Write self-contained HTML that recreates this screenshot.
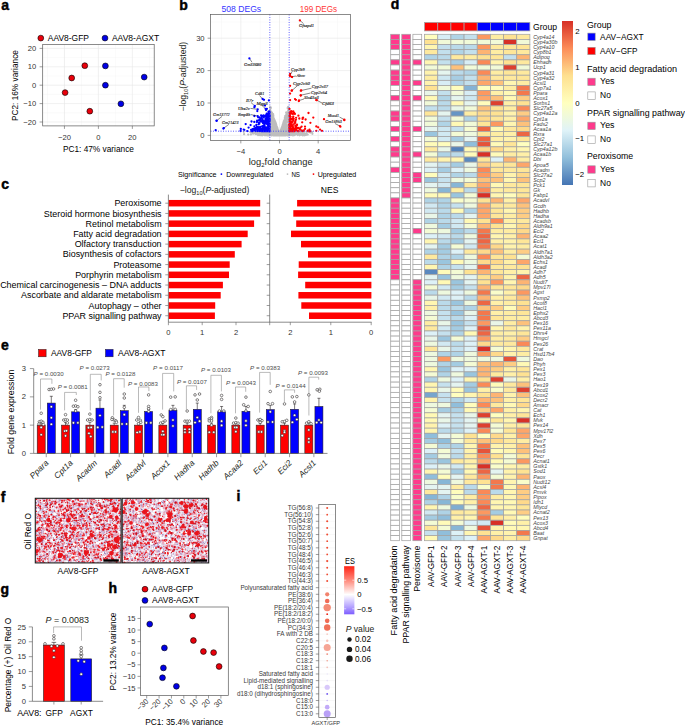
<!DOCTYPE html><html><head><meta charset="utf-8"><style>
html,body{margin:0;padding:0;background:#fff;width:685px;height:727px;overflow:hidden}
svg{display:block}
text{font-family:"Liberation Sans",sans-serif}
</style></head><body>
<svg width="685" height="727" viewBox="0 0 685 727">
<text x="1.20" y="9.60" font-size="14" font-weight="bold" fill="#000" stroke="#000" stroke-width="0.45">a</text>
<circle cx="40.80" cy="38.10" r="2.90" fill="#e8000b" stroke="#000" stroke-width="0.6"/>
<text x="47.80" y="41.00" font-size="8.3" textLength="41.20" lengthAdjust="spacingAndGlyphs">AAV8-GFP</text>
<circle cx="105.00" cy="38.10" r="2.90" fill="#0000e6" stroke="#000" stroke-width="0.6"/>
<text x="111.90" y="41.00" font-size="8.3" textLength="47.30" lengthAdjust="spacingAndGlyphs">AAV8-AGXT</text>
<line x1="47.48" y1="44.60" x2="47.48" y2="125.90" stroke="#f2f2f2" stroke-width="0.4"/>
<line x1="81.43" y1="44.60" x2="81.43" y2="125.90" stroke="#f2f2f2" stroke-width="0.4"/>
<line x1="115.38" y1="44.60" x2="115.38" y2="125.90" stroke="#f2f2f2" stroke-width="0.4"/>
<line x1="149.32" y1="44.60" x2="149.32" y2="125.90" stroke="#f2f2f2" stroke-width="0.4"/>
<line x1="42.70" y1="57.60" x2="154.20" y2="57.60" stroke="#f2f2f2" stroke-width="0.4"/>
<line x1="42.70" y1="76.00" x2="154.20" y2="76.00" stroke="#f2f2f2" stroke-width="0.4"/>
<line x1="42.70" y1="94.40" x2="154.20" y2="94.40" stroke="#f2f2f2" stroke-width="0.4"/>
<line x1="42.70" y1="112.80" x2="154.20" y2="112.80" stroke="#f2f2f2" stroke-width="0.4"/>
<line x1="64.45" y1="44.60" x2="64.45" y2="125.90" stroke="#e6e6e6" stroke-width="0.6"/>
<line x1="98.40" y1="44.60" x2="98.40" y2="125.90" stroke="#e6e6e6" stroke-width="0.6"/>
<line x1="132.35" y1="44.60" x2="132.35" y2="125.90" stroke="#e6e6e6" stroke-width="0.6"/>
<line x1="42.70" y1="48.40" x2="154.20" y2="48.40" stroke="#e6e6e6" stroke-width="0.6"/>
<line x1="42.70" y1="66.80" x2="154.20" y2="66.80" stroke="#e6e6e6" stroke-width="0.6"/>
<line x1="42.70" y1="85.20" x2="154.20" y2="85.20" stroke="#e6e6e6" stroke-width="0.6"/>
<line x1="42.70" y1="103.60" x2="154.20" y2="103.60" stroke="#e6e6e6" stroke-width="0.6"/>
<line x1="42.70" y1="122.00" x2="154.20" y2="122.00" stroke="#e6e6e6" stroke-width="0.6"/>
<rect x="42.70" y="44.60" width="111.50" height="81.30" fill="none" stroke="#5a5a5a" stroke-width="0.7"/>
<line x1="39.60" y1="48.40" x2="42.70" y2="48.40" stroke="#5a5a5a" stroke-width="0.6"/>
<text x="36.20" y="51.00" font-size="7.6" text-anchor="end" fill="#333">20</text>
<line x1="39.60" y1="66.80" x2="42.70" y2="66.80" stroke="#5a5a5a" stroke-width="0.6"/>
<text x="36.20" y="69.40" font-size="7.6" text-anchor="end" fill="#333">10</text>
<line x1="39.60" y1="85.20" x2="42.70" y2="85.20" stroke="#5a5a5a" stroke-width="0.6"/>
<text x="36.20" y="87.80" font-size="7.6" text-anchor="end" fill="#333">0</text>
<line x1="39.60" y1="103.60" x2="42.70" y2="103.60" stroke="#5a5a5a" stroke-width="0.6"/>
<text x="36.20" y="106.20" font-size="7.6" text-anchor="end" fill="#333">−10</text>
<line x1="39.60" y1="122.00" x2="42.70" y2="122.00" stroke="#5a5a5a" stroke-width="0.6"/>
<text x="36.20" y="124.60" font-size="7.6" text-anchor="end" fill="#333">−20</text>
<line x1="64.45" y1="125.90" x2="64.45" y2="128.90" stroke="#5a5a5a" stroke-width="0.6"/>
<text x="64.45" y="139.90" font-size="7.6" text-anchor="middle" fill="#333">−20</text>
<line x1="98.40" y1="125.90" x2="98.40" y2="128.90" stroke="#5a5a5a" stroke-width="0.6"/>
<text x="98.40" y="139.90" font-size="7.6" text-anchor="middle" fill="#333">0</text>
<line x1="132.35" y1="125.90" x2="132.35" y2="128.90" stroke="#5a5a5a" stroke-width="0.6"/>
<text x="132.35" y="139.90" font-size="7.6" text-anchor="middle" fill="#333">20</text>
<text x="98.40" y="151.60" font-size="8.3" text-anchor="middle">PC1: 47% variance</text>
<text x="18.00" y="85.60" font-size="8.3" text-anchor="middle" transform="rotate(-90 18.00 85.60)">PC2: 16% variance</text>
<circle cx="84.80" cy="65.70" r="2.90" fill="#e8000b" stroke="#000" stroke-width="0.6"/>
<circle cx="71.70" cy="78.00" r="2.90" fill="#e8000b" stroke="#000" stroke-width="0.6"/>
<circle cx="65.10" cy="92.60" r="2.90" fill="#e8000b" stroke="#000" stroke-width="0.6"/>
<circle cx="89.80" cy="111.20" r="2.90" fill="#e8000b" stroke="#000" stroke-width="0.6"/>
<circle cx="105.40" cy="65.90" r="2.90" fill="#0000e6" stroke="#000" stroke-width="0.6"/>
<circle cx="105.40" cy="85.20" r="2.90" fill="#0000e6" stroke="#000" stroke-width="0.6"/>
<circle cx="120.90" cy="103.80" r="2.90" fill="#0000e6" stroke="#000" stroke-width="0.6"/>
<circle cx="144.20" cy="77.10" r="2.90" fill="#0000e6" stroke="#000" stroke-width="0.6"/>
<text x="179.30" y="9.60" font-size="14" font-weight="bold" fill="#000" stroke="#000" stroke-width="0.45">b</text>
<text x="221.40" y="12.20" font-size="8.6" fill="#3535ff" textLength="39.80" lengthAdjust="spacingAndGlyphs">508 DEGs</text>
<text x="299.80" y="12.20" font-size="8.6" fill="#ff3535" textLength="37.30" lengthAdjust="spacingAndGlyphs">199 DEGs</text>
<line x1="221.48" y1="14.50" x2="221.48" y2="140.40" stroke="#f2f2f2" stroke-width="0.4"/>
<line x1="260.16" y1="14.50" x2="260.16" y2="140.40" stroke="#f2f2f2" stroke-width="0.4"/>
<line x1="298.84" y1="14.50" x2="298.84" y2="140.40" stroke="#f2f2f2" stroke-width="0.4"/>
<line x1="337.52" y1="14.50" x2="337.52" y2="140.40" stroke="#f2f2f2" stroke-width="0.4"/>
<line x1="210.60" y1="119.20" x2="350.60" y2="119.20" stroke="#f2f2f2" stroke-width="0.4"/>
<line x1="210.60" y1="86.80" x2="350.60" y2="86.80" stroke="#f2f2f2" stroke-width="0.4"/>
<line x1="210.60" y1="54.40" x2="350.60" y2="54.40" stroke="#f2f2f2" stroke-width="0.4"/>
<line x1="210.60" y1="22.00" x2="350.60" y2="22.00" stroke="#f2f2f2" stroke-width="0.4"/>
<line x1="240.82" y1="14.50" x2="240.82" y2="140.40" stroke="#e6e6e6" stroke-width="0.6"/>
<line x1="279.50" y1="14.50" x2="279.50" y2="140.40" stroke="#e6e6e6" stroke-width="0.6"/>
<line x1="318.18" y1="14.50" x2="318.18" y2="140.40" stroke="#e6e6e6" stroke-width="0.6"/>
<line x1="210.60" y1="135.40" x2="350.60" y2="135.40" stroke="#e6e6e6" stroke-width="0.6"/>
<line x1="210.60" y1="103.00" x2="350.60" y2="103.00" stroke="#e6e6e6" stroke-width="0.6"/>
<line x1="210.60" y1="70.60" x2="350.60" y2="70.60" stroke="#e6e6e6" stroke-width="0.6"/>
<line x1="210.60" y1="38.20" x2="350.60" y2="38.20" stroke="#e6e6e6" stroke-width="0.6"/>
<path d="M278.3 132.7h0M282.0 135.2h0M275.0 135.2h0M278.5 133.7h0M284.5 135.1h0M280.7 135.3h0M271.4 134.2h0M283.6 134.0h0M271.3 122.8h0M271.1 128.2h0M281.0 130.9h0M279.3 134.9h0M281.0 134.4h0M281.4 130.4h0M282.2 130.8h0M285.3 131.0h0M277.8 135.3h0M279.0 135.1h0M277.3 134.1h0M274.9 128.6h0M275.6 126.4h0M280.7 132.5h0M279.7 134.2h0M285.8 117.9h0M279.0 131.9h0M275.5 134.9h0M272.4 134.0h0M283.5 130.9h0M286.5 119.5h0M281.3 132.6h0M282.5 129.7h0M276.5 130.9h0M274.8 123.6h0M276.9 127.5h0M272.5 135.0h0M280.7 132.5h0M270.3 113.9h0M273.3 130.4h0M279.0 134.3h0M278.6 135.1h0M280.7 131.9h0M280.6 135.2h0M279.6 133.0h0M284.3 135.0h0M273.7 119.3h0M281.4 130.3h0M282.1 133.1h0M276.6 133.3h0M288.6 133.7h0M271.4 133.3h0M279.9 134.2h0M283.0 130.2h0M279.5 134.6h0M279.9 134.6h0M271.3 124.8h0M274.7 127.7h0M278.8 132.0h0M278.1 131.5h0M285.6 130.4h0M273.4 130.2h0M285.0 135.1h0M283.7 135.2h0M280.2 134.6h0M282.3 135.3h0M282.3 135.1h0M279.5 134.8h0M287.3 133.8h0M281.1 134.6h0M276.9 135.0h0M283.3 125.8h0M284.9 129.4h0M279.3 135.3h0M283.0 133.8h0M282.2 128.7h0M280.1 132.0h0M280.4 133.7h0M283.2 135.3h0M284.3 129.3h0M289.1 118.6h0M278.2 134.7h0M277.5 130.7h0M281.7 132.5h0M280.3 135.0h0M275.2 125.2h0M288.9 114.5h0M278.6 132.2h0M279.3 134.2h0M276.0 133.0h0M280.6 134.7h0M279.7 135.0h0M275.2 131.2h0M270.1 107.1h0M283.9 133.9h0M278.2 134.8h0M280.6 133.1h0M282.6 126.7h0M282.5 130.2h0M274.8 124.5h0M285.6 117.5h0M283.1 127.2h0M279.5 135.2h0M274.0 122.5h0M275.2 121.9h0M287.0 128.9h0M270.0 117.6h0M286.3 133.8h0M281.4 129.5h0M281.5 130.3h0M285.0 117.7h0M286.7 122.2h0M275.9 134.8h0M284.4 135.4h0M286.4 126.4h0M278.2 130.7h0M270.5 113.7h0M283.5 134.1h0M279.5 135.1h0M283.5 129.5h0M279.2 135.2h0M284.5 121.0h0M276.3 130.6h0M283.8 123.4h0M270.0 125.2h0M284.7 128.8h0M278.6 134.1h0M279.4 135.2h0M288.2 133.3h0M279.7 134.4h0M278.5 134.6h0M273.4 127.8h0M271.5 134.4h0M276.6 131.4h0M279.5 133.4h0M283.4 130.8h0M271.9 112.6h0M276.4 132.4h0M275.1 130.2h0M275.8 128.4h0M273.8 129.1h0M281.3 129.5h0M276.4 126.1h0M270.1 131.6h0M270.6 133.9h0M275.3 134.8h0M277.7 134.6h0M280.2 135.3h0M275.4 124.0h0M272.1 133.8h0M278.0 135.1h0M272.6 115.7h0M282.8 125.2h0M278.8 134.4h0M270.6 133.5h0M280.7 134.0h0M275.1 134.2h0M279.1 134.8h0M279.3 134.1h0M278.6 134.1h0M283.8 128.4h0M280.0 134.1h0M288.1 107.8h0M285.0 134.8h0M279.4 133.3h0M280.9 134.6h0M283.0 125.5h0M283.2 126.5h0M279.4 132.7h0M282.2 131.5h0M278.9 135.3h0M277.5 131.4h0M277.8 129.8h0M280.3 133.2h0M280.1 132.3h0M277.6 135.3h0M283.0 133.2h0M275.5 130.0h0M282.9 134.9h0M277.8 133.0h0M279.7 135.2h0M281.8 135.3h0M280.7 134.5h0M283.5 126.8h0M278.1 135.0h0M285.0 131.7h0M283.1 135.4h0M279.9 133.2h0M276.5 132.2h0M278.5 131.3h0M286.5 128.6h0M285.0 129.0h0M281.9 132.4h0M275.3 127.6h0M283.9 124.4h0M279.0 133.3h0M276.3 133.2h0M275.8 135.2h0M280.8 132.1h0M280.8 134.7h0M280.6 131.8h0M281.2 130.2h0M277.6 134.6h0M276.0 133.6h0M276.8 132.7h0M280.2 134.9h0M287.0 132.3h0M276.4 125.8h0M277.8 135.4h0M283.7 132.1h0M273.9 133.7h0M280.4 133.8h0M283.3 135.1h0M279.6 134.6h0M280.5 134.6h0M279.8 135.0h0M274.4 124.4h0M276.5 130.1h0M277.4 133.6h0M273.1 114.2h0M284.1 127.6h0M285.8 135.2h0M284.7 126.8h0M270.7 117.3h0M280.5 133.7h0M277.1 132.4h0M283.9 124.5h0M272.0 123.8h0M285.2 124.4h0M274.9 133.7h0M282.0 133.6h0M280.0 135.3h0M282.7 130.2h0M274.2 126.7h0M277.1 135.4h0M274.4 123.4h0M279.4 134.2h0M273.8 125.2h0M286.7 132.3h0M282.7 135.2h0M278.7 135.0h0M287.3 118.2h0M285.1 131.0h0M278.6 134.0h0M276.2 130.1h0M272.0 121.9h0M281.9 134.4h0M280.8 132.1h0M277.4 135.4h0M285.4 135.1h0M278.7 132.9h0M286.7 121.7h0M278.0 133.6h0M285.1 129.4h0M287.0 133.1h0M286.4 112.5h0M280.3 134.1h0M279.1 132.9h0M284.7 133.0h0M278.4 134.9h0M282.6 130.8h0M278.4 135.1h0M274.0 121.9h0M277.7 133.0h0M285.2 133.3h0M274.6 121.6h0M278.4 135.4h0M279.6 134.4h0M275.6 134.7h0M280.7 134.4h0M275.8 135.4h0M288.0 116.6h0M280.8 130.7h0M277.4 131.0h0M282.8 133.0h0M277.2 133.4h0M285.9 130.7h0M279.5 134.6h0M279.3 135.3h0M281.0 131.0h0M277.0 134.3h0M285.6 127.9h0M281.2 129.5h0M283.8 123.6h0M282.1 127.8h0M273.2 115.9h0M272.2 135.1h0M277.2 130.4h0M271.8 121.6h0M282.0 134.1h0M285.0 129.5h0M282.8 133.2h0M277.2 127.7h0M287.1 131.9h0M277.2 132.2h0M276.1 132.6h0M280.9 134.9h0M282.0 128.1h0M276.1 125.8h0M279.6 132.5h0M277.0 134.7h0M280.3 135.3h0M278.3 134.8h0M281.3 134.6h0M270.3 116.7h0M275.2 131.7h0M274.4 131.5h0M282.5 133.4h0M283.1 124.2h0M281.0 135.1h0M272.7 116.8h0M279.4 135.1h0M279.0 134.5h0M283.1 131.9h0M288.5 111.9h0M276.8 135.4h0M286.9 113.6h0M281.0 133.5h0M279.4 134.7h0M279.5 132.8h0M283.8 121.7h0M271.0 131.8h0M281.7 132.6h0M281.3 131.8h0M286.7 122.5h0M276.7 129.2h0M273.6 135.2h0M281.1 131.2h0M280.7 132.8h0M285.8 134.4h0M279.4 133.7h0M286.4 134.5h0M284.8 127.5h0M282.0 133.3h0M280.6 135.4h0M286.0 131.8h0M271.5 112.4h0M282.5 132.2h0M279.8 132.3h0M283.1 128.4h0M279.1 134.2h0M280.4 132.9h0M276.2 129.6h0M281.3 129.6h0M279.7 134.8h0M280.8 134.0h0M278.2 131.6h0M276.6 129.2h0M276.2 125.1h0M279.4 134.9h0M281.0 134.8h0M276.3 128.5h0M276.2 131.6h0M285.2 133.4h0M273.3 116.1h0M283.1 134.7h0M276.9 126.9h0M281.6 135.0h0M281.1 133.9h0M280.0 132.3h0M285.3 115.9h0M274.3 119.8h0M278.0 130.2h0M282.2 129.5h0M286.5 129.8h0M280.9 134.1h0M278.1 135.4h0M282.1 134.1h0M272.3 134.3h0M289.0 132.7h0M273.9 121.6h0M286.5 128.5h0M284.7 131.5h0M281.2 130.0h0M281.1 130.3h0M283.8 135.3h0M272.0 118.0h0M284.2 135.3h0M281.2 129.9h0M279.9 135.0h0M279.3 134.8h0M273.3 116.0h0M276.7 129.8h0M277.0 133.9h0M279.4 133.5h0M279.9 132.4h0M271.8 135.3h0M270.9 132.1h0M270.1 128.5h0M281.4 134.6h0M274.4 120.3h0M281.9 134.8h0M282.1 129.0h0M272.0 117.8h0M276.1 133.4h0M276.8 133.4h0M279.9 135.1h0M277.6 130.9h0M279.5 135.4h0M281.3 132.8h0M273.3 118.0h0M289.1 131.5h0M281.4 133.0h0M280.6 132.5h0M276.2 132.5h0M280.7 133.0h0M275.8 126.0h0M272.4 122.1h0M286.2 131.8h0M285.9 126.2h0M274.0 133.8h0M285.2 133.1h0M279.6 132.9h0M282.3 131.3h0M277.3 127.8h0M283.8 130.3h0M280.5 132.9h0M288.2 107.0h0M283.9 124.7h0M282.8 127.1h0M280.7 134.6h0M278.8 135.2h0M284.3 128.3h0M288.8 128.9h0M283.0 133.9h0M275.6 126.6h0M281.7 132.0h0M278.7 133.4h0M280.4 135.2h0M284.0 134.0h0M279.3 133.8h0M286.0 133.4h0M283.8 127.5h0M279.8 135.1h0M278.3 131.8h0M282.5 131.4h0M281.6 133.6h0M280.4 133.6h0M278.1 135.0h0M277.9 131.9h0M276.2 133.5h0M281.6 128.5h0M277.1 133.7h0M285.3 130.2h0M286.1 133.4h0M271.1 132.7h0M286.4 117.9h0M279.9 134.5h0M283.5 134.5h0M275.9 135.4h0M272.9 116.1h0M277.3 135.2h0M276.2 131.5h0M276.3 134.8h0M278.3 130.9h0M285.2 134.7h0M270.8 108.0h0M280.0 135.1h0M287.6 108.1h0M287.8 125.7h0M286.2 115.8h0M283.1 129.6h0M280.8 131.7h0M277.0 134.5h0M271.8 115.2h0M284.8 134.0h0M280.5 133.7h0M284.3 131.7h0M282.1 130.0h0M282.0 128.1h0M285.5 122.1h0M281.1 135.4h0M280.8 133.0h0M277.4 132.5h0M276.6 132.8h0M276.5 131.0h0M273.2 129.0h0M282.7 132.4h0M286.1 127.7h0M280.5 134.9h0M280.2 134.2h0M271.1 133.2h0M277.2 135.0h0M279.9 134.4h0M283.9 130.2h0M282.3 135.3h0M278.2 132.1h0M278.0 131.4h0M277.9 133.2h0M279.4 134.7h0M282.0 128.7h0M278.7 131.3h0M278.5 135.0h0M270.7 107.4h0M270.2 133.5h0M280.1 132.7h0M281.1 134.1h0M278.7 132.7h0M285.1 132.7h0M288.2 114.2h0M283.0 125.2h0M284.0 134.0h0M279.0 134.8h0M285.2 135.3h0M280.7 130.9h0M282.1 130.5h0M281.8 129.9h0M277.7 135.1h0M272.8 130.4h0M278.2 131.1h0M273.5 118.7h0M277.3 135.1h0M286.3 129.7h0M279.2 133.1h0M278.1 133.0h0M286.1 120.5h0M276.7 129.4h0M280.6 135.3h0M281.1 132.4h0M276.2 124.7h0M273.4 131.8h0M275.8 135.4h0M282.2 131.1h0M280.1 134.3h0M274.0 133.4h0M278.7 133.2h0M279.8 134.7h0M279.5 135.3h0M277.4 132.1h0M282.2 131.3h0M281.4 133.2h0M286.0 134.3h0M282.8 134.8h0M278.1 135.2h0M273.2 120.6h0M272.0 128.8h0M279.4 133.9h0M280.2 133.7h0M275.4 131.4h0M285.1 118.4h0M279.1 132.5h0M275.9 135.3h0M274.7 133.6h0M278.5 135.3h0M279.6 134.2h0M278.8 131.7h0M281.5 132.0h0M282.0 132.3h0M273.9 134.0h0M272.6 131.4h0M279.0 132.4h0M280.9 131.5h0M279.4 133.1h0M279.0 133.0h0M271.7 127.2h0M281.2 134.7h0M282.3 135.3h0M281.7 133.9h0M279.5 133.1h0M272.0 119.9h0M278.9 134.3h0M285.6 121.0h0M275.7 129.1h0M278.9 131.9h0M281.6 135.4h0M285.6 133.1h0M279.1 133.1h0M273.1 117.5h0M277.8 130.0h0M282.6 130.2h0M277.0 127.2h0M272.8 128.1h0M283.5 125.0h0M273.2 129.2h0M278.5 134.6h0M273.3 133.4h0M278.1 130.6h0M278.1 135.1h0M281.8 128.4h0M279.9 134.7h0M280.2 135.4h0M280.4 132.9h0M274.5 125.0h0M273.9 135.1h0M275.6 126.0h0M277.0 129.2h0M280.9 131.0h0M278.4 131.1h0M281.7 134.7h0M278.7 135.2h0M288.7 114.3h0M281.5 131.8h0M282.6 133.8h0M273.4 134.8h0M286.1 133.3h0M284.2 132.6h0M278.6 134.8h0M280.0 134.9h0M278.5 134.6h0M275.0 121.3h0M270.1 121.4h0M279.3 135.4h0M275.1 125.5h0M282.2 133.6h0M277.8 134.8h0M273.7 120.0h0M287.0 133.6h0M284.3 135.4h0M281.9 127.4h0M287.3 135.4h0M273.9 122.1h0M279.8 135.1h0M275.0 124.3h0M279.7 135.0h0M283.2 134.2h0M278.1 132.2h0M277.2 131.4h0M279.5 135.3h0M281.3 130.9h0M272.2 123.0h0M276.5 132.9h0M283.4 124.8h0M288.2 135.3h0M284.7 133.8h0M278.6 133.9h0M286.2 116.6h0M280.1 134.0h0M284.8 123.8h0M279.6 134.8h0M272.5 131.0h0M284.7 126.1h0M287.2 118.3h0M282.0 129.6h0M284.0 128.8h0M283.3 125.1h0M283.3 133.9h0M281.0 132.0h0M283.3 125.7h0M281.1 134.7h0M281.8 133.9h0M276.7 133.6h0M279.1 135.1h0M287.2 134.5h0M278.3 130.6h0M283.3 123.2h0M282.3 128.7h0M279.0 135.1h0M274.4 126.7h0M282.1 133.3h0M281.5 135.4h0M272.6 121.8h0M284.6 129.5h0M275.9 134.8h0M275.5 129.3h0M272.9 116.1h0M284.0 131.3h0M272.3 128.7h0M275.9 134.1h0M277.8 131.1h0M271.3 112.7h0M276.5 132.4h0M273.2 131.7h0M278.0 133.8h0M277.9 131.3h0M277.9 134.7h0M272.9 129.2h0M273.0 129.7h0M281.4 131.7h0M282.3 130.5h0M278.2 131.8h0M275.2 121.9h0M283.1 135.3h0M276.7 129.1h0M278.7 131.7h0M277.3 132.1h0M279.2 134.1h0M278.3 132.8h0M273.8 121.1h0M274.6 120.4h0M278.8 135.0h0M277.6 130.8h0M275.1 134.8h0M284.0 135.2h0M279.1 134.9h0M278.9 134.4h0M280.0 134.4h0M278.1 134.6h0M275.2 133.9h0M278.9 133.9h0M273.6 121.2h0M276.9 135.0h0M281.6 130.4h0M282.0 132.7h0M273.1 126.3h0M281.4 134.0h0M287.4 114.9h0M281.7 134.2h0M274.5 128.7h0M286.0 130.8h0M286.0 118.2h0M279.0 134.9h0M284.2 131.1h0M279.6 133.5h0M279.8 134.9h0M279.6 134.4h0M283.6 131.6h0M274.9 132.1h0M274.1 119.4h0M280.5 131.9h0M278.2 130.8h0M280.1 132.6h0M276.9 131.0h0M280.2 131.7h0M279.6 133.8h0M279.5 135.2h0M281.7 134.5h0M280.2 135.2h0M275.1 123.0h0M280.3 132.0h0M276.7 130.9h0M280.9 130.7h0M272.5 118.5h0M281.2 131.8h0M276.8 131.9h0M279.2 132.7h0M274.3 128.3h0M279.2 135.2h0M283.0 131.4h0M284.6 134.5h0M281.4 133.0h0M273.5 119.2h0M279.6 135.4h0M282.4 131.3h0M274.9 127.3h0M282.0 133.1h0M275.6 123.2h0M285.6 124.9h0M282.6 135.4h0M273.8 118.5h0M274.8 132.5h0M285.2 128.9h0M278.8 132.1h0M287.0 122.5h0M281.1 134.2h0M282.5 132.2h0M276.0 131.0h0M279.9 134.4h0M276.2 132.4h0M271.0 130.8h0M276.5 127.9h0M274.8 133.2h0M282.8 131.5h0M286.5 118.6h0M278.4 134.5h0M277.8 132.6h0M283.2 129.2h0M279.8 133.4h0M278.1 130.9h0M278.0 134.5h0M279.1 135.4h0M283.5 129.2h0M287.5 115.8h0M285.1 126.3h0M275.9 129.6h0M277.3 131.2h0M273.4 133.4h0M276.8 129.5h0M274.9 134.9h0M280.1 132.9h0M280.7 131.0h0M276.9 128.9h0M275.7 126.6h0M276.0 133.5h0M278.1 133.9h0M277.4 131.6h0M284.2 121.6h0M285.4 135.2h0M281.6 135.1h0M281.8 128.4h0M273.6 129.5h0M284.3 128.3h0M279.9 132.3h0M285.0 130.6h0M278.8 135.3h0M277.4 135.0h0M276.9 135.4h0M286.8 134.3h0M279.7 132.4h0M287.8 134.1h0M284.6 135.4h0M278.8 132.9h0M276.0 134.5h0M287.4 118.7h0M282.1 128.5h0M279.2 133.8h0M277.5 131.2h0M273.4 116.1h0M282.3 129.8h0M280.3 133.2h0M279.6 133.2h0M283.2 127.9h0M281.5 134.9h0M283.1 135.2h0M275.2 132.3h0M274.9 126.9h0M277.1 135.0h0M280.8 132.6h0M275.1 128.2h0M275.3 125.9h0M281.9 128.0h0M280.8 134.5h0M273.4 135.1h0M286.9 116.1h0M278.3 134.4h0M270.6 122.0h0M271.3 130.5h0M270.4 128.7h0M283.9 127.2h0M271.2 114.5h0M273.4 132.3h0M283.3 132.0h0M279.5 134.1h0M283.6 135.3h0M270.3 113.5h0M283.2 130.2h0M270.5 131.3h0M284.7 125.6h0M272.4 114.3h0M278.3 133.4h0M281.2 131.0h0M282.0 127.9h0M287.2 132.4h0M273.8 129.4h0M275.0 134.0h0M279.3 133.2h0M287.6 126.6h0M287.0 117.9h0M284.1 133.7h0M270.5 111.4h0M274.6 129.3h0M273.1 133.6h0M280.4 135.0h0M282.7 133.1h0M286.3 125.6h0M274.7 134.5h0M282.9 135.3h0M284.2 134.9h0M279.4 133.9h0M280.2 133.6h0M276.8 133.6h0M278.5 135.4h0M279.4 132.4h0M283.2 130.2h0M275.3 133.6h0M280.4 131.3h0M274.5 124.3h0M284.7 133.2h0M274.5 133.9h0M280.4 135.4h0M281.3 132.7h0M283.2 124.3h0M275.6 124.4h0M285.5 130.4h0M282.1 135.0h0M283.1 130.4h0M278.6 133.1h0M286.4 129.6h0M277.6 133.3h0M286.2 112.7h0M285.4 135.2h0M279.3 132.8h0M284.0 122.7h0M280.3 132.5h0M278.2 132.3h0M271.0 135.0h0M274.0 123.3h0M286.2 131.6h0M276.8 131.3h0M279.6 134.8h0M277.2 134.4h0M283.4 134.5h0M283.4 133.9h0M284.0 135.4h0M285.2 123.9h0M279.9 132.3h0M280.7 134.9h0M288.4 111.2h0M275.6 134.7h0M277.4 128.9h0M280.2 132.3h0M275.8 133.0h0M275.7 126.0h0M272.8 134.2h0M280.5 134.9h0M286.7 125.3h0M282.2 134.9h0M282.1 133.1h0M276.7 134.8h0M278.3 134.4h0M288.7 133.4h0M275.3 123.5h0M279.7 135.3h0M281.1 130.2h0M279.3 133.7h0M280.8 134.6h0M284.8 133.1h0M280.9 130.0h0M283.9 121.1h0M281.5 134.3h0M278.5 131.5h0M286.8 131.4h0M282.3 126.5h0M288.2 129.7h0M280.4 135.2h0M288.6 124.4h0M279.6 135.2h0M273.6 126.9h0M283.7 134.7h0M283.0 128.5h0M287.0 133.1h0M281.3 132.3h0M280.5 133.8h0M279.0 133.7h0M282.7 129.0h0M281.9 134.7h0M273.6 135.1h0M279.0 133.2h0M274.6 135.2h0M281.1 130.7h0M275.4 124.7h0M278.6 131.7h0M279.5 134.4h0M282.1 134.7h0M276.8 128.5h0M277.6 133.8h0M281.6 132.0h0M285.4 129.6h0M279.7 134.3h0M285.1 121.8h0M284.8 121.3h0M276.2 132.9h0M286.4 120.1h0M288.6 108.5h0M283.2 131.2h0M273.6 127.6h0M279.0 135.4h0M282.9 134.5h0M278.8 135.3h0M279.5 135.4h0M288.4 134.5h0M278.5 135.4h0M276.5 130.8h0M274.3 125.2h0M276.8 135.1h0M284.7 135.2h0M273.9 134.6h0M273.8 132.6h0M279.7 135.3h0M277.3 132.0h0M281.0 130.9h0M283.3 127.4h0M284.5 134.3h0M284.7 131.2h0M272.6 117.4h0M274.7 121.0h0M278.7 132.6h0M277.6 134.1h0M282.5 132.5h0M288.2 110.3h0M278.5 132.0h0M280.4 133.8h0M278.2 130.4h0M282.9 132.4h0M278.0 132.5h0M275.6 135.2h0M284.0 131.2h0M278.5 135.2h0M279.5 132.6h0M281.4 132.0h0M270.8 111.4h0M280.5 133.1h0M278.7 134.8h0M277.8 132.9h0M276.0 125.3h0M276.8 132.1h0M277.0 133.0h0M283.3 133.3h0M278.3 132.8h0M284.2 120.9h0M284.0 130.0h0M278.9 133.9h0M284.9 134.4h0M281.3 134.4h0M281.3 133.7h0M278.6 135.3h0M283.0 130.8h0M283.0 130.4h0M273.9 125.6h0M281.8 132.9h0M286.8 125.3h0M275.4 133.1h0M276.0 134.0h0M280.5 134.3h0M285.2 126.9h0M284.0 123.6h0M279.8 135.0h0M274.2 132.7h0M277.5 128.6h0M277.2 134.9h0M287.5 134.9h0M283.1 135.2h0M275.7 132.4h0M272.2 134.5h0M282.4 134.4h0M287.2 133.8h0M277.5 134.0h0M275.1 128.5h0M285.3 120.2h0M282.0 130.0h0M274.2 124.2h0M279.8 133.1h0M274.0 124.5h0M281.7 129.3h0M278.2 135.4h0M280.1 134.1h0M273.1 115.0h0M275.0 125.1h0M277.3 129.2h0M275.8 131.7h0M276.6 132.4h0M278.8 134.4h0M275.5 130.0h0M276.3 128.1h0M282.3 128.0h0M274.3 134.0h0M279.5 134.9h0M283.4 129.8h0M284.5 135.0h0M283.3 125.9h0M277.4 129.9h0M282.7 132.5h0M278.7 131.7h0M281.0 133.0h0M279.6 134.3h0M286.8 125.5h0M275.5 122.4h0M273.7 124.4h0M278.9 134.5h0M275.4 132.6h0M284.6 120.0h0M276.9 135.1h0M274.2 131.4h0M274.5 128.2h0M283.1 125.6h0M284.9 130.1h0M278.3 132.9h0M283.9 129.8h0M279.4 133.2h0M281.5 128.5h0M283.2 126.3h0M277.2 128.7h0M279.3 133.6h0M285.8 117.6h0M272.6 133.9h0M278.1 133.4h0M285.1 133.9h0M282.3 131.0h0M285.7 131.0h0M286.4 135.2h0M279.2 134.5h0M280.5 132.8h0M275.5 135.4h0M276.4 130.8h0M288.3 119.7h0M281.4 132.6h0M284.9 133.0h0M275.9 123.7h0M274.8 128.6h0M277.4 134.9h0M280.8 131.9h0M281.2 135.0h0M280.9 133.3h0M282.5 128.3h0M273.5 135.1h0M287.8 130.1h0M280.2 133.1h0M277.7 134.5h0M281.8 135.1h0M284.8 131.8h0M275.9 131.8h0M278.3 131.1h0M280.6 133.3h0M284.5 127.3h0M278.2 134.7h0M288.5 130.3h0M282.5 126.8h0M281.2 132.5h0M275.7 123.8h0M273.5 130.5h0M279.8 133.4h0M280.2 132.1h0M283.6 130.9h0M280.5 135.1h0M276.0 133.0h0M284.5 132.8h0M287.1 134.4h0M274.8 131.5h0M278.5 135.3h0M286.0 130.8h0M285.8 132.8h0M280.9 134.8h0M283.2 135.3h0M277.2 134.9h0M275.7 128.0h0M282.7 127.4h0M281.6 135.1h0M270.9 114.6h0M282.7 134.7h0M274.8 131.9h0M285.7 115.9h0M282.6 131.7h0M285.4 129.3h0M284.6 133.1h0M285.0 119.6h0M275.6 133.8h0M277.1 131.5h0M281.8 135.1h0M289.0 124.8h0M275.8 127.2h0M278.5 134.3h0M276.1 133.4h0M274.3 131.2h0M282.1 128.6h0M281.1 134.3h0M278.3 133.3h0M277.5 133.9h0M275.4 135.2h0M279.5 134.9h0M279.9 133.4h0M282.0 134.1h0M270.8 115.7h0M285.5 118.6h0M281.2 134.5h0M277.5 135.4h0M276.4 133.3h0M273.0 129.6h0M275.4 133.8h0M273.2 118.8h0M275.4 134.4h0M285.0 134.7h0M286.2 121.7h0M275.4 135.3h0M282.3 134.6h0M280.2 134.7h0M278.5 134.6h0M280.4 133.1h0M283.5 129.8h0M287.9 117.9h0M279.3 133.7h0M284.7 131.9h0M288.7 115.7h0M279.6 134.9h0M288.6 121.7h0M282.0 135.3h0M279.6 133.3h0M281.8 134.6h0M286.4 134.8h0M275.4 127.6h0M273.2 119.4h0M284.5 133.0h0M286.4 114.3h0M285.8 123.3h0M278.8 133.5h0M270.4 126.6h0M286.6 128.6h0M282.0 132.3h0M281.8 130.2h0M278.4 135.4h0M276.9 134.3h0M271.1 123.8h0M286.3 126.2h0M278.2 134.7h0M283.7 131.7h0M281.2 134.8h0M278.5 132.7h0M281.9 130.9h0M279.8 134.2h0M283.1 131.9h0M283.6 133.2h0M277.7 130.1h0M283.4 132.9h0M284.3 123.7h0M271.7 133.5h0M277.1 130.9h0M275.1 125.8h0M276.4 127.6h0M282.5 133.3h0M282.1 134.6h0M283.1 134.4h0M281.0 132.1h0M277.3 134.0h0M280.3 134.1h0M277.6 135.3h0M281.7 135.4h0M287.5 134.7h0M279.1 133.3h0M285.7 134.7h0M278.7 134.0h0M276.6 131.6h0M280.8 135.4h0M285.6 125.2h0M276.1 125.4h0M277.4 134.5h0M276.5 134.9h0M287.7 113.2h0M280.9 134.5h0M282.2 128.4h0M285.8 116.3h0M283.7 125.1h0M286.9 119.1h0M278.1 131.2h0M282.2 133.7h0M275.4 132.4h0M284.0 124.2h0M279.6 134.1h0M280.9 132.7h0M282.7 126.3h0M272.7 113.9h0M273.8 134.2h0M279.7 134.9h0M277.8 131.8h0M278.5 135.1h0M274.2 135.3h0M284.0 131.1h0M282.3 135.4h0M286.7 116.3h0M284.7 130.6h0M272.8 132.0h0M276.4 132.6h0M274.6 132.2h0M272.9 118.5h0M282.2 127.7h0M281.6 133.3h0M283.0 130.6h0M277.7 135.2h0M282.1 133.8h0M270.3 112.2h0M282.7 125.4h0M286.0 119.2h0M277.9 135.3h0M276.5 133.8h0M273.6 126.8h0M284.8 126.3h0M277.9 134.4h0M273.9 135.3h0M287.9 133.0h0M277.2 135.2h0M274.8 127.0h0M275.1 131.5h0M284.1 129.6h0M275.0 134.8h0M277.6 134.9h0M284.2 134.8h0M275.6 125.2h0M279.5 134.3h0M281.7 134.5h0M273.4 133.2h0M279.9 133.9h0M283.9 128.9h0M283.3 135.1h0M277.9 133.7h0M280.5 131.7h0M272.2 118.9h0M277.1 135.1h0M287.2 134.5h0M279.0 132.7h0M277.2 128.0h0M281.4 132.6h0M279.9 133.0h0M276.9 135.3h0M279.9 135.4h0M284.2 128.4h0M280.4 132.7h0M283.5 131.8h0M284.7 121.5h0M275.2 129.4h0M288.0 133.4h0M274.7 125.1h0M275.0 127.2h0M286.4 117.7h0M282.9 128.4h0M282.8 125.5h0M279.2 133.9h0M278.1 135.2h0M271.2 134.3h0M276.9 127.6h0M277.8 134.9h0M276.2 132.2h0M282.9 135.0h0M274.1 135.3h0M286.2 133.6h0M285.1 127.8h0M277.7 133.8h0M286.6 134.1h0M283.8 127.4h0M275.3 125.3h0M280.3 134.6h0M279.2 135.2h0M270.8 135.2h0M279.4 135.2h0M282.5 132.9h0M272.9 128.0h0M284.6 131.3h0M287.3 113.2h0M278.0 134.3h0M278.3 134.9h0M284.6 135.2h0M275.5 134.5h0M276.0 130.4h0M283.7 132.1h0M279.2 133.9h0M279.9 134.7h0M284.8 118.1h0M280.2 135.4h0M283.9 133.4h0M285.2 132.7h0M275.7 130.1h0M279.5 134.3h0M284.5 128.5h0M275.5 126.5h0M285.3 125.6h0M273.5 125.2h0M276.9 129.3h0M282.5 127.4h0M286.3 131.5h0M276.8 129.3h0M279.1 133.7h0M273.7 131.4h0M274.8 135.2h0M278.0 134.3h0M273.1 128.2h0M286.1 132.7h0M279.9 135.2h0M284.0 135.4h0M283.2 131.8h0M275.7 130.0h0M278.5 135.3h0M282.3 133.9h0M276.7 131.6h0M286.8 112.7h0M273.6 126.6h0M288.7 134.7h0M282.3 126.4h0M285.2 131.3h0M280.3 132.1h0M274.4 135.1h0M273.3 132.7h0M280.5 135.4h0M281.5 131.3h0M282.8 134.3h0M276.9 131.3h0M281.4 129.9h0M277.6 131.1h0M276.9 127.2h0M277.9 131.1h0M278.3 131.3h0M278.1 134.9h0M281.7 132.4h0M284.4 121.1h0M274.6 133.8h0M275.8 129.0h0M286.6 129.1h0M277.6 135.3h0M275.5 131.9h0M286.0 131.1h0M281.4 133.0h0M276.5 132.2h0M277.4 135.4h0M285.1 117.2h0M276.7 135.3h0M273.6 131.7h0M274.4 134.9h0M281.0 131.5h0M281.7 135.2h0M281.5 132.6h0M274.8 128.5h0M272.8 124.8h0M277.1 133.9h0M279.3 133.5h0M275.8 127.3h0M280.2 132.7h0M275.4 122.4h0M275.8 130.8h0M280.6 130.9h0M279.9 134.3h0M280.0 133.5h0M280.2 131.5h0M275.0 133.8h0M279.6 135.4h0M277.4 135.0h0M284.8 128.1h0M281.6 134.8h0M283.8 134.6h0M277.8 134.9h0M278.7 135.1h0M274.5 124.1h0M280.1 134.0h0M287.4 129.8h0M281.2 134.3h0M274.4 120.9h0M285.6 135.1h0M284.4 127.0h0M271.6 135.0h0M285.1 127.5h0M270.3 108.9h0M285.3 125.7h0M280.1 134.9h0M283.1 132.0h0M279.9 133.2h0M282.7 129.9h0M274.8 133.9h0M287.1 133.8h0M285.9 132.4h0M272.1 118.8h0M281.2 134.2h0M276.0 131.5h0M281.7 131.1h0M277.7 132.4h0M273.4 118.4h0M281.3 134.8h0M282.9 127.7h0M276.4 127.3h0M283.5 122.5h0M288.3 130.7h0M281.8 127.8h0M279.9 135.4h0M281.8 130.3h0M278.0 135.2h0M283.1 135.1h0M285.9 131.1h0M286.2 116.6h0M275.7 123.5h0M283.0 127.4h0M280.2 133.1h0M285.1 133.3h0M280.9 133.9h0M280.3 131.4h0M280.1 134.7h0M281.3 133.2h0M277.8 135.1h0M276.8 130.2h0M280.8 135.1h0M279.1 135.3h0M273.8 131.4h0M273.0 133.2h0M279.8 132.4h0M285.3 132.6h0M274.2 134.1h0M279.3 135.4h0M281.3 133.0h0M274.3 131.7h0M282.9 135.4h0M276.8 131.8h0M273.0 126.4h0M274.5 121.8h0M271.2 128.1h0M277.4 128.4h0M284.1 131.8h0M275.8 134.7h0M282.8 124.7h0M286.1 115.4h0M279.7 135.0h0M275.9 134.0h0M276.5 134.5h0M286.4 119.0h0M285.7 117.3h0M286.6 130.9h0M281.8 131.3h0M275.5 122.8h0M278.2 135.4h0M279.3 134.2h0M270.0 122.3h0M283.0 129.6h0M279.4 133.5h0M274.0 130.9h0M284.8 128.7h0M274.0 132.0h0M274.8 127.6h0M276.2 130.2h0M278.6 134.8h0M284.1 126.1h0M276.5 131.7h0M276.1 134.8h0M280.0 132.2h0M273.7 128.0h0M278.4 131.9h0M279.7 133.1h0M282.5 132.3h0M273.7 119.2h0M272.5 116.0h0M284.1 124.0h0M280.8 131.5h0M292.8 133.8h0M292.7 133.9h0M292.6 132.6h0M299.1 133.7h0M302.6 132.7h0M269.6 132.2h0M296.9 133.3h0M259.2 132.8h0M304.7 135.3h0M267.5 135.4h0M289.9 132.4h0M300.8 131.5h0M289.4 135.0h0M296.0 131.8h0M291.9 132.8h0M297.9 131.5h0M268.1 132.4h0M297.4 131.3h0M300.0 133.9h0M294.2 131.8h0M297.5 135.1h0M261.0 134.0h0M302.4 133.7h0M295.5 133.3h0M257.9 134.9h0M297.7 131.5h0M292.0 134.7h0M261.0 133.5h0M259.4 132.6h0M269.3 133.7h0M301.9 132.2h0M292.5 134.9h0M269.2 135.0h0M266.4 131.8h0M267.8 132.4h0M298.5 131.8h0M256.1 131.2h0M265.3 131.7h0M265.0 134.6h0M295.4 133.2h0M296.5 133.1h0M293.6 132.5h0M291.5 132.0h0M295.3 134.1h0M293.2 131.5h0M293.5 132.4h0M301.9 134.6h0M254.2 132.3h0M292.4 135.3h0M269.7 132.0h0M292.7 133.7h0M302.4 134.5h0M268.2 135.2h0M264.6 132.0h0M268.4 133.3h0M289.2 132.0h0M264.8 133.2h0M290.3 135.0h0M293.7 134.5h0M310.0 132.4h0M261.3 131.5h0M266.6 135.2h0M266.1 131.7h0M295.4 132.4h0M290.6 134.0h0M262.5 134.8h0M296.6 131.3h0M312.4 133.8h0M265.9 134.6h0M265.0 132.3h0M258.0 135.2h0M294.8 134.9h0M244.1 134.2h0M302.6 135.3h0M266.2 134.6h0M307.1 131.8h0M261.0 134.6h0M295.4 134.3h0M256.7 133.0h0M299.6 135.3h0M307.7 134.6h0M256.6 132.6h0M296.6 133.4h0M291.6 132.3h0M295.8 132.0h0M303.0 135.0h0M303.7 133.5h0M264.9 135.2h0M261.9 133.7h0M293.5 135.1h0M291.2 134.7h0M255.8 134.0h0M298.9 134.1h0M304.0 135.0h0M292.3 134.3h0M266.8 134.0h0M269.5 133.3h0M300.4 131.4h0M267.5 131.6h0M259.0 131.6h0M309.9 132.1h0M267.9 132.5h0M267.9 131.9h0M255.5 133.6h0M266.9 135.0h0M266.9 134.4h0M257.2 131.9h0M261.2 132.9h0M267.3 132.0h0M289.4 135.0h0M269.2 135.4h0M300.8 132.1h0M254.8 132.3h0M266.7 134.8h0M267.2 131.5h0M293.1 132.4h0M289.8 135.2h0M289.4 131.6h0M269.7 131.7h0M257.5 131.8h0M290.0 132.9h0M292.9 132.6h0M289.3 131.6h0M293.9 131.9h0M292.9 133.8h0M300.2 132.2h0M259.3 135.1h0M296.2 132.2h0M292.9 133.0h0M294.4 133.0h0M253.1 133.7h0M296.6 132.1h0M297.7 133.7h0M250.9 134.4h0M296.4 132.1h0M256.2 134.1h0M306.2 133.6h0M302.1 133.5h0M292.3 133.7h0M294.4 132.8h0M290.1 134.6h0M292.8 133.7h0M263.5 132.5h0M268.3 133.8h0M296.1 131.4h0M294.4 134.7h0M298.7 134.1h0M302.0 131.4h0M243.8 131.8h0M268.7 133.8h0M252.8 131.4h0M290.1 133.0h0M262.0 131.3h0M301.0 134.8h0M289.3 135.1h0M295.8 133.5h0M297.1 131.4h0M267.7 131.6h0M261.6 135.2h0M269.7 133.1h0M256.1 132.3h0M293.9 135.3h0M291.3 134.8h0M265.6 131.2h0M294.5 132.8h0M259.5 134.2h0M297.9 132.7h0M291.7 133.3h0M297.3 134.0h0M290.5 131.9h0M267.7 134.6h0M262.1 134.7h0M289.6 131.6h0M294.5 131.3h0M268.4 134.3h0M297.3 134.6h0M265.8 132.5h0M297.6 133.7h0M306.0 134.9h0M303.9 133.3h0M293.5 135.2h0M292.0 132.2h0M300.1 132.2h0M291.2 133.8h0M291.0 131.8h0M261.3 134.3h0M289.5 133.9h0M291.7 134.3h0M269.7 132.2h0M292.5 131.9h0M265.1 132.7h0M250.3 132.1h0M305.5 133.7h0M301.9 132.0h0M266.6 133.2h0M293.7 132.6h0M293.0 132.5h0M291.9 135.1h0M258.5 133.0h0M289.4 134.5h0M267.8 134.8h0M254.7 133.3h0M304.1 131.7h0M258.7 132.7h0M295.3 132.4h0M295.2 132.8h0M295.3 132.6h0M265.6 133.9h0M290.2 134.5h0M292.4 132.7h0M265.3 131.3h0M264.5 135.2h0M267.9 134.2h0M292.9 131.3h0M263.6 134.2h0M268.6 134.5h0M296.6 133.6h0M255.8 131.4h0M269.3 133.7h0M292.9 134.4h0M308.5 131.4h0M310.4 132.6h0M269.7 133.6h0M301.6 134.6h0M266.7 134.2h0M267.0 135.1h0M268.6 132.1h0M268.9 132.1h0M293.6 132.3h0M255.9 131.5h0M267.4 133.9h0M302.8 135.3h0M298.3 133.1h0M259.3 133.0h0M266.6 135.2h0M262.4 132.5h0M291.0 132.1h0M290.2 135.0h0M297.7 133.4h0M257.4 131.6h0M267.1 131.8h0M298.7 133.3h0M268.2 131.5h0M263.4 132.4h0M312.2 132.1h0M297.4 134.7h0M262.4 135.3h0M264.2 132.3h0M267.8 133.4h0M269.4 134.5h0M306.5 134.0h0M297.7 133.4h0M266.0 134.5h0M293.7 133.8h0M260.6 131.4h0M296.2 133.5h0M299.8 132.2h0M263.5 131.8h0M263.7 132.4h0M300.2 132.5h0M293.9 132.9h0M269.0 132.5h0M264.2 133.7h0M252.5 132.7h0M269.7 131.6h0M267.4 132.0h0M267.2 131.4h0M269.2 132.1h0M299.8 134.3h0M266.8 133.4h0M248.2 134.6h0M266.9 132.8h0M293.8 131.5h0M260.5 135.1h0M257.5 133.3h0M267.5 132.4h0M295.5 133.7h0M259.6 133.0h0M290.6 134.5h0M264.4 132.6h0M257.9 133.1h0M290.4 132.5h0M264.4 135.0h0M292.5 134.1h0M289.6 132.2h0M264.9 135.1h0M257.1 133.2h0M292.7 131.3h0M259.7 131.5h0M264.6 131.6h0M262.6 132.6h0M258.0 131.8h0M253.6 132.8h0M296.7 133.5h0M291.0 131.8h0M263.4 134.0h0M297.0 132.2h0M294.4 134.2h0M269.8 134.0h0M298.1 131.5h0M276.2 132.4h0M284.8 131.9h0M285.2 133.3h0M271.9 132.2h0M275.9 133.0h0M276.9 133.3h0M288.5 134.8h0M280.1 132.9h0M280.2 131.8h0M277.7 131.8h0M283.2 131.6h0M271.6 134.6h0M275.4 131.9h0M270.1 134.4h0M283.7 131.6h0M273.2 133.7h0M283.1 132.7h0M284.3 132.5h0M274.6 134.4h0M270.4 132.7h0M273.9 134.4h0M288.5 132.9h0M281.3 132.8h0M281.4 132.7h0M275.7 135.2h0M271.1 135.3h0M276.8 134.8h0M272.0 133.5h0M288.6 132.7h0M275.1 132.4h0M273.3 135.0h0M275.7 133.8h0M283.2 133.7h0M283.9 135.0h0M287.9 134.1h0M285.9 135.3h0M285.9 134.5h0M286.4 132.3h0M282.8 134.3h0M270.0 134.7h0M287.3 134.8h0M282.6 133.1h0M282.6 134.7h0M272.6 135.0h0M288.8 133.9h0M282.4 133.2h0M274.1 135.1h0M270.1 132.1h0M272.3 131.7h0M276.9 132.6h0M272.5 132.3h0M274.7 134.0h0M279.9 135.0h0M274.6 132.3h0M275.3 133.9h0M284.6 134.5h0M273.6 134.5h0M277.3 134.0h0M282.2 133.6h0M286.6 135.2h0M282.7 132.1h0M274.4 135.3h0M278.3 134.9h0M278.7 132.6h0M271.6 134.9h0M279.1 134.7h0M274.3 133.7h0M272.1 135.1h0M276.8 133.6h0M287.9 133.2h0M271.2 134.5h0M284.2 133.2h0M286.7 131.7h0M286.4 135.0h0M288.1 133.4h0M274.5 134.7h0M286.6 134.6h0M271.4 134.4h0M287.7 133.6h0M284.0 135.1h0M278.6 134.2h0M273.8 132.8h0M276.8 134.9h0M288.9 133.5h0M273.3 135.4h0M282.5 133.4h0M270.3 133.6h0M284.2 133.3h0M274.4 133.5h0M281.5 132.9h0M272.6 132.3h0M288.1 132.5h0M286.4 134.0h0M287.3 134.7h0M274.2 133.1h0M287.3 135.1h0M274.0 135.3h0M278.3 134.9h0M273.5 132.5h0M281.1 131.7h0M277.6 132.8h0M270.1 131.7h0M274.3 133.5h0M279.7 131.7h0M279.3 131.5h0M281.8 134.6h0M286.0 134.6h0M289.2 133.6h0M274.2 131.7h0M276.1 133.8h0M276.5 132.8h0M270.3 133.9h0M273.0 132.2h0M269.8 133.0h0M274.8 133.6h0M280.7 132.6h0M272.5 134.5h0M272.2 131.7h0M272.7 134.9h0M279.9 133.1h0M287.0 135.2h0M274.4 134.7h0M281.2 133.6h0M277.7 131.9h0M282.6 132.1h0M288.3 134.4h0M288.0 133.8h0M270.8 131.8h0M271.8 135.3h0M275.4 134.3h0M288.5 132.0h0M278.0 133.3h0M286.2 132.3h0M282.5 133.4h0M272.1 134.5h0M282.6 133.1h0M285.3 131.9h0M288.4 134.7h0M271.3 131.9h0M280.9 134.7h0M283.2 134.4h0M274.4 134.0h0M280.0 132.8h0M271.3 132.5h0M281.9 133.6h0M282.8 132.3h0M270.0 133.6h0M282.9 132.6h0M282.4 134.7h0M288.4 132.3h0M274.3 133.7h0M288.4 134.6h0M277.7 131.7h0M287.2 134.5h0M284.1 134.0h0M282.7 132.4h0M272.3 134.5h0M274.0 134.4h0M270.5 134.9h0M277.7 133.8h0M271.3 133.1h0M288.1 133.2h0M276.7 132.7h0M278.3 134.7h0M279.1 135.3h0M282.9 134.8h0M277.0 131.7h0M284.7 132.2h0M282.2 132.9h0M283.5 131.6h0M273.6 132.4h0M275.6 134.4h0M285.7 133.1h0M286.3 132.0h0M281.2 134.6h0M270.1 133.3h0M283.9 134.3h0M271.2 135.4h0M273.2 132.7h0M269.9 134.5h0M275.0 132.6h0M288.9 135.3h0M272.0 131.8h0M288.6 134.8h0M276.3 133.4h0M276.0 133.8h0M279.1 134.4h0M270.9 135.1h0M273.0 135.0h0M281.9 132.7h0M274.9 132.3h0M283.9 134.1h0M279.3 134.7h0M287.8 133.2h0M270.8 134.8h0M283.2 133.9h0M283.7 134.5h0M285.2 132.3h0M271.7 133.1h0M273.5 132.6h0" stroke="#bdbdbd" stroke-width="2.30" stroke-linecap="round" fill="none"/>
<path d="M262.0 121.7h0M268.6 131.1h0M264.6 126.1h0M269.1 130.6h0M265.6 131.0h0M265.0 130.4h0M268.4 128.1h0M266.1 121.8h0M269.7 120.6h0M268.6 129.8h0M264.9 123.2h0M265.2 116.6h0M268.7 129.6h0M264.6 130.3h0M269.0 130.4h0M262.7 120.4h0M263.7 115.5h0M262.2 130.0h0M268.0 121.3h0M269.6 124.0h0M269.4 131.2h0M266.3 130.9h0M256.9 122.1h0M266.8 130.6h0M269.2 126.4h0M266.3 129.1h0M263.7 126.9h0M262.6 131.1h0M269.5 128.5h0M266.6 130.3h0M264.5 130.5h0M268.0 127.2h0M263.8 121.5h0M267.6 127.8h0M257.1 120.6h0M265.2 131.1h0M266.9 123.9h0M268.3 131.2h0M250.6 125.1h0M269.2 127.2h0M265.2 129.9h0M269.5 119.8h0M262.7 128.5h0M269.4 128.4h0M269.4 111.5h0M269.6 129.8h0M262.8 131.0h0M269.3 131.1h0M269.0 125.9h0M261.2 130.9h0M268.9 119.5h0M267.1 129.4h0M269.2 130.2h0M252.6 131.1h0M268.4 120.5h0M259.1 120.1h0M266.7 113.6h0M265.4 130.0h0M266.8 121.8h0M263.4 131.0h0M268.8 112.1h0M269.3 117.7h0M267.8 130.2h0M268.4 127.3h0M247.3 131.1h0M260.5 130.0h0M268.9 120.2h0M267.8 130.7h0M267.2 118.4h0M260.2 126.9h0M269.8 119.2h0M265.3 116.6h0M255.1 130.3h0M260.7 121.5h0M268.3 128.9h0M267.6 129.2h0M267.5 131.0h0M268.6 114.3h0M267.3 123.9h0M259.3 123.7h0M268.5 114.0h0M261.9 115.6h0M263.5 122.0h0M261.7 130.4h0M264.7 129.0h0M261.0 131.0h0M266.1 129.5h0M261.5 129.7h0M260.9 120.7h0M259.6 131.0h0M256.4 125.0h0M264.4 124.3h0M269.6 115.3h0M266.0 127.8h0M267.8 119.4h0M262.5 119.2h0M268.7 129.2h0M268.4 131.1h0M267.9 131.2h0M262.1 130.6h0M269.5 131.1h0M263.3 130.7h0M266.8 128.6h0M262.0 116.8h0M268.0 123.8h0M258.9 128.6h0M258.7 124.3h0M268.0 116.0h0M265.7 131.1h0M265.5 118.9h0M266.3 127.3h0M267.2 116.2h0M264.5 130.6h0M267.7 129.0h0M254.4 126.5h0M269.2 113.8h0M269.7 124.4h0M267.1 121.7h0M267.1 131.1h0M266.2 118.9h0M262.3 129.5h0M268.6 120.3h0M262.0 130.6h0M259.5 117.4h0M267.1 128.8h0M263.8 116.5h0M268.7 129.7h0M267.9 121.0h0M268.8 125.6h0M266.5 123.3h0M269.1 112.0h0M259.0 122.9h0M268.9 114.1h0M266.0 120.9h0M260.0 129.6h0M257.4 130.8h0M269.7 126.4h0M258.8 120.4h0M254.8 128.8h0M256.8 127.8h0M269.1 123.5h0M262.0 128.8h0M265.4 130.2h0M268.3 128.1h0M266.3 127.6h0M269.4 131.2h0M267.8 121.5h0M263.2 130.5h0M268.4 126.4h0M268.9 124.3h0M258.5 130.8h0M265.6 122.2h0M263.1 123.2h0M263.8 130.2h0M261.0 118.4h0M269.6 112.2h0M267.0 131.1h0M269.5 118.2h0M264.4 130.9h0M266.9 123.9h0M240.6 131.0h0M262.8 130.4h0M268.8 130.8h0M267.3 124.3h0M268.1 130.8h0M268.6 131.1h0M268.8 129.5h0M266.4 130.7h0M266.7 128.0h0M252.4 129.4h0M255.8 129.0h0M268.8 124.6h0M269.1 130.8h0M269.5 121.4h0M253.3 129.9h0M267.7 128.1h0M267.7 122.3h0M267.4 130.9h0M260.2 126.9h0M269.8 116.0h0M263.5 129.4h0M265.0 116.1h0M267.3 128.0h0M268.1 125.6h0M264.6 122.1h0M255.4 131.0h0M267.6 117.1h0M262.3 126.1h0M264.4 129.5h0M255.8 128.1h0M267.3 130.7h0M269.2 114.4h0M262.0 131.2h0M267.9 127.2h0M266.5 129.1h0M258.9 129.8h0M266.2 115.0h0M264.9 127.6h0M267.9 128.7h0M265.3 120.4h0M268.4 128.9h0M267.5 129.0h0M258.0 127.8h0M268.3 129.4h0M261.5 130.9h0M264.2 131.2h0M268.8 131.1h0M261.9 131.0h0M268.6 131.1h0M268.3 120.8h0M263.7 117.2h0M255.6 128.2h0M257.5 131.1h0M257.3 129.2h0M268.8 120.1h0M260.4 129.4h0M269.4 115.3h0M263.1 125.8h0M251.6 131.2h0M269.6 131.0h0M269.7 121.1h0M265.0 131.0h0M269.0 130.7h0M265.3 123.5h0M252.9 130.2h0M251.1 129.9h0M267.4 130.2h0M268.5 111.6h0M244.3 129.8h0M268.9 130.7h0M269.0 129.1h0M263.4 131.2h0M266.2 123.0h0M269.7 127.6h0M262.3 126.4h0M266.9 116.4h0M265.4 129.5h0M267.4 113.7h0M260.3 119.1h0M265.9 130.9h0M268.9 128.6h0M264.2 131.2h0M262.0 121.8h0M266.3 131.2h0M262.1 128.9h0M264.5 126.0h0M263.5 128.8h0M254.3 121.9h0M257.0 127.0h0M268.0 128.8h0M268.3 114.7h0M262.2 121.6h0M261.5 115.9h0M264.2 129.8h0M263.0 130.3h0M265.3 130.9h0M260.4 128.1h0M268.3 114.0h0M269.4 112.9h0M263.0 130.9h0M262.9 126.3h0M258.3 127.1h0M267.1 114.2h0M269.4 118.9h0M269.3 129.9h0M269.2 115.5h0M267.0 121.5h0M268.4 120.8h0M264.8 131.1h0M266.5 121.8h0M216.6 120.8h0M215.7 130.2h0M223.4 128.6h0M264.0 99.8h0M254.4 107.2h0M266.0 110.1h0M257.3 111.1h0M254.4 116.0h0M245.7 124.1h0M240.8 128.9h0M243.7 129.6h0M248.6 127.6h0M251.5 121.5h0M258.2 117.3h0M261.1 115.3h0M265.0 105.6h0M266.9 108.8h0M268.9 100.4h0M253.4 128.9h0" stroke="#0000ff" stroke-width="2.30" stroke-linecap="round" fill="none"/>
<path d="M290.5 122.5h0M290.9 128.7h0M302.6 118.9h0M322.0 130.8h0M293.7 118.7h0M296.7 128.0h0M299.8 129.1h0M305.1 128.8h0M289.8 119.2h0M290.0 121.6h0M289.5 109.0h0M293.3 120.7h0M289.9 122.8h0M291.7 130.2h0M298.1 131.2h0M292.6 131.1h0M299.3 118.5h0M289.4 127.0h0M292.5 121.2h0M296.1 129.4h0M303.5 130.9h0M290.0 116.9h0M289.9 130.6h0M292.9 129.3h0M290.1 112.1h0M292.6 119.0h0M290.7 113.2h0M290.5 113.4h0M294.2 112.8h0M297.0 124.7h0M293.2 116.8h0M292.3 131.1h0M302.2 122.3h0M295.3 121.3h0M290.6 127.1h0M298.4 115.7h0M302.8 130.9h0M295.3 126.0h0M291.9 130.8h0M290.0 126.9h0M292.8 130.1h0M291.6 125.4h0M296.8 125.6h0M290.1 114.0h0M291.6 111.7h0M310.4 131.1h0M293.8 112.7h0M291.8 125.5h0M291.2 131.2h0M290.4 131.0h0M290.9 123.3h0M293.6 113.3h0M295.3 129.2h0M305.0 126.6h0M293.3 116.6h0M295.1 129.2h0M294.1 129.8h0M307.7 130.7h0M308.4 131.2h0M289.2 124.9h0M290.4 126.2h0M289.8 115.9h0M295.1 122.9h0M303.1 117.7h0M295.2 122.2h0M289.2 131.2h0M292.1 111.6h0M291.2 124.9h0M289.2 127.9h0M301.6 126.6h0M298.4 131.2h0M290.4 130.7h0M298.7 131.1h0M303.5 130.5h0M300.5 127.6h0M291.2 111.1h0M291.9 121.6h0M289.5 116.1h0M310.3 131.1h0M296.5 130.2h0M290.0 128.8h0M294.9 113.9h0M316.3 126.4h0M294.4 123.5h0M290.1 120.1h0M293.4 129.1h0M301.4 130.5h0M290.0 130.8h0M290.0 124.2h0M297.8 130.9h0M292.9 125.1h0M293.5 128.3h0M293.3 131.2h0M289.5 127.8h0M290.6 119.2h0M290.6 116.8h0M290.6 131.1h0M292.6 128.6h0M291.3 119.2h0M290.5 122.0h0M298.7 128.3h0M292.9 114.0h0M294.1 130.7h0M289.6 131.1h0M291.3 131.1h0M294.7 128.3h0M291.1 126.2h0M303.8 130.6h0M290.1 129.5h0M291.3 113.6h0M295.7 128.3h0M290.1 131.2h0M289.9 115.5h0M294.7 130.9h0M294.4 131.2h0M292.9 129.3h0M289.7 119.4h0M295.9 127.0h0M290.1 121.9h0M292.2 122.7h0M289.7 113.1h0M289.2 130.3h0M291.9 130.6h0M289.7 121.2h0M316.3 130.8h0M290.8 122.1h0M290.5 128.2h0M295.4 128.2h0M290.1 131.1h0M293.3 111.4h0M302.6 131.1h0M292.9 126.9h0M290.3 122.0h0M292.8 118.3h0M291.0 112.5h0M298.1 127.9h0M290.0 126.6h0M289.9 121.4h0M295.5 125.6h0M309.1 131.2h0M295.9 119.8h0M289.8 129.3h0M289.5 124.2h0M296.0 129.4h0M295.5 129.1h0M295.8 130.1h0M309.5 129.7h0M289.2 131.1h0M296.1 117.8h0M294.6 130.9h0M290.1 73.8h0M290.1 76.1h0M292.1 77.1h0M290.1 85.8h0M291.6 90.7h0M290.1 93.6h0M300.8 90.7h0M300.8 95.5h0M290.1 100.1h0M295.9 99.8h0M295.0 99.1h0M298.8 101.1h0M316.2 100.1h0M324.0 119.2h0M344.3 120.2h0M340.4 126.7h0M308.5 113.0h0M313.3 117.6h0M318.2 127.3h0M320.1 129.6h0M305.6 119.5h0M310.4 122.8h0M302.7 117.9h0" stroke="#ff0000" stroke-width="2.30" stroke-linecap="round" fill="none"/>
<line x1="269.83" y1="14.50" x2="269.83" y2="140.40" stroke="#3b3bff" stroke-width="0.9" stroke-dasharray="0.9,1.6"/>
<line x1="289.17" y1="14.50" x2="289.17" y2="140.40" stroke="#3b3bff" stroke-width="0.9" stroke-dasharray="0.9,1.6"/>
<line x1="210.60" y1="131.19" x2="350.60" y2="131.19" stroke="#3b3bff" stroke-width="0.9" stroke-dasharray="0.9,1.6"/>
<line x1="303.50" y1="23.60" x2="299.90" y2="20.40" stroke="#111" stroke-width="0.5"/>
<text x="298.9" y="26.9" font-size="4.9" font-style="italic" fill="#111" stroke="#111" stroke-width="0.12" style="font-family:'Liberation Serif',serif" textLength="15.2" lengthAdjust="spacingAndGlyphs">Gfsepd1</text>
<circle cx="299.90" cy="20.40" r="1.15" fill="#ff0000"/>
<line x1="252.00" y1="62.20" x2="249.40" y2="58.40" stroke="#111" stroke-width="0.5"/>
<text x="244.0" y="65.7" font-size="4.9" font-style="italic" fill="#111" stroke="#111" stroke-width="0.12" style="font-family:'Liberation Serif',serif" textLength="17.2" lengthAdjust="spacingAndGlyphs">Gm33680</text>
<circle cx="249.40" cy="58.40" r="1.15" fill="#0000ff"/>
<line x1="292.50" y1="71.00" x2="289.80" y2="75.40" stroke="#111" stroke-width="0.5"/>
<text x="291.1" y="70.7" font-size="4.9" font-style="italic" fill="#111" stroke="#111" stroke-width="0.12" style="font-family:'Liberation Serif',serif" textLength="13.6" lengthAdjust="spacingAndGlyphs">Cyp2b9</text>
<circle cx="289.80" cy="75.40" r="1.15" fill="#ff0000"/>
<line x1="296.00" y1="76.00" x2="291.60" y2="76.80" stroke="#111" stroke-width="0.5"/>
<text x="296.4" y="77.3" font-size="4.9" font-style="italic" fill="#111" stroke="#111" stroke-width="0.12" style="font-family:'Liberation Serif',serif" textLength="8.6" lengthAdjust="spacingAndGlyphs">Abcc</text>
<circle cx="291.60" cy="76.80" r="1.15" fill="#ff0000"/>
<line x1="298.00" y1="85.20" x2="292.00" y2="90.50" stroke="#111" stroke-width="0.5"/>
<text x="292.9" y="85.2" font-size="4.9" font-style="italic" fill="#111" stroke="#111" stroke-width="0.12" style="font-family:'Liberation Serif',serif" textLength="17.1" lengthAdjust="spacingAndGlyphs">Cyp2c50</text>
<circle cx="292.00" cy="90.50" r="1.15" fill="#ff0000"/>
<line x1="311.50" y1="88.20" x2="301.20" y2="90.50" stroke="#111" stroke-width="0.5"/>
<text x="311.8" y="88.3" font-size="4.9" font-style="italic" fill="#111" stroke="#111" stroke-width="0.12" style="font-family:'Liberation Serif',serif" textLength="16.2" lengthAdjust="spacingAndGlyphs">Cyp2c37</text>
<circle cx="301.20" cy="90.50" r="1.15" fill="#ff0000"/>
<line x1="310.50" y1="93.00" x2="300.60" y2="95.30" stroke="#111" stroke-width="0.5"/>
<text x="310.9" y="93.5" font-size="4.9" font-style="italic" fill="#111" stroke="#111" stroke-width="0.12" style="font-family:'Liberation Serif',serif" textLength="16.2" lengthAdjust="spacingAndGlyphs">Cyp2c54</text>
<circle cx="300.60" cy="95.30" r="1.15" fill="#ff0000"/>
<line x1="304.00" y1="99.00" x2="299.00" y2="100.50" stroke="#111" stroke-width="0.5"/>
<text x="303.9" y="99.0" font-size="4.9" font-style="italic" fill="#111" stroke="#111" stroke-width="0.12" style="font-family:'Liberation Serif',serif" textLength="14.9" lengthAdjust="spacingAndGlyphs">Slc43a3</text>
<circle cx="299.00" cy="100.50" r="1.15" fill="#ff0000"/>
<line x1="322.00" y1="103.00" x2="316.80" y2="100.20" stroke="#111" stroke-width="0.5"/>
<text x="321.9" y="105.1" font-size="4.9" font-style="italic" fill="#111" stroke="#111" stroke-width="0.12" style="font-family:'Liberation Serif',serif" textLength="12.0" lengthAdjust="spacingAndGlyphs">Cfd63</text>
<circle cx="316.80" cy="100.20" r="1.15" fill="#ff0000"/>
<line x1="339.50" y1="117.00" x2="344.30" y2="119.70" stroke="#111" stroke-width="0.5"/>
<text x="327.7" y="117.0" font-size="4.9" font-style="italic" fill="#111" stroke="#111" stroke-width="0.12" style="font-family:'Liberation Serif',serif" textLength="11.3" lengthAdjust="spacingAndGlyphs">Moxd1</text>
<circle cx="344.30" cy="119.70" r="1.15" fill="#ff0000"/>
<line x1="335.00" y1="123.50" x2="339.90" y2="126.10" stroke="#111" stroke-width="0.5"/>
<text x="325.2" y="123.2" font-size="4.9" font-style="italic" fill="#111" stroke="#111" stroke-width="0.12" style="font-family:'Liberation Serif',serif" textLength="16.8" lengthAdjust="spacingAndGlyphs">Gm15953</text>
<circle cx="339.90" cy="126.10" r="1.15" fill="#ff0000"/>
<line x1="259.50" y1="95.50" x2="262.60" y2="99.00" stroke="#111" stroke-width="0.5"/>
<text x="255.1" y="95.1" font-size="4.9" font-style="italic" fill="#111" stroke="#111" stroke-width="0.12" style="font-family:'Liberation Serif',serif" textLength="9.2" lengthAdjust="spacingAndGlyphs">Cd81</text>
<circle cx="262.60" cy="99.00" r="1.15" fill="#0000ff"/>
<line x1="251.00" y1="102.50" x2="254.80" y2="106.00" stroke="#111" stroke-width="0.5"/>
<text x="245.9" y="102.1" font-size="4.9" font-style="italic" fill="#111" stroke="#111" stroke-width="0.12" style="font-family:'Liberation Serif',serif" textLength="7.5" lengthAdjust="spacingAndGlyphs">Il7r</text>
<circle cx="254.80" cy="106.00" r="1.15" fill="#0000ff"/>
<line x1="262.00" y1="105.50" x2="265.60" y2="108.80" stroke="#111" stroke-width="0.5"/>
<text x="256.4" y="104.9" font-size="4.9" font-style="italic" fill="#111" stroke="#111" stroke-width="0.12" style="font-family:'Liberation Serif',serif" textLength="11.4" lengthAdjust="spacingAndGlyphs">Mgp3</text>
<circle cx="265.60" cy="108.80" r="1.15" fill="#0000ff"/>
<line x1="250.50" y1="108.40" x2="257.70" y2="109.30" stroke="#111" stroke-width="0.5"/>
<text x="238.0" y="109.7" font-size="4.9" font-style="italic" fill="#111" stroke="#111" stroke-width="0.12" style="font-family:'Liberation Serif',serif" textLength="11.9" lengthAdjust="spacingAndGlyphs">Ube2c</text>
<circle cx="257.70" cy="109.30" r="1.15" fill="#0000ff"/>
<line x1="251.00" y1="114.60" x2="257.70" y2="116.10" stroke="#111" stroke-width="0.5"/>
<text x="238.0" y="115.6" font-size="4.9" font-style="italic" fill="#111" stroke="#111" stroke-width="0.12" style="font-family:'Liberation Serif',serif" textLength="12.3" lengthAdjust="spacingAndGlyphs">Bmp8b</text>
<circle cx="257.70" cy="116.10" r="1.15" fill="#0000ff"/>
<line x1="222.00" y1="116.40" x2="216.60" y2="120.70" stroke="#111" stroke-width="0.5"/>
<text x="213.1" y="116.1" font-size="4.9" font-style="italic" fill="#111" stroke="#111" stroke-width="0.12" style="font-family:'Liberation Serif',serif" textLength="16.6" lengthAdjust="spacingAndGlyphs">Gm13772</text>
<circle cx="216.60" cy="120.70" r="1.15" fill="#0000ff"/>
<line x1="229.00" y1="124.30" x2="223.80" y2="128.10" stroke="#111" stroke-width="0.5"/>
<text x="222.1" y="124.0" font-size="4.9" font-style="italic" fill="#111" stroke="#111" stroke-width="0.12" style="font-family:'Liberation Serif',serif" textLength="16.4" lengthAdjust="spacingAndGlyphs">Gm21423</text>
<circle cx="223.80" cy="128.10" r="1.15" fill="#0000ff"/>
<rect x="210.60" y="14.50" width="140.00" height="125.90" fill="none" stroke="#5a5a5a" stroke-width="0.7"/>
<line x1="207.60" y1="135.40" x2="210.60" y2="135.40" stroke="#5a5a5a" stroke-width="0.6"/>
<text x="204.60" y="138.00" font-size="7.6" text-anchor="end" fill="#333">0</text>
<line x1="207.60" y1="103.00" x2="210.60" y2="103.00" stroke="#5a5a5a" stroke-width="0.6"/>
<text x="204.60" y="105.60" font-size="7.6" text-anchor="end" fill="#333">10</text>
<line x1="207.60" y1="70.60" x2="210.60" y2="70.60" stroke="#5a5a5a" stroke-width="0.6"/>
<text x="204.60" y="73.20" font-size="7.6" text-anchor="end" fill="#333">20</text>
<line x1="207.60" y1="38.20" x2="210.60" y2="38.20" stroke="#5a5a5a" stroke-width="0.6"/>
<text x="204.60" y="40.80" font-size="7.6" text-anchor="end" fill="#333">30</text>
<line x1="240.82" y1="140.40" x2="240.82" y2="143.40" stroke="#5a5a5a" stroke-width="0.6"/>
<text x="240.82" y="153.60" font-size="7.6" text-anchor="middle" fill="#333">−4</text>
<line x1="279.50" y1="140.40" x2="279.50" y2="143.40" stroke="#5a5a5a" stroke-width="0.6"/>
<text x="279.50" y="153.60" font-size="7.6" text-anchor="middle" fill="#333">0</text>
<line x1="318.18" y1="140.40" x2="318.18" y2="143.40" stroke="#5a5a5a" stroke-width="0.6"/>
<text x="318.18" y="153.60" font-size="7.6" text-anchor="middle" fill="#333">4</text>
<text x="248.8" y="165.0" font-size="9.3" fill="#231f20">log<tspan font-size="6" dy="2">2</tspan><tspan dy="-2">fold change</tspan></text>
<text transform="translate(186.2,76.7) rotate(-90)" font-size="8.6" text-anchor="middle" fill="#231f20">−log<tspan font-size="5.6" dy="2">10</tspan><tspan dy="-2">(</tspan><tspan font-style="italic">P</tspan>-adjusted)</text>
<text x="178.00" y="176.50" font-size="7.0" textLength="38.60" lengthAdjust="spacingAndGlyphs">Significance</text>
<circle cx="221.40" cy="174.10" r="0.90" fill="#0000ff"/>
<text x="226.20" y="176.50" font-size="7.0" textLength="47.20" lengthAdjust="spacingAndGlyphs">Downregulated</text>
<circle cx="287.50" cy="174.10" r="0.90" fill="#bdbdbd"/>
<text x="291.40" y="176.50" font-size="7.0" textLength="8.60" lengthAdjust="spacingAndGlyphs">NS</text>
<circle cx="313.50" cy="174.10" r="0.90" fill="#ff0000"/>
<text x="317.70" y="176.50" font-size="7.0" textLength="38.60" lengthAdjust="spacingAndGlyphs">Upregulated</text>
<text x="1.30" y="188.60" font-size="14" font-weight="bold" fill="#000" stroke="#000" stroke-width="0.45">c</text>
<text x="161.60" y="206.30" font-size="8.95" text-anchor="end">Peroxisome</text>
<line x1="165.30" y1="203.20" x2="168.40" y2="203.20" stroke="#5a5a5a" stroke-width="0.6"/>
<line x1="266.70" y1="203.20" x2="269.70" y2="203.20" stroke="#5a5a5a" stroke-width="0.6"/>
<rect x="168.70" y="199.95" width="91.50" height="6.50" fill="#ff0000"/>
<rect x="297.10" y="199.95" width="74.30" height="6.50" fill="#ff0000"/>
<text x="161.60" y="216.53" font-size="8.95" text-anchor="end">Steroid hormone biosynthesis</text>
<line x1="165.30" y1="213.43" x2="168.40" y2="213.43" stroke="#5a5a5a" stroke-width="0.6"/>
<line x1="266.70" y1="213.43" x2="269.70" y2="213.43" stroke="#5a5a5a" stroke-width="0.6"/>
<rect x="168.70" y="210.18" width="91.50" height="6.50" fill="#ff0000"/>
<rect x="293.30" y="210.18" width="78.10" height="6.50" fill="#ff0000"/>
<text x="161.60" y="226.76" font-size="8.95" text-anchor="end">Retinol metabolism</text>
<line x1="165.30" y1="223.66" x2="168.40" y2="223.66" stroke="#5a5a5a" stroke-width="0.6"/>
<line x1="266.70" y1="223.66" x2="269.70" y2="223.66" stroke="#5a5a5a" stroke-width="0.6"/>
<rect x="168.70" y="220.41" width="85.40" height="6.50" fill="#ff0000"/>
<rect x="296.20" y="220.41" width="75.20" height="6.50" fill="#ff0000"/>
<text x="161.60" y="236.99" font-size="8.95" text-anchor="end">Fatty acid degradation</text>
<line x1="165.30" y1="233.89" x2="168.40" y2="233.89" stroke="#5a5a5a" stroke-width="0.6"/>
<line x1="266.70" y1="233.89" x2="269.70" y2="233.89" stroke="#5a5a5a" stroke-width="0.6"/>
<rect x="168.70" y="230.64" width="79.00" height="6.50" fill="#ff0000"/>
<rect x="291.00" y="230.64" width="80.40" height="6.50" fill="#ff0000"/>
<text x="161.60" y="247.22" font-size="8.95" text-anchor="end">Olfactory transduction</text>
<line x1="165.30" y1="244.12" x2="168.40" y2="244.12" stroke="#5a5a5a" stroke-width="0.6"/>
<line x1="266.70" y1="244.12" x2="269.70" y2="244.12" stroke="#5a5a5a" stroke-width="0.6"/>
<rect x="168.70" y="240.87" width="72.90" height="6.50" fill="#ff0000"/>
<rect x="301.00" y="240.87" width="70.40" height="6.50" fill="#ff0000"/>
<text x="161.60" y="257.45" font-size="8.95" text-anchor="end">Biosynthesis of cofactors</text>
<line x1="165.30" y1="254.35" x2="168.40" y2="254.35" stroke="#5a5a5a" stroke-width="0.6"/>
<line x1="266.70" y1="254.35" x2="269.70" y2="254.35" stroke="#5a5a5a" stroke-width="0.6"/>
<rect x="168.70" y="251.10" width="66.10" height="6.50" fill="#ff0000"/>
<rect x="308.00" y="251.10" width="63.40" height="6.50" fill="#ff0000"/>
<text x="161.60" y="267.68" font-size="8.95" text-anchor="end">Proteasome</text>
<line x1="165.30" y1="264.58" x2="168.40" y2="264.58" stroke="#5a5a5a" stroke-width="0.6"/>
<line x1="266.70" y1="264.58" x2="269.70" y2="264.58" stroke="#5a5a5a" stroke-width="0.6"/>
<rect x="168.70" y="261.33" width="61.00" height="6.50" fill="#ff0000"/>
<rect x="298.70" y="261.33" width="72.70" height="6.50" fill="#ff0000"/>
<text x="161.60" y="277.91" font-size="8.95" text-anchor="end">Porphyrin metabolism</text>
<line x1="165.30" y1="274.81" x2="168.40" y2="274.81" stroke="#5a5a5a" stroke-width="0.6"/>
<line x1="266.70" y1="274.81" x2="269.70" y2="274.81" stroke="#5a5a5a" stroke-width="0.6"/>
<rect x="168.70" y="271.56" width="60.30" height="6.50" fill="#ff0000"/>
<rect x="298.10" y="271.56" width="73.30" height="6.50" fill="#ff0000"/>
<text x="161.60" y="288.14" font-size="8.95" text-anchor="end">Chemical carcinogenesis – DNA adducts</text>
<line x1="165.30" y1="285.04" x2="168.40" y2="285.04" stroke="#5a5a5a" stroke-width="0.6"/>
<line x1="266.70" y1="285.04" x2="269.70" y2="285.04" stroke="#5a5a5a" stroke-width="0.6"/>
<rect x="168.70" y="281.79" width="54.20" height="6.50" fill="#ff0000"/>
<rect x="305.20" y="281.79" width="66.20" height="6.50" fill="#ff0000"/>
<text x="161.60" y="298.37" font-size="8.95" text-anchor="end">Ascorbate and aldarate metabolism</text>
<line x1="165.30" y1="295.27" x2="168.40" y2="295.27" stroke="#5a5a5a" stroke-width="0.6"/>
<line x1="266.70" y1="295.27" x2="269.70" y2="295.27" stroke="#5a5a5a" stroke-width="0.6"/>
<rect x="168.70" y="292.02" width="52.00" height="6.50" fill="#ff0000"/>
<rect x="298.40" y="292.02" width="73.00" height="6.50" fill="#ff0000"/>
<text x="161.60" y="308.60" font-size="8.95" text-anchor="end">Autophagy – other</text>
<line x1="165.30" y1="305.50" x2="168.40" y2="305.50" stroke="#5a5a5a" stroke-width="0.6"/>
<line x1="266.70" y1="305.50" x2="269.70" y2="305.50" stroke="#5a5a5a" stroke-width="0.6"/>
<rect x="168.70" y="302.25" width="46.50" height="6.50" fill="#ff0000"/>
<rect x="301.30" y="302.25" width="70.10" height="6.50" fill="#ff0000"/>
<text x="161.60" y="318.83" font-size="8.95" text-anchor="end">PPAR signalling pathway</text>
<line x1="165.30" y1="315.73" x2="168.40" y2="315.73" stroke="#5a5a5a" stroke-width="0.6"/>
<line x1="266.70" y1="315.73" x2="269.70" y2="315.73" stroke="#5a5a5a" stroke-width="0.6"/>
<rect x="168.70" y="312.48" width="46.20" height="6.50" fill="#ff0000"/>
<rect x="309.00" y="312.48" width="62.40" height="6.50" fill="#ff0000"/>
<line x1="168.40" y1="194.60" x2="168.40" y2="322.20" stroke="#5a5a5a" stroke-width="0.7"/>
<line x1="269.70" y1="194.60" x2="269.70" y2="322.20" stroke="#5a5a5a" stroke-width="0.7"/>
<line x1="168.40" y1="322.20" x2="371.60" y2="322.20" stroke="#5a5a5a" stroke-width="0.7"/>
<line x1="168.40" y1="322.20" x2="168.40" y2="325.20" stroke="#5a5a5a" stroke-width="0.6"/>
<text x="168.40" y="335.00" font-size="7.6" text-anchor="middle" fill="#333">0</text>
<line x1="202.20" y1="322.20" x2="202.20" y2="325.20" stroke="#5a5a5a" stroke-width="0.6"/>
<text x="202.20" y="335.00" font-size="7.6" text-anchor="middle" fill="#333">1</text>
<line x1="236.00" y1="322.20" x2="236.00" y2="325.20" stroke="#5a5a5a" stroke-width="0.6"/>
<text x="236.00" y="335.00" font-size="7.6" text-anchor="middle" fill="#333">2</text>
<line x1="290.30" y1="322.20" x2="290.30" y2="325.20" stroke="#5a5a5a" stroke-width="0.6"/>
<text x="290.30" y="335.00" font-size="7.6" text-anchor="middle" fill="#333">2</text>
<line x1="330.80" y1="322.20" x2="330.80" y2="325.20" stroke="#5a5a5a" stroke-width="0.6"/>
<text x="330.80" y="335.00" font-size="7.6" text-anchor="middle" fill="#333">1</text>
<line x1="371.20" y1="322.20" x2="371.20" y2="325.20" stroke="#5a5a5a" stroke-width="0.6"/>
<text x="371.20" y="335.00" font-size="7.6" text-anchor="middle" fill="#333">0</text>
<line x1="269.70" y1="322.20" x2="269.70" y2="325.20" stroke="#5a5a5a" stroke-width="0.6"/>
<text x="214.6" y="192.6" font-size="8.6" text-anchor="middle" fill="#231f20">−log<tspan font-size="5.6" dy="2">10</tspan><tspan dy="-2">(</tspan><tspan font-style="italic">P</tspan>-adjusted)</text>
<text x="329.60" y="192.60" font-size="8.6" text-anchor="middle">NES</text>
<text x="0.90" y="350.00" font-size="14" font-weight="bold" fill="#000" stroke="#000" stroke-width="0.45">e</text>
<rect x="38.50" y="349.40" width="7.60" height="7.40" fill="#ff0000" stroke="#231f20" stroke-width="0.5"/>
<text x="51.00" y="356.00" font-size="8.4" textLength="41.00" lengthAdjust="spacingAndGlyphs">AAV8-GFP</text>
<rect x="105.50" y="349.40" width="7.60" height="7.40" fill="#0000ff" stroke="#231f20" stroke-width="0.5"/>
<text x="118.00" y="356.00" font-size="8.4" textLength="47.50" lengthAdjust="spacingAndGlyphs">AAV8-AGXT</text>
<polyline points="40.5,409.6 40.5,379.0 51.9,379.0 51.9,383.8" fill="none" stroke="#8c8c8c" stroke-width="0.6"/>
<text x="33.6" y="375.6" font-size="6.1" fill="#4d4d4d" textLength="30" lengthAdjust="spacingAndGlyphs"><tspan font-style="italic">P</tspan> = 0.0030</text>
<polyline points="64.6,410.4 64.6,392.4 76.3,392.4 76.3,395.0" fill="none" stroke="#8c8c8c" stroke-width="0.6"/>
<text x="57.7" y="388.9" font-size="6.1" fill="#4d4d4d" textLength="30" lengthAdjust="spacingAndGlyphs"><tspan font-style="italic">P</tspan> = 0.0081</text>
<polyline points="90.3,410.4 90.3,374.3 101.2,374.3 101.2,380.4" fill="none" stroke="#8c8c8c" stroke-width="0.6"/>
<text x="79.6" y="370.2" font-size="6.1" fill="#4d4d4d" textLength="30" lengthAdjust="spacingAndGlyphs"><tspan font-style="italic">P</tspan> = 0.0273</text>
<polyline points="113.6,415.5 113.6,378.7 124.2,378.7 124.2,387.7" fill="none" stroke="#8c8c8c" stroke-width="0.6"/>
<text x="105.5" y="376.1" font-size="6.1" fill="#4d4d4d" textLength="30" lengthAdjust="spacingAndGlyphs"><tspan font-style="italic">P</tspan> = 0.0128</text>
<polyline points="138.5,412.8 138.5,387.0 148.9,387.0 148.9,391.1" fill="none" stroke="#8c8c8c" stroke-width="0.6"/>
<text x="128.0" y="385.6" font-size="6.1" fill="#4d4d4d" textLength="30" lengthAdjust="spacingAndGlyphs"><tspan font-style="italic">P</tspan> = 0.0083</text>
<polyline points="162.6,409.6 162.6,373.4 173.7,373.4 173.7,391.4" fill="none" stroke="#8c8c8c" stroke-width="0.6"/>
<text x="153.1" y="370.2" font-size="6.1" fill="#4d4d4d" textLength="30" lengthAdjust="spacingAndGlyphs"><tspan font-style="italic">P</tspan> = 0.0117</text>
<polyline points="186.4,409.6 186.4,385.8 196.6,385.8 196.6,389.9" fill="none" stroke="#8c8c8c" stroke-width="0.6"/>
<text x="176.9" y="384.1" font-size="6.1" fill="#4d4d4d" textLength="30" lengthAdjust="spacingAndGlyphs"><tspan font-style="italic">P</tspan> = 0.0107</text>
<polyline points="210.9,413.3 210.9,375.3 221.4,375.3 221.4,391.4" fill="none" stroke="#8c8c8c" stroke-width="0.6"/>
<text x="201.0" y="372.2" font-size="6.1" fill="#4d4d4d" textLength="30" lengthAdjust="spacingAndGlyphs"><tspan font-style="italic">P</tspan> = 0.0103</text>
<polyline points="235.5,413.3 235.5,387.0 245.7,387.0 245.7,391.8" fill="none" stroke="#8c8c8c" stroke-width="0.6"/>
<text x="226.0" y="384.8" font-size="6.1" fill="#4d4d4d" textLength="30" lengthAdjust="spacingAndGlyphs"><tspan font-style="italic">P</tspan> = 0.0043</text>
<polyline points="259.6,412.6 259.6,372.4 270.2,372.4 270.2,384.8" fill="none" stroke="#8c8c8c" stroke-width="0.6"/>
<text x="250.1" y="369.5" font-size="6.1" fill="#4d4d4d" textLength="30" lengthAdjust="spacingAndGlyphs"><tspan font-style="italic">P</tspan> = 0.0383</text>
<polyline points="284.4,402.0 284.4,389.9 294.6,389.9 294.6,392.8" fill="none" stroke="#8c8c8c" stroke-width="0.6"/>
<text x="275.6" y="387.7" font-size="6.1" fill="#4d4d4d" textLength="30" lengthAdjust="spacingAndGlyphs"><tspan font-style="italic">P</tspan> = 0.0144</text>
<polyline points="308.9,415.5 308.9,377.2 318.7,377.2 318.7,379.7" fill="none" stroke="#8c8c8c" stroke-width="0.6"/>
<text x="298.0" y="375.0" font-size="6.1" fill="#4d4d4d" textLength="30" lengthAdjust="spacingAndGlyphs"><tspan font-style="italic">P</tspan> = 0.0093</text>
<rect x="37.20" y="425.13" width="8.00" height="28.27" fill="#ff0000" stroke="#231f20" stroke-width="0.55"/>
<rect x="47.30" y="403.08" width="8.00" height="50.32" fill="#0000ff" stroke="#231f20" stroke-width="0.55"/>
<line x1="41.20" y1="425.13" x2="41.20" y2="422.87" stroke="#231f20" stroke-width="0.6"/>
<line x1="39.70" y1="422.87" x2="42.70" y2="422.87" stroke="#231f20" stroke-width="0.6"/>
<line x1="51.30" y1="403.08" x2="51.30" y2="396.29" stroke="#231f20" stroke-width="0.6"/>
<line x1="49.80" y1="396.29" x2="52.80" y2="396.29" stroke="#231f20" stroke-width="0.6"/>
<circle cx="41.20" cy="413.26" r="1.30" fill="#fff" stroke="#231f20" stroke-width="0.55"/>
<circle cx="39.40" cy="421.74" r="1.30" fill="#fff" stroke="#231f20" stroke-width="0.55"/>
<circle cx="41.20" cy="421.17" r="1.30" fill="#fff" stroke="#231f20" stroke-width="0.55"/>
<circle cx="43.00" cy="422.30" r="1.30" fill="#fff" stroke="#231f20" stroke-width="0.55"/>
<circle cx="38.95" cy="424.00" r="1.30" fill="#fff" stroke="#231f20" stroke-width="0.55"/>
<circle cx="43.45" cy="424.56" r="1.30" fill="#fff" stroke="#231f20" stroke-width="0.55"/>
<circle cx="41.20" cy="427.39" r="1.30" fill="#fff" stroke="#231f20" stroke-width="0.55"/>
<circle cx="41.20" cy="434.74" r="1.30" fill="#fff" stroke="#231f20" stroke-width="0.55"/>
<circle cx="49.05" cy="389.51" r="1.30" fill="#fff" stroke="#231f20" stroke-width="0.55"/>
<circle cx="51.30" cy="389.23" r="1.30" fill="#fff" stroke="#231f20" stroke-width="0.55"/>
<circle cx="53.55" cy="388.94" r="1.30" fill="#fff" stroke="#231f20" stroke-width="0.55"/>
<circle cx="51.30" cy="406.75" r="1.30" fill="#fff" stroke="#231f20" stroke-width="0.55"/>
<circle cx="51.30" cy="417.78" r="1.30" fill="#fff" stroke="#231f20" stroke-width="0.55"/>
<circle cx="51.30" cy="424.28" r="1.30" fill="#fff" stroke="#231f20" stroke-width="0.55"/>
<line x1="46.25" y1="453.40" x2="46.25" y2="457.20" stroke="#5a5a5a" stroke-width="0.6"/>
<text transform="translate(49.0,463.6) rotate(-44)" font-size="8.4" font-style="italic" text-anchor="end" fill="#231f20">Ppara</text>
<rect x="61.53" y="425.13" width="8.00" height="28.27" fill="#ff0000" stroke="#231f20" stroke-width="0.55"/>
<rect x="71.63" y="411.84" width="8.00" height="41.56" fill="#0000ff" stroke="#231f20" stroke-width="0.55"/>
<line x1="65.53" y1="425.13" x2="65.53" y2="422.59" stroke="#231f20" stroke-width="0.6"/>
<line x1="64.03" y1="422.59" x2="67.03" y2="422.59" stroke="#231f20" stroke-width="0.6"/>
<line x1="75.63" y1="411.84" x2="75.63" y2="409.58" stroke="#231f20" stroke-width="0.6"/>
<line x1="74.13" y1="409.58" x2="77.13" y2="409.58" stroke="#231f20" stroke-width="0.6"/>
<circle cx="65.53" cy="414.67" r="1.30" fill="#fff" stroke="#231f20" stroke-width="0.55"/>
<circle cx="63.73" cy="420.04" r="1.30" fill="#fff" stroke="#231f20" stroke-width="0.55"/>
<circle cx="65.53" cy="419.76" r="1.30" fill="#fff" stroke="#231f20" stroke-width="0.55"/>
<circle cx="67.33" cy="420.04" r="1.30" fill="#fff" stroke="#231f20" stroke-width="0.55"/>
<circle cx="67.33" cy="422.87" r="1.30" fill="#fff" stroke="#231f20" stroke-width="0.55"/>
<circle cx="64.63" cy="431.07" r="1.30" fill="#fff" stroke="#231f20" stroke-width="0.55"/>
<circle cx="66.43" cy="430.78" r="1.30" fill="#fff" stroke="#231f20" stroke-width="0.55"/>
<circle cx="65.53" cy="435.87" r="1.30" fill="#fff" stroke="#231f20" stroke-width="0.55"/>
<circle cx="75.63" cy="400.25" r="1.30" fill="#fff" stroke="#231f20" stroke-width="0.55"/>
<circle cx="73.38" cy="406.19" r="1.30" fill="#fff" stroke="#231f20" stroke-width="0.55"/>
<circle cx="75.63" cy="405.91" r="1.30" fill="#fff" stroke="#231f20" stroke-width="0.55"/>
<circle cx="77.88" cy="406.75" r="1.30" fill="#fff" stroke="#231f20" stroke-width="0.55"/>
<circle cx="75.63" cy="411.00" r="1.30" fill="#fff" stroke="#231f20" stroke-width="0.55"/>
<circle cx="73.38" cy="422.87" r="1.30" fill="#fff" stroke="#231f20" stroke-width="0.55"/>
<circle cx="77.88" cy="422.87" r="1.30" fill="#fff" stroke="#231f20" stroke-width="0.55"/>
<line x1="70.58" y1="453.40" x2="70.58" y2="457.20" stroke="#5a5a5a" stroke-width="0.6"/>
<text transform="translate(73.4,463.6) rotate(-44)" font-size="8.4" font-style="italic" text-anchor="end" fill="#231f20">Cpt1a</text>
<rect x="85.86" y="425.13" width="8.00" height="28.27" fill="#ff0000" stroke="#231f20" stroke-width="0.55"/>
<rect x="95.96" y="408.17" width="8.00" height="45.23" fill="#0000ff" stroke="#231f20" stroke-width="0.55"/>
<line x1="89.86" y1="425.13" x2="89.86" y2="422.30" stroke="#231f20" stroke-width="0.6"/>
<line x1="88.36" y1="422.30" x2="91.36" y2="422.30" stroke="#231f20" stroke-width="0.6"/>
<line x1="99.96" y1="408.17" x2="99.96" y2="399.97" stroke="#231f20" stroke-width="0.6"/>
<line x1="98.46" y1="399.97" x2="101.46" y2="399.97" stroke="#231f20" stroke-width="0.6"/>
<circle cx="89.86" cy="414.10" r="1.30" fill="#fff" stroke="#231f20" stroke-width="0.55"/>
<circle cx="87.61" cy="420.04" r="1.30" fill="#fff" stroke="#231f20" stroke-width="0.55"/>
<circle cx="89.86" cy="419.48" r="1.30" fill="#fff" stroke="#231f20" stroke-width="0.55"/>
<circle cx="92.11" cy="420.04" r="1.30" fill="#fff" stroke="#231f20" stroke-width="0.55"/>
<circle cx="88.51" cy="427.67" r="1.30" fill="#fff" stroke="#231f20" stroke-width="0.55"/>
<circle cx="91.21" cy="427.39" r="1.30" fill="#fff" stroke="#231f20" stroke-width="0.55"/>
<circle cx="88.96" cy="433.33" r="1.30" fill="#fff" stroke="#231f20" stroke-width="0.55"/>
<circle cx="90.76" cy="436.44" r="1.30" fill="#fff" stroke="#231f20" stroke-width="0.55"/>
<circle cx="99.96" cy="384.70" r="1.30" fill="#fff" stroke="#231f20" stroke-width="0.55"/>
<circle cx="99.96" cy="392.34" r="1.30" fill="#fff" stroke="#231f20" stroke-width="0.55"/>
<circle cx="99.96" cy="397.71" r="1.30" fill="#fff" stroke="#231f20" stroke-width="0.55"/>
<circle cx="99.96" cy="415.52" r="1.30" fill="#fff" stroke="#231f20" stroke-width="0.55"/>
<circle cx="97.71" cy="427.39" r="1.30" fill="#fff" stroke="#231f20" stroke-width="0.55"/>
<circle cx="102.21" cy="427.11" r="1.30" fill="#fff" stroke="#231f20" stroke-width="0.55"/>
<line x1="94.91" y1="453.40" x2="94.91" y2="457.20" stroke="#5a5a5a" stroke-width="0.6"/>
<text transform="translate(97.7,463.6) rotate(-44)" font-size="8.4" font-style="italic" text-anchor="end" fill="#231f20">Acadm</text>
<rect x="110.19" y="425.13" width="8.00" height="28.27" fill="#ff0000" stroke="#231f20" stroke-width="0.55"/>
<rect x="120.29" y="410.71" width="8.00" height="42.69" fill="#0000ff" stroke="#231f20" stroke-width="0.55"/>
<line x1="114.19" y1="425.13" x2="114.19" y2="423.15" stroke="#231f20" stroke-width="0.6"/>
<line x1="112.69" y1="423.15" x2="115.69" y2="423.15" stroke="#231f20" stroke-width="0.6"/>
<line x1="124.29" y1="410.71" x2="124.29" y2="405.34" stroke="#231f20" stroke-width="0.6"/>
<line x1="122.79" y1="405.34" x2="125.79" y2="405.34" stroke="#231f20" stroke-width="0.6"/>
<circle cx="114.19" cy="420.04" r="1.30" fill="#fff" stroke="#231f20" stroke-width="0.55"/>
<circle cx="112.39" cy="417.78" r="1.30" fill="#fff" stroke="#231f20" stroke-width="0.55"/>
<circle cx="115.99" cy="420.89" r="1.30" fill="#fff" stroke="#231f20" stroke-width="0.55"/>
<circle cx="111.94" cy="419.48" r="1.30" fill="#fff" stroke="#231f20" stroke-width="0.55"/>
<circle cx="116.44" cy="422.30" r="1.30" fill="#fff" stroke="#231f20" stroke-width="0.55"/>
<circle cx="112.84" cy="431.91" r="1.30" fill="#fff" stroke="#231f20" stroke-width="0.55"/>
<circle cx="115.54" cy="431.91" r="1.30" fill="#fff" stroke="#231f20" stroke-width="0.55"/>
<circle cx="124.29" cy="394.03" r="1.30" fill="#fff" stroke="#231f20" stroke-width="0.55"/>
<circle cx="124.29" cy="397.99" r="1.30" fill="#fff" stroke="#231f20" stroke-width="0.55"/>
<circle cx="124.29" cy="407.32" r="1.30" fill="#fff" stroke="#231f20" stroke-width="0.55"/>
<circle cx="124.29" cy="414.67" r="1.30" fill="#fff" stroke="#231f20" stroke-width="0.55"/>
<circle cx="122.04" cy="424.00" r="1.30" fill="#fff" stroke="#231f20" stroke-width="0.55"/>
<circle cx="126.54" cy="424.00" r="1.30" fill="#fff" stroke="#231f20" stroke-width="0.55"/>
<line x1="119.24" y1="453.40" x2="119.24" y2="457.20" stroke="#5a5a5a" stroke-width="0.6"/>
<text transform="translate(122.0,463.6) rotate(-44)" font-size="8.4" font-style="italic" text-anchor="end" fill="#231f20">Acadl</text>
<rect x="134.52" y="425.13" width="8.00" height="28.27" fill="#ff0000" stroke="#231f20" stroke-width="0.55"/>
<rect x="144.62" y="411.56" width="8.00" height="41.84" fill="#0000ff" stroke="#231f20" stroke-width="0.55"/>
<line x1="138.52" y1="425.13" x2="138.52" y2="423.15" stroke="#231f20" stroke-width="0.6"/>
<line x1="137.02" y1="423.15" x2="140.02" y2="423.15" stroke="#231f20" stroke-width="0.6"/>
<line x1="148.62" y1="411.56" x2="148.62" y2="409.30" stroke="#231f20" stroke-width="0.6"/>
<line x1="147.12" y1="409.30" x2="150.12" y2="409.30" stroke="#231f20" stroke-width="0.6"/>
<circle cx="138.52" cy="417.50" r="1.30" fill="#fff" stroke="#231f20" stroke-width="0.55"/>
<circle cx="136.72" cy="420.04" r="1.30" fill="#fff" stroke="#231f20" stroke-width="0.55"/>
<circle cx="140.32" cy="420.32" r="1.30" fill="#fff" stroke="#231f20" stroke-width="0.55"/>
<circle cx="140.77" cy="422.30" r="1.30" fill="#fff" stroke="#231f20" stroke-width="0.55"/>
<circle cx="137.17" cy="432.48" r="1.30" fill="#fff" stroke="#231f20" stroke-width="0.55"/>
<circle cx="139.87" cy="431.91" r="1.30" fill="#fff" stroke="#231f20" stroke-width="0.55"/>
<circle cx="138.52" cy="423.72" r="1.30" fill="#fff" stroke="#231f20" stroke-width="0.55"/>
<circle cx="148.62" cy="394.88" r="1.30" fill="#fff" stroke="#231f20" stroke-width="0.55"/>
<circle cx="148.62" cy="406.47" r="1.30" fill="#fff" stroke="#231f20" stroke-width="0.55"/>
<circle cx="148.62" cy="408.73" r="1.30" fill="#fff" stroke="#231f20" stroke-width="0.55"/>
<circle cx="148.62" cy="411.56" r="1.30" fill="#fff" stroke="#231f20" stroke-width="0.55"/>
<circle cx="146.37" cy="422.87" r="1.30" fill="#fff" stroke="#231f20" stroke-width="0.55"/>
<circle cx="150.87" cy="422.87" r="1.30" fill="#fff" stroke="#231f20" stroke-width="0.55"/>
<line x1="143.57" y1="453.40" x2="143.57" y2="457.20" stroke="#5a5a5a" stroke-width="0.6"/>
<text transform="translate(146.4,463.6) rotate(-44)" font-size="8.4" font-style="italic" text-anchor="end" fill="#231f20">Acadvl</text>
<rect x="158.85" y="425.13" width="8.00" height="28.27" fill="#ff0000" stroke="#231f20" stroke-width="0.55"/>
<rect x="168.95" y="410.15" width="8.00" height="43.25" fill="#0000ff" stroke="#231f20" stroke-width="0.55"/>
<line x1="162.85" y1="425.13" x2="162.85" y2="422.87" stroke="#231f20" stroke-width="0.6"/>
<line x1="161.35" y1="422.87" x2="164.35" y2="422.87" stroke="#231f20" stroke-width="0.6"/>
<line x1="172.95" y1="410.15" x2="172.95" y2="405.34" stroke="#231f20" stroke-width="0.6"/>
<line x1="171.45" y1="405.34" x2="174.45" y2="405.34" stroke="#231f20" stroke-width="0.6"/>
<circle cx="161.23" cy="414.95" r="1.30" fill="#fff" stroke="#231f20" stroke-width="0.55"/>
<circle cx="162.85" cy="416.65" r="1.30" fill="#fff" stroke="#231f20" stroke-width="0.55"/>
<circle cx="160.60" cy="423.15" r="1.30" fill="#fff" stroke="#231f20" stroke-width="0.55"/>
<circle cx="162.85" cy="422.30" r="1.30" fill="#fff" stroke="#231f20" stroke-width="0.55"/>
<circle cx="165.10" cy="420.89" r="1.30" fill="#fff" stroke="#231f20" stroke-width="0.55"/>
<circle cx="162.85" cy="431.35" r="1.30" fill="#fff" stroke="#231f20" stroke-width="0.55"/>
<circle cx="161.95" cy="434.74" r="1.30" fill="#fff" stroke="#231f20" stroke-width="0.55"/>
<circle cx="163.75" cy="434.74" r="1.30" fill="#fff" stroke="#231f20" stroke-width="0.55"/>
<circle cx="170.70" cy="397.14" r="1.30" fill="#fff" stroke="#231f20" stroke-width="0.55"/>
<circle cx="175.20" cy="396.86" r="1.30" fill="#fff" stroke="#231f20" stroke-width="0.55"/>
<circle cx="170.70" cy="409.58" r="1.30" fill="#fff" stroke="#231f20" stroke-width="0.55"/>
<circle cx="175.20" cy="409.30" r="1.30" fill="#fff" stroke="#231f20" stroke-width="0.55"/>
<circle cx="172.95" cy="420.04" r="1.30" fill="#fff" stroke="#231f20" stroke-width="0.55"/>
<circle cx="172.95" cy="425.98" r="1.30" fill="#fff" stroke="#231f20" stroke-width="0.55"/>
<line x1="167.90" y1="453.40" x2="167.90" y2="457.20" stroke="#5a5a5a" stroke-width="0.6"/>
<text transform="translate(170.7,463.6) rotate(-44)" font-size="8.4" font-style="italic" text-anchor="end" fill="#231f20">Acox1</text>
<rect x="183.18" y="425.13" width="8.00" height="28.27" fill="#ff0000" stroke="#231f20" stroke-width="0.55"/>
<rect x="193.28" y="409.30" width="8.00" height="44.10" fill="#0000ff" stroke="#231f20" stroke-width="0.55"/>
<line x1="187.18" y1="425.13" x2="187.18" y2="423.15" stroke="#231f20" stroke-width="0.6"/>
<line x1="185.68" y1="423.15" x2="188.68" y2="423.15" stroke="#231f20" stroke-width="0.6"/>
<line x1="197.28" y1="409.30" x2="197.28" y2="403.08" stroke="#231f20" stroke-width="0.6"/>
<line x1="195.78" y1="403.08" x2="198.78" y2="403.08" stroke="#231f20" stroke-width="0.6"/>
<circle cx="187.18" cy="411.00" r="1.30" fill="#fff" stroke="#231f20" stroke-width="0.55"/>
<circle cx="184.93" cy="421.17" r="1.30" fill="#fff" stroke="#231f20" stroke-width="0.55"/>
<circle cx="187.18" cy="421.17" r="1.30" fill="#fff" stroke="#231f20" stroke-width="0.55"/>
<circle cx="189.43" cy="421.17" r="1.30" fill="#fff" stroke="#231f20" stroke-width="0.55"/>
<circle cx="184.93" cy="429.37" r="1.30" fill="#fff" stroke="#231f20" stroke-width="0.55"/>
<circle cx="189.43" cy="429.37" r="1.30" fill="#fff" stroke="#231f20" stroke-width="0.55"/>
<circle cx="184.93" cy="432.20" r="1.30" fill="#fff" stroke="#231f20" stroke-width="0.55"/>
<circle cx="189.43" cy="432.20" r="1.30" fill="#fff" stroke="#231f20" stroke-width="0.55"/>
<circle cx="195.03" cy="394.88" r="1.30" fill="#fff" stroke="#231f20" stroke-width="0.55"/>
<circle cx="199.53" cy="394.03" r="1.30" fill="#fff" stroke="#231f20" stroke-width="0.55"/>
<circle cx="197.28" cy="399.97" r="1.30" fill="#fff" stroke="#231f20" stroke-width="0.55"/>
<circle cx="197.28" cy="417.50" r="1.30" fill="#fff" stroke="#231f20" stroke-width="0.55"/>
<circle cx="195.03" cy="422.59" r="1.30" fill="#fff" stroke="#231f20" stroke-width="0.55"/>
<circle cx="199.53" cy="421.17" r="1.30" fill="#fff" stroke="#231f20" stroke-width="0.55"/>
<line x1="192.23" y1="453.40" x2="192.23" y2="457.20" stroke="#5a5a5a" stroke-width="0.6"/>
<text transform="translate(195.0,463.6) rotate(-44)" font-size="8.4" font-style="italic" text-anchor="end" fill="#231f20">Hadha</text>
<rect x="207.51" y="425.13" width="8.00" height="28.27" fill="#ff0000" stroke="#231f20" stroke-width="0.55"/>
<rect x="217.61" y="411.84" width="8.00" height="41.56" fill="#0000ff" stroke="#231f20" stroke-width="0.55"/>
<line x1="211.51" y1="425.13" x2="211.51" y2="423.15" stroke="#231f20" stroke-width="0.6"/>
<line x1="210.01" y1="423.15" x2="213.01" y2="423.15" stroke="#231f20" stroke-width="0.6"/>
<line x1="221.61" y1="411.84" x2="221.61" y2="406.47" stroke="#231f20" stroke-width="0.6"/>
<line x1="220.11" y1="406.47" x2="223.11" y2="406.47" stroke="#231f20" stroke-width="0.6"/>
<circle cx="211.51" cy="417.50" r="1.30" fill="#fff" stroke="#231f20" stroke-width="0.55"/>
<circle cx="209.26" cy="418.91" r="1.30" fill="#fff" stroke="#231f20" stroke-width="0.55"/>
<circle cx="211.51" cy="418.91" r="1.30" fill="#fff" stroke="#231f20" stroke-width="0.55"/>
<circle cx="209.26" cy="420.89" r="1.30" fill="#fff" stroke="#231f20" stroke-width="0.55"/>
<circle cx="211.51" cy="420.89" r="1.30" fill="#fff" stroke="#231f20" stroke-width="0.55"/>
<circle cx="209.26" cy="432.20" r="1.30" fill="#fff" stroke="#231f20" stroke-width="0.55"/>
<circle cx="213.76" cy="432.20" r="1.30" fill="#fff" stroke="#231f20" stroke-width="0.55"/>
<circle cx="211.51" cy="425.13" r="1.30" fill="#fff" stroke="#231f20" stroke-width="0.55"/>
<circle cx="221.61" cy="395.45" r="1.30" fill="#fff" stroke="#231f20" stroke-width="0.55"/>
<circle cx="221.61" cy="399.40" r="1.30" fill="#fff" stroke="#231f20" stroke-width="0.55"/>
<circle cx="219.36" cy="411.00" r="1.30" fill="#fff" stroke="#231f20" stroke-width="0.55"/>
<circle cx="223.86" cy="411.00" r="1.30" fill="#fff" stroke="#231f20" stroke-width="0.55"/>
<circle cx="221.61" cy="421.17" r="1.30" fill="#fff" stroke="#231f20" stroke-width="0.55"/>
<circle cx="221.61" cy="425.41" r="1.30" fill="#fff" stroke="#231f20" stroke-width="0.55"/>
<line x1="216.56" y1="453.40" x2="216.56" y2="457.20" stroke="#5a5a5a" stroke-width="0.6"/>
<text transform="translate(219.4,463.6) rotate(-44)" font-size="8.4" font-style="italic" text-anchor="end" fill="#231f20">Hadhb</text>
<rect x="231.84" y="425.13" width="8.00" height="28.27" fill="#ff0000" stroke="#231f20" stroke-width="0.55"/>
<rect x="241.94" y="411.28" width="8.00" height="42.12" fill="#0000ff" stroke="#231f20" stroke-width="0.55"/>
<line x1="235.84" y1="425.13" x2="235.84" y2="423.43" stroke="#231f20" stroke-width="0.6"/>
<line x1="234.34" y1="423.43" x2="237.34" y2="423.43" stroke="#231f20" stroke-width="0.6"/>
<line x1="245.94" y1="411.28" x2="245.94" y2="406.47" stroke="#231f20" stroke-width="0.6"/>
<line x1="244.44" y1="406.47" x2="247.44" y2="406.47" stroke="#231f20" stroke-width="0.6"/>
<circle cx="235.84" cy="418.06" r="1.30" fill="#fff" stroke="#231f20" stroke-width="0.55"/>
<circle cx="233.59" cy="423.15" r="1.30" fill="#fff" stroke="#231f20" stroke-width="0.55"/>
<circle cx="235.84" cy="422.59" r="1.30" fill="#fff" stroke="#231f20" stroke-width="0.55"/>
<circle cx="238.09" cy="423.15" r="1.30" fill="#fff" stroke="#231f20" stroke-width="0.55"/>
<circle cx="234.94" cy="427.39" r="1.30" fill="#fff" stroke="#231f20" stroke-width="0.55"/>
<circle cx="236.74" cy="427.39" r="1.30" fill="#fff" stroke="#231f20" stroke-width="0.55"/>
<circle cx="235.84" cy="431.63" r="1.30" fill="#fff" stroke="#231f20" stroke-width="0.55"/>
<circle cx="245.94" cy="397.14" r="1.30" fill="#fff" stroke="#231f20" stroke-width="0.55"/>
<circle cx="243.69" cy="404.78" r="1.30" fill="#fff" stroke="#231f20" stroke-width="0.55"/>
<circle cx="248.19" cy="406.47" r="1.30" fill="#fff" stroke="#231f20" stroke-width="0.55"/>
<circle cx="245.94" cy="411.00" r="1.30" fill="#fff" stroke="#231f20" stroke-width="0.55"/>
<circle cx="245.94" cy="420.89" r="1.30" fill="#fff" stroke="#231f20" stroke-width="0.55"/>
<circle cx="245.94" cy="425.41" r="1.30" fill="#fff" stroke="#231f20" stroke-width="0.55"/>
<line x1="240.89" y1="453.40" x2="240.89" y2="457.20" stroke="#5a5a5a" stroke-width="0.6"/>
<text transform="translate(243.7,463.6) rotate(-44)" font-size="8.4" font-style="italic" text-anchor="end" fill="#231f20">Acaa2</text>
<rect x="256.17" y="425.13" width="8.00" height="28.27" fill="#ff0000" stroke="#231f20" stroke-width="0.55"/>
<rect x="266.27" y="409.58" width="8.00" height="43.82" fill="#0000ff" stroke="#231f20" stroke-width="0.55"/>
<line x1="260.17" y1="425.13" x2="260.17" y2="423.15" stroke="#231f20" stroke-width="0.6"/>
<line x1="258.67" y1="423.15" x2="261.67" y2="423.15" stroke="#231f20" stroke-width="0.6"/>
<line x1="270.27" y1="409.58" x2="270.27" y2="405.34" stroke="#231f20" stroke-width="0.6"/>
<line x1="268.77" y1="405.34" x2="271.77" y2="405.34" stroke="#231f20" stroke-width="0.6"/>
<circle cx="257.92" cy="420.04" r="1.30" fill="#fff" stroke="#231f20" stroke-width="0.55"/>
<circle cx="260.17" cy="420.04" r="1.30" fill="#fff" stroke="#231f20" stroke-width="0.55"/>
<circle cx="261.97" cy="420.61" r="1.30" fill="#fff" stroke="#231f20" stroke-width="0.55"/>
<circle cx="260.17" cy="422.30" r="1.30" fill="#fff" stroke="#231f20" stroke-width="0.55"/>
<circle cx="258.82" cy="431.91" r="1.30" fill="#fff" stroke="#231f20" stroke-width="0.55"/>
<circle cx="261.52" cy="431.91" r="1.30" fill="#fff" stroke="#231f20" stroke-width="0.55"/>
<circle cx="260.17" cy="419.48" r="1.30" fill="#fff" stroke="#231f20" stroke-width="0.55"/>
<circle cx="270.27" cy="391.49" r="1.30" fill="#fff" stroke="#231f20" stroke-width="0.55"/>
<circle cx="268.02" cy="403.64" r="1.30" fill="#fff" stroke="#231f20" stroke-width="0.55"/>
<circle cx="272.52" cy="403.64" r="1.30" fill="#fff" stroke="#231f20" stroke-width="0.55"/>
<circle cx="270.27" cy="411.84" r="1.30" fill="#fff" stroke="#231f20" stroke-width="0.55"/>
<circle cx="268.02" cy="422.02" r="1.30" fill="#fff" stroke="#231f20" stroke-width="0.55"/>
<circle cx="272.52" cy="422.02" r="1.30" fill="#fff" stroke="#231f20" stroke-width="0.55"/>
<line x1="265.22" y1="453.40" x2="265.22" y2="457.20" stroke="#5a5a5a" stroke-width="0.6"/>
<text transform="translate(268.0,463.6) rotate(-44)" font-size="8.4" font-style="italic" text-anchor="end" fill="#231f20">Eci1</text>
<rect x="280.50" y="425.13" width="8.00" height="28.27" fill="#ff0000" stroke="#231f20" stroke-width="0.55"/>
<rect x="290.60" y="409.30" width="8.00" height="44.10" fill="#0000ff" stroke="#231f20" stroke-width="0.55"/>
<line x1="284.50" y1="425.13" x2="284.50" y2="423.15" stroke="#231f20" stroke-width="0.6"/>
<line x1="283.00" y1="423.15" x2="286.00" y2="423.15" stroke="#231f20" stroke-width="0.6"/>
<line x1="294.60" y1="409.30" x2="294.60" y2="403.93" stroke="#231f20" stroke-width="0.6"/>
<line x1="293.10" y1="403.93" x2="296.10" y2="403.93" stroke="#231f20" stroke-width="0.6"/>
<circle cx="284.50" cy="403.93" r="1.30" fill="#fff" stroke="#231f20" stroke-width="0.55"/>
<circle cx="282.25" cy="421.74" r="1.30" fill="#fff" stroke="#231f20" stroke-width="0.55"/>
<circle cx="284.50" cy="421.45" r="1.30" fill="#fff" stroke="#231f20" stroke-width="0.55"/>
<circle cx="286.75" cy="420.32" r="1.30" fill="#fff" stroke="#231f20" stroke-width="0.55"/>
<circle cx="284.50" cy="430.78" r="1.30" fill="#fff" stroke="#231f20" stroke-width="0.55"/>
<circle cx="284.50" cy="432.20" r="1.30" fill="#fff" stroke="#231f20" stroke-width="0.55"/>
<circle cx="282.25" cy="435.59" r="1.30" fill="#fff" stroke="#231f20" stroke-width="0.55"/>
<circle cx="292.35" cy="396.86" r="1.30" fill="#fff" stroke="#231f20" stroke-width="0.55"/>
<circle cx="296.85" cy="396.58" r="1.30" fill="#fff" stroke="#231f20" stroke-width="0.55"/>
<circle cx="294.60" cy="401.95" r="1.30" fill="#fff" stroke="#231f20" stroke-width="0.55"/>
<circle cx="294.60" cy="415.24" r="1.30" fill="#fff" stroke="#231f20" stroke-width="0.55"/>
<circle cx="292.35" cy="422.30" r="1.30" fill="#fff" stroke="#231f20" stroke-width="0.55"/>
<circle cx="296.85" cy="419.48" r="1.30" fill="#fff" stroke="#231f20" stroke-width="0.55"/>
<line x1="289.55" y1="453.40" x2="289.55" y2="457.20" stroke="#5a5a5a" stroke-width="0.6"/>
<text transform="translate(292.4,463.6) rotate(-44)" font-size="8.4" font-style="italic" text-anchor="end" fill="#231f20">Eci2</text>
<rect x="304.83" y="425.13" width="8.00" height="28.27" fill="#ff0000" stroke="#231f20" stroke-width="0.55"/>
<rect x="314.93" y="406.47" width="8.00" height="46.93" fill="#0000ff" stroke="#231f20" stroke-width="0.55"/>
<line x1="308.83" y1="425.13" x2="308.83" y2="422.59" stroke="#231f20" stroke-width="0.6"/>
<line x1="307.33" y1="422.59" x2="310.33" y2="422.59" stroke="#231f20" stroke-width="0.6"/>
<line x1="318.93" y1="406.47" x2="318.93" y2="398.27" stroke="#231f20" stroke-width="0.6"/>
<line x1="317.43" y1="398.27" x2="320.43" y2="398.27" stroke="#231f20" stroke-width="0.6"/>
<circle cx="308.83" cy="394.88" r="1.30" fill="#fff" stroke="#231f20" stroke-width="0.55"/>
<circle cx="306.58" cy="423.15" r="1.30" fill="#fff" stroke="#231f20" stroke-width="0.55"/>
<circle cx="308.83" cy="421.74" r="1.30" fill="#fff" stroke="#231f20" stroke-width="0.55"/>
<circle cx="311.08" cy="423.72" r="1.30" fill="#fff" stroke="#231f20" stroke-width="0.55"/>
<circle cx="308.83" cy="429.94" r="1.30" fill="#fff" stroke="#231f20" stroke-width="0.55"/>
<circle cx="308.83" cy="438.70" r="1.30" fill="#fff" stroke="#231f20" stroke-width="0.55"/>
<circle cx="308.83" cy="442.09" r="1.30" fill="#fff" stroke="#231f20" stroke-width="0.55"/>
<circle cx="317.13" cy="389.79" r="1.30" fill="#fff" stroke="#231f20" stroke-width="0.55"/>
<circle cx="319.83" cy="389.23" r="1.30" fill="#fff" stroke="#231f20" stroke-width="0.55"/>
<circle cx="319.38" cy="391.21" r="1.30" fill="#fff" stroke="#231f20" stroke-width="0.55"/>
<circle cx="316.68" cy="422.59" r="1.30" fill="#fff" stroke="#231f20" stroke-width="0.55"/>
<circle cx="321.18" cy="422.59" r="1.30" fill="#fff" stroke="#231f20" stroke-width="0.55"/>
<circle cx="318.93" cy="420.04" r="1.30" fill="#fff" stroke="#231f20" stroke-width="0.55"/>
<line x1="313.88" y1="453.40" x2="313.88" y2="457.20" stroke="#5a5a5a" stroke-width="0.6"/>
<text transform="translate(316.7,463.6) rotate(-44)" font-size="8.4" font-style="italic" text-anchor="end" fill="#231f20">Acsl1</text>
<line x1="33.70" y1="368.70" x2="33.70" y2="453.40" stroke="#5a5a5a" stroke-width="0.7"/>
<line x1="33.70" y1="453.40" x2="327.50" y2="453.40" stroke="#5a5a5a" stroke-width="0.7"/>
<line x1="29.90" y1="453.40" x2="33.70" y2="453.40" stroke="#5a5a5a" stroke-width="0.6"/>
<text x="26.00" y="456.00" font-size="7.6" text-anchor="end" fill="#333">0</text>
<line x1="29.90" y1="425.13" x2="33.70" y2="425.13" stroke="#5a5a5a" stroke-width="0.6"/>
<text x="26.00" y="427.73" font-size="7.6" text-anchor="end" fill="#333">1</text>
<line x1="29.90" y1="396.86" x2="33.70" y2="396.86" stroke="#5a5a5a" stroke-width="0.6"/>
<text x="26.00" y="399.46" font-size="7.6" text-anchor="end" fill="#333">2</text>
<line x1="29.90" y1="368.59" x2="33.70" y2="368.59" stroke="#5a5a5a" stroke-width="0.6"/>
<text x="26.00" y="371.19" font-size="7.6" text-anchor="end" fill="#333">3</text>
<text x="13.60" y="412.00" font-size="8.6" text-anchor="middle" textLength="84.70" lengthAdjust="spacingAndGlyphs" transform="rotate(-90 13.60 412.00)">Fold gene expression</text>
<text x="0.80" y="501.80" font-size="14" font-weight="bold" fill="#000" stroke="#000" stroke-width="0.45">f</text>
<defs><clipPath id="clip11"><rect x="35.3" y="498.3" width="85.8" height="64.6"/></clipPath></defs>
<g clip-path="url(#clip11)">
<rect x="35.30" y="498.30" width="85.80" height="64.60" fill="#ece5ef"/>
<path d="M74.1 534.5h0M89.7 536.8h0M38.9 507.8h0M78.0 538.0h0M70.8 560.1h0M38.8 511.2h0M87.7 502.1h0M91.4 535.8h0M94.0 519.0h0M82.3 551.1h0M95.0 558.9h0M91.1 531.3h0M102.8 502.2h0M67.8 501.5h0M52.8 512.2h0M46.3 511.8h0M69.0 502.2h0M66.6 502.4h0M40.8 502.7h0M93.9 515.9h0M120.9 511.4h0M115.2 508.1h0M47.9 539.1h0M93.4 527.7h0M79.7 536.0h0M81.4 540.8h0M54.2 503.8h0M77.4 529.9h0M65.4 562.7h0M71.1 533.2h0M113.9 503.4h0M100.2 520.5h0M47.8 537.4h0M68.6 540.2h0M56.9 543.2h0M62.8 498.8h0M71.6 549.3h0M81.6 519.4h0M113.5 509.8h0M119.3 551.9h0M55.6 561.6h0M45.9 514.5h0M56.1 528.5h0M62.6 531.6h0M72.8 527.8h0M107.5 501.1h0M76.9 503.1h0M118.1 502.1h0M49.0 535.8h0M105.9 514.1h0M54.5 511.2h0M85.5 527.5h0M64.9 501.9h0M37.1 523.9h0M66.3 526.4h0M68.1 562.8h0M101.6 519.4h0M101.6 498.7h0M60.0 549.2h0M104.7 545.2h0M95.8 552.6h0M60.5 505.6h0M66.7 543.6h0M91.5 511.7h0M115.1 538.1h0M56.9 559.8h0M83.8 539.0h0M49.1 545.7h0M75.5 498.7h0M72.9 507.3h0M85.6 523.7h0M36.8 527.3h0M78.8 562.2h0M53.5 510.7h0M53.8 553.8h0M36.5 535.1h0M97.3 544.0h0M41.7 538.7h0M66.2 561.9h0M76.8 538.6h0M95.3 535.5h0M37.7 534.7h0M42.5 524.1h0M60.2 509.0h0M115.9 559.5h0M86.6 546.5h0M74.6 515.8h0" stroke="#7c60a4" stroke-width="1.00" stroke-linecap="round" fill="none"/>
<path d="M78.9 536.2h0M91.4 538.1h0M63.3 536.5h0M100.3 505.9h0M88.0 516.4h0M94.6 536.1h0M112.2 522.1h0M109.4 532.8h0M94.1 499.4h0M66.2 522.2h0M115.9 535.1h0M97.5 543.5h0M59.2 513.8h0M37.6 500.8h0M54.3 502.0h0M99.3 540.2h0M44.6 510.2h0M113.0 527.4h0M36.9 510.4h0M106.2 504.3h0M40.8 557.4h0M52.4 528.5h0M56.3 552.8h0M116.9 498.3h0M96.3 511.0h0M79.6 561.4h0M55.5 529.9h0M87.1 515.2h0M60.9 541.6h0M60.8 551.0h0M101.5 529.4h0M93.9 510.2h0M106.8 505.9h0M120.5 523.8h0M86.0 528.4h0M104.2 514.8h0M68.5 505.9h0M120.5 521.0h0M64.8 508.8h0M49.0 553.8h0M43.0 550.0h0M112.5 514.8h0M116.4 510.7h0M47.9 554.5h0M63.8 557.3h0M78.5 520.4h0M110.1 518.4h0M88.4 511.7h0M45.6 517.9h0M120.8 527.7h0M40.4 536.0h0M82.0 562.1h0M36.1 533.6h0M105.6 553.8h0M37.1 543.3h0M69.9 534.7h0M66.9 555.7h0M82.7 518.8h0M67.8 505.9h0M45.1 507.4h0M77.3 560.4h0M91.3 506.7h0M67.7 520.7h0M80.0 539.2h0M84.2 524.7h0M56.6 502.6h0M119.4 537.3h0M109.4 544.8h0M105.7 500.6h0M55.2 544.6h0M60.0 539.4h0M53.2 515.6h0M80.2 538.3h0M74.3 543.7h0M80.3 547.3h0M38.2 542.4h0M37.4 529.1h0M80.2 518.0h0M98.4 528.4h0M102.0 531.1h0M40.6 535.6h0M86.3 556.3h0M61.6 556.8h0M78.9 549.7h0M51.5 528.0h0M44.7 516.3h0M58.9 517.1h0M86.0 525.3h0M40.9 557.4h0M66.4 520.5h0M73.2 535.7h0M45.5 557.9h0M82.5 526.3h0M38.9 502.0h0" stroke="#9070b0" stroke-width="1.30" stroke-linecap="round" fill="none"/>
<path d="M76.1 538.0h0M68.2 523.8h0M104.3 547.0h0M40.8 561.6h0M69.1 549.5h0M75.1 540.4h0M62.4 518.6h0M79.5 535.0h0M48.6 536.5h0M42.6 539.3h0M81.2 508.0h0M52.8 557.5h0M43.1 551.7h0M83.0 503.9h0M52.6 539.2h0M49.4 562.1h0M115.0 530.6h0M77.3 547.5h0M55.9 555.8h0M59.7 543.7h0M58.4 515.0h0M48.7 510.7h0M69.3 558.6h0M106.8 545.1h0M40.7 528.4h0M64.0 546.2h0M77.3 560.4h0M91.8 511.8h0M87.6 521.4h0M91.2 502.2h0M61.8 521.1h0M70.8 499.0h0M117.1 534.5h0M44.1 518.1h0M104.4 504.6h0M58.5 545.2h0M41.9 532.3h0M87.9 537.9h0M115.2 525.1h0M100.8 514.1h0M113.8 507.6h0M116.6 503.6h0M58.8 517.5h0M105.2 517.9h0M111.1 530.6h0M102.9 555.6h0M105.2 545.1h0M86.1 513.2h0M81.8 559.0h0M63.8 524.2h0M116.8 554.2h0M54.6 537.5h0M77.5 522.7h0M118.7 543.4h0M107.3 523.0h0M44.3 499.3h0M50.0 562.3h0M107.3 542.3h0M95.4 546.2h0M57.4 559.7h0M77.5 529.6h0M43.8 559.6h0M55.3 512.6h0M39.7 522.1h0M68.7 561.9h0M97.6 559.1h0M42.1 525.8h0M54.9 516.3h0M66.0 509.0h0M90.0 539.3h0M114.6 529.5h0M85.7 504.2h0M36.9 550.8h0M72.7 521.1h0M59.3 499.5h0M64.0 521.7h0M96.4 525.9h0M109.4 509.4h0M116.2 532.3h0M84.5 498.4h0M66.7 532.4h0M84.3 519.1h0M42.7 542.6h0M55.7 515.3h0M94.2 555.6h0M61.1 518.7h0M89.5 555.4h0M82.7 498.5h0M44.9 539.6h0M68.5 553.0h0M73.9 560.6h0M91.9 521.0h0M77.2 523.4h0" stroke="#9070b0" stroke-width="0.70" stroke-linecap="round" fill="none"/>
<path d="M73.6 507.5h0M41.6 504.1h0M62.1 500.5h0M45.2 505.3h0M96.6 547.1h0M61.4 507.4h0M44.4 500.7h0M46.7 519.6h0M59.0 520.3h0M73.4 539.9h0M119.3 551.1h0M74.4 515.2h0M45.1 556.0h0M107.9 516.0h0M42.0 503.7h0M93.0 530.2h0M55.5 544.6h0M103.0 551.6h0M84.6 511.1h0M55.8 535.1h0M44.1 520.6h0M79.9 506.7h0M80.8 501.2h0M98.9 531.4h0M77.2 510.4h0M76.4 543.1h0M63.2 509.8h0M83.1 512.2h0M44.6 525.0h0M55.7 541.1h0M66.2 559.7h0M65.9 514.2h0M67.0 517.8h0M117.4 521.3h0M99.7 543.7h0M119.6 542.6h0M51.0 506.2h0M65.9 555.4h0M115.4 518.6h0M114.2 499.8h0M64.7 549.4h0M39.8 521.3h0M54.9 537.3h0M85.6 545.3h0M93.4 510.6h0M58.1 527.0h0M51.7 554.4h0M69.4 534.0h0M81.9 520.1h0M63.9 560.2h0M83.1 523.5h0M78.2 547.8h0M66.4 537.4h0M97.4 548.8h0M71.5 552.9h0M80.9 506.6h0M76.2 515.3h0M105.4 513.7h0M43.0 531.0h0M57.4 506.9h0M99.2 556.2h0M86.5 534.9h0M62.0 507.2h0M44.0 549.0h0M47.5 517.7h0M100.8 560.0h0M48.2 526.9h0M101.9 537.1h0M88.6 542.5h0M43.6 552.0h0M54.5 562.1h0M78.7 507.7h0M93.7 551.4h0M111.8 520.6h0M98.3 548.1h0M107.9 533.6h0M51.9 503.5h0M50.1 539.8h0M76.6 509.0h0M104.9 510.1h0M120.8 527.7h0M63.4 528.2h0M71.8 548.9h0M71.1 539.4h0M55.0 554.4h0M94.3 508.3h0M65.2 514.0h0M82.0 559.1h0M110.6 535.6h0M94.5 509.2h0M98.2 553.9h0M37.8 537.5h0M91.1 523.3h0M48.0 549.2h0M41.3 507.2h0M93.7 534.6h0M47.9 560.7h0M87.9 537.9h0M99.5 532.7h0M114.2 506.5h0M66.6 553.0h0M41.1 560.5h0M103.1 544.8h0M97.9 521.2h0M117.6 502.4h0M67.1 546.7h0M105.3 537.7h0M70.7 561.2h0M53.0 560.8h0M43.8 540.2h0" stroke="#c898c0" stroke-width="1.30" stroke-linecap="round" fill="none"/>
<path d="M36.6 532.4h0M42.0 501.4h0M101.2 529.8h0M104.7 502.4h0M114.7 506.7h0M102.1 510.9h0M114.8 504.5h0M57.3 524.2h0M99.2 552.5h0M95.7 504.8h0M89.1 511.1h0M88.1 539.7h0M71.5 506.2h0M50.7 545.7h0M108.8 500.3h0M66.6 512.3h0M99.2 532.0h0M108.7 525.3h0M101.0 545.0h0M64.9 512.2h0M68.1 557.1h0M46.1 502.4h0M48.8 562.7h0M66.7 515.1h0M56.8 557.1h0M107.4 547.5h0M102.0 532.2h0M81.7 505.4h0M39.6 552.3h0M100.4 520.6h0M71.2 542.2h0M62.7 545.8h0M70.9 532.9h0M115.9 556.3h0M101.3 508.5h0M98.5 512.0h0M54.6 544.2h0M80.1 529.8h0M111.5 501.9h0M117.1 521.1h0M114.0 552.3h0M58.5 511.2h0M42.0 554.2h0M110.4 521.0h0M59.0 538.0h0M87.4 545.7h0M75.5 531.1h0M40.3 504.7h0M44.0 536.2h0M75.1 505.9h0M77.0 511.1h0M102.0 529.9h0M107.6 557.0h0M97.4 549.4h0M96.8 532.4h0M66.8 510.6h0M87.6 554.8h0M109.8 554.3h0M43.6 532.8h0M74.5 526.8h0M48.8 526.6h0M54.3 506.5h0M80.4 510.2h0M70.7 536.6h0M73.3 542.1h0M116.0 528.9h0M36.5 527.4h0M77.5 522.5h0M105.1 541.4h0M42.4 541.0h0M46.3 532.6h0M52.3 535.5h0M106.9 552.2h0M95.8 512.4h0M84.4 560.1h0M70.3 529.9h0M67.3 514.0h0M82.7 562.0h0M35.4 511.6h0M36.8 531.9h0M42.0 533.0h0M119.7 526.8h0M115.7 526.2h0M88.3 538.0h0M74.9 502.6h0M69.7 520.0h0M93.5 536.6h0M69.4 548.9h0M116.9 526.7h0M66.2 527.1h0M65.6 537.4h0M87.9 520.9h0" stroke="#a880c0" stroke-width="0.70" stroke-linecap="round" fill="none"/>
<path d="M51.6 513.9h0M35.3 511.8h0M64.2 518.4h0M42.6 528.9h0M47.0 527.7h0M74.0 511.0h0M111.6 506.9h0M121.0 552.1h0M116.9 528.1h0M49.5 531.4h0M91.7 519.4h0M64.0 516.0h0M41.5 538.2h0M80.7 516.0h0M101.9 509.9h0M36.8 529.4h0M91.7 513.6h0M120.9 541.4h0M76.1 517.3h0M120.0 526.3h0M91.9 537.6h0M61.0 519.3h0M65.9 536.1h0M58.0 505.0h0M109.6 554.5h0M55.1 510.2h0M59.8 545.5h0M72.4 508.1h0M113.0 519.1h0M65.4 526.1h0M92.6 508.4h0M104.9 545.5h0M118.9 548.4h0M80.9 500.1h0M84.0 530.7h0M93.2 544.4h0M100.2 542.0h0M110.3 528.8h0M101.6 519.2h0M57.8 503.2h0M44.9 554.4h0M39.8 500.4h0M74.2 522.4h0M36.6 518.0h0M90.1 539.2h0M76.6 539.7h0M55.4 551.9h0M52.0 539.2h0M65.6 502.1h0M63.7 558.2h0M56.0 519.5h0M38.9 502.0h0M70.6 517.9h0M63.2 545.2h0M107.9 543.6h0M81.1 523.3h0M58.4 505.6h0M73.7 553.7h0M106.0 520.5h0M89.6 528.6h0M73.6 537.4h0M84.9 556.3h0M91.4 525.9h0M55.1 556.4h0M72.9 530.6h0M73.4 532.3h0M102.0 516.1h0M115.5 532.4h0M111.3 558.7h0M43.9 505.9h0M72.6 502.1h0M79.0 521.4h0M105.8 545.8h0M43.0 535.9h0M58.4 540.3h0M94.3 517.2h0M81.0 504.9h0M49.9 542.4h0M40.9 528.1h0M76.5 511.8h0M53.0 511.5h0M37.6 549.8h0M55.2 538.2h0M84.7 518.5h0M103.0 558.2h0M67.2 529.3h0M116.4 527.5h0M65.8 535.3h0M39.2 547.8h0M75.4 531.0h0M85.2 513.9h0M35.9 547.0h0M92.8 559.1h0M67.4 500.1h0M48.9 527.8h0M110.7 520.7h0M101.8 527.6h0M75.9 540.1h0M113.9 532.6h0M71.3 535.5h0M87.8 528.3h0M100.9 559.9h0M106.8 559.4h0M95.4 533.8h0M90.6 550.0h0M60.2 542.1h0M82.2 561.1h0M107.7 511.4h0M40.4 562.9h0M76.8 558.1h0M68.6 543.3h0M67.0 559.9h0M84.2 534.9h0" stroke="#a880c0" stroke-width="1.00" stroke-linecap="round" fill="none"/>
<path d="M55.3 517.3h0M107.9 523.3h0M36.4 503.0h0M47.0 530.4h0M61.8 549.4h0M55.7 507.4h0M90.2 522.1h0M44.3 545.5h0M71.0 531.9h0M56.8 547.1h0M93.3 546.5h0M106.1 505.9h0M91.7 559.0h0M104.3 532.2h0M103.1 508.0h0M87.8 517.4h0M99.4 529.5h0M92.4 513.8h0M84.7 559.2h0M62.8 547.0h0M120.6 502.5h0M41.5 530.4h0M68.6 516.3h0M106.5 531.6h0M121.0 534.7h0M40.1 510.2h0M53.6 557.0h0M41.5 556.6h0M51.9 543.1h0M109.0 558.7h0M103.1 533.2h0M85.6 525.4h0M42.8 510.0h0M60.9 537.1h0M53.0 499.9h0M77.3 543.2h0M54.9 544.7h0M37.2 517.7h0M86.1 533.6h0M115.6 541.3h0M110.5 522.9h0M73.9 526.5h0M60.8 514.1h0M90.1 513.9h0M66.1 521.9h0M102.2 505.4h0M80.4 534.6h0M51.5 518.7h0M107.1 531.6h0M81.4 534.4h0M96.2 545.6h0M76.4 520.1h0M99.1 505.8h0M86.0 507.0h0M41.4 541.2h0M99.2 546.4h0M40.7 508.8h0M74.6 502.4h0M37.2 520.7h0M50.6 549.3h0M92.5 534.5h0M67.0 516.8h0M82.3 554.3h0M43.2 562.1h0M37.0 509.0h0M108.7 505.4h0M72.1 536.8h0M80.6 536.1h0M84.6 556.4h0M41.7 562.7h0M115.1 527.5h0M76.4 522.8h0M36.1 545.1h0M93.2 504.3h0M59.9 505.7h0M43.4 545.3h0M72.0 532.3h0M106.8 558.9h0M113.3 534.9h0M46.3 509.7h0M38.0 529.2h0M54.9 528.9h0M105.4 513.9h0M98.8 541.1h0M98.2 545.9h0M81.4 520.0h0M86.7 540.6h0M69.5 540.5h0M70.7 498.6h0M41.7 533.1h0M36.1 538.1h0M77.7 554.5h0M63.0 523.5h0M83.6 559.2h0M110.7 502.5h0" stroke="#a880c0" stroke-width="1.30" stroke-linecap="round" fill="none"/>
<path d="M42.6 540.6h0M119.8 548.0h0M74.2 560.3h0M52.2 559.7h0M47.0 503.0h0M116.3 500.3h0M36.5 541.1h0M45.2 514.9h0M107.4 542.8h0M58.7 530.4h0M81.5 501.1h0M112.6 558.7h0M68.6 526.4h0M103.1 506.4h0M60.9 512.3h0M90.4 543.6h0M68.4 561.0h0M98.7 522.1h0M104.4 552.2h0M50.7 524.3h0M102.9 524.3h0M110.2 561.1h0M82.3 518.6h0M96.5 524.5h0M104.4 511.7h0M111.3 518.3h0M106.4 535.0h0M50.0 502.7h0M101.0 561.7h0M109.5 562.5h0M84.8 513.0h0M53.5 538.1h0M72.7 528.5h0M49.9 531.0h0M56.9 515.7h0M77.7 542.8h0M105.9 540.4h0M104.2 542.5h0M102.8 513.4h0M38.6 507.8h0M37.4 547.6h0M54.2 549.9h0M75.0 504.1h0M109.3 532.9h0M49.6 538.7h0M77.1 556.8h0M86.2 547.5h0M36.4 507.9h0M93.1 512.3h0M92.8 538.9h0M51.6 528.5h0M83.1 506.1h0M81.8 515.3h0M92.9 545.4h0M121.1 501.3h0M71.3 508.5h0M49.8 551.7h0M45.6 531.8h0M50.6 547.1h0M70.7 533.6h0M81.5 522.1h0M48.8 513.7h0M63.5 556.1h0M107.0 507.2h0M82.5 501.7h0M101.6 562.3h0M43.5 509.3h0M108.9 530.3h0M39.7 539.1h0M106.3 537.7h0M39.3 534.4h0M61.8 547.6h0M82.3 501.5h0M65.3 555.7h0M39.9 518.7h0M59.7 559.2h0M119.6 515.3h0M107.7 544.2h0M57.4 548.0h0M98.8 540.3h0M115.9 531.0h0M36.0 561.6h0M116.1 499.1h0M69.0 557.0h0M75.7 499.0h0M104.9 558.1h0M50.5 549.9h0M100.1 532.4h0M97.8 545.5h0M70.3 517.2h0M88.2 503.8h0M67.0 557.3h0M99.1 527.5h0M102.8 543.6h0M91.9 502.8h0M47.1 515.8h0M111.6 552.2h0M83.7 529.0h0M108.4 512.2h0M60.0 500.4h0" stroke="#7c60a4" stroke-width="1.30" stroke-linecap="round" fill="none"/>
<path d="M120.7 552.6h0M83.9 511.1h0M70.0 514.5h0M68.1 531.9h0M52.0 513.0h0M110.7 499.8h0M115.0 541.2h0M89.6 524.7h0M103.7 512.8h0M46.0 526.9h0M96.2 535.1h0M56.4 508.8h0M41.7 507.4h0M112.7 508.1h0M90.8 547.8h0M63.7 520.4h0M56.3 535.5h0M61.7 541.7h0M111.6 528.2h0M44.9 526.4h0M104.5 530.8h0M42.1 551.5h0M57.1 531.1h0M46.0 522.7h0M83.9 507.6h0M104.8 549.5h0M115.6 529.4h0M45.7 546.0h0M79.5 500.4h0M105.4 543.5h0M85.0 498.7h0M115.1 511.2h0M63.1 505.3h0M39.4 522.2h0M47.2 507.1h0M91.1 542.6h0M84.1 559.2h0M68.2 546.3h0M57.4 549.4h0M61.0 560.0h0M66.5 512.3h0M86.9 518.9h0M109.6 517.9h0M98.2 539.8h0M94.3 538.8h0M97.3 553.6h0M74.7 551.6h0M104.3 523.8h0M67.9 508.6h0M103.4 531.0h0M96.0 511.1h0M39.0 502.3h0M39.4 536.1h0M109.7 537.6h0M40.5 555.6h0M96.6 559.5h0M87.1 516.6h0M102.5 526.5h0M54.3 517.2h0M88.4 542.3h0M82.6 525.3h0M67.5 519.4h0M51.8 560.5h0M76.3 509.4h0M79.4 531.3h0M95.1 559.7h0M97.2 520.7h0M43.3 538.8h0M120.6 544.4h0M112.0 548.7h0M85.9 554.8h0M103.8 517.2h0M74.5 501.1h0M110.7 560.6h0M86.2 527.8h0M106.3 528.7h0M45.5 532.8h0M61.8 556.5h0" stroke="#a898d4" stroke-width="1.00" stroke-linecap="round" fill="none"/>
<path d="M62.4 513.1h0M84.4 506.8h0M68.3 536.0h0M52.3 551.5h0M55.3 546.2h0M93.8 557.2h0M85.2 545.0h0M76.9 542.6h0M56.6 521.7h0M43.0 527.7h0M100.3 562.0h0M119.0 549.6h0M97.7 537.9h0M42.1 512.7h0M96.7 515.7h0M48.5 558.8h0M94.4 541.4h0M75.5 519.3h0M75.6 538.0h0M96.0 538.5h0M90.0 521.2h0M41.3 523.5h0M120.5 546.0h0M50.6 519.9h0M59.7 554.7h0M42.9 521.8h0M97.3 541.5h0M75.5 499.3h0M76.5 561.6h0M98.0 535.4h0M87.5 552.0h0M106.8 524.6h0M75.9 538.6h0M75.5 534.6h0M81.5 501.5h0M101.7 519.8h0M103.4 546.0h0M95.7 543.5h0M110.1 512.9h0M116.0 499.9h0M63.0 528.5h0M83.5 521.3h0M56.7 517.2h0M44.0 539.4h0M85.8 506.2h0M43.6 498.7h0M120.0 500.1h0M109.5 520.4h0M40.6 538.9h0M82.3 553.6h0M115.0 542.4h0M37.9 518.8h0M42.9 504.8h0M37.0 555.1h0M80.3 506.9h0M82.3 555.2h0M101.3 560.7h0M116.2 536.5h0M90.8 521.0h0M47.5 547.1h0M102.8 536.8h0M111.8 533.8h0M103.3 537.0h0M39.8 551.2h0M77.5 550.3h0M99.7 562.6h0M104.2 526.0h0M42.2 558.7h0M118.0 543.5h0M40.1 510.2h0M85.5 541.8h0M41.8 525.6h0M35.8 523.1h0M120.8 527.7h0M65.5 546.1h0M66.7 530.3h0M43.1 560.7h0M78.4 513.8h0M57.0 517.1h0M40.4 537.6h0M40.6 515.3h0M68.5 518.5h0M81.6 554.2h0M90.3 539.0h0M103.9 510.1h0M95.6 502.7h0M51.6 553.3h0M107.3 530.2h0M40.9 532.6h0M101.3 531.2h0M79.8 540.8h0" stroke="#b898cc" stroke-width="0.70" stroke-linecap="round" fill="none"/>
<path d="M41.3 547.8h0M67.5 544.1h0M44.0 502.2h0M36.7 515.7h0M70.5 556.0h0M45.9 514.0h0M45.1 498.6h0M104.0 534.7h0M92.7 560.0h0M39.8 518.7h0M43.7 550.6h0M45.2 538.6h0M66.5 523.9h0M60.7 499.7h0M104.1 525.5h0M82.3 560.1h0M71.5 554.8h0M43.6 529.3h0M63.6 531.9h0M112.1 551.0h0M78.1 558.6h0M74.9 546.8h0M118.6 501.7h0M88.8 501.8h0M102.3 547.7h0M69.0 517.6h0M120.9 552.5h0M102.5 515.1h0M95.4 499.8h0M80.0 558.2h0M58.8 513.0h0M42.0 510.1h0M98.5 562.2h0M109.7 506.5h0M53.1 499.2h0M44.5 526.8h0M83.3 562.5h0M66.2 518.3h0M105.7 524.7h0M44.3 540.8h0M74.1 534.4h0M66.1 526.1h0M80.6 533.7h0M90.4 502.0h0M80.5 521.2h0M65.9 557.2h0M86.2 546.2h0M72.7 524.6h0M58.4 543.2h0M56.3 535.1h0M79.0 524.8h0M73.8 521.9h0M81.6 524.0h0M75.0 522.3h0M72.3 557.7h0M40.2 540.2h0M36.3 555.5h0M50.8 502.2h0M77.9 499.1h0M105.8 547.7h0M44.2 519.9h0M45.7 517.9h0M69.5 503.3h0M39.2 535.9h0M112.3 515.7h0M98.4 518.1h0M97.4 550.1h0M44.6 498.5h0M37.8 550.5h0M37.7 522.0h0M35.8 561.4h0M55.7 520.5h0M41.2 552.4h0M48.6 523.2h0M99.8 520.2h0M68.0 547.1h0M104.3 523.5h0M97.2 538.1h0M45.6 505.0h0M38.4 539.9h0M50.9 537.8h0M58.2 559.2h0M97.5 503.7h0M35.5 560.9h0M46.2 557.3h0M42.1 520.0h0M60.5 529.1h0M82.5 546.7h0M37.3 499.7h0M90.9 536.5h0M45.0 503.6h0M68.1 551.8h0M98.8 519.7h0M41.4 531.9h0" stroke="#7c60a4" stroke-width="0.70" stroke-linecap="round" fill="none"/>
<path d="M93.8 510.5h0M120.7 537.2h0M62.0 513.1h0M74.6 528.2h0M95.1 531.9h0M62.0 522.9h0M62.5 510.7h0M106.1 538.1h0M53.8 533.4h0M37.6 548.2h0M52.8 501.7h0M71.3 548.6h0M85.2 518.0h0M101.5 507.7h0M114.3 525.9h0M76.7 557.8h0M55.4 537.8h0M95.9 558.8h0M120.4 551.1h0M106.6 510.3h0M99.8 518.0h0M75.0 503.2h0M59.7 514.5h0M99.2 532.6h0M66.5 520.1h0M98.6 535.0h0M116.7 538.4h0M92.7 517.8h0M75.9 499.7h0M89.2 530.9h0M55.0 537.1h0M73.6 536.6h0M95.7 513.5h0M92.1 499.1h0M108.3 505.0h0M112.1 511.5h0M85.8 528.2h0M92.6 516.8h0M41.1 500.2h0M58.7 508.1h0M86.4 535.4h0M70.4 503.9h0M74.2 518.7h0M80.8 562.3h0M47.9 535.7h0M102.9 538.8h0M78.7 521.5h0M36.7 518.4h0M65.9 560.0h0M113.8 510.0h0M39.3 553.0h0M51.3 531.0h0M48.8 515.5h0M48.1 525.6h0M39.1 523.1h0M42.4 546.7h0M50.4 540.7h0M40.4 528.4h0M114.2 537.1h0M112.3 554.2h0M76.1 522.5h0M46.1 534.0h0M115.2 556.9h0M72.0 553.0h0M95.5 519.6h0M35.6 534.1h0M64.8 553.9h0M90.5 550.0h0M116.3 535.2h0M78.8 532.2h0M62.5 546.9h0M81.6 528.8h0M90.9 553.5h0M99.7 526.1h0M78.9 550.0h0M104.8 540.4h0M82.0 545.6h0M52.2 549.6h0M76.2 554.3h0M38.5 522.7h0M110.6 507.9h0M60.6 533.0h0M114.8 535.4h0M54.9 512.0h0M63.3 519.1h0M70.2 560.4h0M120.7 521.3h0M116.4 502.7h0M78.7 524.8h0M42.6 544.3h0M98.9 511.6h0M77.8 514.5h0M75.1 519.2h0M82.3 561.7h0M109.9 520.0h0" stroke="#c898c0" stroke-width="0.70" stroke-linecap="round" fill="none"/>
<path d="M58.4 561.0h0M68.9 525.5h0M96.8 552.7h0M38.9 544.1h0M82.5 540.5h0M42.4 526.8h0M90.1 532.1h0M94.6 502.6h0M62.9 521.3h0M50.9 503.3h0M48.5 552.3h0M54.2 547.7h0M117.3 536.2h0M62.4 524.5h0M44.4 522.7h0M112.3 513.9h0M79.9 515.3h0M112.5 545.6h0M44.3 557.1h0M118.2 541.3h0M91.8 548.9h0M63.2 537.6h0M50.9 529.8h0M85.3 543.6h0M40.0 530.3h0M39.4 533.4h0M63.9 542.8h0M63.6 500.0h0M59.6 523.6h0M38.1 521.0h0M58.6 499.8h0M117.6 499.0h0M106.5 549.8h0M68.6 553.2h0M101.1 509.4h0M36.6 522.5h0M89.0 515.6h0M50.7 525.0h0M56.7 499.6h0M51.2 542.1h0M81.7 535.0h0M44.3 529.5h0M80.4 516.9h0M104.7 558.0h0M98.4 538.7h0M91.9 542.1h0M100.7 546.5h0M56.9 543.9h0M56.5 561.0h0M90.2 505.4h0M91.5 500.6h0M45.3 521.5h0M80.1 502.9h0M60.2 527.7h0M80.9 539.0h0M76.5 511.8h0M84.6 538.9h0M59.7 553.0h0M70.6 524.4h0M50.9 523.1h0M40.8 554.9h0M61.1 519.3h0M48.8 534.9h0M118.0 546.9h0M52.7 517.4h0M113.9 558.0h0M47.0 506.9h0M87.1 539.3h0M94.0 514.8h0M71.6 507.6h0M54.8 542.8h0M37.8 556.0h0M78.8 510.2h0M76.4 528.1h0M86.9 540.7h0M84.3 559.2h0M66.6 519.5h0M102.7 531.0h0M47.6 506.0h0M81.8 502.8h0M74.6 499.2h0M81.5 512.0h0M118.8 504.2h0M96.8 505.9h0M59.5 527.4h0M51.4 518.5h0M60.9 548.1h0M44.1 518.8h0M63.5 530.1h0M71.6 528.0h0M94.6 524.3h0M106.8 534.1h0M50.7 537.6h0M81.3 531.3h0M93.7 513.5h0M37.8 515.7h0M86.9 555.2h0M78.7 524.6h0M103.7 523.1h0M62.5 515.8h0M78.9 516.1h0M87.4 558.3h0M104.2 537.8h0" stroke="#c898c0" stroke-width="1.00" stroke-linecap="round" fill="none"/>
<path d="M120.9 499.6h0M115.1 530.5h0M74.0 516.1h0M81.0 542.7h0M116.7 503.9h0M51.1 511.5h0M113.5 546.4h0M67.0 526.2h0M117.0 545.7h0M73.7 551.4h0M71.7 515.0h0M60.3 547.3h0M63.4 555.3h0M69.6 512.3h0M81.9 532.3h0M68.5 535.1h0M109.9 544.4h0M75.0 523.7h0M56.4 549.5h0M114.7 511.3h0M64.6 525.6h0M81.1 513.6h0M85.5 559.1h0M94.8 533.6h0M106.3 514.6h0M50.5 505.1h0M120.0 526.1h0M70.3 543.9h0M118.8 502.5h0M52.4 525.0h0M47.7 534.8h0M98.3 544.3h0M68.7 517.6h0M93.6 503.8h0M63.5 518.8h0M69.2 503.7h0M102.3 526.8h0M103.4 559.2h0M110.8 504.9h0M35.4 502.7h0M65.1 499.3h0M53.4 527.5h0M71.3 541.6h0M39.8 508.8h0M91.3 528.3h0M80.9 512.2h0M119.0 559.8h0M111.3 503.1h0M57.6 537.9h0M113.8 542.0h0M65.8 543.9h0M120.9 550.2h0M114.6 537.3h0M111.6 516.2h0M91.6 560.3h0M63.0 537.5h0M58.3 534.6h0M42.1 542.1h0M40.8 541.9h0M115.6 520.0h0M65.6 528.9h0M105.5 546.5h0M53.2 506.1h0M42.1 525.8h0M111.6 541.1h0M106.4 550.4h0M102.6 528.7h0M58.4 547.0h0M90.0 528.0h0M73.3 511.8h0M113.4 541.8h0M57.1 524.4h0M55.3 548.6h0M61.4 543.3h0M112.8 547.1h0M99.1 544.1h0M50.5 517.9h0M56.1 544.5h0M79.1 524.9h0M74.5 530.2h0M120.3 544.2h0M55.6 535.5h0M115.3 538.4h0M86.6 533.3h0M104.5 553.5h0M75.4 540.1h0M61.8 502.6h0M55.2 558.0h0M110.6 502.3h0M107.1 526.6h0M40.2 558.8h0M69.1 553.4h0M100.0 562.3h0M117.3 529.2h0M106.3 542.3h0M107.4 553.9h0M81.7 536.0h0M58.4 557.8h0M38.6 532.8h0M100.9 516.2h0M46.7 528.6h0M94.5 535.4h0" stroke="#9070b0" stroke-width="1.00" stroke-linecap="round" fill="none"/>
<path d="M36.1 537.7h0M41.7 502.6h0M95.7 549.5h0M119.2 533.0h0M56.4 530.2h0M68.8 525.8h0M85.5 520.3h0M53.0 510.2h0M90.9 499.0h0M59.7 524.0h0M89.2 498.9h0M82.5 539.1h0M76.4 511.9h0M72.9 550.2h0M100.9 523.8h0M54.5 510.3h0M115.7 546.7h0M67.6 505.4h0M83.6 545.1h0M63.5 558.3h0M83.8 524.6h0M38.0 556.3h0M52.1 552.4h0M91.1 518.1h0M55.5 541.2h0M83.0 540.0h0M71.3 501.3h0M109.6 512.9h0M50.3 505.2h0M64.7 531.7h0M38.8 516.3h0M90.2 522.0h0M85.4 540.8h0M80.5 545.7h0M95.1 513.4h0M117.8 510.9h0M110.6 560.3h0M65.1 501.5h0M69.9 543.7h0M119.1 508.6h0M81.0 535.8h0M68.9 552.6h0M111.4 540.0h0M44.5 540.5h0M100.8 527.0h0M50.6 538.2h0M39.6 516.8h0M58.5 501.6h0M87.3 520.9h0M49.9 552.4h0M69.3 499.0h0M40.5 535.1h0M71.0 542.8h0M111.6 557.8h0M70.8 532.3h0M87.8 538.5h0M73.2 550.5h0M73.0 507.1h0M111.0 558.0h0M59.3 537.5h0M117.2 537.0h0M44.3 530.1h0M93.4 531.6h0M77.7 562.6h0M46.9 537.0h0M69.6 504.3h0M73.8 515.9h0M47.3 530.0h0M74.4 553.0h0M70.4 540.5h0M102.8 502.4h0M48.7 529.5h0M80.8 557.2h0M117.4 545.2h0M109.6 500.5h0M91.4 558.2h0M46.4 555.3h0M96.2 527.8h0M113.4 505.7h0M78.5 506.5h0M77.9 534.3h0M69.7 518.0h0M43.5 531.2h0M90.9 509.1h0M46.5 538.2h0M56.0 533.3h0M86.7 516.6h0M83.6 532.8h0" stroke="#b898cc" stroke-width="1.00" stroke-linecap="round" fill="none"/>
<path d="M56.2 537.1h0M40.5 509.7h0M38.3 499.5h0M79.8 531.5h0M87.8 531.8h0M62.8 551.8h0M38.4 512.9h0M113.4 553.6h0M95.8 539.3h0M75.5 499.0h0M112.8 501.5h0M80.8 529.5h0M50.1 547.2h0M76.9 524.3h0M90.0 562.5h0M48.9 547.8h0M45.8 551.6h0M108.6 522.9h0M67.6 555.2h0M37.3 520.7h0M57.0 539.3h0M40.8 556.0h0M67.0 540.7h0M78.4 524.4h0M78.8 559.1h0M88.8 546.2h0M109.1 524.3h0M45.0 505.9h0M49.7 562.6h0M57.6 501.8h0M51.1 513.3h0M70.9 562.2h0M120.5 511.7h0M57.7 538.3h0M109.0 508.1h0M53.8 552.2h0M79.6 518.7h0M48.2 533.9h0M85.5 558.7h0M77.1 536.3h0M114.0 549.2h0M56.3 551.1h0M103.6 538.4h0M79.5 518.3h0M112.6 546.2h0M67.5 508.8h0M68.2 544.0h0M52.0 541.8h0M99.1 547.4h0M118.5 509.5h0M115.3 550.4h0M90.7 528.9h0M100.4 510.0h0M77.6 520.5h0M82.3 527.0h0M85.1 506.6h0M107.5 553.1h0M108.6 511.2h0M88.0 521.2h0M40.6 540.0h0M66.0 524.7h0M120.7 506.9h0M87.2 507.0h0M56.1 528.7h0M59.0 504.8h0M119.6 530.3h0M113.2 560.6h0M99.6 502.4h0M63.0 513.8h0M118.5 548.0h0M50.7 561.4h0M118.6 557.4h0M44.8 554.6h0M73.8 509.5h0M76.9 514.7h0M105.1 525.9h0M80.3 506.0h0M88.0 546.9h0M44.0 509.5h0M78.4 551.6h0M103.9 526.7h0M99.7 503.4h0M59.2 501.7h0M115.9 521.6h0M97.5 562.5h0M48.0 527.6h0M110.7 501.5h0M53.4 553.9h0M97.4 556.8h0M109.2 545.8h0M63.6 518.2h0M55.4 548.9h0M91.0 553.0h0" stroke="#b898cc" stroke-width="1.30" stroke-linecap="round" fill="none"/>
<path d="M46.9 523.2h0M60.5 509.6h0M42.8 499.7h0M37.3 538.1h0M119.4 557.5h0M59.2 547.1h0M90.2 532.1h0M61.8 505.7h0M101.5 553.6h0M43.4 542.1h0M75.0 506.3h0M74.3 524.4h0M52.7 553.8h0M54.7 506.9h0M84.1 533.4h0M38.7 524.3h0M116.4 533.1h0M69.6 550.2h0M99.1 533.6h0M98.0 541.1h0M55.4 552.6h0M112.7 502.9h0M81.0 518.7h0M121.1 540.7h0M88.3 560.5h0M61.1 560.7h0M90.1 499.7h0M102.1 505.1h0M79.9 535.8h0M80.0 521.0h0M63.6 545.2h0M115.6 553.4h0M113.5 558.5h0M91.0 546.7h0M91.4 548.4h0M51.4 540.2h0M120.7 530.5h0M96.2 502.7h0M64.8 545.2h0M103.2 539.3h0M45.2 498.7h0M55.8 510.6h0M88.4 557.4h0M46.1 537.0h0M61.6 525.3h0M71.4 543.3h0M84.6 506.4h0M116.9 559.3h0M93.7 555.3h0M93.5 505.8h0M116.6 513.7h0M106.7 525.2h0M100.5 515.0h0M83.4 559.7h0M51.4 531.0h0M50.5 503.8h0M36.4 545.7h0M93.9 509.8h0M80.6 554.7h0M94.6 503.4h0M38.8 540.0h0M45.9 542.7h0M42.4 559.5h0M87.4 515.0h0M66.1 515.5h0M43.5 538.2h0M114.0 514.7h0M42.1 519.0h0M107.6 508.3h0M36.6 552.9h0M77.2 532.3h0M83.1 544.5h0M120.2 548.8h0M35.9 512.9h0M89.3 506.4h0M119.1 559.2h0M73.3 502.8h0M46.0 505.1h0M46.2 543.1h0M90.9 507.0h0M100.7 515.3h0M67.7 498.9h0" stroke="#a898d4" stroke-width="0.70" stroke-linecap="round" fill="none"/>
<path d="M97.5 508.5h0M79.3 514.8h0M46.1 529.3h0M111.7 561.6h0M66.9 501.2h0M63.6 558.7h0M97.2 551.2h0M48.1 531.7h0M80.5 517.0h0M88.8 544.7h0M53.3 522.4h0M111.9 550.1h0M41.8 512.1h0M42.3 517.9h0M62.6 524.1h0M42.4 515.7h0M73.5 554.1h0M39.9 548.9h0M62.8 501.8h0M83.7 508.9h0M36.7 539.3h0M78.7 552.9h0M82.3 514.8h0M95.0 551.2h0M56.6 530.4h0M118.7 542.2h0M75.8 530.0h0M55.8 530.2h0M67.0 516.8h0M94.3 525.4h0M120.7 543.0h0M103.5 498.5h0M86.2 505.1h0M119.9 553.9h0M67.1 545.4h0M116.8 505.4h0M65.6 507.4h0M77.3 536.5h0M38.0 551.9h0M93.5 555.3h0M41.9 518.3h0M51.3 560.6h0M76.4 505.5h0M69.7 530.5h0M114.0 542.6h0M94.9 547.3h0M76.1 525.2h0M69.9 540.3h0M68.9 536.4h0M99.3 547.8h0M58.7 541.4h0M103.9 527.0h0M88.0 499.1h0M70.5 522.7h0M46.6 507.1h0M83.4 515.6h0M48.5 516.9h0M65.2 540.2h0M68.8 560.9h0M108.6 537.8h0M95.5 513.3h0M88.2 502.4h0M51.2 511.2h0M66.5 558.5h0M79.2 507.8h0M86.6 526.1h0M110.8 562.0h0M116.3 520.7h0M63.9 546.1h0M51.7 523.4h0M89.6 548.7h0M59.6 503.8h0M99.8 562.1h0M86.9 538.3h0M54.3 554.9h0M36.0 502.7h0M43.1 555.9h0M107.8 518.8h0M115.7 556.4h0M54.5 540.4h0M110.2 532.6h0M49.0 523.5h0M78.3 539.4h0M64.3 544.4h0M75.0 547.5h0M102.0 544.9h0M48.5 514.6h0M115.6 505.1h0M65.6 509.9h0M61.1 561.5h0" stroke="#a898d4" stroke-width="1.30" stroke-linecap="round" fill="none"/>
<path d="M106.0 545.8h0M83.7 545.0h0M51.5 553.8h0M96.9 498.4h0M85.7 538.6h0M57.0 506.9h0M52.6 506.9h0M82.8 547.3h0M119.8 501.9h0M99.5 542.0h0M59.5 556.3h0M65.3 544.8h0M43.2 553.2h0M99.5 501.1h0M46.5 526.0h0M98.8 543.2h0M45.6 532.1h0M49.4 528.1h0M106.8 535.4h0M96.9 543.3h0M104.8 558.4h0M45.6 539.8h0M111.0 557.0h0M88.6 550.3h0M119.2 538.4h0M97.4 531.1h0M118.9 532.2h0M98.8 550.0h0M94.7 505.8h0M116.9 526.9h0M62.6 531.6h0M99.9 510.6h0M70.0 505.8h0M38.4 515.6h0M64.5 501.7h0M54.8 514.1h0M117.6 550.9h0M61.1 513.2h0M88.5 536.4h0M76.9 558.3h0M78.4 530.5h0M119.1 560.4h0M72.7 499.6h0M62.0 512.5h0M83.5 542.5h0M71.7 528.4h0M37.9 509.8h0M103.0 500.9h0M44.4 502.8h0M40.4 523.1h0M108.0 515.7h0M118.2 511.9h0M66.6 561.9h0M120.8 562.3h0M107.9 498.5h0M91.9 534.8h0M40.2 560.7h0M67.5 526.2h0M58.5 504.2h0M49.4 525.2h0M72.1 513.2h0M49.2 518.7h0M55.1 532.7h0M58.5 553.1h0M82.5 502.8h0M55.5 537.7h0M117.6 505.8h0M91.6 516.9h0M62.2 522.5h0M106.0 548.3h0M40.8 501.1h0M104.2 547.8h0M54.1 544.0h0M69.6 534.3h0M73.9 553.1h0M68.0 509.7h0M37.3 498.9h0M104.6 556.6h0M80.5 508.7h0M45.1 526.3h0M74.4 543.8h0M111.0 533.3h0M90.8 560.6h0M91.3 541.9h0" stroke="#ffffff" stroke-width="3.00" stroke-linecap="round" fill="none"/>
<path d="M44.5 519.1h0M69.8 558.9h0M72.3 555.6h0M77.0 559.9h0M99.1 535.1h0M57.9 540.3h0M83.3 505.8h0M108.8 520.0h0M88.8 509.0h0M64.6 537.8h0M101.9 518.6h0M75.5 528.9h0M71.7 515.5h0M39.0 561.9h0M79.0 541.7h0M98.3 553.6h0M84.5 516.9h0M112.1 548.4h0M48.3 527.0h0M47.7 552.8h0M88.9 512.8h0M75.4 535.8h0M103.5 552.8h0M57.2 555.7h0M78.1 546.9h0M115.6 509.0h0M53.0 546.9h0M95.2 548.6h0M78.9 521.2h0M62.8 519.6h0M70.7 502.7h0M39.4 553.0h0M113.7 499.6h0M38.7 551.7h0M78.7 502.2h0M41.1 507.5h0M50.4 517.4h0M76.4 549.0h0M93.9 550.0h0M49.6 520.7h0M48.4 525.0h0M48.5 509.7h0M82.3 535.1h0M59.3 541.3h0M108.9 533.0h0M65.1 505.0h0M120.0 533.6h0M115.1 526.3h0M105.1 505.2h0M87.9 517.4h0M79.4 545.7h0M83.4 530.4h0M83.5 527.4h0M56.7 501.3h0M108.7 515.6h0M93.6 526.4h0M53.5 554.5h0M117.1 538.8h0M107.9 560.7h0M91.6 516.0h0M97.0 531.2h0M53.3 548.8h0M114.0 531.0h0M76.0 526.0h0M80.4 519.2h0M96.0 499.6h0M72.8 539.9h0M81.9 538.7h0M46.4 544.8h0M95.7 528.4h0M63.8 512.1h0M53.2 499.5h0M40.9 514.9h0M58.4 555.1h0M98.5 507.6h0M74.4 555.9h0M104.5 560.2h0M109.9 507.1h0M98.3 552.9h0M51.7 548.9h0M93.6 538.2h0M55.4 537.5h0M99.4 562.9h0M51.1 540.9h0M50.8 528.4h0M39.1 547.4h0M70.8 510.0h0M86.8 529.9h0M36.4 549.0h0M50.3 550.6h0M71.2 505.3h0M57.9 518.1h0M56.3 506.8h0" stroke="#ffffff" stroke-width="1.60" stroke-linecap="round" fill="none"/>
<path d="M93.9 550.9h0M103.1 521.9h0M50.6 533.6h0M68.1 535.6h0M79.7 554.7h0M86.9 524.9h0M94.2 502.0h0M56.4 537.7h0M57.0 548.0h0M106.0 548.9h0M71.7 557.0h0M104.4 509.0h0M120.2 518.1h0M38.0 519.2h0M36.4 554.1h0M37.3 527.3h0M67.6 501.2h0M115.8 554.5h0M93.6 505.9h0M49.7 546.1h0M39.4 516.5h0M37.1 550.7h0M53.6 535.9h0M115.9 545.9h0M86.8 554.1h0M51.5 539.4h0M119.8 503.5h0M38.8 542.1h0M55.3 527.3h0M66.8 503.2h0M71.6 523.1h0M66.9 512.1h0M51.4 528.1h0M68.3 531.3h0M52.1 538.4h0M114.3 510.5h0M84.5 519.9h0M80.3 511.4h0M49.6 514.1h0M69.3 549.6h0M52.4 540.8h0M78.3 500.4h0M60.8 556.0h0M86.1 556.0h0M112.4 546.7h0M108.5 522.3h0M104.9 510.9h0M75.1 562.1h0M88.2 561.5h0M104.9 548.3h0M115.5 553.7h0M101.6 553.9h0M92.5 500.6h0M65.8 523.0h0M44.4 509.5h0M101.7 562.4h0M95.1 514.2h0M120.9 526.6h0M57.7 507.5h0M100.7 499.4h0M50.8 543.2h0M119.8 543.8h0M106.4 544.6h0M75.0 530.6h0M39.1 519.0h0M65.7 508.0h0M74.9 555.4h0M64.9 511.4h0M90.1 515.9h0M42.4 552.6h0M85.2 545.9h0M113.7 521.7h0M66.6 552.4h0M68.9 498.9h0M46.9 560.9h0M55.8 510.3h0M38.9 545.2h0M113.5 526.6h0M59.3 524.1h0M61.0 554.8h0M65.7 545.5h0M77.8 516.6h0M76.4 545.4h0" stroke="#ffffff" stroke-width="2.20" stroke-linecap="round" fill="none"/>
<path d="M79.0 518.2h0M45.2 529.2h0M61.1 550.8h0M92.3 541.3h0M78.7 555.5h0M61.5 518.2h0M39.1 500.2h0M40.1 502.4h0M70.7 518.6h0M58.6 513.0h0M76.6 534.7h0M118.5 505.5h0M78.3 533.8h0M76.5 536.0h0M83.4 541.5h0M80.0 516.8h0M58.5 511.4h0M92.4 555.6h0M108.8 524.5h0M41.2 534.6h0M42.8 545.7h0M64.3 549.9h0M96.1 552.3h0M77.3 525.3h0M76.7 505.3h0M94.8 501.9h0M63.8 501.7h0M104.9 559.5h0M38.7 539.2h0M60.1 504.9h0M85.0 541.3h0M96.3 525.1h0M98.5 515.8h0M115.3 534.6h0M52.2 560.6h0M40.2 500.8h0M55.5 500.4h0M59.4 560.6h0M99.3 539.7h0M95.3 551.5h0M106.3 550.8h0M66.8 548.6h0M51.4 537.8h0M116.6 534.7h0M70.6 499.3h0M115.9 528.9h0M81.0 515.9h0M70.8 560.5h0M78.8 536.0h0M43.5 511.6h0M54.5 526.7h0M102.4 517.6h0M78.3 538.5h0M104.0 505.4h0M119.0 520.1h0M59.1 509.5h0M90.0 543.0h0M48.4 514.8h0M75.8 561.0h0M89.8 549.5h0M105.6 510.3h0M81.7 500.9h0M114.1 528.4h0M73.7 531.4h0M70.3 546.8h0M104.3 522.1h0M91.7 542.7h0M117.3 535.1h0M88.8 500.7h0M115.3 553.1h0M106.3 513.6h0M64.4 526.7h0M112.4 515.5h0M36.6 534.9h0M107.3 500.0h0M73.3 504.2h0M95.9 546.2h0M108.9 558.9h0M115.7 533.2h0M90.2 539.2h0M75.5 541.1h0M81.6 516.5h0M84.9 505.2h0M70.5 516.7h0M58.8 519.9h0M92.7 506.1h0M112.3 531.7h0M49.2 500.2h0M35.4 499.5h0M54.0 548.9h0M43.0 508.1h0M89.5 518.9h0M68.1 514.8h0M79.1 517.2h0M37.1 553.9h0M45.9 515.7h0M94.0 512.4h0M40.4 535.0h0M57.8 507.2h0M90.7 527.1h0M99.8 547.5h0M75.7 536.5h0M107.5 506.7h0M120.8 528.1h0M39.0 541.5h0M38.5 516.5h0M103.9 530.8h0M75.8 526.3h0M107.7 556.3h0M62.1 543.6h0M110.9 510.7h0M60.7 505.0h0M67.3 507.8h0M43.5 528.8h0M87.5 517.7h0M36.7 521.8h0M93.3 561.8h0M95.7 528.8h0M96.2 545.8h0M91.3 549.6h0M36.6 561.0h0M83.9 535.6h0M108.9 561.7h0M58.8 531.0h0M36.4 548.6h0M102.9 520.0h0M111.2 503.7h0M114.2 542.8h0M99.0 552.4h0M42.8 551.3h0M54.9 542.9h0M94.1 558.4h0M74.4 510.0h0M119.1 557.0h0M72.7 503.3h0M53.3 510.6h0M72.4 552.0h0M114.0 499.9h0M96.4 545.3h0M74.1 502.1h0M103.5 513.8h0M81.7 504.1h0" stroke="#eea0b4" stroke-width="2.40" stroke-linecap="round" fill="none" stroke-opacity="0.8"/>
<path d="M109.4 546.8h0M45.5 522.8h0M104.6 555.3h0M114.8 510.3h0M44.4 559.1h0M48.9 553.3h0M42.2 528.8h0M91.1 529.0h0M97.9 550.9h0M88.5 551.3h0M115.9 537.8h0M94.4 521.5h0M81.1 533.1h0M60.9 525.1h0M112.9 506.8h0M56.4 513.4h0M82.8 519.4h0M55.3 550.8h0M117.7 562.2h0M104.7 527.7h0M101.1 543.0h0M99.1 550.3h0M56.3 551.6h0M97.4 508.0h0M96.1 514.1h0M39.4 553.5h0M71.7 513.7h0M84.9 506.3h0M61.2 560.0h0M119.3 512.3h0M77.0 553.6h0M121.0 540.9h0M97.2 509.1h0M39.9 531.6h0M90.6 551.5h0M80.0 554.7h0M51.6 553.3h0M55.6 523.1h0M36.5 533.0h0M57.0 527.6h0M41.0 515.7h0M48.0 512.6h0M106.9 532.5h0M57.2 561.9h0M103.5 554.6h0M119.1 551.1h0M48.8 554.8h0M52.5 557.2h0M112.4 504.3h0M43.0 501.7h0M111.0 544.4h0M75.9 509.3h0M81.0 552.4h0M104.4 543.6h0M90.8 561.3h0M98.3 548.7h0M52.2 499.0h0M114.1 560.9h0M78.0 539.0h0M83.1 553.1h0M40.8 558.0h0M61.9 557.2h0M59.8 562.1h0M120.9 518.3h0M59.2 544.7h0M43.6 524.6h0M106.1 514.0h0M66.8 502.4h0M100.0 514.2h0M106.6 553.9h0M81.9 514.8h0M101.4 530.1h0M115.2 519.3h0M69.9 555.6h0M112.2 543.9h0M118.9 528.4h0M93.9 517.0h0M64.4 536.7h0M40.0 554.5h0M102.8 546.8h0M113.2 515.9h0M54.4 522.7h0M63.4 506.8h0M42.6 551.9h0M98.4 545.9h0M108.8 507.7h0M42.1 521.9h0M79.4 557.5h0M39.1 528.8h0M54.6 526.6h0M60.3 527.1h0M108.4 516.4h0M116.4 511.4h0M82.8 532.8h0M72.6 542.0h0M48.7 557.6h0M77.3 521.0h0M70.9 517.2h0M81.3 532.6h0M64.5 529.5h0M40.9 520.8h0M56.0 545.9h0M117.6 510.1h0M66.6 512.2h0M48.8 546.2h0M99.0 533.4h0M56.4 516.1h0M112.4 551.6h0M82.6 519.2h0M64.4 552.5h0M101.6 533.2h0M49.8 498.5h0M48.6 560.3h0M40.4 517.1h0M52.2 507.6h0M120.2 562.1h0M46.7 558.5h0M51.4 536.7h0M48.7 515.5h0M106.2 526.0h0M84.6 535.0h0M63.1 508.6h0M100.4 507.5h0M53.0 558.4h0M59.6 503.5h0M100.3 520.7h0M120.6 551.2h0M85.3 526.8h0M90.3 507.7h0M64.9 523.1h0M97.2 526.0h0M101.5 528.9h0M95.7 558.4h0M65.0 557.5h0M96.0 521.6h0M84.9 543.8h0M53.0 530.9h0M77.6 523.5h0M118.9 551.9h0M88.2 533.0h0M49.9 529.2h0M88.0 509.6h0M50.6 524.4h0M118.8 543.8h0M101.5 558.5h0M112.3 534.0h0M59.1 518.5h0M82.4 519.6h0M49.1 548.4h0M67.6 519.2h0M102.7 534.5h0M89.0 507.4h0" stroke="#eea0b4" stroke-width="1.20" stroke-linecap="round" fill="none" stroke-opacity="0.8"/>
<path d="M44.9 537.5h0M95.1 533.5h0M116.5 558.1h0M112.6 553.5h0M67.2 548.3h0M56.0 518.6h0M81.1 556.0h0M78.2 548.6h0M61.4 499.3h0M79.9 521.0h0M61.4 528.8h0M60.8 534.2h0M103.7 548.8h0M113.0 543.0h0M43.7 533.3h0M63.4 520.9h0M119.2 511.0h0M96.5 554.7h0M61.5 523.8h0M83.1 557.5h0M61.5 499.8h0M54.4 540.2h0M46.9 523.3h0M67.9 499.8h0M121.0 518.1h0M70.3 504.0h0M38.9 559.5h0M38.3 542.5h0M111.0 544.7h0M90.0 536.9h0M52.4 518.4h0M78.8 503.3h0M110.2 521.5h0M43.4 552.5h0M55.2 528.9h0M92.1 554.1h0M42.7 555.7h0M46.5 537.4h0M57.3 531.4h0M80.0 526.8h0M82.3 515.9h0M113.2 510.8h0M77.4 529.7h0M37.8 498.9h0M116.6 525.2h0M86.5 550.9h0M118.6 507.1h0M45.6 524.0h0M94.8 552.4h0M105.3 541.7h0M90.1 534.3h0M65.2 549.3h0M41.4 524.9h0M120.7 559.1h0M102.6 516.2h0M83.6 538.7h0M91.0 561.8h0M94.5 553.1h0M100.1 504.1h0M66.6 530.2h0M83.9 525.6h0M99.8 558.4h0M68.0 541.7h0M50.5 528.5h0M107.1 547.1h0M88.5 541.8h0M39.3 528.4h0M120.6 561.0h0M67.8 507.5h0M56.6 526.3h0M103.5 527.7h0M45.5 552.1h0M70.0 551.1h0M49.0 529.5h0M54.5 503.3h0M58.5 501.6h0M97.9 562.5h0M58.6 549.0h0M100.3 509.6h0M40.5 559.7h0M48.5 533.5h0M85.0 540.5h0M115.6 559.4h0M51.8 553.8h0M64.5 543.9h0M35.5 555.6h0M53.5 531.5h0M55.2 539.3h0M116.0 546.7h0M120.7 523.1h0M102.5 537.1h0M41.7 551.2h0M63.9 514.9h0M100.3 560.7h0M38.8 548.8h0M64.5 556.6h0M101.1 510.1h0M111.4 515.3h0M67.6 555.1h0M36.1 536.5h0M118.5 540.1h0M60.2 544.9h0M44.0 553.0h0M88.7 522.5h0M106.8 538.8h0M50.6 558.9h0M47.0 498.9h0M83.5 533.2h0M57.1 521.2h0M113.2 515.9h0M48.8 534.7h0M103.6 550.1h0M113.2 513.9h0M39.5 533.1h0M73.7 551.5h0M83.1 527.3h0M62.7 506.5h0M113.2 519.5h0M112.7 515.5h0M70.6 515.7h0M89.9 520.0h0M100.1 510.0h0M38.5 561.3h0M114.3 560.1h0M88.9 536.6h0M73.3 545.9h0M91.6 511.5h0M64.4 536.0h0M118.3 538.1h0M107.1 511.4h0M119.2 501.3h0M116.4 508.3h0M48.8 553.5h0M119.7 538.5h0M121.0 534.8h0M97.5 555.0h0M111.1 561.4h0M48.2 527.5h0M47.7 524.8h0M80.4 554.9h0M61.7 534.4h0M98.4 555.4h0M73.6 517.8h0M53.5 504.9h0M50.1 520.7h0M99.8 539.3h0M98.7 506.2h0M46.6 550.8h0M101.4 552.2h0M115.2 546.5h0M116.1 542.6h0M113.9 501.3h0M86.0 514.9h0M118.4 533.5h0M95.5 530.0h0M115.9 528.9h0" stroke="#eea0b4" stroke-width="1.80" stroke-linecap="round" fill="none" stroke-opacity="0.8"/>
<path d="M97.3 549.4h0M96.4 505.8h0M105.4 510.9h0M116.5 553.8h0M96.0 554.6h0M77.7 508.4h0M107.1 530.8h0M64.3 542.7h0M40.4 516.9h0M50.9 510.4h0M88.7 530.7h0M36.2 539.5h0M113.4 531.2h0M42.9 498.7h0M70.1 518.6h0M111.9 526.6h0M60.7 541.9h0M86.6 560.9h0M47.0 501.4h0M61.6 527.9h0M118.6 513.3h0M48.8 533.7h0M63.7 518.6h0M43.3 551.4h0M73.3 537.9h0M81.9 501.1h0M103.0 498.5h0M109.6 514.2h0M109.3 517.4h0M35.4 548.5h0M94.4 552.8h0M99.7 543.8h0" stroke="#e83040" stroke-width="1.10" stroke-linecap="round" fill="none"/>
<path d="M37.6 518.4h0M117.7 509.3h0M51.7 559.9h0M78.6 540.2h0M100.3 514.1h0M103.6 520.6h0M68.4 526.0h0M104.3 517.7h0M58.0 523.6h0M77.2 509.5h0M118.5 505.5h0M51.8 527.5h0M70.3 510.3h0M61.6 528.8h0M73.1 504.2h0M36.7 551.2h0M47.2 556.5h0M61.8 547.9h0M41.8 556.6h0M51.0 522.9h0M59.0 530.1h0M66.0 500.6h0M106.2 548.0h0M82.8 505.0h0M117.7 555.2h0M71.7 528.3h0M116.9 547.5h0M112.8 537.9h0M103.3 516.5h0M38.8 545.8h0M47.4 509.5h0M108.6 507.5h0M95.1 537.8h0M51.8 528.3h0M64.4 549.9h0M57.5 514.0h0M90.6 500.9h0M95.0 538.3h0M42.8 525.9h0M117.0 553.0h0" stroke="#e8121c" stroke-width="0.90" stroke-linecap="round" fill="none"/>
<path d="M113.8 550.3h0M84.4 523.5h0M105.1 515.2h0M100.6 520.1h0M73.5 505.8h0M93.5 507.6h0M108.0 507.8h0M78.2 503.4h0M89.3 559.0h0M95.6 523.7h0M54.6 533.9h0M67.4 533.6h0M75.3 552.6h0M68.4 509.0h0M59.2 560.3h0M112.3 511.5h0M100.5 513.5h0M44.1 503.6h0M76.9 544.0h0M63.0 518.2h0M42.9 558.4h0M48.5 555.7h0M68.8 531.3h0M47.5 502.7h0M95.8 505.8h0M117.1 517.2h0M54.3 531.3h0M79.5 523.2h0M106.4 510.1h0M109.3 505.5h0M81.9 529.5h0M104.3 524.9h0M65.5 502.6h0M49.8 509.1h0M105.7 542.1h0M73.4 546.5h0M63.4 512.2h0M55.8 529.0h0M117.6 522.8h0" stroke="#ee1c24" stroke-width="1.10" stroke-linecap="round" fill="none"/>
<path d="M75.8 542.8h0M110.3 524.9h0M63.1 562.4h0M107.0 521.0h0M43.7 536.3h0M39.5 518.4h0M47.0 525.6h0M108.9 554.8h0M116.6 554.6h0M70.1 514.5h0M45.2 521.1h0M81.0 511.7h0M79.1 540.0h0M52.0 502.0h0M114.9 540.9h0M46.4 500.2h0M94.9 549.4h0M50.2 507.3h0M65.5 534.1h0M64.1 538.5h0M56.6 507.5h0M82.0 504.3h0M59.4 555.2h0M64.2 500.5h0M92.9 536.2h0M38.4 528.1h0M99.7 534.3h0M49.7 500.2h0M96.6 557.9h0M110.7 531.7h0M110.9 533.9h0" stroke="#e83040" stroke-width="1.80" stroke-linecap="round" fill="none"/>
<path d="M76.7 533.2h0M73.9 518.1h0M102.9 550.3h0M77.8 534.6h0M56.5 544.7h0M104.5 542.4h0M92.7 535.4h0M67.8 514.0h0M35.8 517.1h0M113.1 554.7h0M53.4 501.2h0M98.2 546.5h0M83.9 511.0h0M54.5 522.1h0M58.5 520.7h0M54.6 516.3h0M75.1 503.7h0M44.6 562.6h0M82.6 558.8h0M93.9 562.4h0M117.8 528.6h0M70.3 535.7h0M47.4 536.0h0M116.3 518.0h0M105.3 528.9h0M86.6 539.7h0M103.9 498.7h0M100.4 556.2h0M115.2 511.4h0M36.6 535.4h0M37.0 545.4h0M91.2 499.4h0M116.3 520.3h0" stroke="#f0282c" stroke-width="1.10" stroke-linecap="round" fill="none"/>
<path d="M40.6 508.5h0M66.8 509.7h0M88.0 538.6h0M47.9 540.4h0M74.9 530.2h0M40.0 529.8h0M86.9 526.8h0M113.4 506.9h0M120.0 539.1h0M93.5 532.2h0M67.3 499.0h0M35.5 531.5h0M72.7 501.5h0M73.5 514.7h0M112.7 550.1h0M109.8 527.7h0M46.1 546.6h0M35.5 507.5h0M50.8 546.3h0M59.0 515.2h0M50.0 505.5h0M98.2 554.1h0M103.1 538.1h0M46.3 511.8h0M86.5 540.0h0M54.6 557.2h0M98.9 509.7h0M44.2 515.9h0M89.7 525.4h0M53.4 552.1h0M75.1 527.4h0M70.1 523.9h0M64.0 556.1h0M112.9 506.3h0M80.3 512.4h0M99.9 536.6h0M88.0 528.9h0" stroke="#ee1c24" stroke-width="1.80" stroke-linecap="round" fill="none"/>
<path d="M101.2 498.8h0M84.7 510.4h0M76.2 556.6h0M65.3 516.0h0M46.6 534.1h0M41.6 525.2h0M53.2 545.5h0M39.8 529.7h0M114.1 549.4h0M84.2 542.5h0M75.5 500.0h0M67.0 555.3h0M91.2 531.2h0M48.0 561.3h0M101.2 511.2h0M49.9 527.9h0M40.0 519.7h0M112.7 520.4h0M67.7 556.2h0M47.4 530.5h0M54.3 510.9h0M74.3 525.3h0M43.1 551.3h0M40.5 502.8h0M86.6 557.6h0M82.8 560.7h0M103.1 526.5h0M58.3 548.7h0M55.2 555.1h0M54.2 521.2h0M106.6 541.5h0M99.1 509.6h0M101.7 507.9h0M115.1 517.1h0M45.7 557.9h0" stroke="#d80c18" stroke-width="0.90" stroke-linecap="round" fill="none"/>
<path d="M90.7 541.2h0M100.6 535.5h0M51.0 504.2h0M103.1 529.8h0M70.2 551.3h0M104.7 498.3h0M101.0 520.4h0M100.6 519.8h0M59.8 560.3h0M89.2 554.9h0M105.1 547.5h0M46.1 505.5h0M93.1 562.9h0M47.4 504.1h0M98.2 557.4h0M104.8 506.5h0M56.5 534.2h0M116.6 532.0h0M47.1 554.1h0M105.3 510.5h0M118.3 545.7h0M41.7 544.1h0M91.9 536.5h0M111.0 499.6h0" stroke="#c81020" stroke-width="2.10" stroke-linecap="round" fill="none"/>
<path d="M73.6 557.4h0M59.7 553.8h0M75.4 542.5h0M72.3 557.6h0M61.9 555.6h0M114.0 531.5h0M87.0 525.1h0M109.4 535.3h0M104.7 545.5h0M49.6 510.3h0M104.2 558.9h0M88.4 508.9h0M91.0 503.5h0M60.6 530.1h0M119.7 513.1h0M99.5 522.0h0M96.4 528.5h0M80.1 527.7h0M57.9 522.4h0M113.0 510.8h0M60.8 519.1h0M66.4 537.8h0M109.3 544.0h0M112.4 540.7h0M91.5 509.5h0M59.5 551.1h0M108.4 529.3h0M55.3 503.8h0" stroke="#f0282c" stroke-width="2.10" stroke-linecap="round" fill="none"/>
<path d="M58.8 526.1h0M97.6 520.9h0M101.1 516.4h0M102.3 539.4h0M97.0 554.8h0M114.9 555.0h0M93.8 549.8h0M43.0 528.0h0M53.9 556.0h0M103.5 527.8h0M86.4 503.5h0M56.6 502.8h0M96.4 538.0h0M102.5 499.7h0M46.1 515.2h0M56.1 558.2h0M105.3 528.9h0M75.1 556.0h0M39.5 556.6h0M71.4 507.8h0M41.3 537.6h0M91.3 507.3h0M104.4 505.2h0M105.4 547.2h0M53.7 558.7h0M67.3 501.3h0M74.3 532.7h0M94.9 517.4h0M92.6 532.1h0M48.1 508.8h0" stroke="#e8121c" stroke-width="1.10" stroke-linecap="round" fill="none"/>
<path d="M89.5 523.4h0M71.3 544.4h0M35.6 502.4h0M74.0 529.5h0M96.8 513.4h0M93.5 562.5h0M38.6 505.3h0M57.2 550.5h0M97.0 504.9h0M70.2 535.2h0M103.4 524.2h0M63.2 531.1h0M52.7 506.6h0M61.7 555.6h0M56.5 537.3h0M72.6 550.4h0M83.0 561.6h0M116.6 517.1h0M59.8 524.3h0M72.3 544.3h0M52.3 525.4h0M41.3 559.9h0M110.6 547.3h0M111.4 558.5h0M88.1 550.7h0M43.2 511.5h0M59.0 528.7h0M60.9 539.3h0M39.8 540.3h0M82.1 546.0h0M65.6 546.8h0M82.5 509.6h0M70.1 531.8h0" stroke="#c81020" stroke-width="1.50" stroke-linecap="round" fill="none"/>
<path d="M106.4 559.1h0M67.3 546.6h0M39.7 541.5h0M69.7 507.1h0M116.6 562.1h0M50.7 543.4h0M85.8 503.8h0M69.5 500.2h0M74.6 552.4h0M83.1 525.5h0M74.8 514.7h0M111.4 548.8h0M108.6 500.4h0M35.6 550.8h0M111.9 534.8h0M107.4 556.5h0M120.1 511.8h0M109.1 556.1h0M42.7 524.5h0M83.5 558.5h0M112.8 518.7h0M42.6 536.9h0M81.4 550.8h0M112.4 536.5h0M51.1 524.9h0M50.8 533.6h0M63.4 514.4h0M81.1 528.1h0" stroke="#e83040" stroke-width="2.10" stroke-linecap="round" fill="none"/>
<path d="M112.8 503.9h0M121.0 550.3h0M91.9 510.6h0M66.3 533.2h0M69.9 505.7h0M91.4 530.7h0M78.7 509.1h0M118.7 498.4h0M98.1 550.0h0M62.3 505.3h0M105.8 506.7h0M75.1 510.1h0M61.9 525.3h0M101.3 560.1h0M83.1 556.9h0M81.1 511.1h0M63.2 509.6h0M98.3 545.6h0M89.9 536.7h0M62.3 548.0h0M80.3 555.3h0M69.0 538.5h0M38.1 505.6h0M93.9 552.1h0M58.4 510.8h0M46.0 547.5h0M44.5 548.6h0M67.3 525.3h0" stroke="#f0282c" stroke-width="1.80" stroke-linecap="round" fill="none"/>
<path d="M53.0 519.1h0M52.4 503.6h0M121.0 550.1h0M58.6 534.9h0M54.3 550.6h0M119.2 538.1h0M49.7 548.0h0M42.2 525.4h0M91.7 501.6h0M99.3 537.2h0M70.9 553.4h0M84.6 521.7h0M61.2 511.6h0M94.3 535.5h0M85.0 508.4h0M73.6 528.6h0M72.6 552.9h0M39.4 548.6h0M57.6 543.0h0M120.4 514.0h0M118.9 518.4h0M84.2 534.9h0M92.0 531.3h0M69.0 517.2h0M94.2 509.5h0M109.8 548.0h0M71.9 538.4h0M66.8 539.5h0M102.1 513.8h0M87.6 561.7h0M70.2 518.5h0M117.9 552.4h0" stroke="#f0282c" stroke-width="1.30" stroke-linecap="round" fill="none"/>
<path d="M86.1 544.1h0M100.7 558.1h0M103.4 557.8h0M49.6 516.5h0M88.7 537.1h0M56.3 539.2h0M47.8 535.9h0M113.9 535.0h0M45.7 523.0h0M59.5 545.1h0M108.7 511.6h0M117.8 521.6h0M37.8 516.4h0M67.4 557.0h0M79.3 515.9h0M109.0 556.9h0M39.1 522.7h0M114.0 507.3h0M42.0 521.3h0M62.9 549.1h0M93.1 551.3h0M106.7 533.3h0M56.7 498.4h0M50.2 526.0h0M62.5 541.1h0M110.5 515.7h0M73.5 516.1h0M39.6 515.4h0M101.2 539.6h0M85.6 553.5h0M71.5 539.7h0M79.3 526.4h0M103.2 515.3h0M83.3 518.4h0M79.8 510.5h0M93.8 555.4h0M106.8 549.9h0M74.3 550.3h0M61.5 500.7h0" stroke="#c81020" stroke-width="0.90" stroke-linecap="round" fill="none"/>
<path d="M83.0 526.5h0M37.6 531.1h0M58.5 531.9h0M87.2 551.6h0M56.2 534.1h0M108.6 549.4h0M48.6 540.6h0M92.8 507.6h0M62.3 550.9h0M75.3 547.0h0M78.2 532.8h0M98.8 502.4h0M71.7 546.2h0M54.6 531.0h0M59.4 526.0h0M46.2 543.9h0M38.8 530.7h0M64.4 535.0h0M103.1 524.1h0M108.9 513.8h0M36.9 514.1h0M39.4 527.5h0M97.4 528.2h0M72.6 517.5h0M55.4 532.1h0M119.3 546.5h0M66.9 540.2h0M87.5 537.1h0M44.0 520.8h0" stroke="#c81020" stroke-width="1.30" stroke-linecap="round" fill="none"/>
<path d="M85.9 511.1h0M79.3 504.3h0M61.3 520.8h0M83.4 525.4h0M74.0 528.3h0M109.8 541.6h0M72.0 515.4h0M100.0 505.0h0M75.0 528.9h0M70.4 527.9h0M66.4 526.1h0M70.9 525.6h0M117.5 547.7h0M40.1 506.2h0M87.7 542.0h0M59.6 522.7h0M77.6 525.5h0M73.1 501.3h0M38.3 529.3h0M117.1 510.3h0M85.9 555.4h0M53.5 517.0h0M118.0 505.7h0M116.2 546.3h0M79.4 554.6h0M67.1 539.9h0M50.8 521.1h0M101.8 543.3h0M70.9 514.0h0M54.4 531.2h0M36.8 530.8h0M39.6 558.6h0M108.9 527.5h0M70.0 559.2h0M47.8 524.6h0M37.1 522.5h0" stroke="#e8121c" stroke-width="2.10" stroke-linecap="round" fill="none"/>
<path d="M100.0 535.1h0M35.7 505.2h0M100.4 520.1h0M120.9 560.9h0M119.4 523.2h0M69.9 514.4h0M47.5 525.8h0M63.5 541.2h0M59.8 561.2h0M78.0 526.0h0M59.7 552.2h0M46.8 556.3h0M74.5 552.7h0M112.1 509.2h0M79.0 531.5h0M48.3 518.0h0M119.8 561.4h0M81.2 508.1h0M38.4 560.1h0M114.9 561.5h0M68.5 551.4h0M78.3 499.9h0M65.1 508.6h0M118.6 545.8h0M90.8 549.0h0M107.5 542.3h0M69.7 560.4h0M93.2 549.3h0M110.1 532.9h0M65.9 554.6h0" stroke="#f0282c" stroke-width="0.90" stroke-linecap="round" fill="none"/>
<path d="M47.1 499.6h0M116.5 555.1h0M51.6 535.3h0M97.6 506.2h0M78.2 520.4h0M80.8 511.7h0M46.5 549.2h0M99.6 540.2h0M78.3 528.7h0M71.6 505.2h0M113.7 521.6h0M57.5 531.0h0M93.1 518.3h0M44.1 513.0h0M65.4 507.2h0M89.3 518.1h0M52.3 544.1h0M73.7 525.9h0M75.2 560.2h0M71.3 515.4h0M73.1 514.0h0M83.6 520.0h0M36.2 505.3h0M45.1 536.6h0M78.4 499.3h0M61.7 515.0h0M35.9 552.9h0M95.1 542.6h0M99.1 519.7h0M96.9 524.4h0M55.5 517.1h0M36.8 540.1h0" stroke="#d80c18" stroke-width="1.10" stroke-linecap="round" fill="none"/>
<path d="M47.4 523.8h0M86.5 523.0h0M46.8 529.4h0M37.9 537.8h0M66.9 527.4h0M53.9 540.2h0M105.7 557.7h0M69.5 560.3h0M113.9 525.3h0M104.4 525.8h0M38.6 514.7h0M119.4 557.3h0M57.9 547.7h0M112.6 528.7h0M84.5 544.8h0M100.4 558.9h0M67.4 505.3h0M86.7 548.9h0M118.6 521.9h0M56.3 522.8h0M67.5 502.8h0M90.5 531.7h0M51.6 514.7h0M59.0 504.5h0M99.2 529.2h0M37.6 558.6h0M110.3 503.9h0M83.4 542.4h0M43.1 561.2h0M110.5 545.9h0M92.6 542.8h0M48.5 546.5h0" stroke="#d80c18" stroke-width="1.80" stroke-linecap="round" fill="none"/>
<path d="M98.1 512.5h0M62.0 547.5h0M112.7 523.3h0M84.0 535.3h0M116.5 519.5h0M79.8 546.0h0M103.6 535.4h0M62.9 544.0h0M77.0 559.5h0M84.0 543.5h0M103.6 537.1h0M36.5 511.4h0M41.1 517.6h0M108.5 546.7h0M78.2 505.3h0M41.4 527.4h0M46.9 526.7h0M112.0 504.1h0M66.9 549.0h0M98.7 500.3h0M38.1 535.8h0M99.6 550.2h0M47.5 535.0h0M80.1 519.6h0M114.9 508.5h0M91.8 533.5h0M54.8 511.1h0M53.8 552.0h0M54.9 555.6h0M53.3 517.4h0M44.5 536.9h0M111.9 556.6h0" stroke="#ee1c24" stroke-width="1.30" stroke-linecap="round" fill="none"/>
<path d="M113.1 503.1h0M40.1 556.6h0M53.5 519.3h0M51.2 545.5h0M46.9 549.8h0M98.3 504.0h0M76.1 528.6h0M90.6 561.9h0M53.6 546.4h0M73.3 554.1h0M36.3 551.9h0M64.6 517.0h0M89.6 498.7h0M71.2 534.4h0M93.2 547.0h0M107.7 546.9h0M43.9 555.2h0M107.2 505.2h0M49.4 523.5h0M85.4 552.9h0M86.5 529.7h0M117.0 516.8h0M49.0 526.8h0M115.9 527.1h0M75.9 545.9h0M90.0 543.0h0M88.4 517.1h0M109.5 537.4h0M45.5 533.6h0M53.8 559.4h0M56.4 523.6h0M41.5 521.6h0M85.7 525.3h0M104.0 550.0h0M95.4 538.7h0" stroke="#f0282c" stroke-width="1.50" stroke-linecap="round" fill="none"/>
<path d="M92.0 500.7h0M44.0 533.8h0M58.2 511.5h0M98.9 517.8h0M110.1 499.2h0M40.7 532.7h0M108.2 552.1h0M48.2 519.0h0M93.2 517.3h0M80.3 525.5h0M87.0 502.0h0M50.4 514.7h0M84.0 524.9h0M101.2 537.5h0M117.6 560.6h0M58.3 556.9h0M65.0 532.5h0M108.3 537.9h0M120.2 519.4h0M118.6 557.8h0M90.7 562.0h0M105.3 509.7h0M119.8 503.3h0M97.1 536.2h0M76.7 552.0h0M71.7 498.6h0M67.6 537.4h0M107.7 516.7h0M45.9 527.4h0M67.1 539.5h0M45.5 559.7h0M84.6 546.0h0M108.2 535.3h0M111.0 511.0h0M47.8 530.8h0M90.3 534.0h0M89.5 538.6h0M44.6 512.9h0M79.9 517.1h0M40.3 535.1h0M82.1 528.8h0M96.6 502.3h0M49.7 530.4h0M44.7 515.0h0M54.2 521.5h0" stroke="#ee1c24" stroke-width="0.90" stroke-linecap="round" fill="none"/>
<path d="M90.0 514.2h0M55.4 501.8h0M66.9 510.9h0M82.2 514.6h0M79.3 553.2h0M84.5 547.7h0M108.7 536.3h0M49.1 531.3h0M74.5 504.0h0M64.4 533.5h0M62.1 533.3h0M71.4 511.6h0M95.2 513.0h0M90.7 507.5h0M76.0 517.9h0M76.3 520.8h0M94.9 538.0h0M63.4 514.4h0M60.3 520.6h0M47.2 529.7h0M90.4 519.4h0M77.2 498.8h0M81.7 516.5h0M117.4 554.7h0M69.9 541.2h0M44.1 500.7h0M72.2 534.5h0M66.1 537.5h0M65.9 535.9h0M64.4 515.6h0M101.9 524.8h0M40.1 515.7h0" stroke="#d80c18" stroke-width="2.10" stroke-linecap="round" fill="none"/>
<path d="M84.1 508.7h0M54.6 545.5h0M108.0 548.7h0M86.2 532.1h0M79.6 505.5h0M71.0 508.6h0M41.1 539.2h0M86.5 510.2h0M95.3 522.7h0M50.8 522.4h0M39.4 560.5h0M68.5 510.2h0M114.6 502.6h0M56.9 560.6h0M92.1 504.3h0M120.5 521.5h0M61.2 506.4h0M37.0 554.3h0M100.1 506.2h0M88.4 558.3h0M95.2 557.4h0M61.7 536.8h0" stroke="#c81020" stroke-width="1.80" stroke-linecap="round" fill="none"/>
<path d="M72.4 516.6h0M68.2 520.6h0M79.7 504.4h0M112.9 550.5h0M43.7 538.3h0M117.4 523.3h0M62.6 540.5h0M72.7 532.5h0M117.7 536.9h0M120.0 537.9h0M61.1 527.9h0M94.0 513.2h0M61.2 548.1h0M68.3 499.2h0M39.5 560.8h0M65.8 533.8h0M83.9 516.3h0M108.3 541.9h0M110.9 545.1h0M69.1 544.7h0M82.8 535.5h0M97.0 517.1h0M70.0 547.7h0M82.6 538.6h0M64.9 512.5h0M73.9 554.0h0M60.0 506.7h0M62.1 500.8h0M117.2 507.9h0M115.6 547.2h0M99.3 547.0h0M92.7 560.8h0" stroke="#ee1c24" stroke-width="2.10" stroke-linecap="round" fill="none"/>
<path d="M70.3 537.4h0M62.5 527.4h0M107.1 529.2h0M39.7 537.3h0M46.2 543.6h0M89.1 517.0h0M59.2 534.7h0M104.2 528.6h0M58.6 557.1h0M118.1 536.9h0M39.7 549.8h0M49.4 542.5h0M48.5 525.7h0M73.7 535.8h0M95.1 512.3h0M94.3 522.6h0M65.0 559.0h0M116.4 520.0h0M112.0 557.9h0M35.4 543.6h0M58.4 550.2h0M98.2 525.2h0M115.2 503.5h0M65.1 508.4h0M74.2 518.5h0M69.8 550.9h0M36.7 552.4h0M66.6 535.1h0M109.3 532.3h0M48.9 516.3h0M58.0 544.7h0M76.9 536.2h0" stroke="#e8121c" stroke-width="1.80" stroke-linecap="round" fill="none"/>
<path d="M38.0 521.8h0M79.2 525.4h0M117.7 554.3h0M111.0 515.7h0M61.9 551.5h0M54.6 548.9h0M90.7 552.5h0M55.4 503.5h0M110.6 501.2h0M112.0 534.2h0M64.5 518.3h0M119.5 500.3h0M69.6 537.7h0M82.2 498.6h0M78.2 500.4h0M110.1 557.1h0M103.9 512.0h0M97.4 520.8h0M80.7 515.7h0M58.7 542.3h0M104.8 499.5h0M101.1 535.1h0M83.7 533.9h0M106.9 549.6h0M110.3 513.2h0M63.3 551.9h0" stroke="#e8121c" stroke-width="1.50" stroke-linecap="round" fill="none"/>
<path d="M114.5 520.5h0M119.3 542.9h0M40.4 561.9h0M54.7 531.4h0M39.5 533.1h0M62.7 535.2h0M77.2 546.0h0M106.7 535.9h0M74.1 559.6h0M68.9 543.3h0M46.3 501.3h0M78.6 532.0h0M87.2 499.1h0M78.1 551.9h0M81.3 516.0h0M97.3 512.9h0M91.5 521.3h0M56.0 523.7h0M80.2 519.9h0M92.4 499.8h0M40.3 500.4h0M45.6 502.9h0M49.2 540.3h0M44.9 552.3h0M80.9 559.6h0M64.1 551.8h0M83.4 556.6h0" stroke="#c81020" stroke-width="1.10" stroke-linecap="round" fill="none"/>
<path d="M44.7 546.8h0M67.6 506.8h0M99.2 527.7h0M84.7 562.1h0M114.7 546.9h0M55.4 543.5h0M49.1 525.9h0M94.9 555.1h0M107.3 558.8h0M70.4 547.3h0M69.7 521.5h0M103.4 501.9h0M97.9 516.7h0M47.9 542.5h0M74.8 520.5h0M68.6 517.0h0M40.3 507.1h0M110.3 500.6h0M107.4 542.4h0M76.6 512.8h0M118.8 543.6h0M82.2 508.2h0M118.9 504.1h0M42.9 538.3h0M114.9 529.1h0M61.8 502.5h0M111.2 504.2h0M50.3 523.9h0M115.8 531.0h0M113.6 506.0h0M81.2 547.2h0M61.5 506.1h0M98.0 534.9h0M40.0 520.2h0M120.5 509.3h0" stroke="#d80c18" stroke-width="1.50" stroke-linecap="round" fill="none"/>
<path d="M44.4 536.4h0M93.4 521.6h0M100.1 503.3h0M106.3 509.0h0M102.6 539.0h0M73.0 520.3h0M83.2 555.7h0M56.9 532.1h0M85.2 541.3h0M55.4 552.6h0M61.8 540.7h0M117.0 548.0h0M47.2 507.3h0M103.0 547.8h0M45.5 544.7h0M50.2 509.7h0M43.1 562.8h0M67.3 520.0h0M73.3 531.5h0M80.6 554.0h0M76.8 503.1h0M78.7 545.3h0M105.3 520.3h0M93.9 499.7h0M91.8 512.4h0M116.5 544.5h0M79.4 544.2h0M87.5 552.9h0M54.1 539.9h0M77.6 532.3h0M85.6 547.9h0" stroke="#d80c18" stroke-width="1.30" stroke-linecap="round" fill="none"/>
<path d="M85.6 520.7h0M71.9 521.6h0M44.3 551.3h0M47.8 559.0h0M48.2 545.7h0M80.1 501.4h0M83.9 501.0h0M82.0 561.6h0M87.3 500.8h0M112.3 499.2h0M84.3 520.2h0M41.2 527.7h0M55.4 520.6h0M41.5 536.4h0M67.0 526.9h0M111.7 536.8h0M36.6 499.4h0M52.3 551.9h0M36.8 544.0h0M39.2 547.3h0M107.4 529.5h0M48.4 562.5h0M106.4 499.1h0M114.8 507.7h0M97.7 555.1h0" stroke="#e8121c" stroke-width="1.30" stroke-linecap="round" fill="none"/>
<path d="M104.1 549.1h0M88.6 560.7h0M36.9 561.6h0M80.2 555.0h0M114.8 524.8h0M47.0 545.0h0M45.0 547.1h0M98.5 553.5h0M60.7 507.8h0M105.6 498.4h0M43.6 513.5h0M86.7 545.0h0M78.0 522.8h0M56.9 518.7h0M63.0 558.6h0M56.8 551.6h0M107.0 519.1h0M61.7 539.4h0M101.8 505.6h0M91.6 541.2h0M111.4 500.7h0M63.9 530.9h0M91.1 551.9h0M75.3 554.1h0M87.3 556.8h0M67.6 551.7h0M107.4 547.5h0M45.5 539.0h0M59.8 524.4h0M44.6 558.7h0M101.3 554.7h0M59.8 555.2h0" stroke="#e83040" stroke-width="1.50" stroke-linecap="round" fill="none"/>
<path d="M45.6 523.4h0M76.4 511.8h0M85.6 540.8h0M44.1 516.9h0M96.4 554.6h0M74.7 515.2h0M92.1 509.0h0M53.0 530.6h0M118.2 509.2h0M48.7 519.3h0M78.5 542.8h0M90.1 543.8h0M104.7 518.6h0M54.4 558.1h0M94.3 551.1h0M120.3 535.2h0M103.5 501.7h0M60.8 509.9h0M109.3 524.8h0M61.5 513.5h0M67.7 515.3h0M118.7 500.6h0M107.2 499.6h0M86.8 532.3h0M104.5 548.2h0M86.2 540.7h0M108.1 517.8h0M38.5 504.3h0M103.2 514.4h0M93.9 502.1h0M57.1 536.7h0M39.9 552.0h0M54.5 525.7h0M69.7 535.9h0M101.3 548.2h0" stroke="#ee1c24" stroke-width="1.50" stroke-linecap="round" fill="none"/>
<path d="M70.3 531.5h0M82.5 524.1h0M45.1 517.1h0M106.9 524.3h0M36.4 523.9h0M110.8 500.1h0M61.3 526.8h0M49.6 544.9h0M66.9 505.6h0M42.1 541.6h0M69.4 520.0h0M115.2 526.4h0M76.7 528.2h0M111.8 557.0h0M54.2 525.0h0M35.5 538.1h0M42.1 542.3h0M90.3 508.9h0M47.5 523.8h0M41.7 546.5h0M62.0 545.9h0M86.6 525.3h0M82.0 557.5h0M74.2 539.2h0M79.0 535.7h0M99.3 515.5h0M103.9 502.6h0M78.3 556.9h0M48.8 519.3h0M61.8 527.4h0M93.0 508.1h0M93.1 546.2h0" stroke="#e83040" stroke-width="0.90" stroke-linecap="round" fill="none"/>
<path d="M111.3 555.4h0M78.3 513.7h0M95.9 500.3h0M53.7 527.5h0M119.8 555.3h0M96.3 553.6h0M67.7 515.7h0M101.8 537.0h0M69.2 508.8h0M115.2 545.0h0M53.3 553.5h0M100.9 524.5h0M81.3 538.4h0M118.6 535.9h0M37.6 540.4h0M53.5 529.2h0M78.6 561.4h0M104.7 498.8h0M115.3 555.6h0M79.4 527.4h0M43.1 498.5h0M84.3 550.2h0M99.8 532.5h0M111.0 527.8h0M100.2 517.1h0M44.8 512.2h0M36.0 546.4h0M105.0 534.5h0M67.5 537.8h0" stroke="#e83040" stroke-width="1.30" stroke-linecap="round" fill="none"/>
<path d="M103.3 549.2h0M64.4 556.7h0M111.8 544.5h0M89.2 538.0h0M112.9 559.6h0M38.0 538.8h0M106.2 511.9h0M101.7 507.7h0" stroke="#ec1a22" stroke-width="3.00" stroke-linecap="round" fill="none"/>
<path d="M37.2 550.8h0M108.7 545.0h0M110.8 516.7h0M72.9 528.6h0" stroke="#ec1a22" stroke-width="3.80" stroke-linecap="round" fill="none"/>
<circle cx="115.00" cy="510.00" r="2.24" fill="#ec1820"/>
<circle cx="116.49" cy="509.60" r="1.54" fill="#e8141c"/>
<circle cx="114.20" cy="508.68" r="1.54" fill="#e8141c"/>
<circle cx="115.95" cy="511.21" r="1.54" fill="#e8141c"/>
<circle cx="117.00" cy="518.00" r="1.76" fill="#ec1820"/>
<circle cx="116.89" cy="516.79" r="1.21" fill="#e8141c"/>
<circle cx="116.40" cy="516.95" r="1.21" fill="#e8141c"/>
<circle cx="116.56" cy="516.87" r="1.21" fill="#e8141c"/>
<circle cx="116.00" cy="527.00" r="1.60" fill="#ec1820"/>
<circle cx="115.44" cy="527.95" r="1.10" fill="#e8141c"/>
<circle cx="115.73" cy="525.93" r="1.10" fill="#e8141c"/>
<circle cx="115.69" cy="525.95" r="1.10" fill="#e8141c"/>
<circle cx="117.00" cy="540.00" r="2.56" fill="#ec1820"/>
<circle cx="117.12" cy="541.76" r="1.76" fill="#e8141c"/>
<circle cx="115.32" cy="539.49" r="1.76" fill="#e8141c"/>
<circle cx="116.14" cy="538.46" r="1.76" fill="#e8141c"/>
<circle cx="114.00" cy="547.00" r="2.08" fill="#ec1820"/>
<circle cx="114.72" cy="545.77" r="1.43" fill="#e8141c"/>
<circle cx="114.95" cy="548.07" r="1.43" fill="#e8141c"/>
<circle cx="115.29" cy="546.37" r="1.43" fill="#e8141c"/>
<circle cx="111.00" cy="553.00" r="1.92" fill="#ec1820"/>
<circle cx="112.11" cy="552.29" r="1.32" fill="#e8141c"/>
<circle cx="111.40" cy="554.26" r="1.32" fill="#e8141c"/>
<circle cx="112.32" cy="553.00" r="1.32" fill="#e8141c"/>
<circle cx="86.00" cy="553.00" r="2.24" fill="#ec1820"/>
<circle cx="87.06" cy="551.88" r="1.54" fill="#e8141c"/>
<circle cx="85.27" cy="551.64" r="1.54" fill="#e8141c"/>
<circle cx="87.41" cy="552.38" r="1.54" fill="#e8141c"/>
<circle cx="92.00" cy="535.00" r="1.84" fill="#ec1820"/>
<circle cx="90.76" cy="534.77" r="1.26" fill="#e8141c"/>
<circle cx="91.09" cy="534.12" r="1.26" fill="#e8141c"/>
<circle cx="92.38" cy="536.21" r="1.26" fill="#e8141c"/>
<circle cx="60.00" cy="555.00" r="2.24" fill="#ec1820"/>
<circle cx="60.42" cy="556.48" r="1.54" fill="#e8141c"/>
<circle cx="59.43" cy="556.43" r="1.54" fill="#e8141c"/>
<circle cx="61.48" cy="554.56" r="1.54" fill="#e8141c"/>
<circle cx="68.00" cy="520.00" r="1.92" fill="#ec1820"/>
<circle cx="68.09" cy="521.32" r="1.32" fill="#e8141c"/>
<circle cx="69.32" cy="519.98" r="1.32" fill="#e8141c"/>
<circle cx="69.08" cy="519.24" r="1.32" fill="#e8141c"/>
<circle cx="48.00" cy="520.00" r="1.84" fill="#ec1820"/>
<circle cx="48.97" cy="520.82" r="1.26" fill="#e8141c"/>
<circle cx="48.83" cy="519.04" r="1.26" fill="#e8141c"/>
<circle cx="48.90" cy="519.11" r="1.26" fill="#e8141c"/>
<circle cx="40.00" cy="540.00" r="1.92" fill="#ec1820"/>
<circle cx="41.29" cy="539.73" r="1.32" fill="#e8141c"/>
<circle cx="39.83" cy="541.31" r="1.32" fill="#e8141c"/>
<circle cx="41.31" cy="539.84" r="1.32" fill="#e8141c"/>
</g>
<rect x="35.30" y="498.30" width="85.80" height="64.60" fill="none" stroke="#1e1e1e" stroke-width="1.1"/>
<defs><clipPath id="clip23"><rect x="122.2" y="498.3" width="86.5" height="64.6"/></clipPath></defs>
<g clip-path="url(#clip23)">
<rect x="122.20" y="498.30" width="86.50" height="64.60" fill="#ece5ef"/>
<path d="M202.2 559.6h0M141.3 527.7h0M168.3 515.4h0M146.2 548.0h0M147.7 549.7h0M131.8 551.7h0M158.7 539.3h0M147.0 544.7h0M140.2 550.3h0M125.5 536.6h0M173.3 545.8h0M198.9 512.8h0M122.5 502.2h0M166.2 550.7h0M143.0 556.8h0M189.8 523.6h0M208.5 527.8h0M183.7 528.6h0M128.4 545.6h0M182.4 528.1h0M187.8 514.7h0M178.6 542.6h0M159.9 511.5h0M137.0 514.0h0M129.5 532.6h0M128.0 556.4h0M139.8 514.0h0M189.0 541.0h0M128.0 508.4h0M191.6 526.0h0M123.8 535.2h0M186.1 531.5h0M165.3 509.4h0M133.3 525.2h0M162.2 548.1h0M167.5 501.7h0M147.9 527.7h0M127.1 549.5h0M184.1 509.2h0M140.7 527.7h0M188.0 553.6h0M205.6 552.7h0M175.6 510.2h0M167.3 551.3h0M203.7 531.6h0M178.6 547.6h0M125.0 506.9h0M149.7 505.9h0M166.8 549.9h0M152.2 548.0h0M129.0 506.6h0M184.4 535.1h0M162.1 505.6h0M139.0 560.4h0M122.9 532.1h0M196.6 526.1h0M135.3 549.5h0M184.1 561.2h0M206.4 504.8h0M145.9 547.8h0M149.7 547.5h0M147.0 505.0h0M185.5 558.2h0M170.1 500.0h0M165.9 519.9h0M203.1 539.5h0M176.3 520.6h0M188.0 508.1h0M189.7 529.5h0M165.8 507.9h0M188.6 542.3h0M140.7 550.1h0M132.0 533.9h0M200.0 516.4h0M162.4 533.9h0M158.2 544.8h0M144.8 561.9h0M171.9 529.1h0M175.5 506.5h0M180.0 502.5h0M168.0 536.2h0M158.8 536.3h0M130.9 547.5h0M161.9 524.6h0M160.7 512.5h0M126.2 517.2h0M196.5 528.3h0M190.9 536.9h0M200.8 513.8h0M195.0 543.7h0M205.6 534.4h0M195.3 508.9h0M139.4 560.9h0M163.9 544.6h0M203.1 562.2h0M141.0 504.5h0M147.8 503.5h0M185.1 534.1h0M188.9 523.8h0M177.6 513.0h0M193.1 555.8h0M140.8 537.1h0M136.7 545.0h0M124.9 514.2h0M166.7 499.3h0M198.6 552.6h0M182.3 561.4h0M158.4 547.1h0M191.0 510.6h0M163.3 501.4h0M182.4 542.6h0M165.9 553.6h0M192.4 540.5h0M206.1 528.0h0M198.5 533.5h0M135.4 517.6h0M164.7 531.2h0M193.0 549.9h0" stroke="#a880c0" stroke-width="0.70" stroke-linecap="round" fill="none"/>
<path d="M173.4 525.7h0M171.1 553.9h0M146.0 535.3h0M131.6 556.4h0M181.8 505.6h0M189.4 541.8h0M187.6 555.4h0M207.3 546.8h0M178.1 559.1h0M185.9 508.2h0M151.6 533.4h0M164.1 529.4h0M125.6 535.4h0M197.4 523.9h0M155.4 543.9h0M141.8 551.7h0M152.3 549.7h0M184.4 526.2h0M184.5 511.8h0M200.1 502.9h0M122.5 536.3h0M196.1 518.2h0M161.1 526.7h0M172.4 542.6h0M150.8 516.1h0M133.5 507.7h0M182.3 528.3h0M175.9 544.5h0M153.3 529.9h0M151.6 503.4h0M165.8 547.6h0M185.2 503.9h0M127.2 540.4h0M194.1 499.5h0M191.8 509.8h0M159.5 551.4h0M173.0 524.7h0M143.7 517.9h0M196.6 526.9h0M165.3 511.1h0M151.7 559.4h0M200.4 555.1h0M178.9 531.3h0M142.7 513.6h0M186.6 526.5h0M149.7 541.0h0M130.3 546.0h0M152.2 535.8h0M167.4 512.7h0M180.1 551.3h0M136.4 507.6h0M136.9 513.0h0M169.5 531.5h0M204.7 516.7h0M203.5 521.6h0M185.4 529.8h0M144.3 541.4h0M134.8 511.1h0M157.6 551.0h0M148.5 535.7h0M197.6 503.5h0M160.5 560.4h0M178.1 508.7h0M178.1 562.2h0M140.4 536.8h0M186.4 557.2h0M170.0 536.3h0M130.5 558.9h0M153.2 528.6h0M141.5 506.4h0M150.4 523.3h0M154.4 557.8h0M133.3 498.6h0M183.0 552.0h0M129.3 502.9h0M206.1 517.4h0M204.7 539.0h0M145.2 533.0h0M199.5 535.1h0M170.4 553.4h0M153.1 562.8h0M192.1 534.6h0M184.1 521.2h0M142.5 557.5h0M190.9 507.0h0M207.1 511.8h0M156.0 548.1h0M138.5 521.2h0M138.7 546.0h0M208.4 532.4h0M146.9 544.4h0M188.6 526.4h0M205.2 510.9h0M148.6 523.9h0M126.6 541.8h0M154.8 543.3h0M193.9 553.1h0M185.1 540.8h0M173.7 502.4h0M149.8 562.6h0M148.1 546.0h0M189.0 531.1h0M186.0 537.0h0M135.6 499.0h0M158.5 527.4h0M167.8 529.4h0M204.3 516.6h0M136.2 531.5h0" stroke="#c898c0" stroke-width="1.00" stroke-linecap="round" fill="none"/>
<path d="M133.5 510.7h0M129.6 544.2h0M188.1 540.7h0M199.6 542.7h0M151.0 534.4h0M137.2 527.3h0M165.7 505.4h0M159.2 537.6h0M206.6 498.3h0M177.3 547.3h0M148.2 550.1h0M203.3 561.2h0M184.2 559.2h0M197.2 537.0h0M196.6 510.2h0M163.4 553.5h0M153.3 522.7h0M139.6 513.4h0M147.3 515.2h0M150.1 556.1h0M198.7 554.5h0M188.2 524.5h0M133.3 520.1h0M154.4 560.9h0M196.8 554.2h0M155.6 560.2h0M132.6 531.7h0M123.1 512.5h0M159.5 547.1h0M171.8 507.7h0M160.9 557.4h0M160.3 520.5h0M157.4 540.2h0M187.9 559.9h0M189.4 519.3h0M128.2 523.7h0M161.6 540.5h0M122.8 557.8h0M134.3 541.2h0M134.0 538.7h0M158.1 527.2h0M194.4 552.3h0M201.1 541.7h0M156.5 523.8h0M162.7 519.2h0M157.1 541.2h0M141.4 536.1h0M175.6 518.8h0M170.9 542.7h0M144.3 523.2h0M162.1 544.0h0M192.1 550.5h0M192.5 530.2h0M176.0 501.9h0M195.0 530.4h0M132.3 519.6h0M158.4 504.1h0M145.8 531.7h0M146.0 530.0h0M153.6 504.8h0M204.5 539.9h0M178.4 505.9h0M189.1 538.7h0M157.8 556.4h0M171.2 500.2h0M122.9 512.1h0M152.5 505.7h0M206.5 519.2h0M158.0 544.1h0M124.8 529.9h0M200.1 505.3h0M142.0 555.6h0M140.7 552.5h0M167.9 518.5h0M160.1 534.4h0M167.2 525.9h0M142.0 539.1h0M128.5 524.2h0M155.8 514.2h0M162.0 555.8h0M167.4 536.9h0M157.1 531.3h0M165.0 505.4h0M164.1 548.0h0M173.6 501.5h0M127.0 498.7h0M136.4 526.7h0M208.7 507.2h0M195.9 500.1h0M176.6 558.0h0M198.5 523.1h0M163.2 498.5h0M131.5 520.0h0M136.5 499.0h0M188.8 500.3h0M165.2 516.6h0M149.0 529.3h0M163.0 531.4h0M177.9 542.4h0M131.7 528.9h0M140.3 511.9h0M136.7 504.1h0M130.6 553.9h0M166.5 517.9h0M207.1 556.7h0M148.3 527.4h0M164.4 553.9h0M170.0 507.9h0" stroke="#7c60a4" stroke-width="0.70" stroke-linecap="round" fill="none"/>
<path d="M166.5 545.7h0M139.2 558.6h0M191.4 562.1h0M182.0 523.1h0M174.4 536.5h0M133.4 522.9h0M171.3 501.6h0M151.5 547.2h0M205.5 501.6h0M182.0 514.4h0M188.9 514.8h0M142.3 499.6h0M142.7 505.8h0M200.9 517.3h0M140.5 548.6h0M196.6 535.9h0M192.5 537.9h0M135.0 531.6h0M163.3 502.1h0M194.0 519.2h0M184.6 500.0h0M168.5 522.2h0M161.2 557.8h0M136.9 508.3h0M192.4 561.8h0M165.8 501.5h0M169.7 509.5h0M146.4 546.2h0M132.6 512.3h0M130.5 554.0h0M187.5 499.6h0M201.4 517.5h0M193.7 512.8h0M200.8 555.6h0M131.4 559.4h0M190.4 561.4h0M175.2 506.7h0M202.5 558.4h0M123.5 554.0h0M208.3 561.7h0M183.2 543.6h0M181.1 559.5h0M187.0 505.5h0M203.2 557.2h0M177.6 520.5h0M187.5 534.5h0M190.4 536.4h0M197.9 545.1h0M190.8 515.8h0M189.1 540.3h0M176.5 559.8h0M129.8 539.4h0M140.9 515.0h0M153.5 532.3h0M156.8 499.2h0M146.8 516.8h0M168.1 535.7h0M154.2 536.6h0M164.7 542.7h0M179.9 557.0h0M155.3 522.6h0M158.5 550.7h0M152.9 554.8h0M139.5 532.5h0M155.1 537.2h0M159.5 545.6h0M138.6 499.8h0M158.6 559.6h0M157.2 507.8h0M170.0 507.0h0M146.6 521.8h0M204.1 540.2h0M133.4 505.4h0M161.6 552.2h0M182.7 525.6h0M186.7 557.8h0M189.2 505.9h0M206.3 525.2h0M196.9 561.6h0M181.0 554.6h0M197.8 553.8h0M148.6 546.2h0M141.4 503.0h0M146.0 553.9h0M171.0 502.6h0M133.9 532.2h0M130.3 508.4h0M129.5 498.3h0M196.0 551.6h0M198.8 559.1h0" stroke="#b898cc" stroke-width="0.70" stroke-linecap="round" fill="none"/>
<path d="M140.0 500.6h0M191.0 530.1h0M136.5 541.0h0M160.7 509.5h0M203.3 533.3h0M136.3 555.8h0M124.3 553.8h0M174.1 524.3h0M184.0 543.8h0M170.1 509.3h0M164.3 504.0h0M189.7 508.4h0M152.8 541.6h0M167.8 520.5h0M148.7 515.9h0M174.5 515.9h0M185.8 532.9h0M166.2 533.5h0M125.9 507.2h0M193.6 538.6h0M123.9 512.7h0M141.9 509.6h0M163.8 503.5h0M159.8 545.4h0M203.9 514.2h0M138.3 559.2h0M197.2 547.3h0M165.4 543.6h0M199.0 561.2h0M168.7 545.9h0M127.8 502.2h0M165.4 549.1h0M204.7 551.4h0M149.0 530.8h0M163.2 549.9h0M144.0 545.7h0M134.0 535.7h0M201.1 542.9h0M126.4 554.0h0M157.7 555.6h0M161.7 557.8h0M187.6 529.8h0M194.9 538.6h0M180.1 527.2h0M160.2 530.0h0M191.6 514.3h0M177.1 554.4h0M165.2 515.5h0M196.0 541.8h0M166.2 553.2h0M127.0 517.8h0M198.6 545.5h0M188.6 538.8h0M141.6 546.1h0M144.0 559.0h0M125.0 552.7h0M181.6 523.2h0M129.5 520.3h0M179.2 502.3h0M153.2 499.4h0M124.8 500.8h0M182.2 536.7h0M145.1 504.9h0M198.3 558.8h0M137.5 553.4h0M147.9 554.8h0M133.5 550.6h0M134.2 515.0h0M165.2 530.5h0M182.1 517.5h0M205.4 527.7h0M200.3 535.1h0M168.0 518.1h0M192.1 558.6h0M141.7 533.1h0M124.4 509.6h0M188.4 540.3h0M123.9 562.5h0M207.6 557.7h0M152.4 534.4h0M178.8 504.3h0M156.7 507.5h0M195.4 560.3h0" stroke="#b898cc" stroke-width="1.30" stroke-linecap="round" fill="none"/>
<path d="M137.1 512.3h0M125.9 555.6h0M143.5 518.7h0M163.1 507.7h0M140.0 543.9h0M185.4 546.5h0M153.6 517.3h0M123.4 521.6h0M200.8 535.1h0M133.0 512.6h0M153.0 561.8h0M125.5 531.3h0M138.6 516.9h0M192.3 508.4h0M185.8 550.6h0M178.1 539.9h0M128.5 500.0h0M136.7 535.8h0M188.5 536.0h0M191.0 501.8h0M160.1 527.8h0M188.1 501.7h0M174.3 521.5h0M178.8 526.9h0M182.1 536.1h0M174.8 501.3h0M126.0 503.8h0M125.1 498.4h0M150.7 532.2h0M183.4 507.0h0M183.0 510.0h0M140.9 508.1h0M165.0 536.1h0M158.0 562.0h0M127.9 556.9h0M205.7 536.5h0M129.6 535.4h0M145.8 539.6h0M150.9 518.9h0M125.8 512.0h0M140.2 561.8h0M159.9 558.9h0M123.5 553.1h0M162.6 553.4h0M195.4 552.7h0M193.9 551.7h0M186.2 540.3h0M170.6 543.9h0M151.4 555.6h0M131.0 521.3h0M194.1 504.4h0M131.6 519.3h0M150.6 531.2h0M168.3 520.0h0M178.4 556.2h0M145.9 513.0h0M190.1 540.2h0M205.2 509.7h0M198.7 500.3h0M158.4 555.7h0M207.1 547.2h0M124.9 503.6h0M178.3 518.8h0M144.7 508.8h0M188.4 511.7h0M196.0 562.3h0M146.8 515.1h0M185.3 553.6h0M175.1 555.3h0M183.4 559.4h0M184.0 499.9h0M132.2 544.6h0M204.6 536.1h0M130.4 518.6h0M199.8 531.7h0M208.2 520.0h0M180.9 526.3h0M139.2 552.2h0M207.9 538.2h0M131.9 547.0h0M205.3 561.9h0M193.7 510.8h0M137.7 561.4h0M182.5 529.6h0M177.0 550.1h0M171.8 530.7h0M127.1 542.5h0M206.1 562.0h0M191.3 522.4h0M145.2 538.3h0M141.8 526.2h0M178.6 518.6h0M191.5 502.5h0M157.1 547.4h0M123.1 540.3h0M135.1 529.5h0M134.4 561.1h0M187.2 550.7h0M135.3 551.6h0M182.6 525.9h0M143.4 544.6h0M148.6 534.1h0M156.5 521.6h0M181.9 557.3h0M158.6 521.4h0M136.2 534.3h0M148.5 523.7h0" stroke="#a898d4" stroke-width="1.00" stroke-linecap="round" fill="none"/>
<path d="M179.3 518.6h0M134.5 546.4h0M130.9 509.0h0M177.1 501.1h0M179.4 526.1h0M169.1 506.1h0M123.7 507.7h0M158.9 505.4h0M188.2 527.4h0M174.0 550.7h0M157.6 542.8h0M181.9 507.6h0M147.8 542.1h0M128.1 502.1h0M207.5 535.5h0M191.7 554.1h0M155.2 519.0h0M144.8 553.2h0M193.7 537.8h0M152.4 521.9h0M177.6 526.8h0M206.9 555.7h0M196.0 549.9h0M158.9 542.4h0M155.2 519.5h0M159.2 542.4h0M189.6 531.8h0M195.9 519.2h0M150.4 536.7h0M134.1 520.2h0M157.6 547.1h0M183.2 505.6h0M139.8 514.7h0M133.5 534.2h0M148.4 560.7h0M163.3 502.9h0M180.5 550.9h0M191.5 530.4h0M147.0 499.2h0M196.1 551.4h0M148.8 526.6h0M192.7 527.2h0M191.9 552.8h0M201.8 547.2h0M150.6 500.7h0M187.9 513.7h0M187.7 554.8h0M160.1 558.3h0M173.1 501.3h0M127.8 504.6h0M173.5 554.0h0M194.4 527.6h0M127.5 559.4h0M131.8 555.0h0M181.1 545.1h0M207.2 550.7h0M143.3 554.3h0M207.1 536.2h0M188.0 547.9h0M190.3 534.3h0M142.8 560.8h0M146.1 534.0h0M122.8 513.8h0M126.6 514.0h0M130.3 500.9h0M140.3 523.1h0M152.0 501.5h0M126.3 519.1h0M203.0 556.6h0M136.0 526.1h0M160.4 558.5h0M186.8 538.9h0M143.4 528.0h0M157.8 523.9h0M133.1 547.6h0M180.6 540.5h0M200.4 549.9h0M138.3 500.1h0M128.2 521.4h0M173.0 500.7h0M170.0 560.8h0M125.8 515.2h0M160.4 536.2h0M127.3 548.8h0M148.3 540.5h0M132.7 504.9h0" stroke="#a880c0" stroke-width="1.00" stroke-linecap="round" fill="none"/>
<path d="M137.6 529.5h0M138.9 503.2h0M134.2 545.6h0M168.3 553.8h0M145.4 516.7h0M205.4 500.5h0M157.1 541.4h0M176.4 560.6h0M184.1 501.8h0M185.4 552.8h0M139.0 518.2h0M175.5 524.3h0M192.5 525.2h0M197.6 507.1h0M165.5 539.4h0M177.6 515.4h0M189.3 512.5h0M196.2 545.5h0M123.4 546.3h0M165.9 508.6h0M153.4 515.9h0M199.6 538.1h0M187.5 523.5h0M141.0 522.3h0M172.4 519.8h0M157.0 525.7h0M195.1 530.3h0M161.3 501.6h0M190.2 502.4h0M198.6 524.4h0M197.7 501.8h0M175.8 504.0h0M178.9 518.4h0M127.4 529.2h0M204.6 505.8h0M161.7 547.4h0M194.8 531.9h0M194.1 529.1h0M132.3 530.4h0M128.7 533.9h0M134.2 531.8h0M183.8 504.5h0M126.1 546.8h0M161.8 514.0h0M140.9 524.9h0M144.0 546.2h0M126.0 498.9h0M130.3 511.3h0M126.3 552.9h0M142.2 534.7h0M186.3 544.4h0M163.1 529.4h0M185.3 529.9h0M133.7 518.4h0M187.0 513.9h0M188.9 538.6h0M149.0 558.6h0M130.9 543.0h0M200.4 527.1h0M131.2 530.9h0M147.3 529.0h0M172.4 559.8h0M138.3 524.1h0M129.0 503.7h0M147.8 516.1h0M194.7 550.4h0M201.6 542.2h0M194.7 548.6h0M146.1 503.4h0M126.5 549.0h0M144.4 549.3h0M144.5 559.1h0M149.6 544.7h0M127.7 552.8h0M156.1 505.5h0M152.4 513.6h0M189.5 539.6h0M180.6 548.4h0M139.2 518.3h0M181.6 508.6h0M160.3 557.2h0M134.3 505.0h0M196.2 518.0h0M165.8 530.6h0M156.8 504.1h0M194.3 519.7h0M173.8 507.8h0M158.7 525.0h0M183.4 525.5h0M144.2 553.9h0M198.1 536.5h0M164.7 557.3h0M141.7 509.4h0M191.7 551.2h0M197.2 531.9h0M177.1 544.1h0M202.2 518.4h0M197.6 542.5h0M152.5 519.8h0M163.5 555.8h0M198.8 534.2h0M125.9 522.0h0M126.5 553.1h0" stroke="#7c60a4" stroke-width="1.30" stroke-linecap="round" fill="none"/>
<path d="M177.8 510.1h0M150.2 551.0h0M158.2 499.8h0M151.5 499.8h0M208.0 544.8h0M144.6 553.3h0M164.7 520.9h0M197.8 544.8h0M135.4 542.8h0M166.2 521.4h0M204.0 511.3h0M201.6 562.8h0M189.6 533.4h0M182.0 556.6h0M171.0 559.1h0M164.4 551.3h0M165.7 537.3h0M208.3 546.8h0M153.7 544.5h0M161.0 536.5h0M130.9 544.3h0M174.9 560.6h0M135.3 544.4h0M144.2 500.3h0M159.2 520.4h0M133.1 511.0h0M178.8 559.9h0M158.9 528.5h0M163.1 537.7h0M122.3 509.6h0M145.0 523.2h0M160.4 506.1h0M125.9 499.7h0M149.8 533.5h0M141.9 498.6h0M190.1 554.2h0M131.4 503.5h0M193.3 536.4h0M186.3 556.2h0M171.1 537.6h0M135.6 560.5h0M162.3 499.6h0M159.9 531.2h0M198.4 547.6h0M159.5 498.5h0M166.8 562.2h0M160.6 541.8h0M181.2 529.1h0M134.4 502.7h0M182.1 548.9h0M136.4 522.1h0M206.7 535.6h0M184.3 514.2h0M128.6 562.9h0M171.1 550.1h0M193.7 502.7h0M190.5 519.6h0M191.3 499.9h0M181.0 526.6h0M190.1 540.4h0M136.7 518.7h0M187.0 520.1h0M142.2 545.6h0M169.8 518.4h0M158.2 551.2h0M178.1 556.9h0M136.8 547.0h0M150.6 534.0h0M144.6 517.0h0M141.3 514.4h0M165.3 533.0h0M134.6 537.5h0M174.7 539.5h0M162.5 502.3h0M167.6 555.6h0M181.1 522.1h0M126.0 550.3h0M127.6 539.2h0M142.3 536.2h0M152.0 523.8h0M143.7 536.8h0M176.6 542.3h0M202.5 520.5h0M126.8 535.3h0M138.7 501.8h0M164.3 520.6h0M138.1 533.5h0M158.3 554.6h0M152.7 511.4h0M137.0 537.3h0M193.5 511.2h0M162.3 521.4h0M149.2 498.4h0M203.8 508.1h0M185.7 562.1h0M202.2 545.3h0M151.1 540.3h0M141.2 505.2h0M128.5 534.1h0M166.0 535.0h0M193.1 529.9h0M134.6 517.3h0M193.5 513.7h0M173.2 549.3h0M130.7 552.1h0" stroke="#9070b0" stroke-width="1.30" stroke-linecap="round" fill="none"/>
<path d="M132.1 504.7h0M135.1 538.3h0M136.7 561.3h0M178.8 509.3h0M171.4 535.2h0M165.5 561.8h0M197.1 521.2h0M208.6 559.3h0M193.4 529.0h0M201.0 507.8h0M183.2 538.7h0M123.7 548.4h0M141.3 501.8h0M141.3 520.9h0M146.5 539.4h0M161.7 553.3h0M164.6 539.6h0M149.3 553.9h0M204.2 500.0h0M128.2 548.3h0M205.0 550.3h0M175.9 530.2h0M206.0 553.1h0M138.0 533.2h0M174.6 509.6h0M147.6 561.9h0M194.3 555.7h0M170.1 532.9h0M204.2 500.0h0M174.4 505.6h0M202.5 521.8h0M142.8 560.4h0M169.6 511.2h0M159.8 553.3h0M197.4 538.0h0M156.5 538.3h0M132.3 503.3h0M208.0 561.0h0M157.7 546.0h0M187.5 518.7h0M136.2 530.4h0M199.7 552.7h0M166.8 511.2h0M159.2 500.9h0M141.0 531.3h0M156.2 531.4h0M197.4 538.1h0M169.3 503.4h0M155.9 546.3h0M202.7 548.2h0M188.2 499.4h0M169.1 557.6h0M132.2 558.5h0M176.4 525.4h0M133.5 511.5h0M176.6 527.1h0M189.8 541.6h0M206.7 498.5h0M187.0 519.5h0M181.7 507.1h0M172.9 547.4h0M199.2 512.8h0M149.9 524.8h0M160.2 538.2h0M158.5 525.0h0M154.4 504.3h0M146.2 510.7h0M138.9 554.8h0M143.4 504.3h0M192.4 530.9h0M192.1 548.7h0M152.4 519.4h0M137.9 501.1h0M204.0 525.8h0M133.0 541.5h0M145.6 545.7h0M122.4 553.9h0M158.3 521.3h0M149.3 525.0h0M190.7 511.2h0M124.7 543.0h0M176.9 537.7h0M142.5 554.7h0M201.5 545.8h0M197.9 519.2h0M205.0 530.1h0M174.4 515.6h0M184.0 517.5h0M146.3 548.4h0M163.7 500.5h0M208.7 511.7h0M207.3 541.0h0M177.1 513.8h0M202.8 520.5h0M183.5 560.8h0M178.5 562.5h0M188.5 535.5h0M142.2 513.8h0M158.3 531.1h0M198.0 561.4h0M133.1 507.3h0M140.5 511.3h0M208.5 562.6h0M203.5 542.2h0M181.8 553.8h0M202.6 510.0h0M190.8 512.2h0M162.9 534.0h0M134.3 540.2h0M151.0 537.9h0M168.8 506.8h0M178.0 560.2h0M194.1 513.3h0M180.1 526.4h0M142.1 540.9h0M181.8 547.6h0M144.8 560.3h0M197.2 530.3h0M163.6 532.0h0M204.5 545.9h0" stroke="#a880c0" stroke-width="1.30" stroke-linecap="round" fill="none"/>
<path d="M199.6 527.7h0M181.9 534.3h0M145.9 558.4h0M179.0 506.8h0M127.5 541.1h0M141.0 534.4h0M137.1 533.0h0M156.5 540.4h0M205.5 554.2h0M177.4 517.3h0M128.4 499.6h0M186.9 517.3h0M141.5 534.3h0M187.1 518.2h0M165.4 503.3h0M203.3 505.1h0M157.4 554.8h0M136.2 517.0h0M168.8 549.9h0M170.6 502.1h0M159.4 537.5h0M135.2 550.7h0M140.0 524.4h0M174.0 520.6h0M149.8 518.3h0M132.3 537.6h0M163.7 508.3h0M133.5 521.2h0M173.8 499.9h0M188.5 515.1h0M135.6 533.5h0M151.6 545.0h0M171.8 527.9h0M124.7 561.8h0M137.9 559.6h0M172.3 559.1h0M129.3 552.0h0M164.6 521.3h0M141.0 562.7h0M156.4 562.7h0M165.9 499.5h0M191.0 556.1h0M153.2 539.2h0M176.1 511.6h0M187.8 525.2h0M178.7 541.1h0M171.1 545.7h0M133.7 515.7h0M122.9 537.7h0M152.7 528.0h0M130.9 514.2h0M184.0 560.4h0M208.0 514.0h0M144.8 562.4h0M184.1 558.4h0M174.0 562.2h0M189.7 537.8h0M135.2 532.9h0M131.4 500.5h0M138.6 543.7h0M198.6 514.5h0M143.3 557.6h0M129.3 545.8h0M139.5 520.7h0M193.3 500.5h0M152.4 522.4h0M157.4 543.6h0M194.2 542.3h0M146.6 510.2h0M133.9 527.4h0M148.7 523.8h0M133.5 537.3h0M198.0 540.3h0M198.8 548.9h0M152.7 558.0h0M188.7 536.8h0M187.0 550.1h0M153.6 509.5h0M175.4 502.1h0M152.1 505.7h0M146.4 501.4h0M122.3 520.1h0M162.7 506.6h0M136.9 534.7h0M164.8 512.0h0M127.4 554.5h0M200.9 524.6h0M175.2 512.6h0M137.9 526.2h0M173.5 500.4h0M194.3 551.9h0M130.6 553.5h0M137.8 511.9h0M134.3 539.0h0M144.4 508.2h0M149.4 511.6h0M135.0 516.4h0M186.4 513.7h0M128.5 502.1h0M202.6 514.9h0M135.0 527.4h0M165.2 546.1h0" stroke="#9070b0" stroke-width="1.00" stroke-linecap="round" fill="none"/>
<path d="M123.3 512.7h0M168.8 562.1h0M130.1 534.2h0M193.7 505.3h0M197.2 511.5h0M201.8 540.9h0M135.8 551.3h0M185.6 509.6h0M204.0 524.2h0M146.6 530.9h0M158.6 511.3h0M182.7 535.5h0M123.4 506.3h0M161.9 510.2h0M165.5 500.9h0M131.7 545.6h0M177.8 499.1h0M148.5 503.9h0M194.9 553.9h0M138.9 560.3h0M208.1 558.4h0M165.1 520.6h0M165.7 552.3h0M173.2 504.3h0M195.5 526.2h0M141.7 533.7h0M136.2 507.6h0M185.1 518.2h0M180.6 550.7h0M169.3 548.1h0M128.4 560.3h0M191.2 527.6h0M132.7 503.0h0M192.0 517.2h0M142.6 502.2h0M159.5 546.7h0M204.1 555.4h0M139.9 547.5h0M168.8 558.2h0M161.6 532.1h0M199.0 557.5h0M170.5 505.5h0M126.7 509.3h0M129.0 505.5h0M142.3 511.1h0M146.5 562.5h0M138.9 538.8h0M169.4 505.8h0M183.9 512.8h0M134.7 532.1h0M177.7 544.5h0M185.9 537.2h0M158.8 505.9h0M166.5 527.5h0M163.8 542.3h0M196.3 550.1h0M176.4 542.1h0M195.6 545.0h0M163.5 549.7h0M164.4 553.8h0M176.1 528.5h0M178.7 525.6h0M166.5 552.3h0M153.3 506.4h0M172.9 526.8h0M192.5 510.2h0M179.3 517.6h0M205.5 510.8h0M203.2 507.9h0M139.0 499.6h0M165.5 515.4h0M206.9 539.4h0M135.0 521.2h0M127.9 506.8h0M173.6 557.6h0M138.6 538.3h0M135.5 547.7h0M197.8 529.6h0M198.5 520.3h0M205.5 556.9h0M202.2 561.5h0M207.7 519.6h0M128.0 516.9h0M155.7 511.2h0M188.7 524.4h0M182.2 531.7h0M189.1 506.2h0M159.3 547.9h0M126.3 498.6h0M139.4 561.5h0M136.5 508.2h0M129.1 529.1h0M141.7 531.8h0M171.6 535.2h0M177.7 532.3h0" stroke="#a898d4" stroke-width="0.70" stroke-linecap="round" fill="none"/>
<path d="M152.1 561.2h0M142.8 517.4h0M198.0 554.1h0M168.5 511.9h0M127.3 518.7h0M193.4 536.4h0M194.9 523.6h0M127.1 500.5h0M122.9 530.4h0M143.6 522.2h0M204.2 543.5h0M169.7 555.1h0M195.7 501.6h0M133.2 510.2h0M195.9 532.4h0M208.6 545.3h0M182.1 508.0h0M122.5 510.6h0M195.0 506.7h0M139.1 549.4h0M149.7 554.3h0M180.2 553.4h0M150.8 519.1h0M162.9 536.1h0M149.5 557.1h0M202.5 530.3h0M193.5 544.3h0M205.2 553.8h0M163.6 551.8h0M173.8 524.8h0M172.0 555.2h0M190.2 562.3h0M162.3 517.5h0M138.5 547.7h0M184.5 562.7h0M158.3 540.2h0M168.9 511.6h0M175.0 520.1h0M139.8 553.6h0M131.3 560.9h0M196.9 524.5h0M154.3 508.6h0M136.4 540.4h0M149.8 507.5h0M176.4 557.8h0M127.8 521.2h0M180.2 498.6h0M177.0 532.8h0M195.6 504.4h0M176.4 556.3h0M152.8 515.8h0M139.4 548.1h0M162.2 520.6h0M164.6 558.4h0M195.6 546.4h0M161.4 552.3h0M169.6 542.4h0M183.3 551.5h0M206.1 503.0h0M160.6 532.2h0M130.6 545.0h0M135.9 504.8h0M128.8 560.3h0M143.9 536.1h0M153.7 559.6h0M135.8 525.1h0M156.3 510.8h0M175.2 542.7h0M168.5 524.9h0M196.2 508.8h0M153.9 550.2h0M163.9 523.7h0M125.2 534.7h0M194.1 535.9h0M184.8 505.3h0M185.4 557.7h0M197.7 521.6h0M126.1 510.8h0M146.7 524.2h0M153.3 547.8h0M206.1 530.2h0M156.1 537.5h0M204.7 509.1h0M144.9 556.0h0M159.8 514.0h0M150.5 512.6h0M145.2 507.7h0M169.6 543.1h0M181.2 537.3h0M194.7 536.1h0M195.0 499.4h0M122.5 513.0h0M196.4 509.7h0M149.3 515.0h0M136.7 526.4h0M198.5 554.6h0M131.6 547.7h0M208.6 527.9h0M179.8 517.3h0" stroke="#7c60a4" stroke-width="1.00" stroke-linecap="round" fill="none"/>
<path d="M182.1 551.9h0M153.5 540.4h0M202.3 518.4h0M206.5 546.1h0M134.9 553.3h0M188.1 556.5h0M193.7 539.4h0M155.5 506.8h0M169.8 501.2h0M132.1 559.7h0M197.1 522.2h0M179.4 526.0h0M125.0 543.7h0M181.6 551.6h0M181.8 558.4h0M156.8 546.6h0M136.3 503.4h0M177.5 502.3h0M194.8 528.0h0M146.3 556.9h0M127.1 525.5h0M161.6 526.8h0M197.6 561.1h0M151.1 533.3h0M145.7 545.4h0M192.9 499.0h0M205.8 542.1h0M163.6 533.8h0M149.5 556.9h0M191.5 560.9h0M132.3 518.0h0M129.7 498.6h0M178.3 504.4h0M124.7 555.8h0M175.1 501.6h0M165.4 550.4h0M177.1 560.6h0M139.9 520.0h0M181.4 534.0h0M151.6 499.9h0M173.6 519.1h0M187.4 515.1h0M208.6 522.7h0M204.5 525.1h0M179.4 516.4h0M125.4 505.1h0M195.5 541.8h0M204.4 510.1h0M126.7 554.4h0M164.2 523.3h0M204.7 513.0h0M135.0 531.9h0M179.0 516.1h0M123.2 519.8h0M202.7 541.1h0M182.4 534.0h0M204.1 508.8h0M192.6 503.5h0M204.6 525.3h0M207.0 524.3h0M171.4 549.6h0M153.0 548.0h0M154.0 546.1h0M196.6 539.0h0M129.0 508.9h0M123.2 510.8h0M178.8 538.2h0M155.2 518.9h0M153.8 524.4h0M132.4 535.6h0M189.3 561.5h0M174.2 498.7h0M132.4 518.2h0M178.8 521.3h0M156.7 546.4h0M125.2 521.3h0M164.3 521.9h0M205.8 517.2h0M180.4 545.8h0M194.6 557.0h0M180.0 505.8h0M126.7 533.1h0M159.2 551.2h0M146.5 524.4h0M190.5 550.3h0M137.4 550.9h0M158.3 529.6h0M132.2 500.5h0M154.3 545.4h0M148.7 508.0h0M187.3 513.1h0M149.1 551.9h0" stroke="#a898d4" stroke-width="1.30" stroke-linecap="round" fill="none"/>
<path d="M188.9 534.3h0M139.5 534.8h0M205.8 562.4h0M175.3 525.9h0M199.6 552.1h0M201.1 501.0h0M195.5 558.1h0M199.4 526.0h0M143.2 504.2h0M148.4 505.7h0M123.0 560.4h0M142.7 540.9h0M166.1 516.3h0M203.9 536.8h0M178.6 511.7h0M177.0 498.9h0M139.2 542.0h0M158.9 529.2h0M126.0 542.5h0M139.3 557.6h0M137.9 555.3h0M193.0 519.8h0M168.5 508.9h0M124.1 538.4h0M174.7 545.0h0M179.8 518.7h0M186.5 507.8h0M173.5 501.3h0M171.0 507.8h0M182.0 537.3h0M192.9 535.2h0M194.9 513.5h0M194.8 522.8h0M160.1 532.1h0M129.3 547.1h0M205.8 508.7h0M176.1 502.0h0M159.5 503.3h0M178.8 517.2h0M124.8 556.1h0M177.7 553.2h0M163.5 548.9h0M160.1 532.9h0M142.1 543.8h0M176.4 551.5h0M201.2 503.8h0M188.4 533.6h0M155.4 515.3h0M123.2 506.5h0M198.7 561.5h0M171.7 527.8h0M133.3 518.2h0M175.2 542.1h0M201.6 550.8h0M159.8 559.8h0M164.5 501.4h0M187.6 528.7h0M140.3 534.9h0M178.6 543.7h0M205.3 528.1h0M124.8 520.4h0M168.5 558.3h0M203.5 545.7h0M203.3 503.4h0M134.8 535.9h0M165.0 537.0h0M161.5 508.6h0M147.7 538.5h0M182.0 554.6h0M198.2 519.9h0M122.5 561.4h0M198.0 534.6h0M173.4 553.2h0M177.6 523.5h0M165.9 517.2h0M151.8 537.3h0M149.4 532.4h0M163.1 536.7h0M146.6 561.0h0M168.8 541.1h0M207.7 519.4h0M185.7 502.0h0M178.3 561.8h0M168.6 499.2h0M129.7 558.0h0M187.9 534.9h0M189.5 559.2h0M143.7 541.3h0M134.6 546.3h0M189.3 551.7h0M194.6 546.9h0M185.2 553.9h0M147.6 562.5h0M139.4 530.2h0M189.7 508.4h0" stroke="#c898c0" stroke-width="0.70" stroke-linecap="round" fill="none"/>
<path d="M158.5 516.2h0M137.8 531.2h0M153.4 562.0h0M138.0 499.5h0M165.3 499.4h0M132.4 499.4h0M124.1 549.4h0M125.3 515.4h0M192.2 532.0h0M145.2 537.1h0M133.2 516.0h0M177.2 538.4h0M157.0 518.5h0M125.1 547.0h0M151.7 560.2h0M171.1 507.9h0M136.1 540.2h0M191.0 542.0h0M176.9 521.9h0M157.8 551.9h0M149.6 562.3h0M174.0 508.7h0M123.9 562.3h0M205.4 499.3h0M156.7 514.5h0M182.6 525.0h0M159.9 531.7h0M204.9 498.9h0M171.6 521.6h0M136.7 551.6h0M152.4 507.2h0M122.9 526.8h0M154.6 554.3h0M182.9 545.5h0M130.7 516.5h0M160.8 513.7h0M190.7 499.8h0M161.2 529.6h0M128.1 549.3h0M175.5 522.5h0M125.8 503.5h0M186.9 533.0h0M171.7 556.2h0M172.7 508.3h0M141.9 562.8h0M187.8 517.4h0M206.3 530.8h0M136.7 539.0h0M187.1 553.4h0M156.1 525.0h0M123.0 550.2h0M129.1 521.7h0M190.4 548.2h0M150.8 552.3h0M201.2 519.6h0M157.2 515.7h0M150.0 512.8h0M128.6 519.2h0M152.2 545.2h0M154.6 501.5h0M179.0 509.9h0M146.3 515.3h0M190.7 529.7h0M159.8 513.1h0M143.1 505.7h0M156.1 513.3h0M175.1 504.1h0M175.6 558.2h0M149.9 505.4h0M201.2 511.5h0M158.5 560.8h0M194.5 555.8h0M133.3 517.4h0M122.7 526.2h0M147.9 556.4h0M181.4 532.5h0M188.7 538.2h0M141.1 544.5h0M193.0 548.1h0M166.1 562.0h0M195.9 551.2h0M161.1 540.8h0M171.0 549.3h0M170.8 509.6h0M152.7 504.3h0M190.3 528.6h0M196.7 543.8h0M122.6 516.1h0M202.9 504.7h0M133.6 527.0h0M137.5 539.2h0M208.0 512.6h0M179.1 515.0h0M130.7 539.3h0M181.9 522.9h0" stroke="#c898c0" stroke-width="1.30" stroke-linecap="round" fill="none"/>
<path d="M147.4 518.9h0M140.2 540.0h0M202.4 543.3h0M135.5 499.0h0M123.8 537.8h0M192.6 532.1h0M199.0 498.5h0M139.2 538.2h0M194.5 499.1h0M130.9 551.5h0M192.1 553.3h0M175.9 547.0h0M149.8 498.4h0M163.3 561.2h0M169.5 543.3h0M165.2 501.9h0M176.5 561.2h0M122.4 560.4h0M130.4 530.9h0M141.9 515.5h0M179.2 537.9h0M166.7 530.9h0M143.1 555.1h0M188.3 552.8h0M145.6 522.1h0M163.8 549.2h0M199.0 521.7h0M202.3 530.6h0M145.6 506.4h0M184.5 519.5h0M150.0 517.4h0M175.6 519.7h0M200.3 509.4h0M185.4 548.5h0M193.3 550.3h0M169.6 544.4h0M126.2 517.0h0M158.9 514.1h0M122.7 557.2h0M177.9 546.6h0M175.3 498.7h0M181.7 530.5h0M192.2 561.7h0M135.5 544.2h0M168.2 525.2h0M153.9 553.6h0M199.5 537.8h0M154.8 510.2h0M184.5 505.1h0M170.9 537.2h0M201.1 519.2h0M155.9 527.5h0M188.6 556.4h0M193.6 516.7h0M180.7 502.9h0M175.4 535.8h0M128.2 560.9h0M195.7 536.2h0M154.5 536.8h0M173.1 508.6h0M126.6 555.4h0M142.5 502.6h0M169.6 522.4h0M207.7 519.3h0M199.3 540.8h0M126.8 547.5h0M145.0 532.3h0M127.8 549.6h0M179.5 551.4h0M206.8 525.8h0M175.9 514.6h0M204.2 530.1h0M169.2 559.6h0M122.3 554.6h0M135.9 530.4h0M168.1 532.3h0M206.2 529.0h0M183.0 523.8h0M180.8 559.5h0M161.4 547.1h0M166.2 508.5h0M124.8 532.5h0M162.3 553.8h0M202.8 517.8h0M197.5 508.7h0M187.3 544.1h0M142.8 513.5h0M128.4 508.2h0M185.3 508.8h0M181.1 560.3h0M131.4 559.5h0M197.6 562.5h0M141.5 517.9h0M163.4 498.8h0M143.1 520.7h0M150.0 553.5h0M184.3 532.2h0M170.2 523.8h0" stroke="#b898cc" stroke-width="1.00" stroke-linecap="round" fill="none"/>
<path d="M133.8 504.3h0M173.5 558.5h0M192.1 552.4h0M187.7 503.4h0M194.1 512.8h0M129.6 509.7h0M130.2 531.4h0M155.8 504.4h0M204.0 511.5h0M181.1 519.6h0M174.6 518.0h0M152.0 548.8h0M132.4 543.0h0M182.0 546.9h0M189.9 529.5h0M126.1 560.6h0M198.0 502.4h0M177.5 499.6h0M161.8 547.4h0M143.9 508.6h0M186.5 517.9h0M207.6 545.7h0M131.3 516.6h0M151.3 538.3h0M154.8 505.0h0M184.4 522.4h0M152.6 514.4h0M153.2 540.4h0M196.3 516.1h0M162.5 534.8h0M129.1 512.5h0M142.9 557.9h0M166.1 527.7h0M124.8 509.8h0M168.2 522.5h0M154.3 533.5h0M179.7 519.5h0M196.3 523.3h0M187.7 512.1h0M164.2 559.4h0M200.4 521.2h0M122.3 527.8h0M177.9 541.1h0M176.2 554.7h0M129.0 519.3h0M147.1 538.6h0M180.2 520.3h0M185.0 551.0h0M128.1 528.4h0M174.5 549.9h0M180.9 554.1h0M174.7 547.4h0M205.8 525.3h0M151.7 548.4h0M183.4 536.8h0M204.7 517.8h0M193.8 534.6h0M122.2 536.5h0M156.9 508.8h0M133.5 513.3h0M178.6 551.6h0M141.5 518.2h0M152.6 550.7h0M126.8 539.2h0M143.3 555.6h0M171.0 529.2h0M185.1 561.1h0M176.4 502.9h0M152.7 550.9h0M201.5 552.8h0M170.5 521.9h0M128.4 538.8h0M122.3 546.8h0M166.0 534.9h0M188.9 562.0h0M159.5 509.6h0M161.7 539.7h0M158.9 509.9h0M157.7 521.9h0M163.8 506.7h0M160.0 502.0h0M191.9 548.8h0M159.4 556.7h0M175.4 501.6h0M144.3 529.3h0M172.8 515.0h0M196.8 534.0h0M139.3 536.6h0M130.6 553.1h0M170.6 541.1h0M157.3 499.2h0M123.2 532.0h0M152.9 516.6h0M159.3 555.6h0M178.5 548.8h0M182.7 512.9h0" stroke="#9070b0" stroke-width="0.70" stroke-linecap="round" fill="none"/>
<path d="M136.5 529.7h0M162.1 517.1h0M122.5 557.4h0M190.5 560.9h0M148.9 509.8h0M162.6 532.3h0M203.3 498.8h0M161.7 514.2h0M134.0 501.0h0M146.4 529.6h0M146.8 498.9h0M148.1 557.4h0M197.7 533.8h0M135.8 561.7h0M155.1 555.2h0M168.9 536.1h0M175.5 532.9h0M180.7 517.4h0M185.4 525.2h0M132.4 555.4h0M207.7 548.1h0M182.1 532.7h0M171.7 544.4h0M183.6 556.3h0M173.6 537.8h0M149.1 503.2h0M144.9 542.3h0M128.0 532.4h0M177.6 526.7h0M164.8 542.4h0M179.4 519.7h0M143.4 542.5h0M142.9 529.8h0M160.1 526.1h0M160.7 536.0h0M128.1 533.2h0M131.8 562.1h0M143.7 514.2h0M181.2 543.7h0M128.8 527.9h0M199.9 516.2h0M190.2 562.7h0M160.1 544.5h0M154.1 536.2h0M151.0 543.3h0M142.2 538.1h0M199.6 511.6h0M195.0 515.9h0M200.0 511.6h0M131.7 531.3h0M189.5 511.5h0M197.0 500.2h0M207.2 551.7h0M138.8 512.0h0M199.2 545.5h0M131.4 526.1h0M171.1 531.3h0M123.8 559.0h0M186.3 539.9h0M130.1 527.0h0M157.5 541.0h0M129.0 557.9h0M165.8 553.5h0M152.3 505.9h0M199.0 537.0h0M165.1 516.7h0M190.4 557.0h0M139.0 513.9h0M146.6 558.3h0M152.5 548.4h0M185.9 557.6h0M171.3 512.5h0M156.9 533.6h0M193.0 533.6h0M169.7 549.1h0M154.8 555.9h0M208.5 518.8h0M173.2 543.3h0M165.5 503.8h0M170.3 531.3h0M133.8 539.2h0M181.6 499.5h0" stroke="#ffffff" stroke-width="2.20" stroke-linecap="round" fill="none"/>
<path d="M190.9 549.7h0M146.8 499.6h0M154.4 506.8h0M149.1 537.6h0M206.0 528.9h0M203.3 545.9h0M207.3 538.7h0M191.0 527.8h0M168.4 522.8h0M175.2 510.0h0M162.9 533.1h0M196.0 544.1h0M156.6 500.2h0M205.6 500.7h0M205.8 552.9h0M200.7 507.1h0M200.4 515.3h0M157.8 498.8h0M123.9 531.2h0M208.5 549.5h0M152.3 503.1h0M203.7 517.2h0M167.5 524.2h0M141.4 515.0h0M128.9 539.4h0M206.8 538.2h0M137.8 513.6h0M194.9 553.4h0M162.0 549.7h0M134.7 540.2h0M130.4 547.2h0M189.2 537.7h0M206.4 548.6h0M136.6 550.0h0M142.2 536.3h0M155.4 505.7h0M183.4 515.5h0M161.7 509.6h0M183.0 507.8h0M140.1 533.5h0M198.7 557.5h0M149.0 507.4h0M194.0 539.6h0M201.3 513.2h0M158.2 510.0h0M173.0 555.5h0M154.7 547.8h0M187.9 554.1h0M165.5 551.2h0M152.2 542.8h0M127.2 504.7h0M137.5 525.6h0M164.0 519.2h0M177.5 553.2h0M153.5 539.1h0M143.8 540.2h0M126.6 539.4h0M190.6 552.8h0M153.2 540.5h0M137.4 528.6h0M195.3 514.8h0M201.0 540.9h0M152.4 548.6h0M135.8 531.2h0M127.2 542.0h0M181.0 502.1h0M197.0 504.5h0M142.8 544.6h0M199.7 550.1h0" stroke="#ffffff" stroke-width="1.60" stroke-linecap="round" fill="none"/>
<path d="M152.8 528.9h0M160.2 562.3h0M160.2 517.0h0M128.7 544.1h0M179.2 536.1h0M168.6 561.5h0M156.5 524.3h0M134.6 524.0h0M189.6 556.0h0M194.9 545.5h0M148.6 513.6h0M162.8 498.4h0M203.9 539.7h0M148.4 520.6h0M161.9 508.5h0M185.2 551.0h0M207.7 509.9h0M137.3 511.8h0M144.8 507.7h0M182.7 549.1h0M174.2 540.9h0M168.7 544.1h0M169.3 501.2h0M194.4 553.7h0M155.4 516.9h0M180.6 543.8h0M148.2 499.4h0M132.3 534.9h0M193.0 561.6h0M185.8 498.9h0M160.1 500.6h0M158.5 558.5h0M177.6 541.2h0M134.3 540.3h0M200.4 524.1h0M161.1 538.0h0M166.0 542.4h0M186.1 533.3h0M161.8 509.8h0M139.9 525.2h0M168.7 537.6h0M170.7 521.0h0M164.7 532.7h0M170.3 499.5h0M155.6 509.9h0M161.7 551.5h0M149.8 520.8h0M203.3 520.0h0M191.0 544.9h0M156.7 557.0h0M165.4 521.3h0M158.5 556.6h0M198.4 523.4h0M151.5 543.3h0M190.2 556.5h0M184.8 542.7h0M169.4 554.3h0M193.9 553.0h0M151.7 514.3h0M128.3 557.4h0M164.5 561.0h0M163.7 537.6h0M183.8 532.8h0M128.6 499.2h0M194.4 537.4h0M152.8 514.0h0M129.1 553.1h0M136.4 504.4h0M129.4 502.9h0M207.6 523.5h0M167.0 552.8h0M167.6 518.2h0M123.8 540.2h0M138.9 538.6h0M166.1 516.5h0M136.2 556.4h0M187.3 531.6h0M125.5 561.4h0M153.4 510.5h0M175.0 512.1h0M202.1 528.3h0M193.9 554.8h0M195.2 542.0h0M139.4 516.0h0M155.5 538.8h0M126.4 513.1h0M161.1 518.1h0M134.6 562.5h0M195.6 499.3h0M174.4 524.3h0M155.7 541.2h0M124.5 506.4h0M191.1 546.9h0M149.4 519.9h0M167.0 502.2h0M139.8 538.3h0M171.6 558.2h0M171.8 562.0h0M144.6 533.9h0M147.7 505.9h0M135.6 501.9h0M189.1 541.7h0M170.6 550.7h0M204.1 552.8h0M192.7 554.0h0M147.7 551.8h0M198.2 562.6h0M176.5 557.0h0M175.1 534.7h0" stroke="#ffffff" stroke-width="3.00" stroke-linecap="round" fill="none"/>
<path d="M129.5 531.8h0M203.9 532.0h0M185.7 502.7h0M170.5 529.3h0M125.5 544.7h0M136.3 532.4h0M143.5 558.3h0M145.6 501.4h0M152.0 526.9h0M132.3 536.3h0M190.8 515.5h0M207.3 512.5h0M123.9 519.2h0M162.9 515.2h0M194.6 548.8h0M129.1 534.7h0M124.2 524.1h0M132.4 532.5h0M205.7 509.0h0M191.1 557.6h0M159.2 523.5h0M163.4 546.2h0M127.3 518.5h0M156.9 537.7h0M202.6 555.3h0M149.4 522.1h0M148.9 498.6h0M186.8 500.1h0M147.4 533.4h0M127.0 556.5h0M149.4 506.7h0M122.2 510.4h0M144.4 549.1h0M191.8 525.0h0M194.8 553.4h0M146.5 532.8h0M156.2 516.8h0M136.8 533.1h0M133.9 536.7h0M174.1 499.2h0M179.5 538.6h0M146.3 513.5h0M125.3 523.2h0M156.2 516.6h0M194.1 534.6h0M143.9 522.8h0M154.3 526.4h0M205.0 560.2h0M164.7 537.1h0M198.6 515.8h0M171.8 513.1h0M149.7 499.6h0M142.2 507.3h0M202.7 508.5h0M128.1 550.7h0M154.4 530.3h0M207.9 522.0h0M134.4 532.2h0M171.1 529.2h0M144.8 549.8h0M125.2 532.8h0M191.4 540.8h0M186.4 502.0h0M127.7 538.0h0M143.5 512.2h0M188.2 534.9h0M193.2 556.7h0M205.2 561.5h0M142.2 523.7h0M133.3 554.8h0M136.2 510.3h0M177.5 542.4h0M123.5 515.4h0M172.2 544.1h0M137.4 525.1h0M158.7 559.4h0M205.6 508.7h0M163.9 528.9h0M194.6 533.7h0M130.1 554.3h0M164.1 533.0h0M194.8 521.5h0M196.7 514.5h0M179.4 499.5h0M122.3 512.2h0M197.3 554.2h0M182.3 544.4h0M145.9 538.9h0M134.3 543.7h0M124.7 542.8h0M178.9 548.6h0M164.9 516.8h0M149.0 528.4h0M180.0 520.2h0M179.3 511.0h0M187.5 543.8h0M172.4 513.4h0M148.6 518.1h0M168.8 502.6h0M130.7 517.9h0M145.9 516.8h0M168.8 537.6h0M159.4 531.2h0M156.8 558.8h0M135.8 517.8h0M152.4 509.1h0M185.3 525.0h0M135.5 506.5h0M203.6 537.2h0M128.4 525.7h0M141.5 531.0h0M171.0 544.3h0M163.9 529.8h0M141.4 554.9h0M134.1 561.5h0M200.6 548.8h0M124.1 542.1h0M157.2 540.3h0M193.3 522.9h0M164.6 523.3h0M163.2 501.1h0M177.9 518.7h0M128.3 536.2h0M140.7 508.6h0M184.3 536.5h0M190.8 502.2h0M179.4 505.4h0M198.4 557.4h0M171.3 512.9h0M165.6 546.7h0M206.4 538.9h0M197.4 521.4h0M203.3 513.4h0M135.3 515.7h0M122.4 513.2h0M158.8 555.0h0M143.7 544.4h0M153.0 524.7h0M138.6 558.3h0M178.9 554.6h0M182.6 538.1h0M144.5 523.6h0M184.8 524.6h0M162.9 561.7h0" stroke="#eea0b4" stroke-width="1.20" stroke-linecap="round" fill="none" stroke-opacity="0.8"/>
<path d="M176.7 554.0h0M123.2 551.4h0M208.7 506.0h0M206.5 552.9h0M122.7 537.4h0M144.2 554.5h0M151.4 561.3h0M164.0 525.4h0M139.1 521.7h0M179.6 530.2h0M176.3 506.0h0M179.5 537.6h0M155.0 500.4h0M128.1 532.6h0M124.0 522.6h0M182.4 528.4h0M162.7 541.2h0M156.6 505.6h0M179.3 559.8h0M133.1 533.3h0M149.1 522.3h0M148.2 511.0h0M140.8 560.1h0M155.8 538.5h0M170.4 515.9h0M142.4 543.2h0M169.3 533.3h0M189.2 544.4h0M142.1 554.3h0M132.5 539.9h0M204.2 511.1h0M164.9 504.1h0M168.1 505.2h0M130.9 534.6h0M146.5 556.7h0M127.4 562.3h0M124.2 504.5h0M189.2 524.0h0M202.8 499.4h0M188.8 553.7h0M190.7 504.8h0M165.1 506.4h0M166.5 510.2h0M124.8 517.6h0M201.5 541.6h0M194.6 533.9h0M163.3 543.2h0M138.4 499.0h0M206.7 526.8h0M165.6 547.8h0M139.5 499.2h0M208.2 500.2h0M195.2 499.5h0M198.4 510.5h0M151.6 527.9h0M132.5 516.0h0M151.5 514.9h0M182.5 562.3h0M132.3 550.8h0M145.8 526.2h0M124.8 512.2h0M201.0 554.9h0M203.3 545.2h0M179.2 518.0h0M185.8 523.3h0M168.7 544.4h0M156.1 537.3h0M145.5 532.1h0M172.4 507.6h0M179.5 529.9h0M161.4 522.0h0M135.0 537.1h0M152.9 537.9h0M159.2 542.5h0M207.4 513.0h0M174.6 544.6h0M156.5 523.7h0M186.8 520.3h0M156.2 557.3h0M134.4 530.1h0M176.4 515.1h0M205.1 525.5h0M173.6 499.1h0M163.8 508.1h0M203.4 546.7h0M195.4 535.5h0M124.2 546.3h0M156.6 518.2h0M163.7 517.1h0M136.1 507.1h0M126.1 544.8h0M184.0 536.3h0M175.5 559.7h0M194.2 513.9h0M182.4 515.1h0M139.0 525.0h0M138.6 498.5h0M167.6 511.8h0M168.3 498.9h0M206.8 546.0h0M126.2 555.4h0M159.1 514.4h0M199.3 527.0h0M124.5 547.8h0M145.4 509.0h0M127.0 522.4h0M204.8 525.5h0M202.3 548.9h0M195.6 508.9h0M203.7 537.3h0M140.2 498.8h0M186.1 526.5h0M194.5 527.0h0M194.8 502.4h0M146.9 559.9h0M179.7 509.9h0M159.3 531.6h0M142.9 529.4h0M164.1 506.2h0M189.6 505.4h0M132.1 520.4h0M130.4 528.2h0M182.5 521.9h0M143.3 514.2h0M136.4 504.2h0M127.0 528.9h0M142.5 530.9h0M201.0 533.6h0M141.4 529.1h0M150.7 523.4h0M176.2 506.3h0M174.1 528.0h0M124.3 549.9h0M182.1 537.9h0M195.5 538.7h0M208.7 540.1h0M181.5 559.6h0M130.1 556.4h0M141.9 535.0h0M187.1 511.6h0M133.2 526.8h0M164.2 512.6h0M137.3 540.7h0M143.2 506.5h0M199.3 523.9h0M184.5 555.2h0M189.5 538.6h0M185.5 553.5h0" stroke="#eea0b4" stroke-width="2.40" stroke-linecap="round" fill="none" stroke-opacity="0.8"/>
<path d="M148.0 534.7h0M149.3 504.7h0M192.4 514.3h0M167.7 558.3h0M138.5 540.8h0M131.5 551.5h0M200.4 546.6h0M150.8 529.7h0M136.1 522.4h0M162.6 561.5h0M195.7 523.9h0M193.4 552.4h0M161.1 506.2h0M132.8 511.0h0M205.6 517.5h0M174.8 520.1h0M123.9 535.5h0M181.3 541.4h0M131.8 559.9h0M139.5 514.3h0M142.8 562.7h0M131.4 517.8h0M156.8 551.8h0M125.5 514.0h0M179.4 558.9h0M192.6 507.2h0M142.4 559.0h0M195.8 528.3h0M183.5 560.1h0M145.6 519.1h0M172.3 516.9h0M125.1 552.3h0M190.9 535.2h0M130.6 536.9h0M208.0 542.2h0M189.5 560.1h0M183.5 504.3h0M206.9 557.2h0M123.5 510.3h0M147.1 557.6h0M208.2 510.5h0M132.5 507.4h0M124.9 550.4h0M152.9 535.2h0M193.9 536.0h0M205.8 551.6h0M130.1 513.8h0M130.0 561.9h0M139.6 498.8h0M158.0 539.0h0M169.4 514.6h0M154.7 535.8h0M150.8 562.0h0M144.0 531.5h0M187.7 552.8h0M198.5 520.7h0M167.4 547.0h0M175.6 549.2h0M201.2 560.5h0M128.0 553.1h0M174.1 500.8h0M173.5 546.6h0M144.3 511.0h0M159.9 530.1h0M153.7 503.3h0M161.6 520.7h0M175.8 523.4h0M134.7 518.2h0M145.4 530.9h0M197.0 524.2h0M175.7 516.4h0M195.6 513.2h0M204.3 518.5h0M157.9 539.0h0M179.8 548.3h0M207.0 509.1h0M150.6 513.7h0M125.6 498.8h0M191.8 505.1h0M133.6 501.4h0M203.6 502.8h0M169.2 561.0h0M208.0 513.3h0M156.6 522.5h0M126.2 500.9h0M126.9 546.2h0M156.0 537.7h0M123.4 516.3h0M176.9 547.7h0M199.4 524.6h0M135.6 499.7h0M192.3 512.9h0M208.0 525.0h0M163.0 555.3h0M135.7 548.3h0M159.6 527.1h0M164.0 562.1h0M130.3 498.5h0M160.0 533.7h0M161.3 560.3h0M206.8 522.6h0M177.5 554.7h0M176.4 560.0h0M200.5 505.8h0M135.5 548.9h0M127.3 541.1h0M194.2 512.5h0M164.6 505.2h0M202.3 516.3h0M144.1 503.8h0M152.3 528.3h0M199.4 531.2h0M157.3 528.3h0M133.7 529.4h0M203.2 514.9h0M170.7 527.1h0M200.9 525.0h0M135.4 520.1h0M196.0 514.5h0M197.5 521.6h0M160.4 553.8h0M162.3 519.0h0M207.5 556.0h0M176.4 516.3h0M143.5 545.0h0M199.0 522.4h0M152.8 541.8h0M156.1 551.0h0M148.0 553.4h0M198.6 542.1h0M134.6 560.2h0M126.8 524.5h0M128.4 510.9h0M124.7 543.4h0M207.9 559.7h0M123.6 555.6h0M142.1 522.8h0M129.3 509.7h0M195.3 543.0h0M181.8 505.0h0M141.2 546.0h0M137.0 498.7h0M126.2 498.6h0M141.4 540.3h0M201.3 522.2h0M132.9 522.0h0M197.4 502.0h0M137.3 561.5h0M137.9 559.9h0M134.9 502.6h0M181.9 508.2h0M134.2 533.1h0M136.3 532.6h0M142.6 518.3h0M173.3 549.3h0M163.0 542.2h0M137.2 554.1h0M177.4 504.6h0" stroke="#eea0b4" stroke-width="1.80" stroke-linecap="round" fill="none" stroke-opacity="0.8"/>
<path d="M143.7 511.5h0M205.9 521.9h0M156.7 528.1h0M196.6 543.1h0M135.3 558.2h0M182.1 527.1h0M204.2 558.9h0M192.9 556.2h0M179.6 536.5h0M142.0 531.6h0M186.8 530.8h0M143.0 535.5h0M180.1 543.2h0M160.1 503.1h0M126.2 502.3h0M131.1 506.3h0M205.9 551.3h0M205.6 547.3h0M161.3 519.3h0M155.5 538.0h0M176.8 529.8h0M195.7 504.1h0" stroke="#ee1c24" stroke-width="2.10" stroke-linecap="round" fill="none"/>
<path d="M183.5 510.7h0M167.7 543.8h0M203.9 530.6h0M128.5 544.7h0M179.7 532.4h0M190.2 553.0h0M176.5 521.0h0M171.9 534.4h0M192.0 513.8h0M130.1 535.7h0M176.2 509.5h0M160.2 549.7h0M194.4 512.6h0" stroke="#e83040" stroke-width="1.10" stroke-linecap="round" fill="none"/>
<path d="M167.5 529.0h0M142.8 533.9h0M180.2 545.0h0M178.8 547.7h0M152.0 508.2h0M196.1 528.3h0M149.4 512.8h0M176.9 541.7h0M149.6 513.7h0M176.3 527.2h0M133.8 515.7h0M163.4 560.7h0M145.8 552.3h0M191.0 518.2h0M199.5 515.1h0M208.2 535.4h0M192.5 543.6h0M193.9 537.2h0M176.3 541.4h0M167.0 513.0h0M179.5 551.9h0M164.4 501.8h0M176.4 540.7h0M145.0 543.1h0M153.2 529.0h0M154.5 541.9h0M150.7 519.5h0M198.2 559.1h0" stroke="#e83040" stroke-width="1.80" stroke-linecap="round" fill="none"/>
<path d="M175.1 547.0h0M195.1 518.4h0M205.2 537.1h0M158.6 526.0h0M130.6 536.0h0M184.2 502.1h0M149.0 527.7h0M133.0 545.3h0M185.9 533.6h0M166.9 548.8h0" stroke="#e8121c" stroke-width="1.50" stroke-linecap="round" fill="none"/>
<path d="M164.5 520.4h0M196.2 521.5h0M170.6 513.9h0M184.6 499.8h0M139.1 547.7h0M172.9 532.9h0M124.7 508.6h0M158.2 508.6h0M195.5 555.8h0M126.1 537.0h0M204.6 513.6h0M125.9 501.0h0M162.5 523.2h0M146.7 552.3h0M133.1 500.7h0M168.7 542.3h0M171.2 511.5h0M145.7 524.7h0M202.0 556.9h0M164.5 528.0h0M166.6 543.2h0M195.8 532.2h0" stroke="#f0282c" stroke-width="1.50" stroke-linecap="round" fill="none"/>
<path d="M129.2 538.0h0M165.5 531.3h0M128.6 520.8h0M124.6 562.5h0M166.2 508.1h0M146.8 518.3h0M172.4 539.9h0M167.9 553.8h0M176.2 502.6h0M172.4 517.3h0M152.9 539.5h0M127.8 537.3h0M208.2 522.0h0M170.6 533.1h0M142.1 547.6h0M190.5 514.0h0M166.4 540.1h0M140.7 543.1h0M184.4 510.3h0M124.3 507.6h0" stroke="#f0282c" stroke-width="2.10" stroke-linecap="round" fill="none"/>
<path d="M149.3 546.8h0M190.5 506.3h0M181.4 519.4h0M139.4 505.9h0M135.7 514.5h0M189.1 544.0h0M126.9 544.7h0M136.2 534.5h0M134.5 502.7h0M125.3 509.4h0M143.4 518.0h0M141.2 526.2h0M183.0 517.5h0M131.5 526.3h0M187.6 518.0h0M146.6 499.4h0M141.9 553.2h0M149.3 534.5h0M172.0 504.7h0M129.2 553.3h0M198.4 553.2h0M170.8 525.3h0M147.4 528.4h0M194.2 561.7h0M130.2 509.7h0M170.8 518.3h0M185.4 503.4h0M156.0 548.0h0M166.9 527.7h0M147.3 501.0h0M129.5 503.2h0" stroke="#ee1c24" stroke-width="1.80" stroke-linecap="round" fill="none"/>
<path d="M161.5 533.2h0M194.3 509.1h0M175.6 520.1h0M167.5 500.2h0M122.4 562.5h0M154.8 516.0h0M169.5 540.6h0M158.2 556.0h0M188.7 529.0h0M150.0 498.5h0M181.6 539.0h0M140.2 551.6h0M139.3 529.3h0M187.3 502.2h0M145.7 557.4h0M185.3 549.8h0M171.7 510.9h0M181.1 529.8h0M194.9 516.4h0M148.3 518.1h0M143.4 504.2h0M128.8 545.5h0M184.7 502.4h0M158.1 503.3h0M128.6 517.1h0M128.9 545.0h0M151.4 551.3h0M162.6 540.1h0M185.8 511.5h0M203.0 540.1h0" stroke="#ee1c24" stroke-width="1.30" stroke-linecap="round" fill="none"/>
<path d="M197.9 507.3h0M195.9 500.3h0M151.2 498.4h0M176.0 534.0h0M134.1 530.0h0M178.3 519.2h0M190.9 504.4h0M140.8 517.1h0M140.9 539.4h0M168.8 501.3h0M124.5 556.4h0M184.2 529.3h0M128.6 503.7h0M144.8 520.4h0M126.2 532.6h0M206.4 539.8h0M134.5 557.8h0M177.5 503.7h0M176.8 530.7h0M134.7 547.7h0M204.6 551.0h0M176.6 552.7h0M192.8 556.4h0M200.9 522.0h0M177.9 510.9h0M206.6 513.6h0M180.6 508.2h0M199.7 560.6h0M147.6 506.6h0M130.1 542.8h0M197.3 502.4h0" stroke="#f0282c" stroke-width="0.90" stroke-linecap="round" fill="none"/>
<path d="M140.6 513.5h0M154.7 504.0h0M201.7 513.7h0M188.8 540.8h0M151.8 562.1h0M133.5 516.9h0M164.7 505.3h0M189.2 539.3h0M190.6 561.6h0M148.3 506.9h0M198.2 541.5h0M168.5 519.6h0M147.6 556.0h0M148.6 518.3h0M180.3 556.9h0M145.5 552.8h0M171.9 508.8h0M152.8 529.4h0M163.9 546.5h0M136.3 510.6h0M152.5 509.4h0M193.7 519.8h0M146.6 501.3h0M195.8 501.2h0M185.4 561.7h0M180.6 519.8h0M179.3 499.3h0M133.8 525.5h0M170.4 527.7h0M203.8 551.1h0M202.4 545.6h0M154.5 499.2h0M179.9 512.8h0M132.8 506.0h0" stroke="#e83040" stroke-width="0.90" stroke-linecap="round" fill="none"/>
<path d="M137.0 554.6h0M169.7 531.8h0M191.8 503.5h0M184.6 557.5h0M141.4 530.5h0M164.4 540.4h0M160.7 548.3h0M166.1 535.8h0M180.6 527.7h0M165.2 553.1h0M170.4 518.1h0M180.4 557.0h0M149.7 539.6h0M124.8 557.6h0M175.1 540.0h0M173.7 508.6h0" stroke="#e8121c" stroke-width="2.10" stroke-linecap="round" fill="none"/>
<path d="M202.3 504.2h0M208.2 522.7h0M149.7 498.9h0M150.6 526.8h0M182.5 551.6h0M186.9 530.9h0M198.9 539.1h0M141.1 501.9h0M172.0 546.1h0M166.0 558.6h0M153.2 551.9h0M143.5 527.2h0M191.1 522.0h0M200.6 560.2h0M159.7 558.6h0M124.7 541.6h0M193.5 542.7h0M195.9 560.3h0M182.7 524.9h0M166.3 498.4h0M133.9 538.9h0M123.6 505.1h0M173.1 551.0h0M126.1 559.1h0M155.7 512.4h0M193.4 553.4h0M196.3 504.3h0M178.2 557.8h0" stroke="#e8121c" stroke-width="1.80" stroke-linecap="round" fill="none"/>
<path d="M151.6 536.1h0M152.8 509.4h0M148.6 543.1h0M147.5 501.8h0M173.0 538.5h0M141.3 547.5h0M208.2 550.8h0M148.9 502.3h0M146.3 530.7h0M182.6 549.6h0M136.8 529.2h0M150.7 500.1h0M171.0 504.2h0M139.8 554.9h0M195.4 538.2h0M168.4 533.5h0M204.2 536.0h0M169.8 524.8h0M204.1 521.3h0M147.7 510.9h0M177.9 536.5h0M197.7 507.7h0M165.0 529.7h0M206.9 516.3h0M128.3 531.2h0M206.5 508.9h0" stroke="#e83040" stroke-width="2.10" stroke-linecap="round" fill="none"/>
<path d="M191.0 538.4h0M135.1 516.5h0M154.6 560.9h0M195.4 536.1h0M123.1 526.5h0M128.2 541.1h0M132.7 560.2h0M165.9 547.5h0M135.9 518.2h0M175.0 562.1h0M170.6 557.8h0M127.0 521.6h0M152.4 529.5h0M135.9 543.7h0M198.9 527.4h0M152.5 533.7h0M148.1 517.2h0M139.2 503.5h0M206.1 545.7h0M143.8 552.2h0M167.0 507.1h0M187.3 558.6h0M143.2 506.1h0M162.6 558.3h0M125.3 534.5h0M126.8 500.8h0M164.0 514.3h0M174.0 540.4h0M182.8 536.3h0" stroke="#ee1c24" stroke-width="0.90" stroke-linecap="round" fill="none"/>
<path d="M208.6 508.3h0M140.8 545.1h0M199.3 532.2h0M197.8 534.7h0M132.1 528.1h0M158.8 529.2h0M200.2 542.1h0M188.8 499.2h0M174.1 550.8h0M132.1 548.0h0M172.9 521.4h0M187.1 553.3h0M183.8 510.6h0M153.7 523.6h0M132.0 560.2h0M132.6 543.8h0M136.8 524.3h0M201.9 538.7h0" stroke="#c81020" stroke-width="1.30" stroke-linecap="round" fill="none"/>
<path d="M166.0 509.0h0M127.0 526.3h0M198.7 512.4h0M184.6 507.9h0M179.4 503.1h0M201.0 545.5h0M202.7 547.6h0M157.2 520.2h0M187.6 516.0h0M140.0 519.0h0M146.2 515.1h0M192.3 543.7h0M206.3 498.6h0M138.2 529.9h0M122.4 534.5h0M141.1 557.5h0M185.6 559.8h0M158.8 520.2h0M132.0 538.1h0M176.7 557.8h0M152.3 552.7h0M207.9 525.5h0M177.6 524.5h0M165.2 520.5h0M190.6 508.7h0M199.4 533.5h0M142.9 543.8h0" stroke="#e8121c" stroke-width="1.30" stroke-linecap="round" fill="none"/>
<path d="M184.4 531.6h0M191.9 542.4h0M152.3 542.4h0M206.5 499.4h0M162.6 516.4h0M186.2 545.2h0M143.9 530.6h0M164.5 560.2h0M139.1 556.6h0M160.5 561.1h0M200.1 520.4h0M149.2 558.6h0M193.4 531.4h0M185.8 508.7h0M154.1 558.2h0M123.2 542.2h0M195.6 521.9h0M158.8 502.6h0M131.4 502.9h0M177.1 549.4h0M128.8 531.3h0M136.3 499.7h0M130.3 499.4h0M167.0 507.3h0M194.8 556.2h0M205.9 522.4h0" stroke="#d80c18" stroke-width="1.10" stroke-linecap="round" fill="none"/>
<path d="M136.8 512.8h0M203.4 538.4h0M173.5 508.2h0M144.1 535.7h0M145.3 553.6h0M147.5 500.9h0M195.1 543.8h0M194.5 552.2h0M167.4 505.6h0M174.4 561.1h0M179.4 561.6h0M135.0 551.1h0M188.5 502.9h0M195.3 546.4h0M199.0 558.1h0M154.4 550.7h0" stroke="#d80c18" stroke-width="0.90" stroke-linecap="round" fill="none"/>
<path d="M124.2 523.8h0M149.0 529.7h0M181.9 546.7h0M141.1 536.1h0M204.5 530.3h0M127.3 535.3h0M194.7 533.0h0M126.9 524.6h0M179.0 512.1h0M188.8 551.7h0M142.5 556.1h0M197.8 553.1h0M189.6 542.9h0M199.3 535.9h0M131.6 546.6h0M193.3 551.4h0M186.7 523.6h0M181.5 501.3h0M190.7 538.0h0M190.1 550.3h0M178.6 513.2h0M125.4 553.9h0M199.3 551.2h0M146.2 544.2h0M143.9 546.6h0M143.5 541.6h0M154.3 544.2h0M161.9 525.1h0M197.2 499.3h0M136.0 517.1h0M142.3 534.8h0M196.7 531.6h0" stroke="#e83040" stroke-width="1.30" stroke-linecap="round" fill="none"/>
<path d="M144.4 517.6h0M205.6 536.0h0M189.3 515.2h0M208.0 520.3h0M204.7 532.1h0M200.7 512.3h0M144.3 513.9h0M168.2 511.0h0M131.8 552.4h0M169.3 546.0h0M122.2 529.2h0M158.9 517.8h0M160.3 558.7h0M158.5 519.2h0M176.0 535.5h0M188.4 545.5h0M185.2 512.6h0" stroke="#d80c18" stroke-width="1.30" stroke-linecap="round" fill="none"/>
<path d="M195.9 561.1h0M156.1 509.6h0M198.3 548.0h0M163.9 523.0h0M133.0 499.7h0M176.3 519.1h0M151.5 502.1h0M140.5 528.9h0M169.3 515.2h0M155.3 520.4h0M146.9 504.9h0M159.5 527.1h0M202.8 504.8h0M204.0 558.7h0M184.9 526.7h0M177.5 537.6h0M200.9 500.1h0M152.3 552.7h0M168.0 549.0h0M189.1 512.1h0M126.6 545.5h0M132.8 553.5h0" stroke="#ee1c24" stroke-width="1.10" stroke-linecap="round" fill="none"/>
<path d="M156.1 558.2h0M207.6 525.8h0M130.6 515.0h0M201.7 551.4h0M154.6 516.8h0M188.1 556.1h0M127.7 558.7h0M127.8 498.4h0M130.5 545.6h0M135.3 543.3h0M133.6 530.2h0M141.5 532.4h0M181.0 522.1h0M193.4 500.5h0M185.1 527.6h0M174.5 547.1h0M172.0 524.2h0M175.2 516.0h0M137.4 541.5h0M127.5 542.7h0M151.8 520.2h0" stroke="#d80c18" stroke-width="2.10" stroke-linecap="round" fill="none"/>
<path d="M141.6 543.5h0M197.0 508.1h0M160.7 525.0h0M167.2 546.0h0M182.0 549.0h0M160.0 515.7h0M124.9 521.4h0M181.8 529.3h0M184.2 531.2h0M171.6 533.1h0M151.2 527.4h0M187.5 545.3h0M154.0 557.7h0M157.3 514.0h0M169.5 520.3h0M202.9 504.6h0M148.9 519.8h0M201.5 519.6h0M190.1 518.9h0" stroke="#ee1c24" stroke-width="1.50" stroke-linecap="round" fill="none"/>
<path d="M124.6 559.1h0M142.6 526.3h0M198.8 515.9h0M132.1 507.2h0M151.1 550.8h0M170.1 561.7h0M150.2 534.1h0M169.3 511.7h0M195.1 510.6h0M192.5 530.9h0M159.6 540.3h0M200.7 536.8h0M162.1 523.0h0M133.8 505.8h0M153.2 527.0h0M142.7 528.1h0M194.8 554.8h0M126.6 528.6h0M167.8 552.6h0M183.9 542.8h0M125.5 521.9h0" stroke="#f0282c" stroke-width="1.80" stroke-linecap="round" fill="none"/>
<path d="M153.0 532.9h0M173.5 509.9h0M144.8 543.4h0M184.1 547.0h0M123.9 536.3h0M187.8 510.8h0M139.6 525.4h0M179.8 510.6h0M139.8 502.1h0M146.2 550.8h0M154.2 509.3h0M167.4 520.4h0M125.5 500.7h0M197.4 536.6h0M200.8 546.3h0M150.1 498.7h0" stroke="#f0282c" stroke-width="1.30" stroke-linecap="round" fill="none"/>
<path d="M192.7 545.8h0M127.0 499.8h0M154.2 504.4h0M154.2 509.1h0M169.7 510.2h0M141.8 521.1h0M193.4 511.3h0M206.6 553.7h0M182.3 544.8h0M139.8 559.3h0M184.6 552.0h0M155.0 498.5h0M179.7 551.2h0M170.1 549.4h0M146.1 536.8h0M198.5 525.2h0M132.8 551.1h0M155.6 562.7h0M143.6 557.4h0M147.7 523.9h0M174.1 537.7h0M137.6 524.5h0M197.2 541.1h0M194.8 513.1h0M208.1 522.2h0M141.7 521.5h0M133.0 518.9h0M129.6 500.3h0M186.9 522.6h0" stroke="#f0282c" stroke-width="1.10" stroke-linecap="round" fill="none"/>
<path d="M199.3 522.8h0M197.2 558.6h0M194.4 550.7h0M145.4 510.4h0M139.0 536.1h0M178.3 535.4h0M191.9 552.9h0M203.9 556.6h0M177.4 509.3h0M122.6 547.9h0M143.7 516.9h0M152.0 558.0h0M131.4 501.1h0M156.3 542.1h0M129.8 514.6h0M145.0 512.3h0M133.7 503.5h0M203.0 552.7h0M192.5 523.6h0M127.3 542.2h0" stroke="#e83040" stroke-width="1.50" stroke-linecap="round" fill="none"/>
<path d="M149.1 519.8h0M203.2 535.1h0M151.3 554.6h0M207.6 543.0h0M151.8 559.5h0M193.3 531.8h0M184.0 517.8h0M158.4 561.2h0M155.6 543.4h0M162.8 552.2h0M197.7 537.9h0M193.1 531.9h0M203.6 506.9h0M204.0 558.3h0M184.5 562.8h0M172.4 551.2h0M195.3 523.7h0M152.0 553.5h0M159.4 554.2h0M125.7 547.6h0M204.4 509.0h0M193.9 512.3h0M178.0 560.4h0M197.5 511.0h0M158.3 503.8h0M137.6 553.5h0M192.7 504.4h0" stroke="#c81020" stroke-width="1.50" stroke-linecap="round" fill="none"/>
<path d="M193.5 527.0h0M141.6 538.2h0M199.5 551.5h0M122.7 550.5h0M141.7 511.7h0M141.6 500.5h0M145.6 501.5h0M192.4 548.1h0M163.7 555.4h0M140.3 542.1h0M195.0 552.0h0M199.2 523.1h0M189.6 542.3h0M190.0 526.5h0M180.0 507.8h0M160.6 504.2h0M202.4 552.8h0M169.4 502.4h0M168.3 526.4h0M194.2 562.3h0M188.6 502.3h0M205.6 507.5h0M147.2 522.8h0M168.9 516.2h0M125.9 553.0h0" stroke="#e8121c" stroke-width="0.90" stroke-linecap="round" fill="none"/>
<path d="M185.3 507.5h0M167.8 524.8h0M195.7 546.6h0M124.9 503.8h0M155.8 554.8h0M128.1 528.4h0M161.3 518.5h0M169.3 549.7h0M148.5 500.4h0M153.8 561.2h0M157.5 522.4h0M146.3 539.9h0M143.2 559.9h0M173.2 525.5h0M201.3 536.8h0" stroke="#d80c18" stroke-width="1.50" stroke-linecap="round" fill="none"/>
<path d="M206.4 503.6h0M180.8 517.5h0M123.6 548.5h0M198.3 522.5h0M143.9 539.5h0M175.2 539.0h0M155.4 540.4h0M162.0 506.2h0M142.8 536.3h0M146.2 544.4h0M151.2 539.6h0M133.7 533.9h0M153.4 537.0h0M174.5 510.7h0M131.8 528.0h0M183.7 524.4h0M196.4 545.3h0M164.1 521.5h0M150.8 502.5h0" stroke="#d80c18" stroke-width="1.80" stroke-linecap="round" fill="none"/>
<path d="M138.3 532.0h0M206.4 508.1h0M198.8 538.2h0M190.0 542.1h0M202.8 524.6h0M140.9 542.5h0M156.1 529.7h0M137.0 524.2h0M192.2 521.4h0M145.2 540.0h0M195.9 522.5h0M148.0 538.7h0M166.9 520.3h0M174.8 534.7h0M202.8 499.5h0M189.6 538.5h0M164.3 530.9h0M147.3 532.7h0M135.6 556.3h0M192.0 548.8h0M207.6 542.8h0M169.1 507.2h0M126.2 515.8h0M128.2 517.6h0M203.6 520.5h0M206.5 553.6h0M130.2 530.4h0M131.9 548.5h0" stroke="#c81020" stroke-width="0.90" stroke-linecap="round" fill="none"/>
<path d="M198.4 554.3h0M154.9 532.9h0M185.3 536.2h0M136.5 515.9h0M123.5 529.2h0M172.4 503.0h0M138.7 541.8h0M202.1 508.1h0M189.5 503.7h0M139.1 511.6h0M165.7 541.5h0M165.4 550.5h0M147.9 549.0h0M176.9 555.1h0M172.1 528.8h0M186.7 520.2h0M170.8 550.3h0M144.5 554.6h0M161.8 532.2h0M181.7 517.5h0M131.1 522.4h0M195.9 505.1h0M194.1 500.7h0M169.9 512.5h0" stroke="#e8121c" stroke-width="1.10" stroke-linecap="round" fill="none"/>
<path d="M159.6 513.8h0M166.7 548.1h0M194.8 554.5h0M193.9 523.6h0M208.6 519.7h0M137.5 542.9h0M175.3 502.7h0M189.6 526.1h0M123.2 524.6h0M194.0 557.9h0M199.1 508.4h0M183.7 539.0h0M158.4 546.9h0M145.6 539.2h0M171.5 533.1h0M153.1 561.8h0M131.6 528.0h0M136.4 533.4h0M131.8 550.8h0M169.8 521.7h0M174.1 549.6h0" stroke="#c81020" stroke-width="2.10" stroke-linecap="round" fill="none"/>
<path d="M172.2 538.4h0M126.3 513.3h0M168.4 549.6h0M202.1 558.8h0M137.9 559.5h0M205.3 517.0h0M199.1 536.3h0M192.5 537.2h0M201.8 505.4h0M140.1 537.6h0M196.9 506.1h0M153.5 530.0h0M200.7 526.3h0M170.6 541.8h0M189.7 507.8h0M195.0 542.4h0M182.1 510.1h0M184.9 544.9h0M187.2 507.2h0M194.5 506.1h0M165.6 530.6h0M188.9 530.0h0" stroke="#c81020" stroke-width="1.80" stroke-linecap="round" fill="none"/>
<path d="M134.3 537.7h0M171.5 552.6h0M175.7 535.7h0M156.2 543.3h0M137.7 514.4h0M152.5 526.5h0M193.8 550.6h0M169.9 540.5h0M169.9 517.0h0M197.8 517.5h0M190.4 523.3h0M198.4 518.1h0M145.1 561.6h0M206.2 556.0h0M188.4 518.5h0" stroke="#c81020" stroke-width="1.10" stroke-linecap="round" fill="none"/>
<path d="M131.0 522.9h0M136.6 508.8h0M192.0 522.3h0M147.0 524.3h0M125.5 503.6h0M183.0 526.3h0M132.8 502.3h0M123.7 512.0h0" stroke="#ec1a22" stroke-width="3.80" stroke-linecap="round" fill="none"/>
<path d="M148.4 543.0h0M170.8 506.8h0M162.5 527.5h0M183.9 533.5h0" stroke="#ec1a22" stroke-width="3.00" stroke-linecap="round" fill="none"/>
<circle cx="145.00" cy="512.00" r="2.24" fill="#ec1820"/>
<circle cx="145.34" cy="510.50" r="1.54" fill="#e8141c"/>
<circle cx="146.05" cy="510.87" r="1.54" fill="#e8141c"/>
<circle cx="143.46" cy="511.89" r="1.54" fill="#e8141c"/>
<circle cx="147.00" cy="515.00" r="1.76" fill="#ec1820"/>
<circle cx="148.05" cy="514.39" r="1.21" fill="#e8141c"/>
<circle cx="147.55" cy="516.08" r="1.21" fill="#e8141c"/>
<circle cx="148.19" cy="514.78" r="1.21" fill="#e8141c"/>
<circle cx="170.00" cy="515.00" r="2.40" fill="#ec1820"/>
<circle cx="171.04" cy="513.72" r="1.65" fill="#e8141c"/>
<circle cx="169.04" cy="516.34" r="1.65" fill="#e8141c"/>
<circle cx="168.74" cy="513.93" r="1.65" fill="#e8141c"/>
<circle cx="168.00" cy="520.00" r="2.00" fill="#ec1820"/>
<circle cx="169.37" cy="519.87" r="1.38" fill="#e8141c"/>
<circle cx="166.76" cy="520.60" r="1.38" fill="#e8141c"/>
<circle cx="169.36" cy="520.22" r="1.38" fill="#e8141c"/>
<circle cx="181.00" cy="503.00" r="1.76" fill="#ec1820"/>
<circle cx="182.02" cy="503.65" r="1.21" fill="#e8141c"/>
<circle cx="182.20" cy="502.81" r="1.21" fill="#e8141c"/>
<circle cx="182.10" cy="502.50" r="1.21" fill="#e8141c"/>
<circle cx="186.00" cy="506.00" r="2.00" fill="#ec1820"/>
<circle cx="187.36" cy="506.23" r="1.38" fill="#e8141c"/>
<circle cx="184.64" cy="506.18" r="1.38" fill="#e8141c"/>
<circle cx="186.95" cy="507.00" r="1.38" fill="#e8141c"/>
<circle cx="186.00" cy="511.00" r="2.00" fill="#ec1820"/>
<circle cx="186.53" cy="509.73" r="1.38" fill="#e8141c"/>
<circle cx="186.20" cy="512.36" r="1.38" fill="#e8141c"/>
<circle cx="185.42" cy="512.25" r="1.38" fill="#e8141c"/>
<circle cx="191.00" cy="505.00" r="1.84" fill="#ec1820"/>
<circle cx="192.26" cy="505.11" r="1.26" fill="#e8141c"/>
<circle cx="189.75" cy="505.20" r="1.26" fill="#e8141c"/>
<circle cx="190.84" cy="506.26" r="1.26" fill="#e8141c"/>
<circle cx="189.00" cy="533.00" r="2.00" fill="#ec1820"/>
<circle cx="189.72" cy="531.83" r="1.38" fill="#e8141c"/>
<circle cx="189.55" cy="531.74" r="1.38" fill="#e8141c"/>
<circle cx="189.15" cy="534.37" r="1.38" fill="#e8141c"/>
<circle cx="197.00" cy="533.00" r="2.00" fill="#ec1820"/>
<circle cx="196.96" cy="534.37" r="1.38" fill="#e8141c"/>
<circle cx="195.71" cy="533.48" r="1.38" fill="#e8141c"/>
<circle cx="197.73" cy="531.84" r="1.38" fill="#e8141c"/>
<circle cx="206.00" cy="519.00" r="1.76" fill="#ec1820"/>
<circle cx="205.25" cy="519.95" r="1.21" fill="#e8141c"/>
<circle cx="205.21" cy="518.09" r="1.21" fill="#e8141c"/>
<circle cx="205.94" cy="517.79" r="1.21" fill="#e8141c"/>
<circle cx="205.00" cy="507.00" r="1.76" fill="#ec1820"/>
<circle cx="204.94" cy="505.79" r="1.21" fill="#e8141c"/>
<circle cx="206.15" cy="506.63" r="1.21" fill="#e8141c"/>
<circle cx="205.79" cy="507.91" r="1.21" fill="#e8141c"/>
<circle cx="135.00" cy="545.00" r="1.60" fill="#ec1820"/>
<circle cx="135.04" cy="543.90" r="1.10" fill="#e8141c"/>
<circle cx="135.43" cy="543.99" r="1.10" fill="#e8141c"/>
<circle cx="133.93" cy="545.25" r="1.10" fill="#e8141c"/>
<circle cx="160.00" cy="520.00" r="1.60" fill="#ec1820"/>
<circle cx="159.19" cy="519.25" r="1.10" fill="#e8141c"/>
<circle cx="160.16" cy="521.09" r="1.10" fill="#e8141c"/>
<circle cx="159.67" cy="518.95" r="1.10" fill="#e8141c"/>
<circle cx="198.00" cy="545.00" r="1.60" fill="#ec1820"/>
<circle cx="198.60" cy="544.08" r="1.10" fill="#e8141c"/>
<circle cx="199.10" cy="544.92" r="1.10" fill="#e8141c"/>
<circle cx="197.75" cy="546.07" r="1.10" fill="#e8141c"/>
</g>
<rect x="122.20" y="498.30" width="86.50" height="64.60" fill="none" stroke="#1e1e1e" stroke-width="1.1"/>
<rect x="103.40" y="559.30" width="15.40" height="2.40" fill="#000"/>
<rect x="191.00" y="559.30" width="16.00" height="2.40" fill="#000"/>
<text x="78.00" y="573.80" font-size="8.4" text-anchor="middle" textLength="40.90" lengthAdjust="spacingAndGlyphs">AAV8-GFP</text>
<text x="166.00" y="573.80" font-size="8.4" text-anchor="middle" textLength="47.30" lengthAdjust="spacingAndGlyphs">AAV8-AGXT</text>
<text x="30.60" y="531.40" font-size="8.4" text-anchor="middle" transform="rotate(-90 30.60 531.40)">Oil Red O</text>
<text x="0.60" y="593.60" font-size="14" font-weight="bold" fill="#000" stroke="#000" stroke-width="0.45">g</text>
<rect x="43.50" y="645.05" width="20.80" height="56.25" fill="#ff0000" stroke="#231f20" stroke-width="0.6"/>
<rect x="70.80" y="658.89" width="20.80" height="42.41" fill="#0000ff" stroke="#231f20" stroke-width="0.6"/>
<line x1="53.90" y1="645.05" x2="53.90" y2="642.38" stroke="#231f20" stroke-width="0.6"/>
<line x1="51.60" y1="642.38" x2="56.20" y2="642.38" stroke="#231f20" stroke-width="0.6"/>
<line x1="81.20" y1="658.89" x2="81.20" y2="654.87" stroke="#231f20" stroke-width="0.6"/>
<line x1="78.90" y1="654.87" x2="83.50" y2="654.87" stroke="#231f20" stroke-width="0.6"/>
<circle cx="53.90" cy="635.83" r="1.35" fill="#fff" stroke="#231f20" stroke-width="0.55"/>
<circle cx="53.90" cy="638.80" r="1.35" fill="#fff" stroke="#231f20" stroke-width="0.55"/>
<circle cx="45.00" cy="643.86" r="1.35" fill="#fff" stroke="#231f20" stroke-width="0.55"/>
<circle cx="63.00" cy="643.86" r="1.35" fill="#fff" stroke="#231f20" stroke-width="0.55"/>
<circle cx="51.50" cy="646.24" r="1.35" fill="#fff" stroke="#231f20" stroke-width="0.55"/>
<circle cx="57.30" cy="645.95" r="1.35" fill="#fff" stroke="#231f20" stroke-width="0.55"/>
<circle cx="53.90" cy="650.71" r="1.35" fill="#fff" stroke="#231f20" stroke-width="0.55"/>
<circle cx="53.90" cy="657.26" r="1.35" fill="#fff" stroke="#231f20" stroke-width="0.55"/>
<circle cx="81.20" cy="647.73" r="1.35" fill="#fff" stroke="#231f20" stroke-width="0.55"/>
<circle cx="81.20" cy="650.71" r="1.35" fill="#fff" stroke="#231f20" stroke-width="0.55"/>
<circle cx="81.20" cy="653.39" r="1.35" fill="#fff" stroke="#231f20" stroke-width="0.55"/>
<circle cx="81.20" cy="656.66" r="1.35" fill="#fff" stroke="#231f20" stroke-width="0.55"/>
<circle cx="78.20" cy="660.83" r="1.35" fill="#fff" stroke="#231f20" stroke-width="0.55"/>
<circle cx="84.20" cy="661.72" r="1.35" fill="#fff" stroke="#231f20" stroke-width="0.55"/>
<circle cx="81.20" cy="674.22" r="1.35" fill="#fff" stroke="#231f20" stroke-width="0.55"/>
<polyline points="53.6,633.0 53.6,626.9 81.5,626.9 81.5,640.7" fill="none" stroke="#8c8c8c" stroke-width="0.6"/>
<text x="45.5" y="623.4" font-size="8.4" fill="#231f20" textLength="43.5" lengthAdjust="spacingAndGlyphs"><tspan font-style="italic">P</tspan> = 0.0083</text>
<line x1="32.40" y1="626.90" x2="32.40" y2="701.30" stroke="#5a5a5a" stroke-width="0.7"/>
<line x1="32.40" y1="701.30" x2="103.10" y2="701.30" stroke="#5a5a5a" stroke-width="0.7"/>
<line x1="28.80" y1="701.30" x2="32.40" y2="701.30" stroke="#5a5a5a" stroke-width="0.6"/>
<text x="25.90" y="703.90" font-size="7.6" text-anchor="end" fill="#333">0</text>
<line x1="28.80" y1="686.42" x2="32.40" y2="686.42" stroke="#5a5a5a" stroke-width="0.6"/>
<text x="25.90" y="689.02" font-size="7.6" text-anchor="end" fill="#333">5</text>
<line x1="28.80" y1="671.54" x2="32.40" y2="671.54" stroke="#5a5a5a" stroke-width="0.6"/>
<text x="25.90" y="674.14" font-size="7.6" text-anchor="end" fill="#333">10</text>
<line x1="28.80" y1="656.66" x2="32.40" y2="656.66" stroke="#5a5a5a" stroke-width="0.6"/>
<text x="25.90" y="659.26" font-size="7.6" text-anchor="end" fill="#333">15</text>
<line x1="28.80" y1="641.78" x2="32.40" y2="641.78" stroke="#5a5a5a" stroke-width="0.6"/>
<text x="25.90" y="644.38" font-size="7.6" text-anchor="end" fill="#333">20</text>
<line x1="28.80" y1="626.90" x2="32.40" y2="626.90" stroke="#5a5a5a" stroke-width="0.6"/>
<text x="25.90" y="629.50" font-size="7.6" text-anchor="end" fill="#333">25</text>
<line x1="53.90" y1="701.30" x2="53.90" y2="704.50" stroke="#5a5a5a" stroke-width="0.6"/>
<line x1="81.20" y1="701.30" x2="81.20" y2="704.50" stroke="#5a5a5a" stroke-width="0.6"/>
<text x="17.20" y="715.50" font-size="8.4" textLength="24.30" lengthAdjust="spacingAndGlyphs">AAV8:</text>
<text x="54.20" y="715.50" font-size="8.4" text-anchor="middle">GFP</text>
<text x="81.50" y="715.50" font-size="8.4" text-anchor="middle">AGXT</text>
<text x="10.50" y="665.00" font-size="8.4" text-anchor="middle" transform="rotate(-90 10.50 665.00)">Percentage (+) Oil Red O</text>
<text x="108.60" y="593.30" font-size="14" font-weight="bold" fill="#000" stroke="#000" stroke-width="0.45">h</text>
<circle cx="145.00" cy="589.20" r="2.90" fill="#e8000b" stroke="#000" stroke-width="0.6"/>
<text x="152.10" y="592.20" font-size="8.3" textLength="40.90" lengthAdjust="spacingAndGlyphs">AAV8-GFP</text>
<circle cx="145.00" cy="600.40" r="2.90" fill="#0000e6" stroke="#000" stroke-width="0.6"/>
<text x="152.10" y="603.40" font-size="8.3" textLength="47.00" lengthAdjust="spacingAndGlyphs">AAV8-AGXT</text>
<rect x="140.50" y="607.00" width="87.80" height="88.50" fill="none" stroke="#5a5a5a" stroke-width="0.7"/>
<line x1="137.50" y1="618.45" x2="140.50" y2="618.45" stroke="#5a5a5a" stroke-width="0.6"/>
<text x="135.60" y="621.05" font-size="7.6" text-anchor="end" fill="#333">15</text>
<line x1="137.50" y1="630.03" x2="140.50" y2="630.03" stroke="#5a5a5a" stroke-width="0.6"/>
<text x="135.60" y="632.63" font-size="7.6" text-anchor="end" fill="#333">10</text>
<line x1="137.50" y1="641.62" x2="140.50" y2="641.62" stroke="#5a5a5a" stroke-width="0.6"/>
<text x="135.60" y="644.22" font-size="7.6" text-anchor="end" fill="#333">5</text>
<line x1="137.50" y1="653.20" x2="140.50" y2="653.20" stroke="#5a5a5a" stroke-width="0.6"/>
<text x="135.60" y="655.80" font-size="7.6" text-anchor="end" fill="#333">0</text>
<line x1="137.50" y1="664.78" x2="140.50" y2="664.78" stroke="#5a5a5a" stroke-width="0.6"/>
<text x="135.60" y="667.38" font-size="7.6" text-anchor="end" fill="#333">−5</text>
<line x1="137.50" y1="676.37" x2="140.50" y2="676.37" stroke="#5a5a5a" stroke-width="0.6"/>
<text x="135.60" y="678.97" font-size="7.6" text-anchor="end" fill="#333">−10</text>
<line x1="137.50" y1="687.95" x2="140.50" y2="687.95" stroke="#5a5a5a" stroke-width="0.6"/>
<text x="135.60" y="690.55" font-size="7.6" text-anchor="end" fill="#333">−15</text>
<line x1="146.70" y1="695.50" x2="146.70" y2="698.50" stroke="#5a5a5a" stroke-width="0.6"/>
<text transform="translate(148.9,702.0) rotate(-45)" font-size="7.6" text-anchor="end" fill="#333">−30</text>
<line x1="159.07" y1="695.50" x2="159.07" y2="698.50" stroke="#5a5a5a" stroke-width="0.6"/>
<text transform="translate(161.3,702.0) rotate(-45)" font-size="7.6" text-anchor="end" fill="#333">−20</text>
<line x1="171.43" y1="695.50" x2="171.43" y2="698.50" stroke="#5a5a5a" stroke-width="0.6"/>
<text transform="translate(173.6,702.0) rotate(-45)" font-size="7.6" text-anchor="end" fill="#333">−10</text>
<line x1="183.80" y1="695.50" x2="183.80" y2="698.50" stroke="#5a5a5a" stroke-width="0.6"/>
<text transform="translate(186.0,702.0) rotate(-45)" font-size="7.6" text-anchor="end" fill="#333">0</text>
<line x1="196.17" y1="695.50" x2="196.17" y2="698.50" stroke="#5a5a5a" stroke-width="0.6"/>
<text transform="translate(198.4,702.0) rotate(-45)" font-size="7.6" text-anchor="end" fill="#333">10</text>
<line x1="208.53" y1="695.50" x2="208.53" y2="698.50" stroke="#5a5a5a" stroke-width="0.6"/>
<text transform="translate(210.7,702.0) rotate(-45)" font-size="7.6" text-anchor="end" fill="#333">20</text>
<line x1="220.90" y1="695.50" x2="220.90" y2="698.50" stroke="#5a5a5a" stroke-width="0.6"/>
<text transform="translate(223.1,702.0) rotate(-45)" font-size="7.6" text-anchor="end" fill="#333">30</text>
<circle cx="192.60" cy="616.00" r="2.90" fill="#e8000b" stroke="#000" stroke-width="0.6"/>
<circle cx="193.40" cy="640.50" r="2.90" fill="#e8000b" stroke="#000" stroke-width="0.6"/>
<circle cx="203.40" cy="651.50" r="2.90" fill="#e8000b" stroke="#000" stroke-width="0.6"/>
<circle cx="213.60" cy="652.60" r="2.90" fill="#e8000b" stroke="#000" stroke-width="0.6"/>
<circle cx="219.10" cy="666.50" r="2.90" fill="#e8000b" stroke="#000" stroke-width="0.6"/>
<circle cx="149.70" cy="624.10" r="2.90" fill="#0000e6" stroke="#000" stroke-width="0.6"/>
<circle cx="164.40" cy="647.90" r="2.90" fill="#0000e6" stroke="#000" stroke-width="0.6"/>
<circle cx="163.40" cy="667.90" r="2.90" fill="#0000e6" stroke="#000" stroke-width="0.6"/>
<circle cx="162.50" cy="677.70" r="2.90" fill="#0000e6" stroke="#000" stroke-width="0.6"/>
<circle cx="176.40" cy="686.30" r="2.90" fill="#0000e6" stroke="#000" stroke-width="0.6"/>
<text x="184.20" y="725.00" font-size="8.3" text-anchor="middle">PC1: 35.4% variance</text>
<text x="116.00" y="651.50" font-size="8.3" text-anchor="middle" transform="rotate(-90 116.00 651.50)">PC2: 13.2% variance</text>
<text x="236.60" y="501.20" font-size="14" font-weight="bold" fill="#000" stroke="#000" stroke-width="0.45">i</text>
<line x1="318.80" y1="508.00" x2="335.60" y2="508.00" stroke="#f0f0f0" stroke-width="0.5"/>
<line x1="318.80" y1="514.64" x2="335.60" y2="514.64" stroke="#f0f0f0" stroke-width="0.5"/>
<line x1="318.80" y1="521.28" x2="335.60" y2="521.28" stroke="#f0f0f0" stroke-width="0.5"/>
<line x1="318.80" y1="527.92" x2="335.60" y2="527.92" stroke="#f0f0f0" stroke-width="0.5"/>
<line x1="318.80" y1="534.56" x2="335.60" y2="534.56" stroke="#f0f0f0" stroke-width="0.5"/>
<line x1="318.80" y1="541.20" x2="335.60" y2="541.20" stroke="#f0f0f0" stroke-width="0.5"/>
<line x1="318.80" y1="547.83" x2="335.60" y2="547.83" stroke="#f0f0f0" stroke-width="0.5"/>
<line x1="318.80" y1="554.47" x2="335.60" y2="554.47" stroke="#f0f0f0" stroke-width="0.5"/>
<line x1="318.80" y1="561.11" x2="335.60" y2="561.11" stroke="#f0f0f0" stroke-width="0.5"/>
<line x1="318.80" y1="567.75" x2="335.60" y2="567.75" stroke="#f0f0f0" stroke-width="0.5"/>
<line x1="318.80" y1="574.39" x2="335.60" y2="574.39" stroke="#f0f0f0" stroke-width="0.5"/>
<line x1="318.80" y1="581.03" x2="335.60" y2="581.03" stroke="#f0f0f0" stroke-width="0.5"/>
<line x1="318.80" y1="587.67" x2="335.60" y2="587.67" stroke="#f0f0f0" stroke-width="0.5"/>
<line x1="318.80" y1="594.31" x2="335.60" y2="594.31" stroke="#f0f0f0" stroke-width="0.5"/>
<line x1="318.80" y1="600.95" x2="335.60" y2="600.95" stroke="#f0f0f0" stroke-width="0.5"/>
<line x1="318.80" y1="607.59" x2="335.60" y2="607.59" stroke="#f0f0f0" stroke-width="0.5"/>
<line x1="318.80" y1="614.22" x2="335.60" y2="614.22" stroke="#f0f0f0" stroke-width="0.5"/>
<line x1="318.80" y1="620.86" x2="335.60" y2="620.86" stroke="#f0f0f0" stroke-width="0.5"/>
<line x1="318.80" y1="627.50" x2="335.60" y2="627.50" stroke="#f0f0f0" stroke-width="0.5"/>
<line x1="318.80" y1="634.14" x2="335.60" y2="634.14" stroke="#f0f0f0" stroke-width="0.5"/>
<line x1="318.80" y1="640.78" x2="335.60" y2="640.78" stroke="#f0f0f0" stroke-width="0.5"/>
<line x1="318.80" y1="647.42" x2="335.60" y2="647.42" stroke="#f0f0f0" stroke-width="0.5"/>
<line x1="318.80" y1="654.06" x2="335.60" y2="654.06" stroke="#f0f0f0" stroke-width="0.5"/>
<line x1="318.80" y1="660.70" x2="335.60" y2="660.70" stroke="#f0f0f0" stroke-width="0.5"/>
<line x1="318.80" y1="667.34" x2="335.60" y2="667.34" stroke="#f0f0f0" stroke-width="0.5"/>
<line x1="318.80" y1="673.98" x2="335.60" y2="673.98" stroke="#f0f0f0" stroke-width="0.5"/>
<line x1="318.80" y1="680.61" x2="335.60" y2="680.61" stroke="#f0f0f0" stroke-width="0.5"/>
<line x1="318.80" y1="687.25" x2="335.60" y2="687.25" stroke="#f0f0f0" stroke-width="0.5"/>
<line x1="318.80" y1="693.89" x2="335.60" y2="693.89" stroke="#f0f0f0" stroke-width="0.5"/>
<line x1="318.80" y1="700.53" x2="335.60" y2="700.53" stroke="#f0f0f0" stroke-width="0.5"/>
<line x1="318.80" y1="707.17" x2="335.60" y2="707.17" stroke="#f0f0f0" stroke-width="0.5"/>
<line x1="318.80" y1="713.81" x2="335.60" y2="713.81" stroke="#f0f0f0" stroke-width="0.5"/>
<line x1="315.80" y1="508.00" x2="318.80" y2="508.00" stroke="#5a5a5a" stroke-width="0.6"/>
<text x="312.90" y="510.20" font-size="6.3" text-anchor="end" fill="#3a3a3a">TG(56:8)</text>
<circle cx="327.20" cy="508.00" r="1.00" fill="#f04a30"/>
<line x1="315.80" y1="514.64" x2="318.80" y2="514.64" stroke="#5a5a5a" stroke-width="0.6"/>
<text x="312.90" y="516.84" font-size="6.3" text-anchor="end" fill="#3a3a3a">TG(56:10)</text>
<circle cx="327.20" cy="514.64" r="0.90" fill="#f04a30"/>
<line x1="315.80" y1="521.28" x2="318.80" y2="521.28" stroke="#5a5a5a" stroke-width="0.6"/>
<text x="312.90" y="523.48" font-size="6.3" text-anchor="end" fill="#3a3a3a">TG(54:8)</text>
<circle cx="327.20" cy="521.28" r="1.05" fill="#f04a30"/>
<line x1="315.80" y1="527.92" x2="318.80" y2="527.92" stroke="#5a5a5a" stroke-width="0.6"/>
<text x="312.90" y="530.12" font-size="6.3" text-anchor="end" fill="#3a3a3a">TG(52:8)</text>
<circle cx="327.20" cy="527.92" r="1.00" fill="#f04a30"/>
<line x1="315.80" y1="534.56" x2="318.80" y2="534.56" stroke="#5a5a5a" stroke-width="0.6"/>
<text x="312.90" y="536.76" font-size="6.3" text-anchor="end" fill="#3a3a3a">TG(52:6)</text>
<circle cx="327.20" cy="534.56" r="1.00" fill="#f04a30"/>
<line x1="315.80" y1="541.20" x2="318.80" y2="541.20" stroke="#5a5a5a" stroke-width="0.6"/>
<text x="312.90" y="543.40" font-size="6.3" text-anchor="end" fill="#3a3a3a">TG(50:7)</text>
<circle cx="327.20" cy="541.20" r="0.90" fill="#f04a30"/>
<line x1="315.80" y1="547.83" x2="318.80" y2="547.83" stroke="#5a5a5a" stroke-width="0.6"/>
<text x="312.90" y="550.03" font-size="6.3" text-anchor="end" fill="#3a3a3a">TG(48:5)</text>
<circle cx="327.20" cy="547.83" r="1.00" fill="#f04a30"/>
<line x1="315.80" y1="554.47" x2="318.80" y2="554.47" stroke="#5a5a5a" stroke-width="0.6"/>
<text x="312.90" y="556.67" font-size="6.3" text-anchor="end" fill="#3a3a3a">TG(48:4)</text>
<circle cx="327.20" cy="554.47" r="0.90" fill="#f04a30"/>
<line x1="315.80" y1="561.11" x2="318.80" y2="561.11" stroke="#5a5a5a" stroke-width="0.6"/>
<text x="312.90" y="563.31" font-size="6.3" text-anchor="end" fill="#3a3a3a">TG(46:5)</text>
<circle cx="327.20" cy="561.11" r="1.10" fill="#f04a30"/>
<line x1="315.80" y1="567.75" x2="318.80" y2="567.75" stroke="#5a5a5a" stroke-width="0.6"/>
<text x="312.90" y="569.95" font-size="6.3" text-anchor="end" fill="#3a3a3a">TG(46:4)</text>
<circle cx="327.20" cy="567.75" r="0.95" fill="#f04a30"/>
<line x1="315.80" y1="574.39" x2="318.80" y2="574.39" stroke="#5a5a5a" stroke-width="0.6"/>
<text x="312.90" y="576.59" font-size="6.3" text-anchor="end" fill="#3a3a3a">TG(46:3)</text>
<circle cx="327.20" cy="574.39" r="0.90" fill="#f04a30"/>
<line x1="315.80" y1="581.03" x2="318.80" y2="581.03" stroke="#5a5a5a" stroke-width="0.6"/>
<text x="312.90" y="583.23" font-size="6.3" text-anchor="end" fill="#3a3a3a">TG(44:3)</text>
<circle cx="327.20" cy="581.03" r="1.00" fill="#f04a30"/>
<line x1="315.80" y1="587.67" x2="318.80" y2="587.67" stroke="#5a5a5a" stroke-width="0.6"/>
<text x="312.90" y="589.87" font-size="6.3" text-anchor="end" fill="#3a3a3a">Polyunsaturated fatty acid</text>
<circle cx="327.20" cy="587.67" r="0.60" fill="#fae6e2"/>
<line x1="315.80" y1="594.31" x2="318.80" y2="594.31" stroke="#5a5a5a" stroke-width="0.6"/>
<text x="312.90" y="596.51" font-size="6.3" text-anchor="end" fill="#3a3a3a">PE(38:6)</text>
<circle cx="327.20" cy="594.31" r="2.10" fill="#f2826c"/>
<line x1="315.80" y1="600.95" x2="318.80" y2="600.95" stroke="#5a5a5a" stroke-width="0.6"/>
<text x="312.90" y="603.15" font-size="6.3" text-anchor="end" fill="#3a3a3a">PE(36:4)</text>
<circle cx="327.20" cy="600.95" r="2.30" fill="#f06a55"/>
<line x1="315.80" y1="607.59" x2="318.80" y2="607.59" stroke="#5a5a5a" stroke-width="0.6"/>
<text x="312.90" y="609.79" font-size="6.3" text-anchor="end" fill="#3a3a3a">PE(18:2/20:4)</text>
<circle cx="327.20" cy="607.59" r="3.70" fill="#f48a75"/>
<line x1="315.80" y1="614.22" x2="318.80" y2="614.22" stroke="#5a5a5a" stroke-width="0.6"/>
<text x="312.90" y="616.42" font-size="6.3" text-anchor="end" fill="#3a3a3a">PE(18:2/18:2)</text>
<circle cx="327.20" cy="614.22" r="0.90" fill="#f02010"/>
<line x1="315.80" y1="620.86" x2="318.80" y2="620.86" stroke="#5a5a5a" stroke-width="0.6"/>
<text x="312.90" y="623.06" font-size="6.3" text-anchor="end" fill="#3a3a3a">PE(18:2/0:0)</text>
<circle cx="327.20" cy="620.86" r="2.30" fill="#f06a52"/>
<line x1="315.80" y1="627.50" x2="318.80" y2="627.50" stroke="#5a5a5a" stroke-width="0.6"/>
<text x="312.90" y="629.70" font-size="6.3" text-anchor="end" fill="#3a3a3a">PC(34:3)</text>
<circle cx="327.20" cy="627.50" r="3.20" fill="#f07058"/>
<line x1="315.80" y1="634.14" x2="318.80" y2="634.14" stroke="#5a5a5a" stroke-width="0.6"/>
<text x="312.90" y="636.34" font-size="6.3" text-anchor="end" fill="#3a3a3a">FA with 2 DB</text>
<circle cx="327.20" cy="634.14" r="0.90" fill="#f9cdc5"/>
<line x1="315.80" y1="640.78" x2="318.80" y2="640.78" stroke="#5a5a5a" stroke-width="0.6"/>
<text x="312.90" y="642.98" font-size="6.3" text-anchor="end" fill="#3a3a3a">C22:6</text>
<circle cx="327.20" cy="640.78" r="1.20" fill="#f8c0b5"/>
<line x1="315.80" y1="647.42" x2="318.80" y2="647.42" stroke="#5a5a5a" stroke-width="0.6"/>
<text x="312.90" y="649.62" font-size="6.3" text-anchor="end" fill="#3a3a3a">C20:5</text>
<circle cx="327.20" cy="647.42" r="3.50" fill="#f6a595"/>
<line x1="315.80" y1="654.06" x2="318.80" y2="654.06" stroke="#5a5a5a" stroke-width="0.6"/>
<text x="312.90" y="656.26" font-size="6.3" text-anchor="end" fill="#3a3a3a">C18:3</text>
<circle cx="327.20" cy="654.06" r="0.90" fill="#f08a7a"/>
<line x1="315.80" y1="660.70" x2="318.80" y2="660.70" stroke="#5a5a5a" stroke-width="0.6"/>
<text x="312.90" y="662.90" font-size="6.3" text-anchor="end" fill="#3a3a3a">C18:2</text>
<circle cx="327.20" cy="660.70" r="0.80" fill="#f0a090"/>
<line x1="315.80" y1="667.34" x2="318.80" y2="667.34" stroke="#5a5a5a" stroke-width="0.6"/>
<text x="312.90" y="669.54" font-size="6.3" text-anchor="end" fill="#3a3a3a">C18:1</text>
<circle cx="327.20" cy="667.34" r="0.90" fill="#f5c0b8"/>
<line x1="315.80" y1="673.98" x2="318.80" y2="673.98" stroke="#5a5a5a" stroke-width="0.6"/>
<text x="312.90" y="676.18" font-size="6.3" text-anchor="end" fill="#3a3a3a">Saturated fatty acid</text>
<circle cx="327.20" cy="673.98" r="0.70" fill="#e8e2f8"/>
<line x1="315.80" y1="680.61" x2="318.80" y2="680.61" stroke="#5a5a5a" stroke-width="0.6"/>
<text x="312.90" y="682.81" font-size="6.3" text-anchor="end" fill="#3a3a3a">Lipid-mediated signalling</text>
<circle cx="327.20" cy="680.61" r="0.80" fill="#e2dafa"/>
<line x1="315.80" y1="687.25" x2="318.80" y2="687.25" stroke="#5a5a5a" stroke-width="0.6"/>
<text x="312.90" y="689.45" font-size="6.3" text-anchor="end" fill="#3a3a3a">d18:1 (sphingosine)</text>
<circle cx="327.20" cy="687.25" r="2.60" fill="#d8c8fa"/>
<line x1="315.80" y1="693.89" x2="318.80" y2="693.89" stroke="#5a5a5a" stroke-width="0.6"/>
<text x="312.90" y="696.09" font-size="6.3" text-anchor="end" fill="#3a3a3a">d18:0 (dihydrosphingosine)</text>
<circle cx="327.20" cy="693.89" r="0.90" fill="#6a50f0"/>
<line x1="315.80" y1="700.53" x2="318.80" y2="700.53" stroke="#5a5a5a" stroke-width="0.6"/>
<text x="312.90" y="702.73" font-size="6.3" text-anchor="end" fill="#3a3a3a">C18:0</text>
<circle cx="327.20" cy="700.53" r="0.80" fill="#c8b8f8"/>
<line x1="315.80" y1="707.17" x2="318.80" y2="707.17" stroke="#5a5a5a" stroke-width="0.6"/>
<text x="312.90" y="709.37" font-size="6.3" text-anchor="end" fill="#3a3a3a">C15:0</text>
<circle cx="327.20" cy="707.17" r="2.30" fill="#c2aaf8"/>
<line x1="315.80" y1="713.81" x2="318.80" y2="713.81" stroke="#5a5a5a" stroke-width="0.6"/>
<text x="312.90" y="716.01" font-size="6.3" text-anchor="end" fill="#3a3a3a">C13:0</text>
<circle cx="327.20" cy="713.81" r="3.50" fill="#b9a0f6"/>
<rect x="318.80" y="504.50" width="16.80" height="213.00" fill="none" stroke="#5a5a5a" stroke-width="0.7"/>
<line x1="327.20" y1="717.50" x2="327.20" y2="720.00" stroke="#5a5a5a" stroke-width="0.6"/>
<text x="325.80" y="725.30" font-size="5.7" text-anchor="middle" fill="#333">AGXT/GFP</text>
<defs><linearGradient id="esg" x1="0" y1="0" x2="0" y2="1"><stop offset="0" stop-color="#ff2416"/><stop offset="0.3" stop-color="#ff8c7e"/><stop offset="0.59" stop-color="#ffffff"/><stop offset="0.86" stop-color="#b09cff"/><stop offset="1" stop-color="#7c5cff"/></linearGradient></defs>
<text x="345.00" y="564.00" font-size="9.0" textLength="9.90" lengthAdjust="spacingAndGlyphs">ES</text>
<rect x="344.10" y="566.20" width="10.30" height="48.10" fill="url(#esg)"/>
<line x1="344.10" y1="580.20" x2="346.20" y2="580.20" stroke="#fff" stroke-width="0.6"/>
<line x1="352.30" y1="580.20" x2="354.40" y2="580.20" stroke="#fff" stroke-width="0.6"/>
<line x1="344.10" y1="594.50" x2="346.20" y2="594.50" stroke="#fff" stroke-width="0.6"/>
<line x1="352.30" y1="594.50" x2="354.40" y2="594.50" stroke="#fff" stroke-width="0.6"/>
<line x1="344.10" y1="608.80" x2="346.20" y2="608.80" stroke="#fff" stroke-width="0.6"/>
<line x1="352.30" y1="608.80" x2="354.40" y2="608.80" stroke="#fff" stroke-width="0.6"/>
<text x="357.30" y="583.00" font-size="7.7">0.5</text>
<text x="357.30" y="597.30" font-size="7.7">0</text>
<text x="356.90" y="611.60" font-size="7.7">−0.5</text>
<text x="345.7" y="632.2" font-size="8.6" fill="#231f20"><tspan font-style="italic">P</tspan> value</text>
<circle cx="349.50" cy="639.50" r="2.20" fill="#1a1a1a"/>
<text x="355.00" y="642.40" font-size="8.2">0.02</text>
<circle cx="349.50" cy="649.40" r="2.70" fill="#1a1a1a"/>
<text x="355.00" y="652.30" font-size="8.2">0.04</text>
<circle cx="349.50" cy="658.80" r="3.20" fill="#1a1a1a"/>
<text x="355.00" y="661.70" font-size="8.2">0.06</text>
<text x="390.80" y="9.30" font-size="14" font-weight="bold" fill="#000" stroke="#000" stroke-width="0.45">d</text>
<g stroke="#a3a3a3" stroke-width="0.75"><rect x="424.60" y="34.30" width="13.16" height="5.12" fill="#fffebe"/><rect x="437.76" y="34.30" width="13.16" height="5.12" fill="#d7edf5"/><rect x="450.92" y="34.30" width="13.16" height="5.12" fill="#b0d4e6"/><rect x="464.08" y="34.30" width="13.16" height="5.12" fill="#c3e0ed"/><rect x="477.24" y="34.30" width="13.16" height="5.12" fill="#fc9860"/><rect x="490.40" y="34.30" width="13.16" height="5.12" fill="#feeda3"/><rect x="503.56" y="34.30" width="13.16" height="5.12" fill="#fee292"/><rect x="516.72" y="34.30" width="13.16" height="5.12" fill="#fee99e"/><rect x="424.60" y="39.41" width="13.16" height="5.12" fill="#fee292"/><rect x="437.76" y="39.41" width="13.16" height="5.12" fill="#f1fad8"/><rect x="450.92" y="39.41" width="13.16" height="5.12" fill="#f1fad8"/><rect x="464.08" y="39.41" width="13.16" height="5.12" fill="#f1fad8"/><rect x="477.24" y="39.41" width="13.16" height="5.12" fill="#f1fad8"/><rect x="490.40" y="39.41" width="13.16" height="5.12" fill="#f1fad8"/><rect x="503.56" y="39.41" width="13.16" height="5.12" fill="#d73027"/><rect x="516.72" y="39.41" width="13.16" height="5.12" fill="#f1fad8"/><rect x="424.60" y="44.53" width="13.16" height="5.12" fill="#fff6b1"/><rect x="437.76" y="44.53" width="13.16" height="5.12" fill="#c3e0ed"/><rect x="450.92" y="44.53" width="13.16" height="5.12" fill="#badaea"/><rect x="464.08" y="44.53" width="13.16" height="5.12" fill="#badaea"/><rect x="477.24" y="44.53" width="13.16" height="5.12" fill="#fc9860"/><rect x="490.40" y="44.53" width="13.16" height="5.12" fill="#fee99e"/><rect x="503.56" y="44.53" width="13.16" height="5.12" fill="#fee698"/><rect x="516.72" y="44.53" width="13.16" height="5.12" fill="#fee698"/><rect x="424.60" y="49.64" width="13.16" height="5.12" fill="#fee99e"/><rect x="437.76" y="49.64" width="13.16" height="5.12" fill="#c3e0ed"/><rect x="450.92" y="49.64" width="13.16" height="5.12" fill="#b0d4e6"/><rect x="464.08" y="49.64" width="13.16" height="5.12" fill="#c3e0ed"/><rect x="477.24" y="49.64" width="13.16" height="5.12" fill="#fdb473"/><rect x="490.40" y="49.64" width="13.16" height="5.12" fill="#feeda3"/><rect x="503.56" y="49.64" width="13.16" height="5.12" fill="#fee698"/><rect x="516.72" y="49.64" width="13.16" height="5.12" fill="#fee99e"/><rect x="424.60" y="54.76" width="13.16" height="5.12" fill="#b0d4e6"/><rect x="437.76" y="54.76" width="13.16" height="5.12" fill="#badaea"/><rect x="450.92" y="54.76" width="13.16" height="5.12" fill="#fee99e"/><rect x="464.08" y="54.76" width="13.16" height="5.12" fill="#feeda3"/><rect x="477.24" y="54.76" width="13.16" height="5.12" fill="#fee292"/><rect x="490.40" y="54.76" width="13.16" height="5.12" fill="#fee698"/><rect x="503.56" y="54.76" width="13.16" height="5.12" fill="#c3e0ed"/><rect x="516.72" y="54.76" width="13.16" height="5.12" fill="#fdb473"/><rect x="424.60" y="59.88" width="13.16" height="5.12" fill="#fff6b1"/><rect x="437.76" y="59.88" width="13.16" height="5.12" fill="#c3e0ed"/><rect x="450.92" y="59.88" width="13.16" height="5.12" fill="#a7cde3"/><rect x="464.08" y="59.88" width="13.16" height="5.12" fill="#d7edf5"/><rect x="477.24" y="59.88" width="13.16" height="5.12" fill="#fa8957"/><rect x="490.40" y="59.88" width="13.16" height="5.12" fill="#fff3ad"/><rect x="503.56" y="59.88" width="13.16" height="5.12" fill="#fee292"/><rect x="516.72" y="59.88" width="13.16" height="5.12" fill="#fee99e"/><rect x="424.60" y="64.99" width="13.16" height="5.12" fill="#f1fad8"/><rect x="437.76" y="64.99" width="13.16" height="5.12" fill="#f1fad8"/><rect x="450.92" y="64.99" width="13.16" height="5.12" fill="#fdc17b"/><rect x="464.08" y="64.99" width="13.16" height="5.12" fill="#f1fad8"/><rect x="477.24" y="64.99" width="13.16" height="5.12" fill="#f1fad8"/><rect x="490.40" y="64.99" width="13.16" height="5.12" fill="#f1fad8"/><rect x="503.56" y="64.99" width="13.16" height="5.12" fill="#dd402f"/><rect x="516.72" y="64.99" width="13.16" height="5.12" fill="#f1fad8"/><rect x="424.60" y="70.10" width="13.16" height="5.12" fill="#fff3ad"/><rect x="437.76" y="70.10" width="13.16" height="5.12" fill="#e5f5ef"/><rect x="450.92" y="70.10" width="13.16" height="5.12" fill="#badaea"/><rect x="464.08" y="70.10" width="13.16" height="5.12" fill="#b0d4e6"/><rect x="477.24" y="70.10" width="13.16" height="5.12" fill="#fa8957"/><rect x="490.40" y="70.10" width="13.16" height="5.12" fill="#feeda3"/><rect x="503.56" y="70.10" width="13.16" height="5.12" fill="#fee698"/><rect x="516.72" y="70.10" width="13.16" height="5.12" fill="#fee99e"/><rect x="424.60" y="75.22" width="13.16" height="5.12" fill="#feeda3"/><rect x="437.76" y="75.22" width="13.16" height="5.12" fill="#cde7f1"/><rect x="450.92" y="75.22" width="13.16" height="5.12" fill="#a7cde3"/><rect x="464.08" y="75.22" width="13.16" height="5.12" fill="#c3e0ed"/><rect x="477.24" y="75.22" width="13.16" height="5.12" fill="#fdb473"/><rect x="490.40" y="75.22" width="13.16" height="5.12" fill="#fee99e"/><rect x="503.56" y="75.22" width="13.16" height="5.12" fill="#fee99e"/><rect x="516.72" y="75.22" width="13.16" height="5.12" fill="#fee698"/><rect x="424.60" y="80.34" width="13.16" height="5.12" fill="#fff3ad"/><rect x="437.76" y="80.34" width="13.16" height="5.12" fill="#d7edf5"/><rect x="450.92" y="80.34" width="13.16" height="5.12" fill="#b0d4e6"/><rect x="464.08" y="80.34" width="13.16" height="5.12" fill="#c3e0ed"/><rect x="477.24" y="80.34" width="13.16" height="5.12" fill="#fda66a"/><rect x="490.40" y="80.34" width="13.16" height="5.12" fill="#fdc17b"/><rect x="503.56" y="80.34" width="13.16" height="5.12" fill="#fff6b1"/><rect x="516.72" y="80.34" width="13.16" height="5.12" fill="#feeda3"/><rect x="424.60" y="85.45" width="13.16" height="5.12" fill="#fee292"/><rect x="437.76" y="85.45" width="13.16" height="5.12" fill="#f1fad8"/><rect x="450.92" y="85.45" width="13.16" height="5.12" fill="#fffdbc"/><rect x="464.08" y="85.45" width="13.16" height="5.12" fill="#85b3d5"/><rect x="477.24" y="85.45" width="13.16" height="5.12" fill="#ffffbf"/><rect x="490.40" y="85.45" width="13.16" height="5.12" fill="#fffdbc"/><rect x="503.56" y="85.45" width="13.16" height="5.12" fill="#feeda3"/><rect x="516.72" y="85.45" width="13.16" height="5.12" fill="#f3784d"/><rect x="424.60" y="90.56" width="13.16" height="5.12" fill="#e9f6e8"/><rect x="437.76" y="90.56" width="13.16" height="5.12" fill="#c3e0ed"/><rect x="450.92" y="90.56" width="13.16" height="5.12" fill="#f1fad8"/><rect x="464.08" y="90.56" width="13.16" height="5.12" fill="#d7edf5"/><rect x="477.24" y="90.56" width="13.16" height="5.12" fill="#fc9860"/><rect x="490.40" y="90.56" width="13.16" height="5.12" fill="#fff0a8"/><rect x="503.56" y="90.56" width="13.16" height="5.12" fill="#fff9b5"/><rect x="516.72" y="90.56" width="13.16" height="5.12" fill="#f3784d"/><rect x="424.60" y="95.68" width="13.16" height="5.12" fill="#fff9b5"/><rect x="437.76" y="95.68" width="13.16" height="5.12" fill="#b0d4e6"/><rect x="450.92" y="95.68" width="13.16" height="5.12" fill="#e5f5ef"/><rect x="464.08" y="95.68" width="13.16" height="5.12" fill="#cde7f1"/><rect x="477.24" y="95.68" width="13.16" height="5.12" fill="#fda66a"/><rect x="490.40" y="95.68" width="13.16" height="5.12" fill="#fdc17b"/><rect x="503.56" y="95.68" width="13.16" height="5.12" fill="#fff9b5"/><rect x="516.72" y="95.68" width="13.16" height="5.12" fill="#fecd84"/><rect x="424.60" y="100.80" width="13.16" height="5.12" fill="#f1fad8"/><rect x="437.76" y="100.80" width="13.16" height="5.12" fill="#badaea"/><rect x="450.92" y="100.80" width="13.16" height="5.12" fill="#fff9b5"/><rect x="464.08" y="100.80" width="13.16" height="5.12" fill="#e5f5ef"/><rect x="477.24" y="100.80" width="13.16" height="5.12" fill="#fffdbc"/><rect x="490.40" y="100.80" width="13.16" height="5.12" fill="#dd402f"/><rect x="503.56" y="100.80" width="13.16" height="5.12" fill="#fff0a8"/><rect x="516.72" y="100.80" width="13.16" height="5.12" fill="#fee292"/><rect x="424.60" y="105.91" width="13.16" height="5.12" fill="#c3e0ed"/><rect x="437.76" y="105.91" width="13.16" height="5.12" fill="#badaea"/><rect x="450.92" y="105.91" width="13.16" height="5.12" fill="#e9f6e8"/><rect x="464.08" y="105.91" width="13.16" height="5.12" fill="#f1fad8"/><rect x="477.24" y="105.91" width="13.16" height="5.12" fill="#fdc17b"/><rect x="490.40" y="105.91" width="13.16" height="5.12" fill="#fee292"/><rect x="503.56" y="105.91" width="13.16" height="5.12" fill="#feeda3"/><rect x="516.72" y="105.91" width="13.16" height="5.12" fill="#fa8957"/><rect x="424.60" y="111.03" width="13.16" height="5.12" fill="#fee698"/><rect x="437.76" y="111.03" width="13.16" height="5.12" fill="#e5f5ef"/><rect x="450.92" y="111.03" width="13.16" height="5.12" fill="#6695c5"/><rect x="464.08" y="111.03" width="13.16" height="5.12" fill="#feeda3"/><rect x="477.24" y="111.03" width="13.16" height="5.12" fill="#fed98b"/><rect x="490.40" y="111.03" width="13.16" height="5.12" fill="#fee292"/><rect x="503.56" y="111.03" width="13.16" height="5.12" fill="#fff3ad"/><rect x="516.72" y="111.03" width="13.16" height="5.12" fill="#fecd84"/><rect x="424.60" y="116.14" width="13.16" height="5.12" fill="#f1fad8"/><rect x="437.76" y="116.14" width="13.16" height="5.12" fill="#c3e0ed"/><rect x="450.92" y="116.14" width="13.16" height="5.12" fill="#f1fad8"/><rect x="464.08" y="116.14" width="13.16" height="5.12" fill="#b0d4e6"/><rect x="477.24" y="116.14" width="13.16" height="5.12" fill="#fed98b"/><rect x="490.40" y="116.14" width="13.16" height="5.12" fill="#fee698"/><rect x="503.56" y="116.14" width="13.16" height="5.12" fill="#fff0a8"/><rect x="516.72" y="116.14" width="13.16" height="5.12" fill="#fda66a"/><rect x="424.60" y="121.25" width="13.16" height="5.12" fill="#f1fad8"/><rect x="437.76" y="121.25" width="13.16" height="5.12" fill="#b0d4e6"/><rect x="450.92" y="121.25" width="13.16" height="5.12" fill="#fff9b5"/><rect x="464.08" y="121.25" width="13.16" height="5.12" fill="#f1fad8"/><rect x="477.24" y="121.25" width="13.16" height="5.12" fill="#fee698"/><rect x="490.40" y="121.25" width="13.16" height="5.12" fill="#fc9860"/><rect x="503.56" y="121.25" width="13.16" height="5.12" fill="#fff6b1"/><rect x="516.72" y="121.25" width="13.16" height="5.12" fill="#fdc17b"/><rect x="424.60" y="126.37" width="13.16" height="5.12" fill="#e5f5ef"/><rect x="437.76" y="126.37" width="13.16" height="5.12" fill="#cde7f1"/><rect x="450.92" y="126.37" width="13.16" height="5.12" fill="#c3e0ed"/><rect x="464.08" y="126.37" width="13.16" height="5.12" fill="#f6fbd0"/><rect x="477.24" y="126.37" width="13.16" height="5.12" fill="#ec6644"/><rect x="490.40" y="126.37" width="13.16" height="5.12" fill="#fff9b5"/><rect x="503.56" y="126.37" width="13.16" height="5.12" fill="#fee99e"/><rect x="516.72" y="126.37" width="13.16" height="5.12" fill="#fed98b"/><rect x="424.60" y="131.49" width="13.16" height="5.12" fill="#9ac5de"/><rect x="437.76" y="131.49" width="13.16" height="5.12" fill="#d1e9f2"/><rect x="450.92" y="131.49" width="13.16" height="5.12" fill="#f4fbd4"/><rect x="464.08" y="131.49" width="13.16" height="5.12" fill="#eef9de"/><rect x="477.24" y="131.49" width="13.16" height="5.12" fill="#fee698"/><rect x="490.40" y="131.49" width="13.16" height="5.12" fill="#feeda3"/><rect x="503.56" y="131.49" width="13.16" height="5.12" fill="#fff0a8"/><rect x="516.72" y="131.49" width="13.16" height="5.12" fill="#ec6644"/><rect x="424.60" y="136.60" width="13.16" height="5.12" fill="#f4fbd4"/><rect x="437.76" y="136.60" width="13.16" height="5.12" fill="#d1e9f2"/><rect x="450.92" y="136.60" width="13.16" height="5.12" fill="#a4cce2"/><rect x="464.08" y="136.60" width="13.16" height="5.12" fill="#e4f4f1"/><rect x="477.24" y="136.60" width="13.16" height="5.12" fill="#ec6644"/><rect x="490.40" y="136.60" width="13.16" height="5.12" fill="#fff0a8"/><rect x="503.56" y="136.60" width="13.16" height="5.12" fill="#fff3ad"/><rect x="516.72" y="136.60" width="13.16" height="5.12" fill="#fee698"/><rect x="424.60" y="141.72" width="13.16" height="5.12" fill="#fffbb9"/><rect x="437.76" y="141.72" width="13.16" height="5.12" fill="#fffdbc"/><rect x="450.92" y="141.72" width="13.16" height="5.12" fill="#e9f6e8"/><rect x="464.08" y="141.72" width="13.16" height="5.12" fill="#90bedb"/><rect x="477.24" y="141.72" width="13.16" height="5.12" fill="#e5533a"/><rect x="490.40" y="141.72" width="13.16" height="5.12" fill="#fffbb9"/><rect x="503.56" y="141.72" width="13.16" height="5.12" fill="#fee698"/><rect x="516.72" y="141.72" width="13.16" height="5.12" fill="#ffffbf"/><rect x="424.60" y="146.83" width="13.16" height="5.12" fill="#fee99e"/><rect x="437.76" y="146.83" width="13.16" height="5.12" fill="#e9f6e8"/><rect x="450.92" y="146.83" width="13.16" height="5.12" fill="#5483bb"/><rect x="464.08" y="146.83" width="13.16" height="5.12" fill="#fff9b5"/><rect x="477.24" y="146.83" width="13.16" height="5.12" fill="#fed98b"/><rect x="490.40" y="146.83" width="13.16" height="5.12" fill="#fed98b"/><rect x="503.56" y="146.83" width="13.16" height="5.12" fill="#fff0a8"/><rect x="516.72" y="146.83" width="13.16" height="5.12" fill="#fff6b1"/><rect x="424.60" y="151.94" width="13.16" height="5.12" fill="#f4fbd4"/><rect x="437.76" y="151.94" width="13.16" height="5.12" fill="#afd3e6"/><rect x="450.92" y="151.94" width="13.16" height="5.12" fill="#badaea"/><rect x="464.08" y="151.94" width="13.16" height="5.12" fill="#fffbb9"/><rect x="477.24" y="151.94" width="13.16" height="5.12" fill="#d73027"/><rect x="490.40" y="151.94" width="13.16" height="5.12" fill="#fffbb9"/><rect x="503.56" y="151.94" width="13.16" height="5.12" fill="#feeda3"/><rect x="516.72" y="151.94" width="13.16" height="5.12" fill="#fff0a8"/><rect x="424.60" y="157.06" width="13.16" height="5.12" fill="#fee99e"/><rect x="437.76" y="157.06" width="13.16" height="5.12" fill="#fff3ad"/><rect x="450.92" y="157.06" width="13.16" height="5.12" fill="#fff6b1"/><rect x="464.08" y="157.06" width="13.16" height="5.12" fill="#5a89bf"/><rect x="477.24" y="157.06" width="13.16" height="5.12" fill="#fee698"/><rect x="490.40" y="157.06" width="13.16" height="5.12" fill="#ddf1f7"/><rect x="503.56" y="157.06" width="13.16" height="5.12" fill="#fdb473"/><rect x="516.72" y="157.06" width="13.16" height="5.12" fill="#feeda3"/><rect x="424.60" y="162.18" width="13.16" height="5.12" fill="#e4f4f1"/><rect x="437.76" y="162.18" width="13.16" height="5.12" fill="#c5e1ee"/><rect x="450.92" y="162.18" width="13.16" height="5.12" fill="#a4cce2"/><rect x="464.08" y="162.18" width="13.16" height="5.12" fill="#e9f6e8"/><rect x="477.24" y="162.18" width="13.16" height="5.12" fill="#fecd84"/><rect x="490.40" y="162.18" width="13.16" height="5.12" fill="#fee99e"/><rect x="503.56" y="162.18" width="13.16" height="5.12" fill="#fee698"/><rect x="516.72" y="162.18" width="13.16" height="5.12" fill="#fda66a"/><rect x="424.60" y="167.29" width="13.16" height="5.12" fill="#ddf1f7"/><rect x="437.76" y="167.29" width="13.16" height="5.12" fill="#a4cce2"/><rect x="450.92" y="167.29" width="13.16" height="5.12" fill="#ddf1f7"/><rect x="464.08" y="167.29" width="13.16" height="5.12" fill="#eef9de"/><rect x="477.24" y="167.29" width="13.16" height="5.12" fill="#fa8957"/><rect x="490.40" y="167.29" width="13.16" height="5.12" fill="#fee698"/><rect x="503.56" y="167.29" width="13.16" height="5.12" fill="#fee99e"/><rect x="516.72" y="167.29" width="13.16" height="5.12" fill="#fee698"/><rect x="424.60" y="172.41" width="13.16" height="5.12" fill="#fffdbc"/><rect x="437.76" y="172.41" width="13.16" height="5.12" fill="#d1e9f2"/><rect x="450.92" y="172.41" width="13.16" height="5.12" fill="#afd3e6"/><rect x="464.08" y="172.41" width="13.16" height="5.12" fill="#badaea"/><rect x="477.24" y="172.41" width="13.16" height="5.12" fill="#fc9860"/><rect x="490.40" y="172.41" width="13.16" height="5.12" fill="#fecd84"/><rect x="503.56" y="172.41" width="13.16" height="5.12" fill="#fff3ad"/><rect x="516.72" y="172.41" width="13.16" height="5.12" fill="#fed98b"/><rect x="424.60" y="177.52" width="13.16" height="5.12" fill="#9ac5de"/><rect x="437.76" y="177.52" width="13.16" height="5.12" fill="#c5e1ee"/><rect x="450.92" y="177.52" width="13.16" height="5.12" fill="#eef9de"/><rect x="464.08" y="177.52" width="13.16" height="5.12" fill="#f4fbd4"/><rect x="477.24" y="177.52" width="13.16" height="5.12" fill="#fdc17b"/><rect x="490.40" y="177.52" width="13.16" height="5.12" fill="#fdc17b"/><rect x="503.56" y="177.52" width="13.16" height="5.12" fill="#fff6b1"/><rect x="516.72" y="177.52" width="13.16" height="5.12" fill="#fdc17b"/><rect x="424.60" y="182.63" width="13.16" height="5.12" fill="#e4f4f1"/><rect x="437.76" y="182.63" width="13.16" height="5.12" fill="#d1e9f2"/><rect x="450.92" y="182.63" width="13.16" height="5.12" fill="#87b6d6"/><rect x="464.08" y="182.63" width="13.16" height="5.12" fill="#fee99e"/><rect x="477.24" y="182.63" width="13.16" height="5.12" fill="#fda66a"/><rect x="490.40" y="182.63" width="13.16" height="5.12" fill="#fff9b5"/><rect x="503.56" y="182.63" width="13.16" height="5.12" fill="#fee99e"/><rect x="516.72" y="182.63" width="13.16" height="5.12" fill="#fee698"/><rect x="424.60" y="187.75" width="13.16" height="5.12" fill="#eef9de"/><rect x="437.76" y="187.75" width="13.16" height="5.12" fill="#87b6d6"/><rect x="450.92" y="187.75" width="13.16" height="5.12" fill="#feeda3"/><rect x="464.08" y="187.75" width="13.16" height="5.12" fill="#badaea"/><rect x="477.24" y="187.75" width="13.16" height="5.12" fill="#fa8957"/><rect x="490.40" y="187.75" width="13.16" height="5.12" fill="#feeda3"/><rect x="503.56" y="187.75" width="13.16" height="5.12" fill="#fee99e"/><rect x="516.72" y="187.75" width="13.16" height="5.12" fill="#fee698"/><rect x="424.60" y="192.87" width="13.16" height="5.12" fill="#fffbb9"/><rect x="437.76" y="192.87" width="13.16" height="5.12" fill="#fff9b5"/><rect x="450.92" y="192.87" width="13.16" height="5.12" fill="#9ac5de"/><rect x="464.08" y="192.87" width="13.16" height="5.12" fill="#f4fbd4"/><rect x="477.24" y="192.87" width="13.16" height="5.12" fill="#d73027"/><rect x="490.40" y="192.87" width="13.16" height="5.12" fill="#fff6b1"/><rect x="503.56" y="192.87" width="13.16" height="5.12" fill="#fffdbc"/><rect x="516.72" y="192.87" width="13.16" height="5.12" fill="#fee698"/><rect x="424.60" y="197.98" width="13.16" height="5.12" fill="#afd3e6"/><rect x="437.76" y="197.98" width="13.16" height="5.12" fill="#afd3e6"/><rect x="450.92" y="197.98" width="13.16" height="5.12" fill="#f9fdca"/><rect x="464.08" y="197.98" width="13.16" height="5.12" fill="#f4fbd4"/><rect x="477.24" y="197.98" width="13.16" height="5.12" fill="#fee292"/><rect x="490.40" y="197.98" width="13.16" height="5.12" fill="#fdb473"/><rect x="503.56" y="197.98" width="13.16" height="5.12" fill="#fff0a8"/><rect x="516.72" y="197.98" width="13.16" height="5.12" fill="#fda66a"/><rect x="424.60" y="203.10" width="13.16" height="5.12" fill="#d1e9f2"/><rect x="437.76" y="203.10" width="13.16" height="5.12" fill="#afd3e6"/><rect x="450.92" y="203.10" width="13.16" height="5.12" fill="#c5e1ee"/><rect x="464.08" y="203.10" width="13.16" height="5.12" fill="#eef9de"/><rect x="477.24" y="203.10" width="13.16" height="5.12" fill="#fda66a"/><rect x="490.40" y="203.10" width="13.16" height="5.12" fill="#fee698"/><rect x="503.56" y="203.10" width="13.16" height="5.12" fill="#fee99e"/><rect x="516.72" y="203.10" width="13.16" height="5.12" fill="#fdc17b"/><rect x="424.60" y="208.21" width="13.16" height="5.12" fill="#d1e9f2"/><rect x="437.76" y="208.21" width="13.16" height="5.12" fill="#badaea"/><rect x="450.92" y="208.21" width="13.16" height="5.12" fill="#fffbb9"/><rect x="464.08" y="208.21" width="13.16" height="5.12" fill="#afd3e6"/><rect x="477.24" y="208.21" width="13.16" height="5.12" fill="#fda66a"/><rect x="490.40" y="208.21" width="13.16" height="5.12" fill="#fee698"/><rect x="503.56" y="208.21" width="13.16" height="5.12" fill="#fff6b1"/><rect x="516.72" y="208.21" width="13.16" height="5.12" fill="#fecd84"/><rect x="424.60" y="213.32" width="13.16" height="5.12" fill="#e9f6e8"/><rect x="437.76" y="213.32" width="13.16" height="5.12" fill="#afd3e6"/><rect x="450.92" y="213.32" width="13.16" height="5.12" fill="#badaea"/><rect x="464.08" y="213.32" width="13.16" height="5.12" fill="#e4f4f1"/><rect x="477.24" y="213.32" width="13.16" height="5.12" fill="#fda66a"/><rect x="490.40" y="213.32" width="13.16" height="5.12" fill="#fee698"/><rect x="503.56" y="213.32" width="13.16" height="5.12" fill="#feeda3"/><rect x="516.72" y="213.32" width="13.16" height="5.12" fill="#fecd84"/><rect x="424.60" y="218.44" width="13.16" height="5.12" fill="#afd3e6"/><rect x="437.76" y="218.44" width="13.16" height="5.12" fill="#badaea"/><rect x="450.92" y="218.44" width="13.16" height="5.12" fill="#d1e9f2"/><rect x="464.08" y="218.44" width="13.16" height="5.12" fill="#fff9b5"/><rect x="477.24" y="218.44" width="13.16" height="5.12" fill="#fee292"/><rect x="490.40" y="218.44" width="13.16" height="5.12" fill="#fa8957"/><rect x="503.56" y="218.44" width="13.16" height="5.12" fill="#fff0a8"/><rect x="516.72" y="218.44" width="13.16" height="5.12" fill="#fee99e"/><rect x="424.60" y="223.56" width="13.16" height="5.12" fill="#eef9de"/><rect x="437.76" y="223.56" width="13.16" height="5.12" fill="#a4cce2"/><rect x="450.92" y="223.56" width="13.16" height="5.12" fill="#d1e9f2"/><rect x="464.08" y="223.56" width="13.16" height="5.12" fill="#f4fbd4"/><rect x="477.24" y="223.56" width="13.16" height="5.12" fill="#fdb473"/><rect x="490.40" y="223.56" width="13.16" height="5.12" fill="#fee292"/><rect x="503.56" y="223.56" width="13.16" height="5.12" fill="#fff6b1"/><rect x="516.72" y="223.56" width="13.16" height="5.12" fill="#fed98b"/><rect x="424.60" y="228.67" width="13.16" height="5.12" fill="#f4fbd4"/><rect x="437.76" y="228.67" width="13.16" height="5.12" fill="#eef9de"/><rect x="450.92" y="228.67" width="13.16" height="5.12" fill="#a4cce2"/><rect x="464.08" y="228.67" width="13.16" height="5.12" fill="#badaea"/><rect x="477.24" y="228.67" width="13.16" height="5.12" fill="#f3784d"/><rect x="490.40" y="228.67" width="13.16" height="5.12" fill="#feeda3"/><rect x="503.56" y="228.67" width="13.16" height="5.12" fill="#feeda3"/><rect x="516.72" y="228.67" width="13.16" height="5.12" fill="#fed98b"/><rect x="424.60" y="233.79" width="13.16" height="5.12" fill="#ddf1f7"/><rect x="437.76" y="233.79" width="13.16" height="5.12" fill="#d1e9f2"/><rect x="450.92" y="233.79" width="13.16" height="5.12" fill="#badaea"/><rect x="464.08" y="233.79" width="13.16" height="5.12" fill="#eef9de"/><rect x="477.24" y="233.79" width="13.16" height="5.12" fill="#ec6644"/><rect x="490.40" y="233.79" width="13.16" height="5.12" fill="#fff6b1"/><rect x="503.56" y="233.79" width="13.16" height="5.12" fill="#fff0a8"/><rect x="516.72" y="233.79" width="13.16" height="5.12" fill="#fdb473"/><rect x="424.60" y="238.90" width="13.16" height="5.12" fill="#fff6b1"/><rect x="437.76" y="238.90" width="13.16" height="5.12" fill="#badaea"/><rect x="450.92" y="238.90" width="13.16" height="5.12" fill="#a4cce2"/><rect x="464.08" y="238.90" width="13.16" height="5.12" fill="#e4f4f1"/><rect x="477.24" y="238.90" width="13.16" height="5.12" fill="#ec6644"/><rect x="490.40" y="238.90" width="13.16" height="5.12" fill="#fff0a8"/><rect x="503.56" y="238.90" width="13.16" height="5.12" fill="#fff3ad"/><rect x="516.72" y="238.90" width="13.16" height="5.12" fill="#fee698"/><rect x="424.60" y="244.01" width="13.16" height="5.12" fill="#e4f4f1"/><rect x="437.76" y="244.01" width="13.16" height="5.12" fill="#a4cce2"/><rect x="450.92" y="244.01" width="13.16" height="5.12" fill="#f4fbd4"/><rect x="464.08" y="244.01" width="13.16" height="5.12" fill="#d1e9f2"/><rect x="477.24" y="244.01" width="13.16" height="5.12" fill="#f3784d"/><rect x="490.40" y="244.01" width="13.16" height="5.12" fill="#fed98b"/><rect x="503.56" y="244.01" width="13.16" height="5.12" fill="#fff3ad"/><rect x="516.72" y="244.01" width="13.16" height="5.12" fill="#feeda3"/><rect x="424.60" y="249.13" width="13.16" height="5.12" fill="#afd3e6"/><rect x="437.76" y="249.13" width="13.16" height="5.12" fill="#a4cce2"/><rect x="450.92" y="249.13" width="13.16" height="5.12" fill="#ddf1f7"/><rect x="464.08" y="249.13" width="13.16" height="5.12" fill="#fee99e"/><rect x="477.24" y="249.13" width="13.16" height="5.12" fill="#fed98b"/><rect x="490.40" y="249.13" width="13.16" height="5.12" fill="#fdc17b"/><rect x="503.56" y="249.13" width="13.16" height="5.12" fill="#feeda3"/><rect x="516.72" y="249.13" width="13.16" height="5.12" fill="#fecd84"/><rect x="424.60" y="254.25" width="13.16" height="5.12" fill="#fee99e"/><rect x="437.76" y="254.25" width="13.16" height="5.12" fill="#afd3e6"/><rect x="450.92" y="254.25" width="13.16" height="5.12" fill="#afd3e6"/><rect x="464.08" y="254.25" width="13.16" height="5.12" fill="#eef9de"/><rect x="477.24" y="254.25" width="13.16" height="5.12" fill="#fa8957"/><rect x="490.40" y="254.25" width="13.16" height="5.12" fill="#fee698"/><rect x="503.56" y="254.25" width="13.16" height="5.12" fill="#fee292"/><rect x="516.72" y="254.25" width="13.16" height="5.12" fill="#f4fbd4"/><rect x="424.60" y="259.36" width="13.16" height="5.12" fill="#badaea"/><rect x="437.76" y="259.36" width="13.16" height="5.12" fill="#9ac5de"/><rect x="450.92" y="259.36" width="13.16" height="5.12" fill="#fff9b5"/><rect x="464.08" y="259.36" width="13.16" height="5.12" fill="#eef9de"/><rect x="477.24" y="259.36" width="13.16" height="5.12" fill="#fed98b"/><rect x="490.40" y="259.36" width="13.16" height="5.12" fill="#fed98b"/><rect x="503.56" y="259.36" width="13.16" height="5.12" fill="#fff0a8"/><rect x="516.72" y="259.36" width="13.16" height="5.12" fill="#fda66a"/><rect x="424.60" y="264.48" width="13.16" height="5.12" fill="#fff6b1"/><rect x="437.76" y="264.48" width="13.16" height="5.12" fill="#afd3e6"/><rect x="450.92" y="264.48" width="13.16" height="5.12" fill="#c5e1ee"/><rect x="464.08" y="264.48" width="13.16" height="5.12" fill="#e4f4f1"/><rect x="477.24" y="264.48" width="13.16" height="5.12" fill="#ec6644"/><rect x="490.40" y="264.48" width="13.16" height="5.12" fill="#fee99e"/><rect x="503.56" y="264.48" width="13.16" height="5.12" fill="#fee99e"/><rect x="516.72" y="264.48" width="13.16" height="5.12" fill="#fee292"/><rect x="424.60" y="269.59" width="13.16" height="5.12" fill="#5a89bf"/><rect x="437.76" y="269.59" width="13.16" height="5.12" fill="#fffbb9"/><rect x="450.92" y="269.59" width="13.16" height="5.12" fill="#f4fbd4"/><rect x="464.08" y="269.59" width="13.16" height="5.12" fill="#fee292"/><rect x="477.24" y="269.59" width="13.16" height="5.12" fill="#fdb473"/><rect x="490.40" y="269.59" width="13.16" height="5.12" fill="#fee698"/><rect x="503.56" y="269.59" width="13.16" height="5.12" fill="#fff0a8"/><rect x="516.72" y="269.59" width="13.16" height="5.12" fill="#fff3ad"/><rect x="424.60" y="274.70" width="13.16" height="5.12" fill="#e4f4f1"/><rect x="437.76" y="274.70" width="13.16" height="5.12" fill="#9ac5de"/><rect x="450.92" y="274.70" width="13.16" height="5.12" fill="#eef9de"/><rect x="464.08" y="274.70" width="13.16" height="5.12" fill="#e4f4f1"/><rect x="477.24" y="274.70" width="13.16" height="5.12" fill="#fee292"/><rect x="490.40" y="274.70" width="13.16" height="5.12" fill="#fecd84"/><rect x="503.56" y="274.70" width="13.16" height="5.12" fill="#fff3ad"/><rect x="516.72" y="274.70" width="13.16" height="5.12" fill="#ec6644"/><rect x="424.60" y="279.82" width="13.16" height="5.12" fill="#ddf1f7"/><rect x="437.76" y="279.82" width="13.16" height="5.12" fill="#fff9b5"/><rect x="450.92" y="279.82" width="13.16" height="5.12" fill="#9ac5de"/><rect x="464.08" y="279.82" width="13.16" height="5.12" fill="#e4f4f1"/><rect x="477.24" y="279.82" width="13.16" height="5.12" fill="#fee292"/><rect x="490.40" y="279.82" width="13.16" height="5.12" fill="#fc9860"/><rect x="503.56" y="279.82" width="13.16" height="5.12" fill="#fff6b1"/><rect x="516.72" y="279.82" width="13.16" height="5.12" fill="#fdb473"/><rect x="424.60" y="284.94" width="13.16" height="5.12" fill="#f4fbd4"/><rect x="437.76" y="284.94" width="13.16" height="5.12" fill="#d1e9f2"/><rect x="450.92" y="284.94" width="13.16" height="5.12" fill="#a4cce2"/><rect x="464.08" y="284.94" width="13.16" height="5.12" fill="#c5e1ee"/><rect x="477.24" y="284.94" width="13.16" height="5.12" fill="#fdb473"/><rect x="490.40" y="284.94" width="13.16" height="5.12" fill="#fee698"/><rect x="503.56" y="284.94" width="13.16" height="5.12" fill="#fee698"/><rect x="516.72" y="284.94" width="13.16" height="5.12" fill="#fed98b"/><rect x="424.60" y="290.05" width="13.16" height="5.12" fill="#badaea"/><rect x="437.76" y="290.05" width="13.16" height="5.12" fill="#eef9de"/><rect x="450.92" y="290.05" width="13.16" height="5.12" fill="#ddf1f7"/><rect x="464.08" y="290.05" width="13.16" height="5.12" fill="#eef9de"/><rect x="477.24" y="290.05" width="13.16" height="5.12" fill="#f3784d"/><rect x="490.40" y="290.05" width="13.16" height="5.12" fill="#f9fdca"/><rect x="503.56" y="290.05" width="13.16" height="5.12" fill="#fff0a8"/><rect x="516.72" y="290.05" width="13.16" height="5.12" fill="#fc9860"/><rect x="424.60" y="295.17" width="13.16" height="5.12" fill="#e9f6e8"/><rect x="437.76" y="295.17" width="13.16" height="5.12" fill="#d1e9f2"/><rect x="450.92" y="295.17" width="13.16" height="5.12" fill="#ddf1f7"/><rect x="464.08" y="295.17" width="13.16" height="5.12" fill="#badaea"/><rect x="477.24" y="295.17" width="13.16" height="5.12" fill="#fdb473"/><rect x="490.40" y="295.17" width="13.16" height="5.12" fill="#fff0a8"/><rect x="503.56" y="295.17" width="13.16" height="5.12" fill="#fee99e"/><rect x="516.72" y="295.17" width="13.16" height="5.12" fill="#fdc17b"/><rect x="424.60" y="300.28" width="13.16" height="5.12" fill="#fff6b1"/><rect x="437.76" y="300.28" width="13.16" height="5.12" fill="#badaea"/><rect x="450.92" y="300.28" width="13.16" height="5.12" fill="#9ac5de"/><rect x="464.08" y="300.28" width="13.16" height="5.12" fill="#eef9de"/><rect x="477.24" y="300.28" width="13.16" height="5.12" fill="#ec6644"/><rect x="490.40" y="300.28" width="13.16" height="5.12" fill="#fff0a8"/><rect x="503.56" y="300.28" width="13.16" height="5.12" fill="#feeda3"/><rect x="516.72" y="300.28" width="13.16" height="5.12" fill="#fee292"/><rect x="424.60" y="305.40" width="13.16" height="5.12" fill="#fff0a8"/><rect x="437.76" y="305.40" width="13.16" height="5.12" fill="#badaea"/><rect x="450.92" y="305.40" width="13.16" height="5.12" fill="#badaea"/><rect x="464.08" y="305.40" width="13.16" height="5.12" fill="#afd3e6"/><rect x="477.24" y="305.40" width="13.16" height="5.12" fill="#fdc17b"/><rect x="490.40" y="305.40" width="13.16" height="5.12" fill="#fecd84"/><rect x="503.56" y="305.40" width="13.16" height="5.12" fill="#fffbb9"/><rect x="516.72" y="305.40" width="13.16" height="5.12" fill="#fecd84"/><rect x="424.60" y="310.51" width="13.16" height="5.12" fill="#eef9de"/><rect x="437.76" y="310.51" width="13.16" height="5.12" fill="#c5e1ee"/><rect x="450.92" y="310.51" width="13.16" height="5.12" fill="#9ac5de"/><rect x="464.08" y="310.51" width="13.16" height="5.12" fill="#e9f6e8"/><rect x="477.24" y="310.51" width="13.16" height="5.12" fill="#f3784d"/><rect x="490.40" y="310.51" width="13.16" height="5.12" fill="#fff0a8"/><rect x="503.56" y="310.51" width="13.16" height="5.12" fill="#feeda3"/><rect x="516.72" y="310.51" width="13.16" height="5.12" fill="#fee698"/><rect x="424.60" y="315.62" width="13.16" height="5.12" fill="#f4fbd4"/><rect x="437.76" y="315.62" width="13.16" height="5.12" fill="#c5e1ee"/><rect x="450.92" y="315.62" width="13.16" height="5.12" fill="#badaea"/><rect x="464.08" y="315.62" width="13.16" height="5.12" fill="#ddf1f7"/><rect x="477.24" y="315.62" width="13.16" height="5.12" fill="#f3784d"/><rect x="490.40" y="315.62" width="13.16" height="5.12" fill="#fee698"/><rect x="503.56" y="315.62" width="13.16" height="5.12" fill="#feeda3"/><rect x="516.72" y="315.62" width="13.16" height="5.12" fill="#feeda3"/><rect x="424.60" y="320.74" width="13.16" height="5.12" fill="#feeda3"/><rect x="437.76" y="320.74" width="13.16" height="5.12" fill="#e9f6e8"/><rect x="450.92" y="320.74" width="13.16" height="5.12" fill="#9ac5de"/><rect x="464.08" y="320.74" width="13.16" height="5.12" fill="#c5e1ee"/><rect x="477.24" y="320.74" width="13.16" height="5.12" fill="#fc9860"/><rect x="490.40" y="320.74" width="13.16" height="5.12" fill="#e9f6e8"/><rect x="503.56" y="320.74" width="13.16" height="5.12" fill="#feeda3"/><rect x="516.72" y="320.74" width="13.16" height="5.12" fill="#fdc17b"/><rect x="424.60" y="325.86" width="13.16" height="5.12" fill="#fee99e"/><rect x="437.76" y="325.86" width="13.16" height="5.12" fill="#d1e9f2"/><rect x="450.92" y="325.86" width="13.16" height="5.12" fill="#a4cce2"/><rect x="464.08" y="325.86" width="13.16" height="5.12" fill="#ddf1f7"/><rect x="477.24" y="325.86" width="13.16" height="5.12" fill="#e5533a"/><rect x="490.40" y="325.86" width="13.16" height="5.12" fill="#fff6b1"/><rect x="503.56" y="325.86" width="13.16" height="5.12" fill="#fee99e"/><rect x="516.72" y="325.86" width="13.16" height="5.12" fill="#fff3ad"/><rect x="424.60" y="330.97" width="13.16" height="5.12" fill="#ddf1f7"/><rect x="437.76" y="330.97" width="13.16" height="5.12" fill="#c5e1ee"/><rect x="450.92" y="330.97" width="13.16" height="5.12" fill="#afd3e6"/><rect x="464.08" y="330.97" width="13.16" height="5.12" fill="#fff9b5"/><rect x="477.24" y="330.97" width="13.16" height="5.12" fill="#ec6644"/><rect x="490.40" y="330.97" width="13.16" height="5.12" fill="#feeda3"/><rect x="503.56" y="330.97" width="13.16" height="5.12" fill="#fff0a8"/><rect x="516.72" y="330.97" width="13.16" height="5.12" fill="#fee698"/><rect x="424.60" y="336.09" width="13.16" height="5.12" fill="#e9f6e8"/><rect x="437.76" y="336.09" width="13.16" height="5.12" fill="#9ac5de"/><rect x="450.92" y="336.09" width="13.16" height="5.12" fill="#f4fbd4"/><rect x="464.08" y="336.09" width="13.16" height="5.12" fill="#ddf1f7"/><rect x="477.24" y="336.09" width="13.16" height="5.12" fill="#fc9860"/><rect x="490.40" y="336.09" width="13.16" height="5.12" fill="#feeda3"/><rect x="503.56" y="336.09" width="13.16" height="5.12" fill="#fee99e"/><rect x="516.72" y="336.09" width="13.16" height="5.12" fill="#fecd84"/><rect x="424.60" y="341.20" width="13.16" height="5.12" fill="#eef9de"/><rect x="437.76" y="341.20" width="13.16" height="5.12" fill="#d1e9f2"/><rect x="450.92" y="341.20" width="13.16" height="5.12" fill="#badaea"/><rect x="464.08" y="341.20" width="13.16" height="5.12" fill="#ddf1f7"/><rect x="477.24" y="341.20" width="13.16" height="5.12" fill="#fed98b"/><rect x="490.40" y="341.20" width="13.16" height="5.12" fill="#fee99e"/><rect x="503.56" y="341.20" width="13.16" height="5.12" fill="#fee99e"/><rect x="516.72" y="341.20" width="13.16" height="5.12" fill="#fa8957"/><rect x="424.60" y="346.31" width="13.16" height="5.12" fill="#fee698"/><rect x="437.76" y="346.31" width="13.16" height="5.12" fill="#e9f6e8"/><rect x="450.92" y="346.31" width="13.16" height="5.12" fill="#c5e1ee"/><rect x="464.08" y="346.31" width="13.16" height="5.12" fill="#ddf1f7"/><rect x="477.24" y="346.31" width="13.16" height="5.12" fill="#d73027"/><rect x="490.40" y="346.31" width="13.16" height="5.12" fill="#f4fbd4"/><rect x="503.56" y="346.31" width="13.16" height="5.12" fill="#fff6b1"/><rect x="516.72" y="346.31" width="13.16" height="5.12" fill="#fee99e"/><rect x="424.60" y="351.43" width="13.16" height="5.12" fill="#eef9de"/><rect x="437.76" y="351.43" width="13.16" height="5.12" fill="#afd3e6"/><rect x="450.92" y="351.43" width="13.16" height="5.12" fill="#afd3e6"/><rect x="464.08" y="351.43" width="13.16" height="5.12" fill="#eef9de"/><rect x="477.24" y="351.43" width="13.16" height="5.12" fill="#fc9860"/><rect x="490.40" y="351.43" width="13.16" height="5.12" fill="#fed98b"/><rect x="503.56" y="351.43" width="13.16" height="5.12" fill="#fff3ad"/><rect x="516.72" y="351.43" width="13.16" height="5.12" fill="#feeda3"/><rect x="424.60" y="356.55" width="13.16" height="5.12" fill="#eef9de"/><rect x="437.76" y="356.55" width="13.16" height="5.12" fill="#fc9860"/><rect x="450.92" y="356.55" width="13.16" height="5.12" fill="#eef9de"/><rect x="464.08" y="356.55" width="13.16" height="5.12" fill="#eef9de"/><rect x="477.24" y="356.55" width="13.16" height="5.12" fill="#eef9de"/><rect x="490.40" y="356.55" width="13.16" height="5.12" fill="#eef9de"/><rect x="503.56" y="356.55" width="13.16" height="5.12" fill="#e5533a"/><rect x="516.72" y="356.55" width="13.16" height="5.12" fill="#eef9de"/><rect x="424.60" y="361.66" width="13.16" height="5.12" fill="#eef9de"/><rect x="437.76" y="361.66" width="13.16" height="5.12" fill="#afd3e6"/><rect x="450.92" y="361.66" width="13.16" height="5.12" fill="#a4cce2"/><rect x="464.08" y="361.66" width="13.16" height="5.12" fill="#f4fbd4"/><rect x="477.24" y="361.66" width="13.16" height="5.12" fill="#fdc17b"/><rect x="490.40" y="361.66" width="13.16" height="5.12" fill="#fdb473"/><rect x="503.56" y="361.66" width="13.16" height="5.12" fill="#fecd84"/><rect x="516.72" y="361.66" width="13.16" height="5.12" fill="#fff9b5"/><rect x="424.60" y="366.78" width="13.16" height="5.12" fill="#fff6b1"/><rect x="437.76" y="366.78" width="13.16" height="5.12" fill="#9ac5de"/><rect x="450.92" y="366.78" width="13.16" height="5.12" fill="#ddf1f7"/><rect x="464.08" y="366.78" width="13.16" height="5.12" fill="#ddf1f7"/><rect x="477.24" y="366.78" width="13.16" height="5.12" fill="#fdb473"/><rect x="490.40" y="366.78" width="13.16" height="5.12" fill="#fecd84"/><rect x="503.56" y="366.78" width="13.16" height="5.12" fill="#fff0a8"/><rect x="516.72" y="366.78" width="13.16" height="5.12" fill="#fee698"/><rect x="424.60" y="371.89" width="13.16" height="5.12" fill="#f4fbd4"/><rect x="437.76" y="371.89" width="13.16" height="5.12" fill="#afd3e6"/><rect x="450.92" y="371.89" width="13.16" height="5.12" fill="#eef9de"/><rect x="464.08" y="371.89" width="13.16" height="5.12" fill="#9ac5de"/><rect x="477.24" y="371.89" width="13.16" height="5.12" fill="#fdb473"/><rect x="490.40" y="371.89" width="13.16" height="5.12" fill="#fee99e"/><rect x="503.56" y="371.89" width="13.16" height="5.12" fill="#fff0a8"/><rect x="516.72" y="371.89" width="13.16" height="5.12" fill="#fee292"/><rect x="424.60" y="377.01" width="13.16" height="5.12" fill="#afd3e6"/><rect x="437.76" y="377.01" width="13.16" height="5.12" fill="#eef9de"/><rect x="450.92" y="377.01" width="13.16" height="5.12" fill="#ddf1f7"/><rect x="464.08" y="377.01" width="13.16" height="5.12" fill="#fff6b1"/><rect x="477.24" y="377.01" width="13.16" height="5.12" fill="#fee292"/><rect x="490.40" y="377.01" width="13.16" height="5.12" fill="#dd402f"/><rect x="503.56" y="377.01" width="13.16" height="5.12" fill="#e9f6e8"/><rect x="516.72" y="377.01" width="13.16" height="5.12" fill="#fff0a8"/><rect x="424.60" y="382.12" width="13.16" height="5.12" fill="#fff6b1"/><rect x="437.76" y="382.12" width="13.16" height="5.12" fill="#c5e1ee"/><rect x="450.92" y="382.12" width="13.16" height="5.12" fill="#e4f4f1"/><rect x="464.08" y="382.12" width="13.16" height="5.12" fill="#a4cce2"/><rect x="477.24" y="382.12" width="13.16" height="5.12" fill="#fa8957"/><rect x="490.40" y="382.12" width="13.16" height="5.12" fill="#fffbb9"/><rect x="503.56" y="382.12" width="13.16" height="5.12" fill="#fee99e"/><rect x="516.72" y="382.12" width="13.16" height="5.12" fill="#fdc17b"/><rect x="424.60" y="387.24" width="13.16" height="5.12" fill="#fff6b1"/><rect x="437.76" y="387.24" width="13.16" height="5.12" fill="#e9f6e8"/><rect x="450.92" y="387.24" width="13.16" height="5.12" fill="#fffbb9"/><rect x="464.08" y="387.24" width="13.16" height="5.12" fill="#9ac5de"/><rect x="477.24" y="387.24" width="13.16" height="5.12" fill="#fff0a8"/><rect x="490.40" y="387.24" width="13.16" height="5.12" fill="#f9fdca"/><rect x="503.56" y="387.24" width="13.16" height="5.12" fill="#fee99e"/><rect x="516.72" y="387.24" width="13.16" height="5.12" fill="#dd402f"/><rect x="424.60" y="392.35" width="13.16" height="5.12" fill="#77a5cd"/><rect x="437.76" y="392.35" width="13.16" height="5.12" fill="#c5e1ee"/><rect x="450.92" y="392.35" width="13.16" height="5.12" fill="#ffffbf"/><rect x="464.08" y="392.35" width="13.16" height="5.12" fill="#fff6b1"/><rect x="477.24" y="392.35" width="13.16" height="5.12" fill="#fee292"/><rect x="490.40" y="392.35" width="13.16" height="5.12" fill="#fdb473"/><rect x="503.56" y="392.35" width="13.16" height="5.12" fill="#fff3ad"/><rect x="516.72" y="392.35" width="13.16" height="5.12" fill="#fdc17b"/><rect x="424.60" y="397.47" width="13.16" height="5.12" fill="#fff3ad"/><rect x="437.76" y="397.47" width="13.16" height="5.12" fill="#c5e1ee"/><rect x="450.92" y="397.47" width="13.16" height="5.12" fill="#afd3e6"/><rect x="464.08" y="397.47" width="13.16" height="5.12" fill="#d1e9f2"/><rect x="477.24" y="397.47" width="13.16" height="5.12" fill="#fdb473"/><rect x="490.40" y="397.47" width="13.16" height="5.12" fill="#fdc17b"/><rect x="503.56" y="397.47" width="13.16" height="5.12" fill="#fff0a8"/><rect x="516.72" y="397.47" width="13.16" height="5.12" fill="#fee698"/><rect x="424.60" y="402.58" width="13.16" height="5.12" fill="#eef9de"/><rect x="437.76" y="402.58" width="13.16" height="5.12" fill="#eef9de"/><rect x="450.92" y="402.58" width="13.16" height="5.12" fill="#90bedb"/><rect x="464.08" y="402.58" width="13.16" height="5.12" fill="#fffdbc"/><rect x="477.24" y="402.58" width="13.16" height="5.12" fill="#fa8957"/><rect x="490.40" y="402.58" width="13.16" height="5.12" fill="#fee99e"/><rect x="503.56" y="402.58" width="13.16" height="5.12" fill="#fff9b5"/><rect x="516.72" y="402.58" width="13.16" height="5.12" fill="#fed98b"/><rect x="424.60" y="407.70" width="13.16" height="5.12" fill="#f4fbd4"/><rect x="437.76" y="407.70" width="13.16" height="5.12" fill="#a4cce2"/><rect x="450.92" y="407.70" width="13.16" height="5.12" fill="#afd3e6"/><rect x="464.08" y="407.70" width="13.16" height="5.12" fill="#fff9b5"/><rect x="477.24" y="407.70" width="13.16" height="5.12" fill="#fecd84"/><rect x="490.40" y="407.70" width="13.16" height="5.12" fill="#fda66a"/><rect x="503.56" y="407.70" width="13.16" height="5.12" fill="#fff0a8"/><rect x="516.72" y="407.70" width="13.16" height="5.12" fill="#fff6b1"/><rect x="424.60" y="412.81" width="13.16" height="5.12" fill="#fff9b5"/><rect x="437.76" y="412.81" width="13.16" height="5.12" fill="#e4f4f1"/><rect x="450.92" y="412.81" width="13.16" height="5.12" fill="#c5e1ee"/><rect x="464.08" y="412.81" width="13.16" height="5.12" fill="#e9f6e8"/><rect x="477.24" y="412.81" width="13.16" height="5.12" fill="#dd402f"/><rect x="490.40" y="412.81" width="13.16" height="5.12" fill="#ffffbf"/><rect x="503.56" y="412.81" width="13.16" height="5.12" fill="#fff0a8"/><rect x="516.72" y="412.81" width="13.16" height="5.12" fill="#fee698"/><rect x="424.60" y="417.93" width="13.16" height="5.12" fill="#fff9b5"/><rect x="437.76" y="417.93" width="13.16" height="5.12" fill="#e9f6e8"/><rect x="450.92" y="417.93" width="13.16" height="5.12" fill="#c5e1ee"/><rect x="464.08" y="417.93" width="13.16" height="5.12" fill="#e4f4f1"/><rect x="477.24" y="417.93" width="13.16" height="5.12" fill="#fffbb9"/><rect x="490.40" y="417.93" width="13.16" height="5.12" fill="#fee698"/><rect x="503.56" y="417.93" width="13.16" height="5.12" fill="#fff6b1"/><rect x="516.72" y="417.93" width="13.16" height="5.12" fill="#d73027"/><rect x="424.60" y="423.04" width="13.16" height="5.12" fill="#fff3ad"/><rect x="437.76" y="423.04" width="13.16" height="5.12" fill="#ddf1f7"/><rect x="450.92" y="423.04" width="13.16" height="5.12" fill="#c5e1ee"/><rect x="464.08" y="423.04" width="13.16" height="5.12" fill="#e4f4f1"/><rect x="477.24" y="423.04" width="13.16" height="5.12" fill="#dd402f"/><rect x="490.40" y="423.04" width="13.16" height="5.12" fill="#f4fbd4"/><rect x="503.56" y="423.04" width="13.16" height="5.12" fill="#fff0a8"/><rect x="516.72" y="423.04" width="13.16" height="5.12" fill="#fee698"/><rect x="424.60" y="428.16" width="13.16" height="5.12" fill="#fff6b1"/><rect x="437.76" y="428.16" width="13.16" height="5.12" fill="#badaea"/><rect x="450.92" y="428.16" width="13.16" height="5.12" fill="#badaea"/><rect x="464.08" y="428.16" width="13.16" height="5.12" fill="#ddf1f7"/><rect x="477.24" y="428.16" width="13.16" height="5.12" fill="#fa8957"/><rect x="490.40" y="428.16" width="13.16" height="5.12" fill="#f4fbd4"/><rect x="503.56" y="428.16" width="13.16" height="5.12" fill="#fee698"/><rect x="516.72" y="428.16" width="13.16" height="5.12" fill="#fda66a"/><rect x="424.60" y="433.27" width="13.16" height="5.12" fill="#90bedb"/><rect x="437.76" y="433.27" width="13.16" height="5.12" fill="#e4f4f1"/><rect x="450.92" y="433.27" width="13.16" height="5.12" fill="#f4fbd4"/><rect x="464.08" y="433.27" width="13.16" height="5.12" fill="#fee292"/><rect x="477.24" y="433.27" width="13.16" height="5.12" fill="#ffffbf"/><rect x="490.40" y="433.27" width="13.16" height="5.12" fill="#fed98b"/><rect x="503.56" y="433.27" width="13.16" height="5.12" fill="#fff0a8"/><rect x="516.72" y="433.27" width="13.16" height="5.12" fill="#fda66a"/><rect x="424.60" y="438.39" width="13.16" height="5.12" fill="#a4cce2"/><rect x="437.76" y="438.39" width="13.16" height="5.12" fill="#90bedb"/><rect x="450.92" y="438.39" width="13.16" height="5.12" fill="#f4fbd4"/><rect x="464.08" y="438.39" width="13.16" height="5.12" fill="#fee99e"/><rect x="477.24" y="438.39" width="13.16" height="5.12" fill="#fdc17b"/><rect x="490.40" y="438.39" width="13.16" height="5.12" fill="#fed98b"/><rect x="503.56" y="438.39" width="13.16" height="5.12" fill="#fee99e"/><rect x="516.72" y="438.39" width="13.16" height="5.12" fill="#feeda3"/><rect x="424.60" y="443.50" width="13.16" height="5.12" fill="#f4fbd4"/><rect x="437.76" y="443.50" width="13.16" height="5.12" fill="#afd3e6"/><rect x="450.92" y="443.50" width="13.16" height="5.12" fill="#afd3e6"/><rect x="464.08" y="443.50" width="13.16" height="5.12" fill="#fff6b1"/><rect x="477.24" y="443.50" width="13.16" height="5.12" fill="#f3784d"/><rect x="490.40" y="443.50" width="13.16" height="5.12" fill="#fff3ad"/><rect x="503.56" y="443.50" width="13.16" height="5.12" fill="#fff0a8"/><rect x="516.72" y="443.50" width="13.16" height="5.12" fill="#fdc17b"/><rect x="424.60" y="448.62" width="13.16" height="5.12" fill="#ddf1f7"/><rect x="437.76" y="448.62" width="13.16" height="5.12" fill="#f4fbd4"/><rect x="450.92" y="448.62" width="13.16" height="5.12" fill="#c5e1ee"/><rect x="464.08" y="448.62" width="13.16" height="5.12" fill="#fff3ad"/><rect x="477.24" y="448.62" width="13.16" height="5.12" fill="#e5533a"/><rect x="490.40" y="448.62" width="13.16" height="5.12" fill="#fffbb9"/><rect x="503.56" y="448.62" width="13.16" height="5.12" fill="#fff6b1"/><rect x="516.72" y="448.62" width="13.16" height="5.12" fill="#fdc17b"/><rect x="424.60" y="453.73" width="13.16" height="5.12" fill="#a4cce2"/><rect x="437.76" y="453.73" width="13.16" height="5.12" fill="#eef9de"/><rect x="450.92" y="453.73" width="13.16" height="5.12" fill="#badaea"/><rect x="464.08" y="453.73" width="13.16" height="5.12" fill="#feeda3"/><rect x="477.24" y="453.73" width="13.16" height="5.12" fill="#fa8957"/><rect x="490.40" y="453.73" width="13.16" height="5.12" fill="#fee292"/><rect x="503.56" y="453.73" width="13.16" height="5.12" fill="#f4fbd4"/><rect x="516.72" y="453.73" width="13.16" height="5.12" fill="#fee698"/><rect x="424.60" y="458.85" width="13.16" height="5.12" fill="#badaea"/><rect x="437.76" y="458.85" width="13.16" height="5.12" fill="#9ac5de"/><rect x="450.92" y="458.85" width="13.16" height="5.12" fill="#fee99e"/><rect x="464.08" y="458.85" width="13.16" height="5.12" fill="#fff0a8"/><rect x="477.24" y="458.85" width="13.16" height="5.12" fill="#fda66a"/><rect x="490.40" y="458.85" width="13.16" height="5.12" fill="#fff9b5"/><rect x="503.56" y="458.85" width="13.16" height="5.12" fill="#f4fbd4"/><rect x="516.72" y="458.85" width="13.16" height="5.12" fill="#fc9860"/><rect x="424.60" y="463.96" width="13.16" height="5.12" fill="#ddf1f7"/><rect x="437.76" y="463.96" width="13.16" height="5.12" fill="#e9f6e8"/><rect x="450.92" y="463.96" width="13.16" height="5.12" fill="#d1e9f2"/><rect x="464.08" y="463.96" width="13.16" height="5.12" fill="#fff6b1"/><rect x="477.24" y="463.96" width="13.16" height="5.12" fill="#d73027"/><rect x="490.40" y="463.96" width="13.16" height="5.12" fill="#f9fdca"/><rect x="503.56" y="463.96" width="13.16" height="5.12" fill="#fff6b1"/><rect x="516.72" y="463.96" width="13.16" height="5.12" fill="#feeda3"/><rect x="424.60" y="469.08" width="13.16" height="5.12" fill="#fff6b1"/><rect x="437.76" y="469.08" width="13.16" height="5.12" fill="#f4fbd4"/><rect x="450.92" y="469.08" width="13.16" height="5.12" fill="#a4cce2"/><rect x="464.08" y="469.08" width="13.16" height="5.12" fill="#fff9b5"/><rect x="477.24" y="469.08" width="13.16" height="5.12" fill="#ec6644"/><rect x="490.40" y="469.08" width="13.16" height="5.12" fill="#e4f4f1"/><rect x="503.56" y="469.08" width="13.16" height="5.12" fill="#fff3ad"/><rect x="516.72" y="469.08" width="13.16" height="5.12" fill="#fee292"/><rect x="424.60" y="474.19" width="13.16" height="5.12" fill="#90bedb"/><rect x="437.76" y="474.19" width="13.16" height="5.12" fill="#fffdbc"/><rect x="450.92" y="474.19" width="13.16" height="5.12" fill="#e4f4f1"/><rect x="464.08" y="474.19" width="13.16" height="5.12" fill="#fee99e"/><rect x="477.24" y="474.19" width="13.16" height="5.12" fill="#fc9860"/><rect x="490.40" y="474.19" width="13.16" height="5.12" fill="#f4fbd4"/><rect x="503.56" y="474.19" width="13.16" height="5.12" fill="#fff3ad"/><rect x="516.72" y="474.19" width="13.16" height="5.12" fill="#fdb473"/><rect x="424.60" y="479.31" width="13.16" height="5.12" fill="#eef9de"/><rect x="437.76" y="479.31" width="13.16" height="5.12" fill="#87b6d6"/><rect x="450.92" y="479.31" width="13.16" height="5.12" fill="#eef9de"/><rect x="464.08" y="479.31" width="13.16" height="5.12" fill="#fee99e"/><rect x="477.24" y="479.31" width="13.16" height="5.12" fill="#fee292"/><rect x="490.40" y="479.31" width="13.16" height="5.12" fill="#f3784d"/><rect x="503.56" y="479.31" width="13.16" height="5.12" fill="#fff6b1"/><rect x="516.72" y="479.31" width="13.16" height="5.12" fill="#f9fdca"/><rect x="424.60" y="484.42" width="13.16" height="5.12" fill="#e4f4f1"/><rect x="437.76" y="484.42" width="13.16" height="5.12" fill="#e4f4f1"/><rect x="450.92" y="484.42" width="13.16" height="5.12" fill="#feeda3"/><rect x="464.08" y="484.42" width="13.16" height="5.12" fill="#badaea"/><rect x="477.24" y="484.42" width="13.16" height="5.12" fill="#f9fdca"/><rect x="490.40" y="484.42" width="13.16" height="5.12" fill="#f3784d"/><rect x="503.56" y="484.42" width="13.16" height="5.12" fill="#fff9b5"/><rect x="516.72" y="484.42" width="13.16" height="5.12" fill="#fdb473"/><rect x="424.60" y="489.54" width="13.16" height="5.12" fill="#fee99e"/><rect x="437.76" y="489.54" width="13.16" height="5.12" fill="#e4f4f1"/><rect x="450.92" y="489.54" width="13.16" height="5.12" fill="#fffdbc"/><rect x="464.08" y="489.54" width="13.16" height="5.12" fill="#badaea"/><rect x="477.24" y="489.54" width="13.16" height="5.12" fill="#fa8957"/><rect x="490.40" y="489.54" width="13.16" height="5.12" fill="#badaea"/><rect x="503.56" y="489.54" width="13.16" height="5.12" fill="#fff6b1"/><rect x="516.72" y="489.54" width="13.16" height="5.12" fill="#fecd84"/><rect x="424.60" y="494.65" width="13.16" height="5.12" fill="#87b6d6"/><rect x="437.76" y="494.65" width="13.16" height="5.12" fill="#afd3e6"/><rect x="450.92" y="494.65" width="13.16" height="5.12" fill="#f9fdca"/><rect x="464.08" y="494.65" width="13.16" height="5.12" fill="#feeda3"/><rect x="477.24" y="494.65" width="13.16" height="5.12" fill="#fc9860"/><rect x="490.40" y="494.65" width="13.16" height="5.12" fill="#feeda3"/><rect x="503.56" y="494.65" width="13.16" height="5.12" fill="#fff6b1"/><rect x="516.72" y="494.65" width="13.16" height="5.12" fill="#fecd84"/><rect x="424.60" y="499.77" width="13.16" height="5.12" fill="#afd3e6"/><rect x="437.76" y="499.77" width="13.16" height="5.12" fill="#87b6d6"/><rect x="450.92" y="499.77" width="13.16" height="5.12" fill="#fffbb9"/><rect x="464.08" y="499.77" width="13.16" height="5.12" fill="#fff0a8"/><rect x="477.24" y="499.77" width="13.16" height="5.12" fill="#fa8957"/><rect x="490.40" y="499.77" width="13.16" height="5.12" fill="#fff6b1"/><rect x="503.56" y="499.77" width="13.16" height="5.12" fill="#fff9b5"/><rect x="516.72" y="499.77" width="13.16" height="5.12" fill="#fed98b"/><rect x="424.60" y="504.88" width="13.16" height="5.12" fill="#fff6b1"/><rect x="437.76" y="504.88" width="13.16" height="5.12" fill="#eef9de"/><rect x="450.92" y="504.88" width="13.16" height="5.12" fill="#7fadd2"/><rect x="464.08" y="504.88" width="13.16" height="5.12" fill="#eef9de"/><rect x="477.24" y="504.88" width="13.16" height="5.12" fill="#ec6644"/><rect x="490.40" y="504.88" width="13.16" height="5.12" fill="#fff6b1"/><rect x="503.56" y="504.88" width="13.16" height="5.12" fill="#fff6b1"/><rect x="516.72" y="504.88" width="13.16" height="5.12" fill="#fee698"/><rect x="424.60" y="510.00" width="13.16" height="5.12" fill="#d1e9f2"/><rect x="437.76" y="510.00" width="13.16" height="5.12" fill="#afd3e6"/><rect x="450.92" y="510.00" width="13.16" height="5.12" fill="#fee99e"/><rect x="464.08" y="510.00" width="13.16" height="5.12" fill="#feeda3"/><rect x="477.24" y="510.00" width="13.16" height="5.12" fill="#fc9860"/><rect x="490.40" y="510.00" width="13.16" height="5.12" fill="#a4cce2"/><rect x="503.56" y="510.00" width="13.16" height="5.12" fill="#fff9b5"/><rect x="516.72" y="510.00" width="13.16" height="5.12" fill="#fecd84"/><rect x="424.60" y="515.11" width="13.16" height="5.12" fill="#a4cce2"/><rect x="437.76" y="515.11" width="13.16" height="5.12" fill="#90bedb"/><rect x="450.92" y="515.11" width="13.16" height="5.12" fill="#fff0a8"/><rect x="464.08" y="515.11" width="13.16" height="5.12" fill="#fff6b1"/><rect x="477.24" y="515.11" width="13.16" height="5.12" fill="#f3784d"/><rect x="490.40" y="515.11" width="13.16" height="5.12" fill="#fee698"/><rect x="503.56" y="515.11" width="13.16" height="5.12" fill="#fff0a8"/><rect x="516.72" y="515.11" width="13.16" height="5.12" fill="#fffdbc"/><rect x="424.60" y="520.23" width="13.16" height="5.12" fill="#f4fbd4"/><rect x="437.76" y="520.23" width="13.16" height="5.12" fill="#fffbb9"/><rect x="450.92" y="520.23" width="13.16" height="5.12" fill="#f4fbd4"/><rect x="464.08" y="520.23" width="13.16" height="5.12" fill="#ddf1f7"/><rect x="477.24" y="520.23" width="13.16" height="5.12" fill="#d1e9f2"/><rect x="490.40" y="520.23" width="13.16" height="5.12" fill="#d73027"/><rect x="503.56" y="520.23" width="13.16" height="5.12" fill="#fffbb9"/><rect x="516.72" y="520.23" width="13.16" height="5.12" fill="#fff0a8"/><rect x="424.60" y="525.34" width="13.16" height="5.12" fill="#fee698"/><rect x="437.76" y="525.34" width="13.16" height="5.12" fill="#f4fbd4"/><rect x="450.92" y="525.34" width="13.16" height="5.12" fill="#87b6d6"/><rect x="464.08" y="525.34" width="13.16" height="5.12" fill="#eef9de"/><rect x="477.24" y="525.34" width="13.16" height="5.12" fill="#e5533a"/><rect x="490.40" y="525.34" width="13.16" height="5.12" fill="#fff3ad"/><rect x="503.56" y="525.34" width="13.16" height="5.12" fill="#fff9b5"/><rect x="516.72" y="525.34" width="13.16" height="5.12" fill="#fff6b1"/><rect x="424.60" y="530.46" width="13.16" height="5.12" fill="#c5e1ee"/><rect x="437.76" y="530.46" width="13.16" height="5.12" fill="#90bedb"/><rect x="450.92" y="530.46" width="13.16" height="5.12" fill="#ddf1f7"/><rect x="464.08" y="530.46" width="13.16" height="5.12" fill="#fff6b1"/><rect x="477.24" y="530.46" width="13.16" height="5.12" fill="#fee292"/><rect x="490.40" y="530.46" width="13.16" height="5.12" fill="#fff0a8"/><rect x="503.56" y="530.46" width="13.16" height="5.12" fill="#fff3ad"/><rect x="516.72" y="530.46" width="13.16" height="5.12" fill="#f3784d"/><rect x="424.60" y="535.57" width="13.16" height="5.12" fill="#fff9b5"/><rect x="437.76" y="535.57" width="13.16" height="5.12" fill="#9ac5de"/><rect x="450.92" y="535.57" width="13.16" height="5.12" fill="#c5e1ee"/><rect x="464.08" y="535.57" width="13.16" height="5.12" fill="#ddf1f7"/><rect x="477.24" y="535.57" width="13.16" height="5.12" fill="#fda66a"/><rect x="490.40" y="535.57" width="13.16" height="5.12" fill="#fed98b"/><rect x="503.56" y="535.57" width="13.16" height="5.12" fill="#feeda3"/><rect x="516.72" y="535.57" width="13.16" height="5.12" fill="#fed98b"/></g>
<rect x="424.60" y="22.40" width="13.16" height="8.50" fill="#ff0000" stroke="#a3a3a3" stroke-width="0.75"/>
<rect x="437.76" y="22.40" width="13.16" height="8.50" fill="#ff0000" stroke="#a3a3a3" stroke-width="0.75"/>
<rect x="450.92" y="22.40" width="13.16" height="8.50" fill="#ff0000" stroke="#a3a3a3" stroke-width="0.75"/>
<rect x="464.08" y="22.40" width="13.16" height="8.50" fill="#ff0000" stroke="#a3a3a3" stroke-width="0.75"/>
<rect x="477.24" y="22.40" width="13.16" height="8.50" fill="#0000ff" stroke="#a3a3a3" stroke-width="0.75"/>
<rect x="490.40" y="22.40" width="13.16" height="8.50" fill="#0000ff" stroke="#a3a3a3" stroke-width="0.75"/>
<rect x="503.56" y="22.40" width="13.16" height="8.50" fill="#0000ff" stroke="#a3a3a3" stroke-width="0.75"/>
<rect x="516.72" y="22.40" width="13.16" height="8.50" fill="#0000ff" stroke="#a3a3a3" stroke-width="0.75"/>
<text x="533.00" y="30.00" font-size="8.6" textLength="24.00" lengthAdjust="spacingAndGlyphs">Group</text>
<g stroke="#a3a3a3" stroke-width="0.75"><rect x="390.70" y="34.30" width="8.8" height="5.12" fill="#fe3a8c"/><rect x="401.80" y="34.30" width="8.8" height="5.12" fill="#fe3a8c"/><rect x="412.90" y="34.30" width="8.8" height="5.12" fill="#ffffff"/><rect x="390.70" y="39.41" width="8.8" height="5.12" fill="#fe3a8c"/><rect x="401.80" y="39.41" width="8.8" height="5.12" fill="#fe3a8c"/><rect x="412.90" y="39.41" width="8.8" height="5.12" fill="#ffffff"/><rect x="390.70" y="44.53" width="8.8" height="5.12" fill="#fe3a8c"/><rect x="401.80" y="44.53" width="8.8" height="5.12" fill="#fe3a8c"/><rect x="412.90" y="44.53" width="8.8" height="5.12" fill="#ffffff"/><rect x="390.70" y="49.64" width="8.8" height="5.12" fill="#ffffff"/><rect x="401.80" y="49.64" width="8.8" height="5.12" fill="#fe3a8c"/><rect x="412.90" y="49.64" width="8.8" height="5.12" fill="#ffffff"/><rect x="390.70" y="54.76" width="8.8" height="5.12" fill="#ffffff"/><rect x="401.80" y="54.76" width="8.8" height="5.12" fill="#fe3a8c"/><rect x="412.90" y="54.76" width="8.8" height="5.12" fill="#ffffff"/><rect x="390.70" y="59.88" width="8.8" height="5.12" fill="#fe3a8c"/><rect x="401.80" y="59.88" width="8.8" height="5.12" fill="#fe3a8c"/><rect x="412.90" y="59.88" width="8.8" height="5.12" fill="#fe3a8c"/><rect x="390.70" y="64.99" width="8.8" height="5.12" fill="#ffffff"/><rect x="401.80" y="64.99" width="8.8" height="5.12" fill="#fe3a8c"/><rect x="412.90" y="64.99" width="8.8" height="5.12" fill="#ffffff"/><rect x="390.70" y="70.10" width="8.8" height="5.12" fill="#fe3a8c"/><rect x="401.80" y="70.10" width="8.8" height="5.12" fill="#fe3a8c"/><rect x="412.90" y="70.10" width="8.8" height="5.12" fill="#ffffff"/><rect x="390.70" y="75.22" width="8.8" height="5.12" fill="#fe3a8c"/><rect x="401.80" y="75.22" width="8.8" height="5.12" fill="#fe3a8c"/><rect x="412.90" y="75.22" width="8.8" height="5.12" fill="#ffffff"/><rect x="390.70" y="80.34" width="8.8" height="5.12" fill="#fe3a8c"/><rect x="401.80" y="80.34" width="8.8" height="5.12" fill="#fe3a8c"/><rect x="412.90" y="80.34" width="8.8" height="5.12" fill="#fe3a8c"/><rect x="390.70" y="85.45" width="8.8" height="5.12" fill="#ffffff"/><rect x="401.80" y="85.45" width="8.8" height="5.12" fill="#fe3a8c"/><rect x="412.90" y="85.45" width="8.8" height="5.12" fill="#ffffff"/><rect x="390.70" y="90.56" width="8.8" height="5.12" fill="#ffffff"/><rect x="401.80" y="90.56" width="8.8" height="5.12" fill="#fe3a8c"/><rect x="412.90" y="90.56" width="8.8" height="5.12" fill="#ffffff"/><rect x="390.70" y="95.68" width="8.8" height="5.12" fill="#fe3a8c"/><rect x="401.80" y="95.68" width="8.8" height="5.12" fill="#fe3a8c"/><rect x="412.90" y="95.68" width="8.8" height="5.12" fill="#fe3a8c"/><rect x="390.70" y="100.80" width="8.8" height="5.12" fill="#ffffff"/><rect x="401.80" y="100.80" width="8.8" height="5.12" fill="#fe3a8c"/><rect x="412.90" y="100.80" width="8.8" height="5.12" fill="#ffffff"/><rect x="390.70" y="105.91" width="8.8" height="5.12" fill="#ffffff"/><rect x="401.80" y="105.91" width="8.8" height="5.12" fill="#fe3a8c"/><rect x="412.90" y="105.91" width="8.8" height="5.12" fill="#ffffff"/><rect x="390.70" y="111.03" width="8.8" height="5.12" fill="#fe3a8c"/><rect x="401.80" y="111.03" width="8.8" height="5.12" fill="#fe3a8c"/><rect x="412.90" y="111.03" width="8.8" height="5.12" fill="#ffffff"/><rect x="390.70" y="116.14" width="8.8" height="5.12" fill="#fe3a8c"/><rect x="401.80" y="116.14" width="8.8" height="5.12" fill="#fe3a8c"/><rect x="412.90" y="116.14" width="8.8" height="5.12" fill="#ffffff"/><rect x="390.70" y="121.25" width="8.8" height="5.12" fill="#ffffff"/><rect x="401.80" y="121.25" width="8.8" height="5.12" fill="#fe3a8c"/><rect x="412.90" y="121.25" width="8.8" height="5.12" fill="#ffffff"/><rect x="390.70" y="126.37" width="8.8" height="5.12" fill="#fe3a8c"/><rect x="401.80" y="126.37" width="8.8" height="5.12" fill="#fe3a8c"/><rect x="412.90" y="126.37" width="8.8" height="5.12" fill="#fe3a8c"/><rect x="390.70" y="131.49" width="8.8" height="5.12" fill="#ffffff"/><rect x="401.80" y="131.49" width="8.8" height="5.12" fill="#fe3a8c"/><rect x="412.90" y="131.49" width="8.8" height="5.12" fill="#ffffff"/><rect x="390.70" y="136.60" width="8.8" height="5.12" fill="#fe3a8c"/><rect x="401.80" y="136.60" width="8.8" height="5.12" fill="#fe3a8c"/><rect x="412.90" y="136.60" width="8.8" height="5.12" fill="#ffffff"/><rect x="390.70" y="141.72" width="8.8" height="5.12" fill="#ffffff"/><rect x="401.80" y="141.72" width="8.8" height="5.12" fill="#fe3a8c"/><rect x="412.90" y="141.72" width="8.8" height="5.12" fill="#ffffff"/><rect x="390.70" y="146.83" width="8.8" height="5.12" fill="#fe3a8c"/><rect x="401.80" y="146.83" width="8.8" height="5.12" fill="#fe3a8c"/><rect x="412.90" y="146.83" width="8.8" height="5.12" fill="#ffffff"/><rect x="390.70" y="151.94" width="8.8" height="5.12" fill="#fe3a8c"/><rect x="401.80" y="151.94" width="8.8" height="5.12" fill="#fe3a8c"/><rect x="412.90" y="151.94" width="8.8" height="5.12" fill="#fe3a8c"/><rect x="390.70" y="157.06" width="8.8" height="5.12" fill="#ffffff"/><rect x="401.80" y="157.06" width="8.8" height="5.12" fill="#fe3a8c"/><rect x="412.90" y="157.06" width="8.8" height="5.12" fill="#ffffff"/><rect x="390.70" y="162.18" width="8.8" height="5.12" fill="#ffffff"/><rect x="401.80" y="162.18" width="8.8" height="5.12" fill="#fe3a8c"/><rect x="412.90" y="162.18" width="8.8" height="5.12" fill="#ffffff"/><rect x="390.70" y="167.29" width="8.8" height="5.12" fill="#fe3a8c"/><rect x="401.80" y="167.29" width="8.8" height="5.12" fill="#fe3a8c"/><rect x="412.90" y="167.29" width="8.8" height="5.12" fill="#ffffff"/><rect x="390.70" y="172.41" width="8.8" height="5.12" fill="#ffffff"/><rect x="401.80" y="172.41" width="8.8" height="5.12" fill="#fe3a8c"/><rect x="412.90" y="172.41" width="8.8" height="5.12" fill="#fe3a8c"/><rect x="390.70" y="177.52" width="8.8" height="5.12" fill="#ffffff"/><rect x="401.80" y="177.52" width="8.8" height="5.12" fill="#fe3a8c"/><rect x="412.90" y="177.52" width="8.8" height="5.12" fill="#fe3a8c"/><rect x="390.70" y="182.63" width="8.8" height="5.12" fill="#ffffff"/><rect x="401.80" y="182.63" width="8.8" height="5.12" fill="#fe3a8c"/><rect x="412.90" y="182.63" width="8.8" height="5.12" fill="#ffffff"/><rect x="390.70" y="187.75" width="8.8" height="5.12" fill="#ffffff"/><rect x="401.80" y="187.75" width="8.8" height="5.12" fill="#fe3a8c"/><rect x="412.90" y="187.75" width="8.8" height="5.12" fill="#ffffff"/><rect x="390.70" y="192.87" width="8.8" height="5.12" fill="#ffffff"/><rect x="401.80" y="192.87" width="8.8" height="5.12" fill="#fe3a8c"/><rect x="412.90" y="192.87" width="8.8" height="5.12" fill="#ffffff"/><rect x="390.70" y="197.98" width="8.8" height="5.12" fill="#fe3a8c"/><rect x="401.80" y="197.98" width="8.8" height="5.12" fill="#ffffff"/><rect x="412.90" y="197.98" width="8.8" height="5.12" fill="#ffffff"/><rect x="390.70" y="203.10" width="8.8" height="5.12" fill="#fe3a8c"/><rect x="401.80" y="203.10" width="8.8" height="5.12" fill="#ffffff"/><rect x="412.90" y="203.10" width="8.8" height="5.12" fill="#ffffff"/><rect x="390.70" y="208.21" width="8.8" height="5.12" fill="#fe3a8c"/><rect x="401.80" y="208.21" width="8.8" height="5.12" fill="#ffffff"/><rect x="412.90" y="208.21" width="8.8" height="5.12" fill="#ffffff"/><rect x="390.70" y="213.32" width="8.8" height="5.12" fill="#fe3a8c"/><rect x="401.80" y="213.32" width="8.8" height="5.12" fill="#ffffff"/><rect x="412.90" y="213.32" width="8.8" height="5.12" fill="#ffffff"/><rect x="390.70" y="218.44" width="8.8" height="5.12" fill="#fe3a8c"/><rect x="401.80" y="218.44" width="8.8" height="5.12" fill="#ffffff"/><rect x="412.90" y="218.44" width="8.8" height="5.12" fill="#ffffff"/><rect x="390.70" y="223.56" width="8.8" height="5.12" fill="#fe3a8c"/><rect x="401.80" y="223.56" width="8.8" height="5.12" fill="#ffffff"/><rect x="412.90" y="223.56" width="8.8" height="5.12" fill="#ffffff"/><rect x="390.70" y="228.67" width="8.8" height="5.12" fill="#fe3a8c"/><rect x="401.80" y="228.67" width="8.8" height="5.12" fill="#ffffff"/><rect x="412.90" y="228.67" width="8.8" height="5.12" fill="#fe3a8c"/><rect x="390.70" y="233.79" width="8.8" height="5.12" fill="#fe3a8c"/><rect x="401.80" y="233.79" width="8.8" height="5.12" fill="#ffffff"/><rect x="412.90" y="233.79" width="8.8" height="5.12" fill="#ffffff"/><rect x="390.70" y="238.90" width="8.8" height="5.12" fill="#fe3a8c"/><rect x="401.80" y="238.90" width="8.8" height="5.12" fill="#ffffff"/><rect x="412.90" y="238.90" width="8.8" height="5.12" fill="#ffffff"/><rect x="390.70" y="244.01" width="8.8" height="5.12" fill="#fe3a8c"/><rect x="401.80" y="244.01" width="8.8" height="5.12" fill="#ffffff"/><rect x="412.90" y="244.01" width="8.8" height="5.12" fill="#ffffff"/><rect x="390.70" y="249.13" width="8.8" height="5.12" fill="#fe3a8c"/><rect x="401.80" y="249.13" width="8.8" height="5.12" fill="#ffffff"/><rect x="412.90" y="249.13" width="8.8" height="5.12" fill="#ffffff"/><rect x="390.70" y="254.25" width="8.8" height="5.12" fill="#fe3a8c"/><rect x="401.80" y="254.25" width="8.8" height="5.12" fill="#ffffff"/><rect x="412.90" y="254.25" width="8.8" height="5.12" fill="#ffffff"/><rect x="390.70" y="259.36" width="8.8" height="5.12" fill="#fe3a8c"/><rect x="401.80" y="259.36" width="8.8" height="5.12" fill="#ffffff"/><rect x="412.90" y="259.36" width="8.8" height="5.12" fill="#ffffff"/><rect x="390.70" y="264.48" width="8.8" height="5.12" fill="#fe3a8c"/><rect x="401.80" y="264.48" width="8.8" height="5.12" fill="#ffffff"/><rect x="412.90" y="264.48" width="8.8" height="5.12" fill="#ffffff"/><rect x="390.70" y="269.59" width="8.8" height="5.12" fill="#fe3a8c"/><rect x="401.80" y="269.59" width="8.8" height="5.12" fill="#ffffff"/><rect x="412.90" y="269.59" width="8.8" height="5.12" fill="#ffffff"/><rect x="390.70" y="274.70" width="8.8" height="5.12" fill="#fe3a8c"/><rect x="401.80" y="274.70" width="8.8" height="5.12" fill="#ffffff"/><rect x="412.90" y="274.70" width="8.8" height="5.12" fill="#ffffff"/><rect x="390.70" y="279.82" width="8.8" height="5.12" fill="#ffffff"/><rect x="401.80" y="279.82" width="8.8" height="5.12" fill="#ffffff"/><rect x="412.90" y="279.82" width="8.8" height="5.12" fill="#fe3a8c"/><rect x="390.70" y="284.94" width="8.8" height="5.12" fill="#ffffff"/><rect x="401.80" y="284.94" width="8.8" height="5.12" fill="#ffffff"/><rect x="412.90" y="284.94" width="8.8" height="5.12" fill="#fe3a8c"/><rect x="390.70" y="290.05" width="8.8" height="5.12" fill="#ffffff"/><rect x="401.80" y="290.05" width="8.8" height="5.12" fill="#ffffff"/><rect x="412.90" y="290.05" width="8.8" height="5.12" fill="#fe3a8c"/><rect x="390.70" y="295.17" width="8.8" height="5.12" fill="#ffffff"/><rect x="401.80" y="295.17" width="8.8" height="5.12" fill="#ffffff"/><rect x="412.90" y="295.17" width="8.8" height="5.12" fill="#fe3a8c"/><rect x="390.70" y="300.28" width="8.8" height="5.12" fill="#ffffff"/><rect x="401.80" y="300.28" width="8.8" height="5.12" fill="#ffffff"/><rect x="412.90" y="300.28" width="8.8" height="5.12" fill="#fe3a8c"/><rect x="390.70" y="305.40" width="8.8" height="5.12" fill="#ffffff"/><rect x="401.80" y="305.40" width="8.8" height="5.12" fill="#ffffff"/><rect x="412.90" y="305.40" width="8.8" height="5.12" fill="#fe3a8c"/><rect x="390.70" y="310.51" width="8.8" height="5.12" fill="#ffffff"/><rect x="401.80" y="310.51" width="8.8" height="5.12" fill="#ffffff"/><rect x="412.90" y="310.51" width="8.8" height="5.12" fill="#fe3a8c"/><rect x="390.70" y="315.62" width="8.8" height="5.12" fill="#ffffff"/><rect x="401.80" y="315.62" width="8.8" height="5.12" fill="#ffffff"/><rect x="412.90" y="315.62" width="8.8" height="5.12" fill="#fe3a8c"/><rect x="390.70" y="320.74" width="8.8" height="5.12" fill="#ffffff"/><rect x="401.80" y="320.74" width="8.8" height="5.12" fill="#ffffff"/><rect x="412.90" y="320.74" width="8.8" height="5.12" fill="#fe3a8c"/><rect x="390.70" y="325.86" width="8.8" height="5.12" fill="#ffffff"/><rect x="401.80" y="325.86" width="8.8" height="5.12" fill="#ffffff"/><rect x="412.90" y="325.86" width="8.8" height="5.12" fill="#fe3a8c"/><rect x="390.70" y="330.97" width="8.8" height="5.12" fill="#ffffff"/><rect x="401.80" y="330.97" width="8.8" height="5.12" fill="#ffffff"/><rect x="412.90" y="330.97" width="8.8" height="5.12" fill="#fe3a8c"/><rect x="390.70" y="336.09" width="8.8" height="5.12" fill="#ffffff"/><rect x="401.80" y="336.09" width="8.8" height="5.12" fill="#ffffff"/><rect x="412.90" y="336.09" width="8.8" height="5.12" fill="#fe3a8c"/><rect x="390.70" y="341.20" width="8.8" height="5.12" fill="#ffffff"/><rect x="401.80" y="341.20" width="8.8" height="5.12" fill="#ffffff"/><rect x="412.90" y="341.20" width="8.8" height="5.12" fill="#fe3a8c"/><rect x="390.70" y="346.31" width="8.8" height="5.12" fill="#ffffff"/><rect x="401.80" y="346.31" width="8.8" height="5.12" fill="#ffffff"/><rect x="412.90" y="346.31" width="8.8" height="5.12" fill="#fe3a8c"/><rect x="390.70" y="351.43" width="8.8" height="5.12" fill="#ffffff"/><rect x="401.80" y="351.43" width="8.8" height="5.12" fill="#ffffff"/><rect x="412.90" y="351.43" width="8.8" height="5.12" fill="#fe3a8c"/><rect x="390.70" y="356.55" width="8.8" height="5.12" fill="#ffffff"/><rect x="401.80" y="356.55" width="8.8" height="5.12" fill="#ffffff"/><rect x="412.90" y="356.55" width="8.8" height="5.12" fill="#fe3a8c"/><rect x="390.70" y="361.66" width="8.8" height="5.12" fill="#ffffff"/><rect x="401.80" y="361.66" width="8.8" height="5.12" fill="#ffffff"/><rect x="412.90" y="361.66" width="8.8" height="5.12" fill="#fe3a8c"/><rect x="390.70" y="366.78" width="8.8" height="5.12" fill="#ffffff"/><rect x="401.80" y="366.78" width="8.8" height="5.12" fill="#ffffff"/><rect x="412.90" y="366.78" width="8.8" height="5.12" fill="#fe3a8c"/><rect x="390.70" y="371.89" width="8.8" height="5.12" fill="#ffffff"/><rect x="401.80" y="371.89" width="8.8" height="5.12" fill="#ffffff"/><rect x="412.90" y="371.89" width="8.8" height="5.12" fill="#fe3a8c"/><rect x="390.70" y="377.01" width="8.8" height="5.12" fill="#ffffff"/><rect x="401.80" y="377.01" width="8.8" height="5.12" fill="#ffffff"/><rect x="412.90" y="377.01" width="8.8" height="5.12" fill="#fe3a8c"/><rect x="390.70" y="382.12" width="8.8" height="5.12" fill="#ffffff"/><rect x="401.80" y="382.12" width="8.8" height="5.12" fill="#ffffff"/><rect x="412.90" y="382.12" width="8.8" height="5.12" fill="#fe3a8c"/><rect x="390.70" y="387.24" width="8.8" height="5.12" fill="#ffffff"/><rect x="401.80" y="387.24" width="8.8" height="5.12" fill="#ffffff"/><rect x="412.90" y="387.24" width="8.8" height="5.12" fill="#fe3a8c"/><rect x="390.70" y="392.35" width="8.8" height="5.12" fill="#ffffff"/><rect x="401.80" y="392.35" width="8.8" height="5.12" fill="#ffffff"/><rect x="412.90" y="392.35" width="8.8" height="5.12" fill="#fe3a8c"/><rect x="390.70" y="397.47" width="8.8" height="5.12" fill="#ffffff"/><rect x="401.80" y="397.47" width="8.8" height="5.12" fill="#ffffff"/><rect x="412.90" y="397.47" width="8.8" height="5.12" fill="#fe3a8c"/><rect x="390.70" y="402.58" width="8.8" height="5.12" fill="#ffffff"/><rect x="401.80" y="402.58" width="8.8" height="5.12" fill="#ffffff"/><rect x="412.90" y="402.58" width="8.8" height="5.12" fill="#fe3a8c"/><rect x="390.70" y="407.70" width="8.8" height="5.12" fill="#ffffff"/><rect x="401.80" y="407.70" width="8.8" height="5.12" fill="#ffffff"/><rect x="412.90" y="407.70" width="8.8" height="5.12" fill="#fe3a8c"/><rect x="390.70" y="412.81" width="8.8" height="5.12" fill="#ffffff"/><rect x="401.80" y="412.81" width="8.8" height="5.12" fill="#ffffff"/><rect x="412.90" y="412.81" width="8.8" height="5.12" fill="#fe3a8c"/><rect x="390.70" y="417.93" width="8.8" height="5.12" fill="#ffffff"/><rect x="401.80" y="417.93" width="8.8" height="5.12" fill="#ffffff"/><rect x="412.90" y="417.93" width="8.8" height="5.12" fill="#fe3a8c"/><rect x="390.70" y="423.04" width="8.8" height="5.12" fill="#ffffff"/><rect x="401.80" y="423.04" width="8.8" height="5.12" fill="#ffffff"/><rect x="412.90" y="423.04" width="8.8" height="5.12" fill="#fe3a8c"/><rect x="390.70" y="428.16" width="8.8" height="5.12" fill="#ffffff"/><rect x="401.80" y="428.16" width="8.8" height="5.12" fill="#ffffff"/><rect x="412.90" y="428.16" width="8.8" height="5.12" fill="#fe3a8c"/><rect x="390.70" y="433.27" width="8.8" height="5.12" fill="#ffffff"/><rect x="401.80" y="433.27" width="8.8" height="5.12" fill="#ffffff"/><rect x="412.90" y="433.27" width="8.8" height="5.12" fill="#fe3a8c"/><rect x="390.70" y="438.39" width="8.8" height="5.12" fill="#ffffff"/><rect x="401.80" y="438.39" width="8.8" height="5.12" fill="#ffffff"/><rect x="412.90" y="438.39" width="8.8" height="5.12" fill="#fe3a8c"/><rect x="390.70" y="443.50" width="8.8" height="5.12" fill="#ffffff"/><rect x="401.80" y="443.50" width="8.8" height="5.12" fill="#ffffff"/><rect x="412.90" y="443.50" width="8.8" height="5.12" fill="#fe3a8c"/><rect x="390.70" y="448.62" width="8.8" height="5.12" fill="#ffffff"/><rect x="401.80" y="448.62" width="8.8" height="5.12" fill="#ffffff"/><rect x="412.90" y="448.62" width="8.8" height="5.12" fill="#fe3a8c"/><rect x="390.70" y="453.73" width="8.8" height="5.12" fill="#ffffff"/><rect x="401.80" y="453.73" width="8.8" height="5.12" fill="#ffffff"/><rect x="412.90" y="453.73" width="8.8" height="5.12" fill="#fe3a8c"/><rect x="390.70" y="458.85" width="8.8" height="5.12" fill="#ffffff"/><rect x="401.80" y="458.85" width="8.8" height="5.12" fill="#ffffff"/><rect x="412.90" y="458.85" width="8.8" height="5.12" fill="#fe3a8c"/><rect x="390.70" y="463.96" width="8.8" height="5.12" fill="#ffffff"/><rect x="401.80" y="463.96" width="8.8" height="5.12" fill="#ffffff"/><rect x="412.90" y="463.96" width="8.8" height="5.12" fill="#fe3a8c"/><rect x="390.70" y="469.08" width="8.8" height="5.12" fill="#ffffff"/><rect x="401.80" y="469.08" width="8.8" height="5.12" fill="#ffffff"/><rect x="412.90" y="469.08" width="8.8" height="5.12" fill="#fe3a8c"/><rect x="390.70" y="474.19" width="8.8" height="5.12" fill="#ffffff"/><rect x="401.80" y="474.19" width="8.8" height="5.12" fill="#ffffff"/><rect x="412.90" y="474.19" width="8.8" height="5.12" fill="#fe3a8c"/><rect x="390.70" y="479.31" width="8.8" height="5.12" fill="#ffffff"/><rect x="401.80" y="479.31" width="8.8" height="5.12" fill="#ffffff"/><rect x="412.90" y="479.31" width="8.8" height="5.12" fill="#fe3a8c"/><rect x="390.70" y="484.42" width="8.8" height="5.12" fill="#ffffff"/><rect x="401.80" y="484.42" width="8.8" height="5.12" fill="#ffffff"/><rect x="412.90" y="484.42" width="8.8" height="5.12" fill="#fe3a8c"/><rect x="390.70" y="489.54" width="8.8" height="5.12" fill="#ffffff"/><rect x="401.80" y="489.54" width="8.8" height="5.12" fill="#ffffff"/><rect x="412.90" y="489.54" width="8.8" height="5.12" fill="#fe3a8c"/><rect x="390.70" y="494.65" width="8.8" height="5.12" fill="#ffffff"/><rect x="401.80" y="494.65" width="8.8" height="5.12" fill="#ffffff"/><rect x="412.90" y="494.65" width="8.8" height="5.12" fill="#fe3a8c"/><rect x="390.70" y="499.77" width="8.8" height="5.12" fill="#ffffff"/><rect x="401.80" y="499.77" width="8.8" height="5.12" fill="#ffffff"/><rect x="412.90" y="499.77" width="8.8" height="5.12" fill="#fe3a8c"/><rect x="390.70" y="504.88" width="8.8" height="5.12" fill="#ffffff"/><rect x="401.80" y="504.88" width="8.8" height="5.12" fill="#ffffff"/><rect x="412.90" y="504.88" width="8.8" height="5.12" fill="#fe3a8c"/><rect x="390.70" y="510.00" width="8.8" height="5.12" fill="#ffffff"/><rect x="401.80" y="510.00" width="8.8" height="5.12" fill="#ffffff"/><rect x="412.90" y="510.00" width="8.8" height="5.12" fill="#fe3a8c"/><rect x="390.70" y="515.11" width="8.8" height="5.12" fill="#ffffff"/><rect x="401.80" y="515.11" width="8.8" height="5.12" fill="#ffffff"/><rect x="412.90" y="515.11" width="8.8" height="5.12" fill="#fe3a8c"/><rect x="390.70" y="520.23" width="8.8" height="5.12" fill="#ffffff"/><rect x="401.80" y="520.23" width="8.8" height="5.12" fill="#ffffff"/><rect x="412.90" y="520.23" width="8.8" height="5.12" fill="#fe3a8c"/><rect x="390.70" y="525.34" width="8.8" height="5.12" fill="#ffffff"/><rect x="401.80" y="525.34" width="8.8" height="5.12" fill="#ffffff"/><rect x="412.90" y="525.34" width="8.8" height="5.12" fill="#fe3a8c"/><rect x="390.70" y="530.46" width="8.8" height="5.12" fill="#ffffff"/><rect x="401.80" y="530.46" width="8.8" height="5.12" fill="#ffffff"/><rect x="412.90" y="530.46" width="8.8" height="5.12" fill="#fe3a8c"/><rect x="390.70" y="535.57" width="8.8" height="5.12" fill="#ffffff"/><rect x="401.80" y="535.57" width="8.8" height="5.12" fill="#ffffff"/><rect x="412.90" y="535.57" width="8.8" height="5.12" fill="#fe3a8c"/></g>
<text x="533.30" y="38.71" font-size="5.3" fill="#444" font-style="italic">Cyp4a14</text>
<text x="533.30" y="43.82" font-size="5.3" fill="#444" font-style="italic">Cyp4a30b</text>
<text x="533.30" y="48.94" font-size="5.3" fill="#444" font-style="italic">Cyp4a10</text>
<text x="533.30" y="54.05" font-size="5.3" fill="#444" font-style="italic">Cyp8b1</text>
<text x="533.30" y="59.17" font-size="5.3" fill="#444" font-style="italic">Adipoq</text>
<text x="533.30" y="64.28" font-size="5.3" fill="#444" font-style="italic">Ehhadh</text>
<text x="533.30" y="69.40" font-size="5.3" fill="#444" font-style="italic">Ucp1</text>
<text x="533.30" y="74.51" font-size="5.3" fill="#444" font-style="italic">Cyp4a31</text>
<text x="533.30" y="79.63" font-size="5.3" fill="#444" font-style="italic">Cyp4a32</text>
<text x="533.30" y="84.74" font-size="5.3" fill="#444" font-style="italic">Acsl1</text>
<text x="533.30" y="89.86" font-size="5.3" fill="#444" font-style="italic">Cyp7a1</text>
<text x="533.30" y="94.97" font-size="5.3" fill="#444" font-style="italic">Ppara</text>
<text x="533.30" y="100.09" font-size="5.3" fill="#444" font-style="italic">Acox1</text>
<text x="533.30" y="105.20" font-size="5.3" fill="#444" font-style="italic">Sorbs1</text>
<text x="533.30" y="110.32" font-size="5.3" fill="#444" font-style="italic">Slc27a5</text>
<text x="533.30" y="115.43" font-size="5.3" fill="#444" font-style="italic">Cyp4a12a</text>
<text x="533.30" y="120.55" font-size="5.3" fill="#444" font-style="italic">Cpt1a</text>
<text x="533.30" y="125.66" font-size="5.3" fill="#444" font-style="italic">Fads2</text>
<text x="533.30" y="130.78" font-size="5.3" fill="#444" font-style="italic">Acaa1a</text>
<text x="533.30" y="135.89" font-size="5.3" fill="#444" font-style="italic">Rxra</text>
<text x="533.30" y="141.01" font-size="5.3" fill="#444" font-style="italic">Cpt2</text>
<text x="533.30" y="146.12" font-size="5.3" fill="#444" font-style="italic">Slc27a1</text>
<text x="533.30" y="151.24" font-size="5.3" fill="#444" font-style="italic">Cyp4a12b</text>
<text x="533.30" y="156.35" font-size="5.3" fill="#444" font-style="italic">Acaa1b</text>
<text x="533.30" y="161.47" font-size="5.3" fill="#444" font-style="italic">Dbi</text>
<text x="533.30" y="166.58" font-size="5.3" fill="#444" font-style="italic">Apoa5</text>
<text x="533.30" y="171.70" font-size="5.3" fill="#444" font-style="italic">Acadm</text>
<text x="533.30" y="176.81" font-size="5.3" fill="#444" font-style="italic">Slc27a2</text>
<text x="533.30" y="181.93" font-size="5.3" fill="#444" font-style="italic">Scp2</text>
<text x="533.30" y="187.04" font-size="5.3" fill="#444" font-style="italic">Pck1</text>
<text x="533.30" y="192.16" font-size="5.3" fill="#444" font-style="italic">Gk</text>
<text x="533.30" y="197.27" font-size="5.3" fill="#444" font-style="italic">Fabp1</text>
<text x="533.30" y="202.39" font-size="5.3" fill="#444" font-style="italic">Acadvl</text>
<text x="533.30" y="207.50" font-size="5.3" fill="#444" font-style="italic">Gcdh</text>
<text x="533.30" y="212.62" font-size="5.3" fill="#444" font-style="italic">Hadhb</text>
<text x="533.30" y="217.73" font-size="5.3" fill="#444" font-style="italic">Hadha</text>
<text x="533.30" y="222.85" font-size="5.3" fill="#444" font-style="italic">Acadsb</text>
<text x="533.30" y="227.96" font-size="5.3" fill="#444" font-style="italic">Aldh9a1</text>
<text x="533.30" y="233.08" font-size="5.3" fill="#444" font-style="italic">Eci2</text>
<text x="533.30" y="238.19" font-size="5.3" fill="#444" font-style="italic">Acaa2</text>
<text x="533.30" y="243.31" font-size="5.3" fill="#444" font-style="italic">Eci1</text>
<text x="533.30" y="248.42" font-size="5.3" fill="#444" font-style="italic">Acat1</text>
<text x="533.30" y="253.54" font-size="5.3" fill="#444" font-style="italic">Aldh7a1</text>
<text x="533.30" y="258.65" font-size="5.3" fill="#444" font-style="italic">Aldh3a2</text>
<text x="533.30" y="263.77" font-size="5.3" fill="#444" font-style="italic">Echs1</text>
<text x="533.30" y="268.88" font-size="5.3" fill="#444" font-style="italic">Acadl</text>
<text x="533.30" y="274.00" font-size="5.3" fill="#444" font-style="italic">Adh7</text>
<text x="533.30" y="279.11" font-size="5.3" fill="#444" font-style="italic">Adh5</text>
<text x="533.30" y="284.23" font-size="5.3" fill="#444" font-style="italic">Nudt7</text>
<text x="533.30" y="289.34" font-size="5.3" fill="#444" font-style="italic">Mpv17l</text>
<text x="533.30" y="294.46" font-size="5.3" fill="#444" font-style="italic">Agxt</text>
<text x="533.30" y="299.57" font-size="5.3" fill="#444" font-style="italic">Pxmp2</text>
<text x="533.30" y="304.69" font-size="5.3" fill="#444" font-style="italic">Acot8</text>
<text x="533.30" y="309.80" font-size="5.3" fill="#444" font-style="italic">Hacl1</text>
<text x="533.30" y="314.92" font-size="5.3" fill="#444" font-style="italic">Ephx2</text>
<text x="533.30" y="320.03" font-size="5.3" fill="#444" font-style="italic">Abcd3</text>
<text x="533.30" y="325.15" font-size="5.3" fill="#444" font-style="italic">Pex16</text>
<text x="533.30" y="330.26" font-size="5.3" fill="#444" font-style="italic">Pex11a</text>
<text x="533.30" y="335.38" font-size="5.3" fill="#444" font-style="italic">Dhrs4</text>
<text x="533.30" y="340.49" font-size="5.3" fill="#444" font-style="italic">Hmgcl</text>
<text x="533.30" y="345.61" font-size="5.3" fill="#444" font-style="italic">Pex26</text>
<text x="533.30" y="350.72" font-size="5.3" fill="#444" font-style="italic">Crat</text>
<text x="533.30" y="355.84" font-size="5.3" fill="#444" font-style="italic">Hsd17b4</text>
<text x="533.30" y="360.95" font-size="5.3" fill="#444" font-style="italic">Dao</text>
<text x="533.30" y="366.07" font-size="5.3" fill="#444" font-style="italic">Phyh</text>
<text x="533.30" y="371.18" font-size="5.3" fill="#444" font-style="italic">Pex1</text>
<text x="533.30" y="376.30" font-size="5.3" fill="#444" font-style="italic">Pex3</text>
<text x="533.30" y="381.41" font-size="5.3" fill="#444" font-style="italic">Hao1</text>
<text x="533.30" y="386.53" font-size="5.3" fill="#444" font-style="italic">Pex19</text>
<text x="533.30" y="391.64" font-size="5.3" fill="#444" font-style="italic">Abcd1</text>
<text x="533.30" y="396.76" font-size="5.3" fill="#444" font-style="italic">Acox2</text>
<text x="533.30" y="401.87" font-size="5.3" fill="#444" font-style="italic">Decr2</text>
<text x="533.30" y="406.99" font-size="5.3" fill="#444" font-style="italic">Amacr</text>
<text x="533.30" y="412.10" font-size="5.3" fill="#444" font-style="italic">Cat</text>
<text x="533.30" y="417.22" font-size="5.3" fill="#444" font-style="italic">Ech1</text>
<text x="533.30" y="422.33" font-size="5.3" fill="#444" font-style="italic">Mvk</text>
<text x="533.30" y="427.45" font-size="5.3" fill="#444" font-style="italic">Pex14</text>
<text x="533.30" y="432.56" font-size="5.3" fill="#444" font-style="italic">Mpv17l2</text>
<text x="533.30" y="437.68" font-size="5.3" fill="#444" font-style="italic">Xdh</text>
<text x="533.30" y="442.79" font-size="5.3" fill="#444" font-style="italic">Pex7</text>
<text x="533.30" y="447.91" font-size="5.3" fill="#444" font-style="italic">Pex5</text>
<text x="533.30" y="453.02" font-size="5.3" fill="#444" font-style="italic">Pex6</text>
<text x="533.30" y="458.14" font-size="5.3" fill="#444" font-style="italic">Pecr</text>
<text x="533.30" y="463.25" font-size="5.3" fill="#444" font-style="italic">Acnat1</text>
<text x="533.30" y="468.37" font-size="5.3" fill="#444" font-style="italic">Gstk1</text>
<text x="533.30" y="473.48" font-size="5.3" fill="#444" font-style="italic">Sod1</text>
<text x="533.30" y="478.60" font-size="5.3" fill="#444" font-style="italic">Paox</text>
<text x="533.30" y="483.71" font-size="5.3" fill="#444" font-style="italic">Nudt12</text>
<text x="533.30" y="488.83" font-size="5.3" fill="#444" font-style="italic">Acsl4</text>
<text x="533.30" y="493.94" font-size="5.3" fill="#444" font-style="italic">Pmvk</text>
<text x="533.30" y="499.06" font-size="5.3" fill="#444" font-style="italic">Pipox</text>
<text x="533.30" y="504.17" font-size="5.3" fill="#444" font-style="italic">Idh1</text>
<text x="533.30" y="509.29" font-size="5.3" fill="#444" font-style="italic">Mlycd</text>
<text x="533.30" y="514.40" font-size="5.3" fill="#444" font-style="italic">Acnat2</text>
<text x="533.30" y="519.52" font-size="5.3" fill="#444" font-style="italic">Pex13</text>
<text x="533.30" y="524.63" font-size="5.3" fill="#444" font-style="italic">Acox3</text>
<text x="533.30" y="529.75" font-size="5.3" fill="#444" font-style="italic">Abcd4</text>
<text x="533.30" y="534.86" font-size="5.3" fill="#444" font-style="italic">Baat</text>
<text x="533.30" y="539.98" font-size="5.3" fill="#444" font-style="italic">Gnpat</text>
<text transform="translate(397.3,545.5) rotate(-90)" font-size="9.1" text-anchor="end" textLength="89.9" lengthAdjust="spacingAndGlyphs">Fatty acid degradation</text>
<text transform="translate(408.6,545.5) rotate(-90)" font-size="9.1" text-anchor="end" textLength="98.1" lengthAdjust="spacingAndGlyphs">PPAR signalling pathway</text>
<text transform="translate(419.5,545.5) rotate(-90)" font-size="9.1" text-anchor="end" textLength="46.3" lengthAdjust="spacingAndGlyphs">Peroxisome</text>
<text transform="translate(434.2,545.5) rotate(-90)" font-size="8.9" text-anchor="end" textLength="41.4" lengthAdjust="spacingAndGlyphs">AAV-GFP-1</text>
<text transform="translate(447.3,545.5) rotate(-90)" font-size="8.9" text-anchor="end" textLength="41.4" lengthAdjust="spacingAndGlyphs">AAV-GFP-2</text>
<text transform="translate(460.5,545.5) rotate(-90)" font-size="8.9" text-anchor="end" textLength="41.4" lengthAdjust="spacingAndGlyphs">AAV-GFP-3</text>
<text transform="translate(473.7,545.5) rotate(-90)" font-size="8.9" text-anchor="end" textLength="41.4" lengthAdjust="spacingAndGlyphs">AAV-GFP-4</text>
<text transform="translate(486.8,545.5) rotate(-90)" font-size="8.9" text-anchor="end" textLength="47.9" lengthAdjust="spacingAndGlyphs">AAV-AGXT-1</text>
<text transform="translate(500.0,545.5) rotate(-90)" font-size="8.9" text-anchor="end" textLength="47.9" lengthAdjust="spacingAndGlyphs">AAV-AGXT-2</text>
<text transform="translate(513.1,545.5) rotate(-90)" font-size="8.9" text-anchor="end" textLength="47.9" lengthAdjust="spacingAndGlyphs">AAV-AGXT-3</text>
<text transform="translate(526.3,545.5) rotate(-90)" font-size="8.9" text-anchor="end" textLength="47.9" lengthAdjust="spacingAndGlyphs">AAV-AGXT-4</text>
<defs><linearGradient id="hmg" x1="0" y1="1" x2="0" y2="0"><stop offset="0.0000" stop-color="#4575b4"/><stop offset="0.1667" stop-color="#91bfdb"/><stop offset="0.3333" stop-color="#e0f3f8"/><stop offset="0.5000" stop-color="#ffffbf"/><stop offset="0.6667" stop-color="#fee090"/><stop offset="0.8333" stop-color="#fc8d59"/><stop offset="1.0000" stop-color="#d73027"/></linearGradient></defs>
<rect x="562.00" y="21.00" width="11.00" height="164.00" fill="url(#hmg)"/>
<text x="575.30" y="34.40" font-size="7.8">2</text>
<text x="575.30" y="70.00" font-size="7.8">1</text>
<text x="575.30" y="105.60" font-size="7.8">0</text>
<text x="575.30" y="141.20" font-size="7.8">−1</text>
<text x="575.30" y="176.80" font-size="7.8">−2</text>
<text x="587.00" y="27.90" font-size="8.6" textLength="24.50" lengthAdjust="spacingAndGlyphs">Group</text>
<rect x="587.80" y="33.10" width="7.40" height="7.40" fill="#0000ff" stroke="#9a9a9a" stroke-width="0.6"/>
<text x="600.10" y="39.60" font-size="8.4" textLength="43.60" lengthAdjust="spacingAndGlyphs">AAV−AGXT</text>
<rect x="587.80" y="47.30" width="7.40" height="7.40" fill="#ff0000" stroke="#9a9a9a" stroke-width="0.6"/>
<text x="600.10" y="53.80" font-size="8.4" textLength="37.50" lengthAdjust="spacingAndGlyphs">AAV−GFP</text>
<text x="587.00" y="71.80" font-size="8.8" textLength="90.00" lengthAdjust="spacingAndGlyphs">Fatty acid degradation</text>
<rect x="587.80" y="78.20" width="7.40" height="7.40" fill="#fe3a8c" stroke="#9a9a9a" stroke-width="0.6"/>
<text x="600.10" y="84.40" font-size="8.4" textLength="14.40" lengthAdjust="spacingAndGlyphs">Yes</text>
<rect x="587.80" y="91.90" width="7.40" height="7.40" fill="#ffffff" stroke="#9a9a9a" stroke-width="0.6"/>
<text x="600.10" y="98.10" font-size="8.4" textLength="10.80" lengthAdjust="spacingAndGlyphs">No</text>
<text x="587.00" y="115.80" font-size="8.8" textLength="98.00" lengthAdjust="spacingAndGlyphs">PPAR signalling pathway</text>
<rect x="587.80" y="122.20" width="7.40" height="7.40" fill="#fe3a8c" stroke="#9a9a9a" stroke-width="0.6"/>
<text x="600.10" y="128.40" font-size="8.4" textLength="14.40" lengthAdjust="spacingAndGlyphs">Yes</text>
<rect x="587.80" y="135.90" width="7.40" height="7.40" fill="#ffffff" stroke="#9a9a9a" stroke-width="0.6"/>
<text x="600.10" y="142.10" font-size="8.4" textLength="10.80" lengthAdjust="spacingAndGlyphs">No</text>
<text x="587.00" y="159.40" font-size="8.8" textLength="46.20" lengthAdjust="spacingAndGlyphs">Peroxisome</text>
<rect x="587.80" y="165.80" width="7.40" height="7.40" fill="#fe3a8c" stroke="#9a9a9a" stroke-width="0.6"/>
<text x="600.10" y="172.00" font-size="8.4" textLength="14.40" lengthAdjust="spacingAndGlyphs">Yes</text>
<rect x="587.80" y="179.50" width="7.40" height="7.40" fill="#ffffff" stroke="#9a9a9a" stroke-width="0.6"/>
<text x="600.10" y="185.70" font-size="8.4" textLength="10.80" lengthAdjust="spacingAndGlyphs">No</text>
</svg></body></html>
